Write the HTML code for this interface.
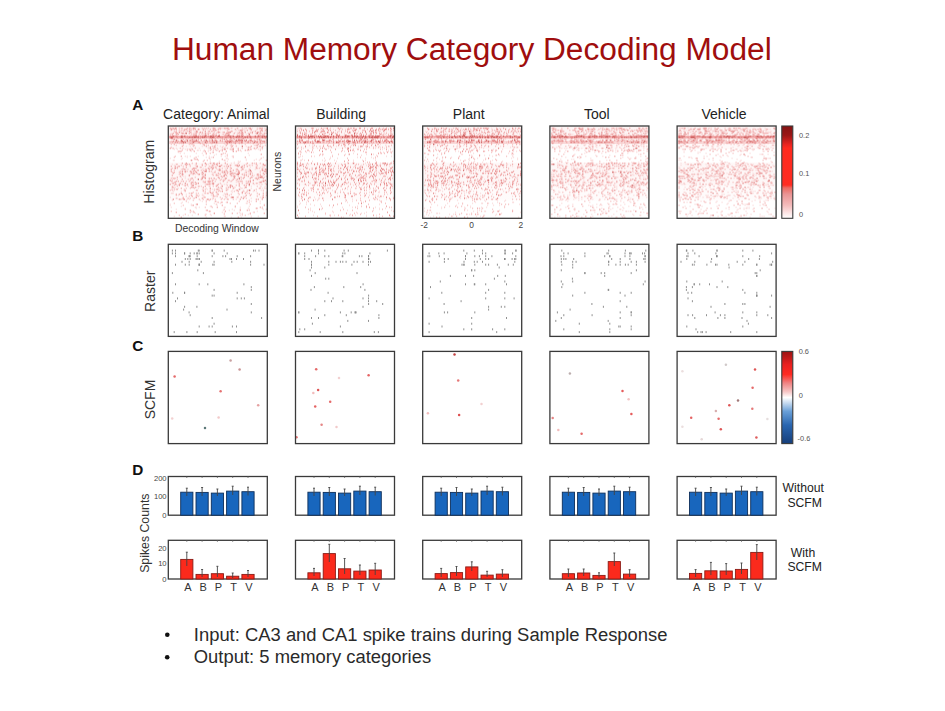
<!DOCTYPE html><html><head><meta charset="utf-8"><style>
html,body{margin:0;padding:0;background:#fff;}
body{width:945px;height:711px;overflow:hidden;position:relative;font-family:"Liberation Sans",sans-serif;}
svg{position:absolute;left:0;top:0;}
svg text{font-family:"Liberation Sans",sans-serif;}
</style></head><body>
<svg width="945" height="711" viewBox="0 0 945 711">
<defs>
<filter id="bl" x="-5%" y="-5%" width="110%" height="110%"><feGaussianBlur stdDeviation="0.8"/></filter>
<filter id="bl2" x="-50%" y="-50%" width="200%" height="200%"><feGaussianBlur stdDeviation="0.8"/></filter>
<linearGradient id="cbA" x1="0" y1="1" x2="0" y2="0">
<stop offset="0" stop-color="#ffffff"/>
<stop offset="0.06" stop-color="#fce4e4"/>
<stop offset="0.14" stop-color="#f4bcbc"/>
<stop offset="0.26" stop-color="#ea9494"/>
<stop offset="0.33" stop-color="#ec6a62"/>
<stop offset="0.36" stop-color="#ff2c22"/>
<stop offset="0.76" stop-color="#ff2a1f"/>
<stop offset="0.80" stop-color="#e82420"/>
<stop offset="0.90" stop-color="#9a1616"/>
<stop offset="1" stop-color="#841212"/>
</linearGradient>
<linearGradient id="cbC" x1="0" y1="1" x2="0" y2="0">
<stop offset="0" stop-color="#163e7a"/>
<stop offset="0.2" stop-color="#2a66b0"/>
<stop offset="0.35" stop-color="#6aa0d8"/>
<stop offset="0.45" stop-color="#cfe0f2"/>
<stop offset="0.5" stop-color="#ffffff"/>
<stop offset="0.56" stop-color="#f6c8c8"/>
<stop offset="0.66" stop-color="#f08080"/>
<stop offset="0.75" stop-color="#ff2a22"/>
<stop offset="0.86" stop-color="#e82020"/>
<stop offset="1" stop-color="#9a1414"/>
</linearGradient>
<linearGradient id="haze" x1="0" y1="0" x2="0" y2="1">
<stop offset="0.0000" stop-color="#e03030" stop-opacity="0.05"/>
<stop offset="0.0945" stop-color="#e03030" stop-opacity="0.05"/>
<stop offset="0.1011" stop-color="#e03030" stop-opacity="0.40"/>
<stop offset="0.1253" stop-color="#e03030" stop-opacity="0.40"/>
<stop offset="0.1319" stop-color="#e03030" stop-opacity="0.06"/>
<stop offset="0.1516" stop-color="#e03030" stop-opacity="0.06"/>
<stop offset="0.1582" stop-color="#e03030" stop-opacity="0.18"/>
<stop offset="0.1846" stop-color="#e03030" stop-opacity="0.18"/>
<stop offset="0.1912" stop-color="#e03030" stop-opacity="0.03"/>
<stop offset="0.2418" stop-color="#e03030" stop-opacity="0.03"/>
<stop offset="0.2527" stop-color="#e03030" stop-opacity="0.00"/>
<stop offset="0.3846" stop-color="#e03030" stop-opacity="0.00"/>
<stop offset="0.4066" stop-color="#e03030" stop-opacity="0.04"/>
<stop offset="0.6374" stop-color="#e03030" stop-opacity="0.04"/>
<stop offset="0.6593" stop-color="#e03030" stop-opacity="0.02"/>
<stop offset="0.7912" stop-color="#e03030" stop-opacity="0.02"/>
<stop offset="0.8242" stop-color="#e03030" stop-opacity="0.00"/>
<stop offset="1.0000" stop-color="#e03030" stop-opacity="0.00"/>
</linearGradient>
</defs>
<rect width="945" height="711" fill="#fff"/>

<text x="471.85" y="59.9" text-anchor="middle" font-size="31.65" fill="#a00e0e">Human Memory Category Decoding Model</text>
<text x="132.3" y="110" font-size="15.3" font-weight="bold" fill="#111">A</text>
<text x="132.3" y="241" font-size="15.3" font-weight="bold" fill="#111">B</text>
<text x="132.3" y="350.5" font-size="15.3" font-weight="bold" fill="#111">C</text>
<text x="132.3" y="475" font-size="15.3" font-weight="bold" fill="#111">D</text>
<text x="216.4" y="119" text-anchor="middle" font-size="14" fill="#222">Category: Animal</text>
<text x="341.1" y="119" text-anchor="middle" font-size="14" fill="#222">Building</text>
<text x="468.8" y="119" text-anchor="middle" font-size="14" fill="#222">Plant</text>
<text x="596.8" y="119" text-anchor="middle" font-size="14" fill="#222">Tool</text>
<text x="724.0" y="119" text-anchor="middle" font-size="14" fill="#222">Vehicle</text>
<text transform="translate(154.0,171.8) rotate(-90)" text-anchor="middle" font-size="14" fill="#333">Histogram</text>
<text transform="translate(155.0,291.3) rotate(-90)" text-anchor="middle" font-size="14" fill="#333">Raster</text>
<text transform="translate(155.0,399.5) rotate(-90)" text-anchor="middle" font-size="14" fill="#333">SCFM</text>
<text transform="translate(149.2,533.2) rotate(-90)" text-anchor="middle" font-size="12.3" fill="#333">Spikes Counts</text>
<text transform="translate(280.5,171.7) rotate(-90)" text-anchor="middle" font-size="10.5" fill="#333">Neurons</text>
<text x="216.8" y="232" text-anchor="middle" font-size="10.4" fill="#333">Decoding Window</text>
<text x="424.2" y="228.0" text-anchor="middle" font-size="8.4" fill="#444">-2</text>
<text x="471.6" y="228.0" text-anchor="middle" font-size="8.4" fill="#444">0</text>
<text x="520.8" y="228.0" text-anchor="middle" font-size="8.4" fill="#444">2</text>
<rect x="169.1" y="126.8" width="97.4" height="90.7" fill="url(#haze)"/>
<g>
<path fill="#fadcdc" d="M170.8 127.5h.9v1.8h-.9zM190.8 127.5h.9v1.8h-.9zM211.8 127.5h.9v1.8h-.9zM214.8 127.5h.9v1.8h-.9zM217.8 127.5h.9v1.8h-.9zM220.8 127.5h.9v1.8h-.9zM221.8 127.5h.9v1.8h-.9zM231.8 127.5h.9v1.8h-.9zM237.8 127.5h.9v1.8h-.9zM243.8 127.5h.9v1.8h-.9zM244.8 127.5h.9v1.8h-.9zM247.8 127.5h.9v1.8h-.9zM251.8 127.5h.9v1.8h-.9zM263.8 127.5h.9v1.8h-.9zM264.8 127.5h.9v1.8h-.9zM181.8 128.5h.9v1.8h-.9zM206.8 128.5h.9v1.8h-.9zM224.8 128.5h.9v1.8h-.9zM237.8 128.5h.9v1.8h-.9zM241.8 128.5h.9v1.8h-.9zM242.8 128.5h.9v1.8h-.9zM243.8 128.5h.9v1.8h-.9zM258.8 128.5h.9v1.8h-.9zM261.8 128.5h.9v1.8h-.9zM181.8 129.5h.9v1.8h-.9zM192.8 129.5h.9v1.8h-.9zM213.8 129.5h.9v1.8h-.9zM235.8 129.5h.9v1.8h-.9zM237.8 129.5h.9v1.8h-.9zM238.8 129.5h.9v1.8h-.9zM243.8 129.5h.9v1.8h-.9zM244.8 129.5h.9v1.8h-.9zM255.8 129.5h.9v1.8h-.9zM179.8 130.5h.9v1.8h-.9zM184.8 130.5h.9v1.8h-.9zM185.8 130.5h.9v1.8h-.9zM193.8 130.5h.9v1.8h-.9zM243.8 130.5h.9v1.8h-.9zM244.8 130.5h.9v1.8h-.9zM252.8 130.5h.9v1.8h-.9zM263.8 130.5h.9v1.8h-.9zM193.8 131.5h.9v1.8h-.9zM216.8 131.5h.9v1.8h-.9zM219.8 131.5h.9v1.8h-.9zM221.8 131.5h.9v1.8h-.9zM226.8 131.5h.9v1.8h-.9zM234.8 131.5h.9v1.8h-.9zM236.8 131.5h.9v1.8h-.9zM240.8 131.5h.9v1.8h-.9zM170.8 132.5h.9v1.8h-.9zM192.8 132.5h.9v1.8h-.9zM202.8 132.5h.9v1.8h-.9zM205.8 132.5h.9v1.8h-.9zM206.8 132.5h.9v1.8h-.9zM208.8 132.5h.9v1.8h-.9zM217.8 132.5h.9v1.8h-.9zM238.8 132.5h.9v1.8h-.9zM239.8 132.5h.9v1.8h-.9zM249.8 132.5h.9v1.8h-.9zM254.8 132.5h.9v1.8h-.9zM258.8 132.5h.9v1.8h-.9zM264.8 132.5h.9v1.8h-.9zM181.8 133.5h.9v1.8h-.9zM183.8 133.5h.9v1.8h-.9zM200.8 133.5h.9v1.8h-.9zM201.8 133.5h.9v1.8h-.9zM204.8 133.5h.9v1.8h-.9zM211.8 133.5h.9v1.8h-.9zM214.8 133.5h.9v1.8h-.9zM221.8 133.5h.9v1.8h-.9zM227.8 133.5h.9v1.8h-.9zM232.8 133.5h.9v1.8h-.9zM240.8 133.5h.9v1.8h-.9zM245.8 133.5h.9v1.8h-.9zM255.8 133.5h.9v1.8h-.9zM188.8 134.5h.9v1.8h-.9zM198.8 134.5h.9v1.8h-.9zM214.8 136.5h.9v1.8h-.9zM175.8 137.5h.9v1.8h-.9zM203.8 137.5h.9v1.8h-.9zM229.8 137.5h.9v1.8h-.9zM243.8 137.5h.9v1.8h-.9zM175.8 138.5h.9v1.8h-.9zM235.8 138.5h.9v1.8h-.9zM245.8 138.5h.9v1.8h-.9zM259.8 138.5h.9v1.8h-.9zM193.8 139.5h.9v1.8h-.9zM194.8 139.5h.9v1.8h-.9zM209.8 140.5h.9v1.8h-.9zM252.8 140.5h.9v1.8h-.9zM255.8 140.5h.9v1.8h-.9zM258.8 140.5h.9v1.8h-.9zM227.8 142.5h.9v1.8h-.9zM228.8 142.5h.9v1.8h-.9zM249.8 142.5h.9v1.8h-.9zM255.8 142.5h.9v1.8h-.9zM190.8 143.5h.9v1.8h-.9zM191.8 143.5h.9v1.8h-.9zM192.8 143.5h.9v1.8h-.9zM224.8 143.5h.9v1.8h-.9zM205.8 144.5h.9v1.8h-.9zM216.8 144.5h.9v1.8h-.9zM229.8 144.5h.9v1.8h-.9zM230.8 144.5h.9v1.8h-.9zM231.8 144.5h.9v1.8h-.9zM232.8 144.5h.9v1.8h-.9zM235.8 144.5h.9v1.8h-.9zM253.8 144.5h.9v1.8h-.9zM254.8 144.5h.9v1.8h-.9zM185.8 145.5h.9v1.8h-.9zM189.8 145.5h.9v1.8h-.9zM201.8 145.5h.9v1.8h-.9zM214.8 145.5h.9v1.8h-.9zM219.8 145.5h.9v1.8h-.9zM222.8 145.5h.9v1.8h-.9zM245.8 145.5h.9v1.8h-.9zM261.8 145.5h.9v1.8h-.9zM262.8 145.5h.9v1.8h-.9zM194.8 146.5h.9v1.8h-.9zM207.8 146.5h.9v1.8h-.9zM224.8 146.5h.9v1.8h-.9zM248.8 146.5h.9v1.8h-.9zM171.8 147.5h.9v1.8h-.9zM175.8 147.5h.9v1.8h-.9zM182.8 147.5h.9v1.8h-.9zM190.8 147.5h.9v1.8h-.9zM198.8 147.5h.9v1.8h-.9zM207.8 147.5h.9v1.8h-.9zM213.8 147.5h.9v1.8h-.9zM173.8 148.5h.9v1.8h-.9zM176.8 148.5h.9v1.8h-.9zM184.8 148.5h.9v1.8h-.9zM189.8 148.5h.9v1.8h-.9zM217.8 148.5h.9v1.8h-.9zM230.8 148.5h.9v1.8h-.9zM254.8 148.5h.9v1.8h-.9zM257.8 148.5h.9v1.8h-.9zM261.8 148.5h.9v1.8h-.9zM190.8 149.5h.9v1.8h-.9zM192.8 149.5h.9v1.8h-.9zM196.8 149.5h.9v1.8h-.9zM197.8 149.5h.9v1.8h-.9zM199.8 149.5h.9v1.8h-.9zM207.8 149.5h.9v1.8h-.9zM216.8 149.5h.9v1.8h-.9zM219.8 149.5h.9v1.8h-.9zM231.8 149.5h.9v1.8h-.9zM247.8 149.5h.9v1.8h-.9zM248.8 149.5h.9v1.8h-.9zM190.8 150.5h.9v1.8h-.9zM202.8 150.5h.9v1.8h-.9zM207.8 150.5h.9v1.8h-.9zM221.8 150.5h.9v1.8h-.9zM240.8 150.5h.9v1.8h-.9zM177.8 151.5h.9v1.8h-.9zM204.8 151.5h.9v1.8h-.9zM211.8 151.5h.9v1.8h-.9zM179.8 152.5h.9v1.8h-.9zM183.8 152.5h.9v1.8h-.9zM195.8 152.5h.9v1.8h-.9zM201.8 152.5h.9v1.8h-.9zM247.8 152.5h.9v1.8h-.9zM205.8 153.5h.9v1.8h-.9zM215.8 153.5h.9v1.8h-.9zM221.8 153.5h.9v1.8h-.9zM226.8 153.5h.9v1.8h-.9zM202.8 154.5h.9v1.8h-.9zM213.8 154.5h.9v1.8h-.9zM248.8 154.5h.9v1.8h-.9zM184.8 155.5h.9v1.8h-.9zM186.8 155.5h.9v1.8h-.9zM189.8 155.5h.9v1.8h-.9zM197.8 155.5h.9v1.8h-.9zM208.8 155.5h.9v1.8h-.9zM220.8 155.5h.9v1.8h-.9zM224.8 155.5h.9v1.8h-.9zM226.8 155.5h.9v1.8h-.9zM231.8 155.5h.9v1.8h-.9zM186.8 156.5h.9v1.8h-.9zM194.8 156.5h.9v1.8h-.9zM205.8 156.5h.9v1.8h-.9zM208.8 156.5h.9v1.8h-.9zM210.8 156.5h.9v1.8h-.9zM262.8 156.5h.9v1.8h-.9zM169.8 157.5h.9v1.8h-.9zM181.8 157.5h.9v1.8h-.9zM225.8 157.5h.9v1.8h-.9zM226.8 157.5h.9v1.8h-.9zM180.8 158.5h.9v1.8h-.9zM193.8 158.5h.9v1.8h-.9zM195.8 158.5h.9v1.8h-.9zM209.8 158.5h.9v1.8h-.9zM227.8 158.5h.9v1.8h-.9zM245.8 158.5h.9v1.8h-.9zM255.8 158.5h.9v1.8h-.9zM259.8 158.5h.9v1.8h-.9zM172.8 159.5h.9v1.8h-.9zM173.8 159.5h.9v1.8h-.9zM191.8 159.5h.9v1.8h-.9zM224.8 159.5h.9v1.8h-.9zM245.8 159.5h.9v1.8h-.9zM253.8 159.5h.9v1.8h-.9zM258.8 159.5h.9v1.8h-.9zM209.8 160.5h.9v1.8h-.9zM218.8 160.5h.9v1.8h-.9zM226.8 160.5h.9v1.8h-.9zM237.8 160.5h.9v1.8h-.9zM239.8 160.5h.9v1.8h-.9zM224.8 161.5h.9v1.8h-.9zM233.8 161.5h.9v1.8h-.9zM238.8 161.5h.9v1.8h-.9zM210.8 162.5h.9v1.8h-.9zM230.8 162.5h.9v1.8h-.9zM233.8 162.5h.9v1.8h-.9zM171.8 163.5h.9v1.8h-.9zM207.8 163.5h.9v1.8h-.9zM173.8 164.5h.9v1.8h-.9zM194.8 164.5h.9v1.8h-.9zM205.8 164.5h.9v1.8h-.9zM221.8 164.5h.9v1.8h-.9zM225.8 164.5h.9v1.8h-.9zM230.8 164.5h.9v1.8h-.9zM249.8 164.5h.9v1.8h-.9zM262.8 164.5h.9v1.8h-.9zM209.8 165.5h.9v1.8h-.9zM214.8 165.5h.9v1.8h-.9zM243.8 165.5h.9v1.8h-.9zM255.8 165.5h.9v1.8h-.9zM256.8 165.5h.9v1.8h-.9zM261.8 165.5h.9v1.8h-.9zM196.8 166.5h.9v1.8h-.9zM226.8 166.5h.9v1.8h-.9zM249.8 166.5h.9v1.8h-.9zM259.8 166.5h.9v1.8h-.9zM262.8 166.5h.9v1.8h-.9zM263.8 166.5h.9v1.8h-.9zM173.8 167.5h.9v1.8h-.9zM202.8 167.5h.9v1.8h-.9zM208.8 167.5h.9v1.8h-.9zM209.8 167.5h.9v1.8h-.9zM224.8 167.5h.9v1.8h-.9zM242.8 167.5h.9v1.8h-.9zM262.8 167.5h.9v1.8h-.9zM180.8 168.5h.9v1.8h-.9zM182.8 168.5h.9v1.8h-.9zM186.8 168.5h.9v1.8h-.9zM187.8 168.5h.9v1.8h-.9zM201.8 168.5h.9v1.8h-.9zM216.8 168.5h.9v1.8h-.9zM254.8 168.5h.9v1.8h-.9zM170.8 169.5h.9v1.8h-.9zM217.8 169.5h.9v1.8h-.9zM221.8 169.5h.9v1.8h-.9zM224.8 169.5h.9v1.8h-.9zM244.8 169.5h.9v1.8h-.9zM245.8 169.5h.9v1.8h-.9zM183.8 170.5h.9v1.8h-.9zM185.8 170.5h.9v1.8h-.9zM225.8 170.5h.9v1.8h-.9zM248.8 170.5h.9v1.8h-.9zM211.8 171.5h.9v1.8h-.9zM227.8 171.5h.9v1.8h-.9zM229.8 171.5h.9v1.8h-.9zM231.8 171.5h.9v1.8h-.9zM244.8 171.5h.9v1.8h-.9zM250.8 171.5h.9v1.8h-.9zM264.8 171.5h.9v1.8h-.9zM189.8 172.5h.9v1.8h-.9zM191.8 172.5h.9v1.8h-.9zM200.8 172.5h.9v1.8h-.9zM212.8 172.5h.9v1.8h-.9zM219.8 172.5h.9v1.8h-.9zM222.8 172.5h.9v1.8h-.9zM243.8 172.5h.9v1.8h-.9zM247.8 172.5h.9v1.8h-.9zM189.8 173.5h.9v1.8h-.9zM191.8 173.5h.9v1.8h-.9zM194.8 173.5h.9v1.8h-.9zM202.8 173.5h.9v1.8h-.9zM212.8 173.5h.9v1.8h-.9zM218.8 173.5h.9v1.8h-.9zM247.8 173.5h.9v1.8h-.9zM201.8 174.5h.9v1.8h-.9zM231.8 174.5h.9v1.8h-.9zM233.8 174.5h.9v1.8h-.9zM253.8 174.5h.9v1.8h-.9zM262.8 174.5h.9v1.8h-.9zM182.8 175.5h.9v1.8h-.9zM184.8 175.5h.9v1.8h-.9zM188.8 175.5h.9v1.8h-.9zM203.8 175.5h.9v1.8h-.9zM226.8 175.5h.9v1.8h-.9zM230.8 175.5h.9v1.8h-.9zM252.8 175.5h.9v1.8h-.9zM171.8 176.5h.9v1.8h-.9zM180.8 176.5h.9v1.8h-.9zM184.8 176.5h.9v1.8h-.9zM218.8 176.5h.9v1.8h-.9zM239.8 176.5h.9v1.8h-.9zM255.8 176.5h.9v1.8h-.9zM184.8 177.5h.9v1.8h-.9zM212.8 177.5h.9v1.8h-.9zM234.8 177.5h.9v1.8h-.9zM171.8 178.5h.9v1.8h-.9zM173.8 178.5h.9v1.8h-.9zM190.8 178.5h.9v1.8h-.9zM192.8 178.5h.9v1.8h-.9zM201.8 178.5h.9v1.8h-.9zM214.8 178.5h.9v1.8h-.9zM222.8 178.5h.9v1.8h-.9zM258.8 178.5h.9v1.8h-.9zM206.8 180.5h.9v1.8h-.9zM229.8 180.5h.9v1.8h-.9zM236.8 180.5h.9v1.8h-.9zM238.8 180.5h.9v1.8h-.9zM260.8 180.5h.9v1.8h-.9zM261.8 180.5h.9v1.8h-.9zM265.8 180.5h.9v1.8h-.9zM202.8 181.5h.9v1.8h-.9zM235.8 181.5h.9v1.8h-.9zM237.8 181.5h.9v1.8h-.9zM241.8 181.5h.9v1.8h-.9zM213.8 182.5h.9v1.8h-.9zM248.8 182.5h.9v1.8h-.9zM204.8 183.5h.9v1.8h-.9zM211.8 183.5h.9v1.8h-.9zM220.8 183.5h.9v1.8h-.9zM223.8 183.5h.9v1.8h-.9zM225.8 183.5h.9v1.8h-.9zM253.8 183.5h.9v1.8h-.9zM258.8 183.5h.9v1.8h-.9zM260.8 183.5h.9v1.8h-.9zM261.8 183.5h.9v1.8h-.9zM176.8 184.5h.9v1.8h-.9zM183.8 184.5h.9v1.8h-.9zM190.8 184.5h.9v1.8h-.9zM215.8 184.5h.9v1.8h-.9zM221.8 184.5h.9v1.8h-.9zM184.8 185.5h.9v1.8h-.9zM187.8 185.5h.9v1.8h-.9zM191.8 185.5h.9v1.8h-.9zM209.8 185.5h.9v1.8h-.9zM220.8 185.5h.9v1.8h-.9zM250.8 185.5h.9v1.8h-.9zM259.8 185.5h.9v1.8h-.9zM260.8 185.5h.9v1.8h-.9zM264.8 185.5h.9v1.8h-.9zM174.8 186.5h.9v1.8h-.9zM195.8 186.5h.9v1.8h-.9zM219.8 186.5h.9v1.8h-.9zM225.8 186.5h.9v1.8h-.9zM232.8 186.5h.9v1.8h-.9zM233.8 186.5h.9v1.8h-.9zM234.8 186.5h.9v1.8h-.9zM239.8 186.5h.9v1.8h-.9zM259.8 186.5h.9v1.8h-.9zM263.8 186.5h.9v1.8h-.9zM177.8 187.5h.9v1.8h-.9zM197.8 187.5h.9v1.8h-.9zM202.8 187.5h.9v1.8h-.9zM205.8 187.5h.9v1.8h-.9zM218.8 187.5h.9v1.8h-.9zM233.8 187.5h.9v1.8h-.9zM240.8 187.5h.9v1.8h-.9zM241.8 187.5h.9v1.8h-.9zM243.8 187.5h.9v1.8h-.9zM250.8 187.5h.9v1.8h-.9zM261.8 187.5h.9v1.8h-.9zM263.8 187.5h.9v1.8h-.9zM264.8 187.5h.9v1.8h-.9zM265.8 187.5h.9v1.8h-.9zM170.8 188.5h.9v1.8h-.9zM201.8 188.5h.9v1.8h-.9zM206.8 188.5h.9v1.8h-.9zM209.8 188.5h.9v1.8h-.9zM211.8 188.5h.9v1.8h-.9zM227.8 188.5h.9v1.8h-.9zM239.8 188.5h.9v1.8h-.9zM173.8 189.5h.9v1.8h-.9zM226.8 189.5h.9v1.8h-.9zM231.8 189.5h.9v1.8h-.9zM242.8 189.5h.9v1.8h-.9zM260.8 189.5h.9v1.8h-.9zM172.8 190.5h.9v1.8h-.9zM180.8 190.5h.9v1.8h-.9zM208.8 190.5h.9v1.8h-.9zM215.8 190.5h.9v1.8h-.9zM230.8 190.5h.9v1.8h-.9zM243.8 190.5h.9v1.8h-.9zM252.8 190.5h.9v1.8h-.9zM255.8 190.5h.9v1.8h-.9zM262.8 190.5h.9v1.8h-.9zM204.8 191.5h.9v1.8h-.9zM211.8 191.5h.9v1.8h-.9zM231.8 191.5h.9v1.8h-.9zM170.8 192.5h.9v1.8h-.9zM171.8 192.5h.9v1.8h-.9zM172.8 192.5h.9v1.8h-.9zM203.8 192.5h.9v1.8h-.9zM223.8 192.5h.9v1.8h-.9zM225.8 192.5h.9v1.8h-.9zM226.8 192.5h.9v1.8h-.9zM246.8 192.5h.9v1.8h-.9zM185.8 193.5h.9v1.8h-.9zM201.8 193.5h.9v1.8h-.9zM225.8 193.5h.9v1.8h-.9zM177.8 194.5h.9v1.8h-.9zM181.8 194.5h.9v1.8h-.9zM198.8 194.5h.9v1.8h-.9zM201.8 194.5h.9v1.8h-.9zM202.8 194.5h.9v1.8h-.9zM210.8 194.5h.9v1.8h-.9zM215.8 194.5h.9v1.8h-.9zM222.8 194.5h.9v1.8h-.9zM256.8 194.5h.9v1.8h-.9zM203.8 195.5h.9v1.8h-.9zM214.8 195.5h.9v1.8h-.9zM215.8 195.5h.9v1.8h-.9zM226.8 195.5h.9v1.8h-.9zM237.8 195.5h.9v1.8h-.9zM242.8 195.5h.9v1.8h-.9zM261.8 195.5h.9v1.8h-.9zM169.8 196.5h.9v1.8h-.9zM194.8 196.5h.9v1.8h-.9zM202.8 196.5h.9v1.8h-.9zM237.8 196.5h.9v1.8h-.9zM259.8 196.5h.9v1.8h-.9zM264.8 196.5h.9v1.8h-.9zM176.8 197.5h.9v1.8h-.9zM181.8 197.5h.9v1.8h-.9zM186.8 197.5h.9v1.8h-.9zM192.8 197.5h.9v1.8h-.9zM211.8 197.5h.9v1.8h-.9zM224.8 197.5h.9v1.8h-.9zM226.8 197.5h.9v1.8h-.9zM250.8 197.5h.9v1.8h-.9zM180.8 198.5h.9v1.8h-.9zM186.8 198.5h.9v1.8h-.9zM188.8 198.5h.9v1.8h-.9zM211.8 198.5h.9v1.8h-.9zM235.8 198.5h.9v1.8h-.9zM171.8 199.5h.9v1.8h-.9zM185.8 199.5h.9v1.8h-.9zM199.8 199.5h.9v1.8h-.9zM205.8 199.5h.9v1.8h-.9zM201.8 200.5h.9v1.8h-.9zM215.8 200.5h.9v1.8h-.9zM250.8 200.5h.9v1.8h-.9zM259.8 200.5h.9v1.8h-.9zM181.8 201.5h.9v1.8h-.9zM187.8 201.5h.9v1.8h-.9zM205.8 201.5h.9v1.8h-.9zM216.8 201.5h.9v1.8h-.9zM225.8 201.5h.9v1.8h-.9zM180.8 202.5h.9v1.8h-.9zM213.8 202.5h.9v1.8h-.9zM219.8 202.5h.9v1.8h-.9zM245.8 202.5h.9v1.8h-.9zM246.8 202.5h.9v1.8h-.9zM259.8 202.5h.9v1.8h-.9zM169.8 203.5h.9v1.8h-.9zM190.8 203.5h.9v1.8h-.9zM263.8 203.5h.9v1.8h-.9zM169.8 204.5h.9v1.8h-.9zM190.8 204.5h.9v1.8h-.9zM191.8 204.5h.9v1.8h-.9zM216.8 204.5h.9v1.8h-.9zM180.8 205.5h.9v1.8h-.9zM209.8 205.5h.9v1.8h-.9zM248.8 205.5h.9v1.8h-.9zM170.8 206.5h.9v1.8h-.9zM194.8 206.5h.9v1.8h-.9zM195.8 206.5h.9v1.8h-.9zM198.8 206.5h.9v1.8h-.9zM223.8 206.5h.9v1.8h-.9zM224.8 206.5h.9v1.8h-.9zM234.8 206.5h.9v1.8h-.9zM239.8 206.5h.9v1.8h-.9zM184.8 207.5h.9v1.8h-.9zM195.8 207.5h.9v1.8h-.9zM247.8 207.5h.9v1.8h-.9zM175.8 208.5h.9v1.8h-.9zM231.8 208.5h.9v1.8h-.9zM248.8 208.5h.9v1.8h-.9zM262.8 208.5h.9v1.8h-.9zM222.8 209.5h.9v1.8h-.9zM228.8 209.5h.9v1.8h-.9zM233.8 209.5h.9v1.8h-.9zM190.8 210.5h.9v1.8h-.9zM256.8 210.5h.9v1.8h-.9zM192.8 211.5h.9v1.8h-.9zM221.8 211.5h.9v1.8h-.9zM238.8 211.5h.9v1.8h-.9zM252.8 211.5h.9v1.8h-.9zM194.8 212.5h.9v1.8h-.9zM239.8 212.5h.9v1.8h-.9zM241.8 212.5h.9v1.8h-.9zM204.8 213.5h.9v1.8h-.9zM205.8 213.5h.9v1.8h-.9zM209.8 213.5h.9v1.8h-.9zM247.8 213.5h.9v1.8h-.9zM249.8 213.5h.9v1.8h-.9zM182.8 214.5h.9v1.8h-.9zM187.8 214.5h.9v1.8h-.9zM191.8 214.5h.9v1.8h-.9zM210.8 214.5h.9v1.8h-.9zM239.8 214.5h.9v1.8h-.9zM241.8 214.5h.9v1.8h-.9zM173.8 215.5h.9v1.8h-.9zM223.8 215.5h.9v1.8h-.9zM224.8 215.5h.9v1.8h-.9zM250.8 215.5h.9v1.8h-.9zM257.8 215.5h.9v1.8h-.9zM205.8 216.5h.9v1.8h-.9zM230.8 216.5h.9v1.8h-.9zM240.8 216.5h.9v1.8h-.9zM250.8 216.5h.9v1.8h-.9z"/>
<path fill="#f5c0c0" d="M171.8 127.5h.9v1.8h-.9zM178.8 127.5h.9v1.8h-.9zM180.8 127.5h.9v1.8h-.9zM181.8 127.5h.9v1.8h-.9zM189.8 127.5h.9v1.8h-.9zM194.8 127.5h.9v1.8h-.9zM201.8 127.5h.9v1.8h-.9zM203.8 127.5h.9v1.8h-.9zM205.8 127.5h.9v1.8h-.9zM207.8 127.5h.9v1.8h-.9zM218.8 127.5h.9v1.8h-.9zM224.8 127.5h.9v1.8h-.9zM225.8 127.5h.9v1.8h-.9zM230.8 127.5h.9v1.8h-.9zM241.8 127.5h.9v1.8h-.9zM245.8 127.5h.9v1.8h-.9zM248.8 127.5h.9v1.8h-.9zM256.8 127.5h.9v1.8h-.9zM258.8 127.5h.9v1.8h-.9zM260.8 127.5h.9v1.8h-.9zM171.8 128.5h.9v1.8h-.9zM178.8 128.5h.9v1.8h-.9zM183.8 128.5h.9v1.8h-.9zM184.8 128.5h.9v1.8h-.9zM190.8 128.5h.9v1.8h-.9zM192.8 128.5h.9v1.8h-.9zM198.8 128.5h.9v1.8h-.9zM204.8 128.5h.9v1.8h-.9zM212.8 128.5h.9v1.8h-.9zM213.8 128.5h.9v1.8h-.9zM219.8 128.5h.9v1.8h-.9zM228.8 128.5h.9v1.8h-.9zM249.8 128.5h.9v1.8h-.9zM256.8 128.5h.9v1.8h-.9zM170.8 129.5h.9v1.8h-.9zM175.8 129.5h.9v1.8h-.9zM178.8 129.5h.9v1.8h-.9zM180.8 129.5h.9v1.8h-.9zM186.8 129.5h.9v1.8h-.9zM189.8 129.5h.9v1.8h-.9zM190.8 129.5h.9v1.8h-.9zM202.8 129.5h.9v1.8h-.9zM215.8 129.5h.9v1.8h-.9zM226.8 129.5h.9v1.8h-.9zM250.8 129.5h.9v1.8h-.9zM264.8 129.5h.9v1.8h-.9zM265.8 129.5h.9v1.8h-.9zM173.8 130.5h.9v1.8h-.9zM175.8 130.5h.9v1.8h-.9zM182.8 130.5h.9v1.8h-.9zM186.8 130.5h.9v1.8h-.9zM207.8 130.5h.9v1.8h-.9zM210.8 130.5h.9v1.8h-.9zM211.8 130.5h.9v1.8h-.9zM213.8 130.5h.9v1.8h-.9zM217.8 130.5h.9v1.8h-.9zM226.8 130.5h.9v1.8h-.9zM231.8 130.5h.9v1.8h-.9zM261.8 130.5h.9v1.8h-.9zM265.8 130.5h.9v1.8h-.9zM174.8 131.5h.9v1.8h-.9zM180.8 131.5h.9v1.8h-.9zM190.8 131.5h.9v1.8h-.9zM195.8 131.5h.9v1.8h-.9zM196.8 131.5h.9v1.8h-.9zM207.8 131.5h.9v1.8h-.9zM213.8 131.5h.9v1.8h-.9zM222.8 131.5h.9v1.8h-.9zM249.8 131.5h.9v1.8h-.9zM259.8 131.5h.9v1.8h-.9zM175.8 132.5h.9v1.8h-.9zM180.8 132.5h.9v1.8h-.9zM190.8 132.5h.9v1.8h-.9zM194.8 132.5h.9v1.8h-.9zM198.8 132.5h.9v1.8h-.9zM201.8 132.5h.9v1.8h-.9zM207.8 132.5h.9v1.8h-.9zM209.8 132.5h.9v1.8h-.9zM212.8 132.5h.9v1.8h-.9zM215.8 132.5h.9v1.8h-.9zM237.8 132.5h.9v1.8h-.9zM241.8 132.5h.9v1.8h-.9zM242.8 132.5h.9v1.8h-.9zM247.8 132.5h.9v1.8h-.9zM251.8 132.5h.9v1.8h-.9zM255.8 132.5h.9v1.8h-.9zM260.8 132.5h.9v1.8h-.9zM169.8 133.5h.9v1.8h-.9zM190.8 133.5h.9v1.8h-.9zM192.8 133.5h.9v1.8h-.9zM193.8 133.5h.9v1.8h-.9zM198.8 133.5h.9v1.8h-.9zM213.8 133.5h.9v1.8h-.9zM222.8 133.5h.9v1.8h-.9zM224.8 133.5h.9v1.8h-.9zM236.8 133.5h.9v1.8h-.9zM238.8 133.5h.9v1.8h-.9zM258.8 133.5h.9v1.8h-.9zM261.8 133.5h.9v1.8h-.9zM263.8 133.5h.9v1.8h-.9zM171.8 134.5h.9v1.8h-.9zM176.8 134.5h.9v1.8h-.9zM190.8 134.5h.9v1.8h-.9zM192.8 134.5h.9v1.8h-.9zM202.8 134.5h.9v1.8h-.9zM213.8 134.5h.9v1.8h-.9zM226.8 134.5h.9v1.8h-.9zM236.8 134.5h.9v1.8h-.9zM238.8 134.5h.9v1.8h-.9zM248.8 134.5h.9v1.8h-.9zM202.8 135.5h.9v1.8h-.9zM198.8 136.5h.9v1.8h-.9zM177.8 137.5h.9v1.8h-.9zM192.8 137.5h.9v1.8h-.9zM197.8 137.5h.9v1.8h-.9zM208.8 137.5h.9v1.8h-.9zM217.8 137.5h.9v1.8h-.9zM259.8 137.5h.9v1.8h-.9zM172.8 138.5h.9v1.8h-.9zM185.8 138.5h.9v1.8h-.9zM193.8 138.5h.9v1.8h-.9zM195.8 138.5h.9v1.8h-.9zM240.8 138.5h.9v1.8h-.9zM176.8 139.5h.9v1.8h-.9zM181.8 139.5h.9v1.8h-.9zM184.8 139.5h.9v1.8h-.9zM188.8 139.5h.9v1.8h-.9zM190.8 139.5h.9v1.8h-.9zM204.8 139.5h.9v1.8h-.9zM209.8 139.5h.9v1.8h-.9zM213.8 139.5h.9v1.8h-.9zM225.8 139.5h.9v1.8h-.9zM248.8 139.5h.9v1.8h-.9zM258.8 139.5h.9v1.8h-.9zM259.8 139.5h.9v1.8h-.9zM170.8 140.5h.9v1.8h-.9zM189.8 140.5h.9v1.8h-.9zM190.8 140.5h.9v1.8h-.9zM202.8 140.5h.9v1.8h-.9zM204.8 140.5h.9v1.8h-.9zM219.8 140.5h.9v1.8h-.9zM225.8 140.5h.9v1.8h-.9zM249.8 140.5h.9v1.8h-.9zM169.8 141.5h.9v1.8h-.9zM178.8 141.5h.9v1.8h-.9zM179.8 141.5h.9v1.8h-.9zM183.8 141.5h.9v1.8h-.9zM188.8 141.5h.9v1.8h-.9zM190.8 141.5h.9v1.8h-.9zM193.8 141.5h.9v1.8h-.9zM201.8 141.5h.9v1.8h-.9zM233.8 141.5h.9v1.8h-.9zM234.8 141.5h.9v1.8h-.9zM235.8 141.5h.9v1.8h-.9zM237.8 141.5h.9v1.8h-.9zM265.8 141.5h.9v1.8h-.9zM178.8 142.5h.9v1.8h-.9zM180.8 142.5h.9v1.8h-.9zM190.8 142.5h.9v1.8h-.9zM201.8 142.5h.9v1.8h-.9zM210.8 142.5h.9v1.8h-.9zM211.8 142.5h.9v1.8h-.9zM215.8 142.5h.9v1.8h-.9zM223.8 142.5h.9v1.8h-.9zM240.8 142.5h.9v1.8h-.9zM241.8 142.5h.9v1.8h-.9zM259.8 142.5h.9v1.8h-.9zM260.8 142.5h.9v1.8h-.9zM261.8 142.5h.9v1.8h-.9zM170.8 143.5h.9v1.8h-.9zM188.8 143.5h.9v1.8h-.9zM202.8 143.5h.9v1.8h-.9zM203.8 143.5h.9v1.8h-.9zM226.8 143.5h.9v1.8h-.9zM230.8 143.5h.9v1.8h-.9zM244.8 143.5h.9v1.8h-.9zM259.8 143.5h.9v1.8h-.9zM175.8 144.5h.9v1.8h-.9zM182.8 144.5h.9v1.8h-.9zM192.8 144.5h.9v1.8h-.9zM193.8 144.5h.9v1.8h-.9zM207.8 144.5h.9v1.8h-.9zM214.8 144.5h.9v1.8h-.9zM255.8 144.5h.9v1.8h-.9zM264.8 144.5h.9v1.8h-.9zM192.8 145.5h.9v1.8h-.9zM211.8 145.5h.9v1.8h-.9zM230.8 145.5h.9v1.8h-.9zM235.8 145.5h.9v1.8h-.9zM258.8 145.5h.9v1.8h-.9zM170.8 146.5h.9v1.8h-.9zM213.8 146.5h.9v1.8h-.9zM214.8 146.5h.9v1.8h-.9zM221.8 146.5h.9v1.8h-.9zM230.8 146.5h.9v1.8h-.9zM249.8 146.5h.9v1.8h-.9zM172.8 147.5h.9v1.8h-.9zM179.8 147.5h.9v1.8h-.9zM194.8 147.5h.9v1.8h-.9zM212.8 147.5h.9v1.8h-.9zM216.8 147.5h.9v1.8h-.9zM223.8 147.5h.9v1.8h-.9zM226.8 147.5h.9v1.8h-.9zM232.8 147.5h.9v1.8h-.9zM237.8 147.5h.9v1.8h-.9zM241.8 147.5h.9v1.8h-.9zM255.8 147.5h.9v1.8h-.9zM261.8 147.5h.9v1.8h-.9zM181.8 148.5h.9v1.8h-.9zM186.8 148.5h.9v1.8h-.9zM188.8 148.5h.9v1.8h-.9zM210.8 148.5h.9v1.8h-.9zM214.8 148.5h.9v1.8h-.9zM221.8 148.5h.9v1.8h-.9zM229.8 148.5h.9v1.8h-.9zM231.8 148.5h.9v1.8h-.9zM249.8 148.5h.9v1.8h-.9zM250.8 148.5h.9v1.8h-.9zM259.8 148.5h.9v1.8h-.9zM181.8 149.5h.9v1.8h-.9zM186.8 149.5h.9v1.8h-.9zM203.8 149.5h.9v1.8h-.9zM209.8 149.5h.9v1.8h-.9zM212.8 149.5h.9v1.8h-.9zM215.8 149.5h.9v1.8h-.9zM239.8 149.5h.9v1.8h-.9zM246.8 149.5h.9v1.8h-.9zM259.8 149.5h.9v1.8h-.9zM177.8 150.5h.9v1.8h-.9zM178.8 150.5h.9v1.8h-.9zM179.8 150.5h.9v1.8h-.9zM180.8 150.5h.9v1.8h-.9zM209.8 152.5h.9v1.8h-.9zM222.8 152.5h.9v1.8h-.9zM224.8 152.5h.9v1.8h-.9zM226.8 154.5h.9v1.8h-.9zM174.8 155.5h.9v1.8h-.9zM232.8 155.5h.9v1.8h-.9zM173.8 156.5h.9v1.8h-.9zM195.8 156.5h.9v1.8h-.9zM232.8 156.5h.9v1.8h-.9zM193.8 157.5h.9v1.8h-.9zM208.8 157.5h.9v1.8h-.9zM260.8 157.5h.9v1.8h-.9zM194.8 158.5h.9v1.8h-.9zM197.8 159.5h.9v1.8h-.9zM203.8 159.5h.9v1.8h-.9zM206.8 159.5h.9v1.8h-.9zM223.8 159.5h.9v1.8h-.9zM202.8 160.5h.9v1.8h-.9zM191.8 162.5h.9v1.8h-.9zM216.8 162.5h.9v1.8h-.9zM237.8 162.5h.9v1.8h-.9zM253.8 162.5h.9v1.8h-.9zM259.8 162.5h.9v1.8h-.9zM175.8 163.5h.9v1.8h-.9zM176.8 163.5h.9v1.8h-.9zM195.8 163.5h.9v1.8h-.9zM201.8 163.5h.9v1.8h-.9zM245.8 163.5h.9v1.8h-.9zM180.8 164.5h.9v1.8h-.9zM189.8 164.5h.9v1.8h-.9zM212.8 164.5h.9v1.8h-.9zM234.8 164.5h.9v1.8h-.9zM235.8 164.5h.9v1.8h-.9zM248.8 164.5h.9v1.8h-.9zM251.8 164.5h.9v1.8h-.9zM256.8 164.5h.9v1.8h-.9zM177.8 165.5h.9v1.8h-.9zM182.8 165.5h.9v1.8h-.9zM189.8 165.5h.9v1.8h-.9zM195.8 165.5h.9v1.8h-.9zM204.8 165.5h.9v1.8h-.9zM208.8 165.5h.9v1.8h-.9zM211.8 165.5h.9v1.8h-.9zM223.8 165.5h.9v1.8h-.9zM225.8 165.5h.9v1.8h-.9zM236.8 165.5h.9v1.8h-.9zM174.8 166.5h.9v1.8h-.9zM199.8 166.5h.9v1.8h-.9zM200.8 166.5h.9v1.8h-.9zM214.8 166.5h.9v1.8h-.9zM215.8 166.5h.9v1.8h-.9zM229.8 166.5h.9v1.8h-.9zM241.8 166.5h.9v1.8h-.9zM243.8 166.5h.9v1.8h-.9zM171.8 167.5h.9v1.8h-.9zM176.8 167.5h.9v1.8h-.9zM182.8 167.5h.9v1.8h-.9zM194.8 167.5h.9v1.8h-.9zM195.8 167.5h.9v1.8h-.9zM215.8 167.5h.9v1.8h-.9zM221.8 167.5h.9v1.8h-.9zM241.8 167.5h.9v1.8h-.9zM255.8 167.5h.9v1.8h-.9zM256.8 167.5h.9v1.8h-.9zM258.8 167.5h.9v1.8h-.9zM261.8 167.5h.9v1.8h-.9zM181.8 168.5h.9v1.8h-.9zM184.8 168.5h.9v1.8h-.9zM193.8 168.5h.9v1.8h-.9zM204.8 168.5h.9v1.8h-.9zM205.8 168.5h.9v1.8h-.9zM219.8 168.5h.9v1.8h-.9zM229.8 168.5h.9v1.8h-.9zM235.8 168.5h.9v1.8h-.9zM242.8 168.5h.9v1.8h-.9zM248.8 168.5h.9v1.8h-.9zM265.8 168.5h.9v1.8h-.9zM173.8 169.5h.9v1.8h-.9zM196.8 169.5h.9v1.8h-.9zM200.8 169.5h.9v1.8h-.9zM202.8 169.5h.9v1.8h-.9zM237.8 169.5h.9v1.8h-.9zM240.8 169.5h.9v1.8h-.9zM262.8 169.5h.9v1.8h-.9zM179.8 170.5h.9v1.8h-.9zM186.8 170.5h.9v1.8h-.9zM190.8 170.5h.9v1.8h-.9zM203.8 170.5h.9v1.8h-.9zM210.8 170.5h.9v1.8h-.9zM214.8 170.5h.9v1.8h-.9zM221.8 170.5h.9v1.8h-.9zM226.8 170.5h.9v1.8h-.9zM230.8 170.5h.9v1.8h-.9zM235.8 170.5h.9v1.8h-.9zM238.8 170.5h.9v1.8h-.9zM247.8 170.5h.9v1.8h-.9zM249.8 170.5h.9v1.8h-.9zM259.8 170.5h.9v1.8h-.9zM171.8 171.5h.9v1.8h-.9zM178.8 171.5h.9v1.8h-.9zM184.8 171.5h.9v1.8h-.9zM213.8 171.5h.9v1.8h-.9zM214.8 171.5h.9v1.8h-.9zM224.8 171.5h.9v1.8h-.9zM259.8 171.5h.9v1.8h-.9zM190.8 172.5h.9v1.8h-.9zM196.8 172.5h.9v1.8h-.9zM224.8 172.5h.9v1.8h-.9zM229.8 172.5h.9v1.8h-.9zM232.8 172.5h.9v1.8h-.9zM233.8 172.5h.9v1.8h-.9zM234.8 172.5h.9v1.8h-.9zM237.8 172.5h.9v1.8h-.9zM251.8 172.5h.9v1.8h-.9zM178.8 173.5h.9v1.8h-.9zM182.8 173.5h.9v1.8h-.9zM192.8 173.5h.9v1.8h-.9zM197.8 173.5h.9v1.8h-.9zM211.8 173.5h.9v1.8h-.9zM215.8 173.5h.9v1.8h-.9zM219.8 173.5h.9v1.8h-.9zM232.8 173.5h.9v1.8h-.9zM235.8 173.5h.9v1.8h-.9zM243.8 173.5h.9v1.8h-.9zM245.8 173.5h.9v1.8h-.9zM259.8 173.5h.9v1.8h-.9zM181.8 174.5h.9v1.8h-.9zM212.8 174.5h.9v1.8h-.9zM216.8 174.5h.9v1.8h-.9zM217.8 174.5h.9v1.8h-.9zM256.8 174.5h.9v1.8h-.9zM222.8 175.5h.9v1.8h-.9zM232.8 175.5h.9v1.8h-.9zM234.8 175.5h.9v1.8h-.9zM237.8 175.5h.9v1.8h-.9zM261.8 175.5h.9v1.8h-.9zM265.8 175.5h.9v1.8h-.9zM194.8 176.5h.9v1.8h-.9zM202.8 176.5h.9v1.8h-.9zM203.8 176.5h.9v1.8h-.9zM204.8 176.5h.9v1.8h-.9zM221.8 176.5h.9v1.8h-.9zM240.8 176.5h.9v1.8h-.9zM251.8 176.5h.9v1.8h-.9zM258.8 176.5h.9v1.8h-.9zM263.8 176.5h.9v1.8h-.9zM170.8 177.5h.9v1.8h-.9zM172.8 177.5h.9v1.8h-.9zM173.8 177.5h.9v1.8h-.9zM174.8 177.5h.9v1.8h-.9zM190.8 177.5h.9v1.8h-.9zM233.8 177.5h.9v1.8h-.9zM254.8 177.5h.9v1.8h-.9zM176.8 178.5h.9v1.8h-.9zM187.8 178.5h.9v1.8h-.9zM189.8 178.5h.9v1.8h-.9zM208.8 178.5h.9v1.8h-.9zM215.8 178.5h.9v1.8h-.9zM220.8 178.5h.9v1.8h-.9zM224.8 178.5h.9v1.8h-.9zM238.8 178.5h.9v1.8h-.9zM240.8 178.5h.9v1.8h-.9zM171.8 179.5h.9v1.8h-.9zM189.8 179.5h.9v1.8h-.9zM192.8 179.5h.9v1.8h-.9zM212.8 179.5h.9v1.8h-.9zM219.8 179.5h.9v1.8h-.9zM222.8 179.5h.9v1.8h-.9zM223.8 179.5h.9v1.8h-.9zM227.8 179.5h.9v1.8h-.9zM228.8 179.5h.9v1.8h-.9zM231.8 179.5h.9v1.8h-.9zM235.8 179.5h.9v1.8h-.9zM249.8 179.5h.9v1.8h-.9zM262.8 179.5h.9v1.8h-.9zM170.8 180.5h.9v1.8h-.9zM171.8 180.5h.9v1.8h-.9zM180.8 180.5h.9v1.8h-.9zM185.8 180.5h.9v1.8h-.9zM188.8 180.5h.9v1.8h-.9zM202.8 180.5h.9v1.8h-.9zM204.8 180.5h.9v1.8h-.9zM214.8 180.5h.9v1.8h-.9zM230.8 180.5h.9v1.8h-.9zM237.8 180.5h.9v1.8h-.9zM239.8 180.5h.9v1.8h-.9zM240.8 180.5h.9v1.8h-.9zM241.8 180.5h.9v1.8h-.9zM245.8 180.5h.9v1.8h-.9zM263.8 180.5h.9v1.8h-.9zM173.8 181.5h.9v1.8h-.9zM190.8 181.5h.9v1.8h-.9zM192.8 181.5h.9v1.8h-.9zM203.8 181.5h.9v1.8h-.9zM207.8 181.5h.9v1.8h-.9zM226.8 181.5h.9v1.8h-.9zM247.8 181.5h.9v1.8h-.9zM249.8 181.5h.9v1.8h-.9zM258.8 181.5h.9v1.8h-.9zM171.8 182.5h.9v1.8h-.9zM192.8 182.5h.9v1.8h-.9zM209.8 182.5h.9v1.8h-.9zM219.8 182.5h.9v1.8h-.9zM238.8 182.5h.9v1.8h-.9zM241.8 182.5h.9v1.8h-.9zM245.8 182.5h.9v1.8h-.9zM246.8 182.5h.9v1.8h-.9zM255.8 182.5h.9v1.8h-.9zM256.8 182.5h.9v1.8h-.9zM264.8 182.5h.9v1.8h-.9zM175.8 183.5h.9v1.8h-.9zM181.8 183.5h.9v1.8h-.9zM190.8 183.5h.9v1.8h-.9zM194.8 183.5h.9v1.8h-.9zM195.8 183.5h.9v1.8h-.9zM205.8 183.5h.9v1.8h-.9zM207.8 183.5h.9v1.8h-.9zM209.8 183.5h.9v1.8h-.9zM173.8 184.5h.9v1.8h-.9zM186.8 184.5h.9v1.8h-.9zM226.8 184.5h.9v1.8h-.9zM230.8 184.5h.9v1.8h-.9zM235.8 184.5h.9v1.8h-.9zM171.8 185.5h.9v1.8h-.9zM176.8 185.5h.9v1.8h-.9zM197.8 185.5h.9v1.8h-.9zM198.8 185.5h.9v1.8h-.9zM200.8 185.5h.9v1.8h-.9zM208.8 185.5h.9v1.8h-.9zM212.8 185.5h.9v1.8h-.9zM238.8 185.5h.9v1.8h-.9zM256.8 185.5h.9v1.8h-.9zM172.8 186.5h.9v1.8h-.9zM191.8 186.5h.9v1.8h-.9zM173.8 187.5h.9v1.8h-.9zM185.8 187.5h.9v1.8h-.9zM189.8 187.5h.9v1.8h-.9zM193.8 187.5h.9v1.8h-.9zM225.8 187.5h.9v1.8h-.9zM258.8 187.5h.9v1.8h-.9zM259.8 187.5h.9v1.8h-.9zM171.8 188.5h.9v1.8h-.9zM173.8 188.5h.9v1.8h-.9zM175.8 188.5h.9v1.8h-.9zM183.8 188.5h.9v1.8h-.9zM204.8 188.5h.9v1.8h-.9zM213.8 188.5h.9v1.8h-.9zM215.8 188.5h.9v1.8h-.9zM217.8 188.5h.9v1.8h-.9zM221.8 188.5h.9v1.8h-.9zM226.8 188.5h.9v1.8h-.9zM255.8 188.5h.9v1.8h-.9zM169.8 189.5h.9v1.8h-.9zM171.8 189.5h.9v1.8h-.9zM183.8 189.5h.9v1.8h-.9zM195.8 189.5h.9v1.8h-.9zM196.8 189.5h.9v1.8h-.9zM209.8 189.5h.9v1.8h-.9zM213.8 189.5h.9v1.8h-.9zM218.8 189.5h.9v1.8h-.9zM235.8 189.5h.9v1.8h-.9zM246.8 189.5h.9v1.8h-.9zM249.8 189.5h.9v1.8h-.9zM262.8 189.5h.9v1.8h-.9zM184.8 190.5h.9v1.8h-.9zM202.8 190.5h.9v1.8h-.9zM204.8 190.5h.9v1.8h-.9zM217.8 190.5h.9v1.8h-.9zM219.8 190.5h.9v1.8h-.9zM233.8 190.5h.9v1.8h-.9zM242.8 190.5h.9v1.8h-.9zM246.8 190.5h.9v1.8h-.9zM192.8 191.5h.9v1.8h-.9zM212.8 191.5h.9v1.8h-.9zM245.8 191.5h.9v1.8h-.9zM265.8 191.5h.9v1.8h-.9zM188.8 192.5h.9v1.8h-.9zM191.8 192.5h.9v1.8h-.9zM195.8 192.5h.9v1.8h-.9zM197.8 192.5h.9v1.8h-.9zM204.8 192.5h.9v1.8h-.9zM206.8 192.5h.9v1.8h-.9zM207.8 192.5h.9v1.8h-.9zM210.8 192.5h.9v1.8h-.9zM216.8 192.5h.9v1.8h-.9zM237.8 192.5h.9v1.8h-.9zM241.8 192.5h.9v1.8h-.9zM256.8 192.5h.9v1.8h-.9zM265.8 192.5h.9v1.8h-.9zM195.8 193.5h.9v1.8h-.9zM212.8 193.5h.9v1.8h-.9zM216.8 193.5h.9v1.8h-.9zM224.8 193.5h.9v1.8h-.9zM230.8 193.5h.9v1.8h-.9zM238.8 193.5h.9v1.8h-.9zM250.8 193.5h.9v1.8h-.9zM175.8 194.5h.9v1.8h-.9zM195.8 194.5h.9v1.8h-.9zM196.8 194.5h.9v1.8h-.9zM228.8 194.5h.9v1.8h-.9zM185.8 195.5h.9v1.8h-.9zM188.8 195.5h.9v1.8h-.9zM197.8 195.5h.9v1.8h-.9zM212.8 195.5h.9v1.8h-.9zM213.8 195.5h.9v1.8h-.9zM216.8 195.5h.9v1.8h-.9zM224.8 195.5h.9v1.8h-.9zM244.8 195.5h.9v1.8h-.9zM256.8 195.5h.9v1.8h-.9zM182.8 196.5h.9v1.8h-.9zM203.8 196.5h.9v1.8h-.9zM204.8 196.5h.9v1.8h-.9zM219.8 196.5h.9v1.8h-.9zM225.8 196.5h.9v1.8h-.9zM236.8 196.5h.9v1.8h-.9zM243.8 196.5h.9v1.8h-.9zM175.8 197.5h.9v1.8h-.9zM187.8 197.5h.9v1.8h-.9zM189.8 197.5h.9v1.8h-.9zM193.8 197.5h.9v1.8h-.9zM212.8 197.5h.9v1.8h-.9zM221.8 197.5h.9v1.8h-.9zM245.8 197.5h.9v1.8h-.9zM179.8 198.5h.9v1.8h-.9zM182.8 198.5h.9v1.8h-.9zM198.8 198.5h.9v1.8h-.9zM202.8 198.5h.9v1.8h-.9zM214.8 198.5h.9v1.8h-.9zM220.8 198.5h.9v1.8h-.9zM223.8 198.5h.9v1.8h-.9zM226.8 198.5h.9v1.8h-.9zM227.8 198.5h.9v1.8h-.9zM232.8 198.5h.9v1.8h-.9zM192.8 199.5h.9v1.8h-.9zM208.8 199.5h.9v1.8h-.9zM248.8 199.5h.9v1.8h-.9zM185.8 200.5h.9v1.8h-.9zM205.8 200.5h.9v1.8h-.9zM238.8 200.5h.9v1.8h-.9zM246.8 200.5h.9v1.8h-.9zM217.8 201.5h.9v1.8h-.9zM220.8 201.5h.9v1.8h-.9zM221.8 201.5h.9v1.8h-.9zM248.8 201.5h.9v1.8h-.9zM173.8 202.5h.9v1.8h-.9zM229.8 202.5h.9v1.8h-.9zM236.8 202.5h.9v1.8h-.9zM195.8 203.5h.9v1.8h-.9zM205.8 203.5h.9v1.8h-.9zM215.8 203.5h.9v1.8h-.9zM249.8 203.5h.9v1.8h-.9zM182.8 204.5h.9v1.8h-.9zM210.8 205.5h.9v1.8h-.9zM204.8 206.5h.9v1.8h-.9zM211.8 206.5h.9v1.8h-.9zM261.8 206.5h.9v1.8h-.9zM256.8 207.5h.9v1.8h-.9zM261.8 207.5h.9v1.8h-.9zM184.8 208.5h.9v1.8h-.9zM223.8 208.5h.9v1.8h-.9zM239.8 208.5h.9v1.8h-.9zM265.8 208.5h.9v1.8h-.9zM205.8 209.5h.9v1.8h-.9zM248.8 209.5h.9v1.8h-.9zM170.8 210.5h.9v1.8h-.9zM192.8 210.5h.9v1.8h-.9zM209.8 210.5h.9v1.8h-.9zM189.8 211.5h.9v1.8h-.9zM193.8 211.5h.9v1.8h-.9zM253.8 211.5h.9v1.8h-.9zM223.8 212.5h.9v1.8h-.9zM236.8 212.5h.9v1.8h-.9zM184.8 213.5h.9v1.8h-.9zM223.8 213.5h.9v1.8h-.9zM241.8 213.5h.9v1.8h-.9zM178.8 214.5h.9v1.8h-.9zM204.8 214.5h.9v1.8h-.9zM244.8 214.5h.9v1.8h-.9z"/>
<path fill="#eea4a4" d="M169.8 127.5h.9v1.8h-.9zM172.8 127.5h.9v1.8h-.9zM175.8 127.5h.9v1.8h-.9zM186.8 127.5h.9v1.8h-.9zM188.8 127.5h.9v1.8h-.9zM193.8 127.5h.9v1.8h-.9zM212.8 127.5h.9v1.8h-.9zM213.8 127.5h.9v1.8h-.9zM219.8 127.5h.9v1.8h-.9zM223.8 127.5h.9v1.8h-.9zM226.8 127.5h.9v1.8h-.9zM227.8 127.5h.9v1.8h-.9zM236.8 127.5h.9v1.8h-.9zM259.8 127.5h.9v1.8h-.9zM261.8 127.5h.9v1.8h-.9zM173.8 128.5h.9v1.8h-.9zM175.8 128.5h.9v1.8h-.9zM185.8 128.5h.9v1.8h-.9zM188.8 128.5h.9v1.8h-.9zM194.8 128.5h.9v1.8h-.9zM202.8 128.5h.9v1.8h-.9zM209.8 128.5h.9v1.8h-.9zM214.8 128.5h.9v1.8h-.9zM217.8 128.5h.9v1.8h-.9zM227.8 128.5h.9v1.8h-.9zM234.8 128.5h.9v1.8h-.9zM250.8 128.5h.9v1.8h-.9zM260.8 128.5h.9v1.8h-.9zM265.8 128.5h.9v1.8h-.9zM183.8 129.5h.9v1.8h-.9zM212.8 129.5h.9v1.8h-.9zM214.8 129.5h.9v1.8h-.9zM239.8 129.5h.9v1.8h-.9zM240.8 129.5h.9v1.8h-.9zM241.8 129.5h.9v1.8h-.9zM246.8 129.5h.9v1.8h-.9zM260.8 129.5h.9v1.8h-.9zM261.8 129.5h.9v1.8h-.9zM196.8 130.5h.9v1.8h-.9zM208.8 130.5h.9v1.8h-.9zM230.8 130.5h.9v1.8h-.9zM240.8 130.5h.9v1.8h-.9zM254.8 130.5h.9v1.8h-.9zM259.8 130.5h.9v1.8h-.9zM175.8 131.5h.9v1.8h-.9zM189.8 131.5h.9v1.8h-.9zM201.8 131.5h.9v1.8h-.9zM217.8 131.5h.9v1.8h-.9zM218.8 131.5h.9v1.8h-.9zM223.8 131.5h.9v1.8h-.9zM227.8 131.5h.9v1.8h-.9zM228.8 131.5h.9v1.8h-.9zM238.8 131.5h.9v1.8h-.9zM244.8 131.5h.9v1.8h-.9zM256.8 131.5h.9v1.8h-.9zM257.8 131.5h.9v1.8h-.9zM172.8 132.5h.9v1.8h-.9zM176.8 132.5h.9v1.8h-.9zM181.8 132.5h.9v1.8h-.9zM182.8 132.5h.9v1.8h-.9zM184.8 132.5h.9v1.8h-.9zM188.8 132.5h.9v1.8h-.9zM195.8 132.5h.9v1.8h-.9zM225.8 132.5h.9v1.8h-.9zM226.8 132.5h.9v1.8h-.9zM227.8 132.5h.9v1.8h-.9zM233.8 132.5h.9v1.8h-.9zM240.8 132.5h.9v1.8h-.9zM259.8 132.5h.9v1.8h-.9zM263.8 132.5h.9v1.8h-.9zM265.8 132.5h.9v1.8h-.9zM171.8 133.5h.9v1.8h-.9zM175.8 133.5h.9v1.8h-.9zM177.8 133.5h.9v1.8h-.9zM195.8 133.5h.9v1.8h-.9zM207.8 133.5h.9v1.8h-.9zM212.8 133.5h.9v1.8h-.9zM228.8 133.5h.9v1.8h-.9zM195.8 134.5h.9v1.8h-.9zM205.8 134.5h.9v1.8h-.9zM211.8 134.5h.9v1.8h-.9zM212.8 134.5h.9v1.8h-.9zM224.8 134.5h.9v1.8h-.9zM225.8 134.5h.9v1.8h-.9zM228.8 134.5h.9v1.8h-.9zM240.8 134.5h.9v1.8h-.9zM242.8 134.5h.9v1.8h-.9zM257.8 134.5h.9v1.8h-.9zM259.8 134.5h.9v1.8h-.9zM262.8 134.5h.9v1.8h-.9zM171.8 135.5h.9v1.8h-.9zM173.8 135.5h.9v1.8h-.9zM174.8 135.5h.9v1.8h-.9zM186.8 135.5h.9v1.8h-.9zM189.8 135.5h.9v1.8h-.9zM211.8 135.5h.9v1.8h-.9zM223.8 135.5h.9v1.8h-.9zM230.8 135.5h.9v1.8h-.9zM231.8 135.5h.9v1.8h-.9zM242.8 135.5h.9v1.8h-.9zM247.8 135.5h.9v1.8h-.9zM260.8 135.5h.9v1.8h-.9zM262.8 135.5h.9v1.8h-.9zM175.8 136.5h.9v1.8h-.9zM179.8 136.5h.9v1.8h-.9zM185.8 136.5h.9v1.8h-.9zM187.8 136.5h.9v1.8h-.9zM192.8 136.5h.9v1.8h-.9zM204.8 136.5h.9v1.8h-.9zM208.8 136.5h.9v1.8h-.9zM220.8 136.5h.9v1.8h-.9zM226.8 136.5h.9v1.8h-.9zM227.8 136.5h.9v1.8h-.9zM232.8 136.5h.9v1.8h-.9zM233.8 136.5h.9v1.8h-.9zM236.8 136.5h.9v1.8h-.9zM239.8 136.5h.9v1.8h-.9zM241.8 136.5h.9v1.8h-.9zM247.8 136.5h.9v1.8h-.9zM259.8 136.5h.9v1.8h-.9zM262.8 136.5h.9v1.8h-.9zM263.8 136.5h.9v1.8h-.9zM187.8 137.5h.9v1.8h-.9zM199.8 137.5h.9v1.8h-.9zM210.8 137.5h.9v1.8h-.9zM214.8 137.5h.9v1.8h-.9zM221.8 137.5h.9v1.8h-.9zM230.8 137.5h.9v1.8h-.9zM232.8 137.5h.9v1.8h-.9zM241.8 137.5h.9v1.8h-.9zM250.8 137.5h.9v1.8h-.9zM264.8 137.5h.9v1.8h-.9zM182.8 138.5h.9v1.8h-.9zM197.8 138.5h.9v1.8h-.9zM211.8 138.5h.9v1.8h-.9zM221.8 138.5h.9v1.8h-.9zM225.8 138.5h.9v1.8h-.9zM229.8 138.5h.9v1.8h-.9zM233.8 138.5h.9v1.8h-.9zM237.8 138.5h.9v1.8h-.9zM238.8 138.5h.9v1.8h-.9zM256.8 138.5h.9v1.8h-.9zM191.8 139.5h.9v1.8h-.9zM192.8 139.5h.9v1.8h-.9zM197.8 139.5h.9v1.8h-.9zM203.8 139.5h.9v1.8h-.9zM208.8 139.5h.9v1.8h-.9zM215.8 139.5h.9v1.8h-.9zM221.8 139.5h.9v1.8h-.9zM226.8 139.5h.9v1.8h-.9zM228.8 139.5h.9v1.8h-.9zM230.8 139.5h.9v1.8h-.9zM231.8 139.5h.9v1.8h-.9zM253.8 139.5h.9v1.8h-.9zM260.8 139.5h.9v1.8h-.9zM265.8 139.5h.9v1.8h-.9zM175.8 140.5h.9v1.8h-.9zM177.8 140.5h.9v1.8h-.9zM183.8 140.5h.9v1.8h-.9zM191.8 140.5h.9v1.8h-.9zM192.8 140.5h.9v1.8h-.9zM195.8 140.5h.9v1.8h-.9zM196.8 140.5h.9v1.8h-.9zM197.8 140.5h.9v1.8h-.9zM205.8 140.5h.9v1.8h-.9zM208.8 140.5h.9v1.8h-.9zM212.8 140.5h.9v1.8h-.9zM216.8 140.5h.9v1.8h-.9zM221.8 140.5h.9v1.8h-.9zM228.8 140.5h.9v1.8h-.9zM231.8 140.5h.9v1.8h-.9zM232.8 140.5h.9v1.8h-.9zM235.8 140.5h.9v1.8h-.9zM238.8 140.5h.9v1.8h-.9zM240.8 140.5h.9v1.8h-.9zM256.8 140.5h.9v1.8h-.9zM261.8 140.5h.9v1.8h-.9zM262.8 140.5h.9v1.8h-.9zM171.8 141.5h.9v1.8h-.9zM180.8 141.5h.9v1.8h-.9zM197.8 141.5h.9v1.8h-.9zM206.8 141.5h.9v1.8h-.9zM209.8 141.5h.9v1.8h-.9zM212.8 141.5h.9v1.8h-.9zM216.8 141.5h.9v1.8h-.9zM226.8 141.5h.9v1.8h-.9zM229.8 141.5h.9v1.8h-.9zM232.8 141.5h.9v1.8h-.9zM238.8 141.5h.9v1.8h-.9zM246.8 141.5h.9v1.8h-.9zM249.8 141.5h.9v1.8h-.9zM255.8 141.5h.9v1.8h-.9zM263.8 141.5h.9v1.8h-.9zM182.8 142.5h.9v1.8h-.9zM189.8 142.5h.9v1.8h-.9zM191.8 142.5h.9v1.8h-.9zM199.8 142.5h.9v1.8h-.9zM205.8 142.5h.9v1.8h-.9zM238.8 142.5h.9v1.8h-.9zM252.8 142.5h.9v1.8h-.9zM173.8 143.5h.9v1.8h-.9zM257.8 143.5h.9v1.8h-.9zM203.8 144.5h.9v1.8h-.9zM225.8 144.5h.9v1.8h-.9zM256.8 144.5h.9v1.8h-.9zM181.8 145.5h.9v1.8h-.9zM205.8 145.5h.9v1.8h-.9zM213.8 145.5h.9v1.8h-.9zM231.8 145.5h.9v1.8h-.9zM250.8 145.5h.9v1.8h-.9zM259.8 145.5h.9v1.8h-.9zM247.8 146.5h.9v1.8h-.9zM256.8 146.5h.9v1.8h-.9zM261.8 146.5h.9v1.8h-.9zM169.8 147.5h.9v1.8h-.9zM253.8 147.5h.9v1.8h-.9zM191.8 148.5h.9v1.8h-.9zM223.8 148.5h.9v1.8h-.9zM224.8 148.5h.9v1.8h-.9zM237.8 148.5h.9v1.8h-.9zM189.8 149.5h.9v1.8h-.9zM221.8 149.5h.9v1.8h-.9zM237.8 149.5h.9v1.8h-.9zM244.8 149.5h.9v1.8h-.9zM193.8 150.5h.9v1.8h-.9zM204.8 150.5h.9v1.8h-.9zM218.8 150.5h.9v1.8h-.9zM225.8 150.5h.9v1.8h-.9zM235.8 150.5h.9v1.8h-.9zM212.8 151.5h.9v1.8h-.9zM205.8 152.5h.9v1.8h-.9zM220.8 153.5h.9v1.8h-.9zM260.8 153.5h.9v1.8h-.9zM180.8 155.5h.9v1.8h-.9zM212.8 156.5h.9v1.8h-.9zM244.8 156.5h.9v1.8h-.9zM196.8 158.5h.9v1.8h-.9zM221.8 158.5h.9v1.8h-.9zM265.8 159.5h.9v1.8h-.9zM181.8 162.5h.9v1.8h-.9zM195.8 162.5h.9v1.8h-.9zM209.8 162.5h.9v1.8h-.9zM212.8 162.5h.9v1.8h-.9zM213.8 162.5h.9v1.8h-.9zM224.8 162.5h.9v1.8h-.9zM246.8 162.5h.9v1.8h-.9zM251.8 162.5h.9v1.8h-.9zM255.8 162.5h.9v1.8h-.9zM184.8 163.5h.9v1.8h-.9zM186.8 163.5h.9v1.8h-.9zM188.8 163.5h.9v1.8h-.9zM205.8 163.5h.9v1.8h-.9zM213.8 163.5h.9v1.8h-.9zM215.8 163.5h.9v1.8h-.9zM216.8 163.5h.9v1.8h-.9zM226.8 163.5h.9v1.8h-.9zM255.8 163.5h.9v1.8h-.9zM185.8 164.5h.9v1.8h-.9zM201.8 164.5h.9v1.8h-.9zM211.8 164.5h.9v1.8h-.9zM216.8 164.5h.9v1.8h-.9zM220.8 164.5h.9v1.8h-.9zM229.8 164.5h.9v1.8h-.9zM243.8 164.5h.9v1.8h-.9zM263.8 164.5h.9v1.8h-.9zM264.8 164.5h.9v1.8h-.9zM170.8 165.5h.9v1.8h-.9zM174.8 165.5h.9v1.8h-.9zM178.8 165.5h.9v1.8h-.9zM237.8 165.5h.9v1.8h-.9zM241.8 165.5h.9v1.8h-.9zM246.8 165.5h.9v1.8h-.9zM176.8 166.5h.9v1.8h-.9zM185.8 166.5h.9v1.8h-.9zM210.8 166.5h.9v1.8h-.9zM212.8 166.5h.9v1.8h-.9zM255.8 166.5h.9v1.8h-.9zM192.8 167.5h.9v1.8h-.9zM193.8 167.5h.9v1.8h-.9zM207.8 167.5h.9v1.8h-.9zM211.8 167.5h.9v1.8h-.9zM212.8 167.5h.9v1.8h-.9zM226.8 167.5h.9v1.8h-.9zM230.8 167.5h.9v1.8h-.9zM170.8 168.5h.9v1.8h-.9zM183.8 168.5h.9v1.8h-.9zM191.8 168.5h.9v1.8h-.9zM208.8 168.5h.9v1.8h-.9zM211.8 168.5h.9v1.8h-.9zM236.8 168.5h.9v1.8h-.9zM241.8 168.5h.9v1.8h-.9zM261.8 168.5h.9v1.8h-.9zM193.8 169.5h.9v1.8h-.9zM197.8 169.5h.9v1.8h-.9zM205.8 169.5h.9v1.8h-.9zM219.8 169.5h.9v1.8h-.9zM225.8 169.5h.9v1.8h-.9zM232.8 169.5h.9v1.8h-.9zM265.8 169.5h.9v1.8h-.9zM170.8 170.5h.9v1.8h-.9zM189.8 170.5h.9v1.8h-.9zM192.8 170.5h.9v1.8h-.9zM194.8 170.5h.9v1.8h-.9zM208.8 170.5h.9v1.8h-.9zM223.8 170.5h.9v1.8h-.9zM237.8 170.5h.9v1.8h-.9zM250.8 170.5h.9v1.8h-.9zM263.8 170.5h.9v1.8h-.9zM264.8 170.5h.9v1.8h-.9zM265.8 170.5h.9v1.8h-.9zM173.8 171.5h.9v1.8h-.9zM190.8 171.5h.9v1.8h-.9zM221.8 171.5h.9v1.8h-.9zM226.8 171.5h.9v1.8h-.9zM237.8 171.5h.9v1.8h-.9zM238.8 171.5h.9v1.8h-.9zM245.8 171.5h.9v1.8h-.9zM172.8 172.5h.9v1.8h-.9zM179.8 172.5h.9v1.8h-.9zM192.8 172.5h.9v1.8h-.9zM193.8 172.5h.9v1.8h-.9zM202.8 172.5h.9v1.8h-.9zM217.8 172.5h.9v1.8h-.9zM226.8 172.5h.9v1.8h-.9zM230.8 172.5h.9v1.8h-.9zM231.8 172.5h.9v1.8h-.9zM262.8 172.5h.9v1.8h-.9zM265.8 172.5h.9v1.8h-.9zM201.8 173.5h.9v1.8h-.9zM204.8 173.5h.9v1.8h-.9zM224.8 173.5h.9v1.8h-.9zM229.8 173.5h.9v1.8h-.9zM241.8 173.5h.9v1.8h-.9zM256.8 173.5h.9v1.8h-.9zM257.8 173.5h.9v1.8h-.9zM263.8 173.5h.9v1.8h-.9zM171.8 174.5h.9v1.8h-.9zM215.8 174.5h.9v1.8h-.9zM225.8 174.5h.9v1.8h-.9zM230.8 174.5h.9v1.8h-.9zM243.8 174.5h.9v1.8h-.9zM245.8 174.5h.9v1.8h-.9zM251.8 174.5h.9v1.8h-.9zM257.8 174.5h.9v1.8h-.9zM259.8 174.5h.9v1.8h-.9zM179.8 175.5h.9v1.8h-.9zM202.8 175.5h.9v1.8h-.9zM220.8 175.5h.9v1.8h-.9zM223.8 175.5h.9v1.8h-.9zM247.8 175.5h.9v1.8h-.9zM260.8 175.5h.9v1.8h-.9zM176.8 176.5h.9v1.8h-.9zM201.8 176.5h.9v1.8h-.9zM217.8 176.5h.9v1.8h-.9zM243.8 176.5h.9v1.8h-.9zM250.8 176.5h.9v1.8h-.9zM257.8 176.5h.9v1.8h-.9zM261.8 176.5h.9v1.8h-.9zM191.8 177.5h.9v1.8h-.9zM208.8 177.5h.9v1.8h-.9zM210.8 177.5h.9v1.8h-.9zM213.8 177.5h.9v1.8h-.9zM218.8 177.5h.9v1.8h-.9zM224.8 177.5h.9v1.8h-.9zM225.8 177.5h.9v1.8h-.9zM242.8 177.5h.9v1.8h-.9zM249.8 177.5h.9v1.8h-.9zM255.8 177.5h.9v1.8h-.9zM257.8 177.5h.9v1.8h-.9zM262.8 177.5h.9v1.8h-.9zM181.8 178.5h.9v1.8h-.9zM200.8 178.5h.9v1.8h-.9zM232.8 178.5h.9v1.8h-.9zM236.8 178.5h.9v1.8h-.9zM256.8 178.5h.9v1.8h-.9zM169.8 179.5h.9v1.8h-.9zM211.8 179.5h.9v1.8h-.9zM175.8 180.5h.9v1.8h-.9zM177.8 180.5h.9v1.8h-.9zM182.8 180.5h.9v1.8h-.9zM207.8 180.5h.9v1.8h-.9zM208.8 180.5h.9v1.8h-.9zM209.8 180.5h.9v1.8h-.9zM211.8 180.5h.9v1.8h-.9zM222.8 180.5h.9v1.8h-.9zM247.8 180.5h.9v1.8h-.9zM174.8 181.5h.9v1.8h-.9zM191.8 181.5h.9v1.8h-.9zM194.8 181.5h.9v1.8h-.9zM204.8 181.5h.9v1.8h-.9zM208.8 181.5h.9v1.8h-.9zM259.8 181.5h.9v1.8h-.9zM260.8 181.5h.9v1.8h-.9zM172.8 182.5h.9v1.8h-.9zM174.8 182.5h.9v1.8h-.9zM179.8 182.5h.9v1.8h-.9zM190.8 182.5h.9v1.8h-.9zM195.8 182.5h.9v1.8h-.9zM208.8 182.5h.9v1.8h-.9zM211.8 182.5h.9v1.8h-.9zM252.8 182.5h.9v1.8h-.9zM169.8 183.5h.9v1.8h-.9zM174.8 183.5h.9v1.8h-.9zM178.8 183.5h.9v1.8h-.9zM186.8 183.5h.9v1.8h-.9zM206.8 183.5h.9v1.8h-.9zM208.8 183.5h.9v1.8h-.9zM212.8 183.5h.9v1.8h-.9zM217.8 183.5h.9v1.8h-.9zM238.8 183.5h.9v1.8h-.9zM265.8 183.5h.9v1.8h-.9zM184.8 184.5h.9v1.8h-.9zM191.8 184.5h.9v1.8h-.9zM216.8 184.5h.9v1.8h-.9zM238.8 184.5h.9v1.8h-.9zM243.8 184.5h.9v1.8h-.9zM245.8 184.5h.9v1.8h-.9zM248.8 184.5h.9v1.8h-.9zM204.8 185.5h.9v1.8h-.9zM215.8 185.5h.9v1.8h-.9zM229.8 185.5h.9v1.8h-.9zM171.8 186.5h.9v1.8h-.9zM190.8 186.5h.9v1.8h-.9zM192.8 186.5h.9v1.8h-.9zM194.8 186.5h.9v1.8h-.9zM202.8 186.5h.9v1.8h-.9zM217.8 186.5h.9v1.8h-.9zM227.8 186.5h.9v1.8h-.9zM244.8 186.5h.9v1.8h-.9zM245.8 186.5h.9v1.8h-.9zM180.8 187.5h.9v1.8h-.9zM220.8 187.5h.9v1.8h-.9zM232.8 187.5h.9v1.8h-.9zM176.8 188.5h.9v1.8h-.9zM216.8 188.5h.9v1.8h-.9zM184.8 189.5h.9v1.8h-.9zM202.8 189.5h.9v1.8h-.9zM225.8 189.5h.9v1.8h-.9zM236.8 189.5h.9v1.8h-.9zM253.8 189.5h.9v1.8h-.9zM237.8 190.5h.9v1.8h-.9zM215.8 191.5h.9v1.8h-.9zM190.8 192.5h.9v1.8h-.9zM211.8 192.5h.9v1.8h-.9zM244.8 192.5h.9v1.8h-.9zM248.8 192.5h.9v1.8h-.9zM262.8 192.5h.9v1.8h-.9zM175.8 193.5h.9v1.8h-.9zM178.8 193.5h.9v1.8h-.9zM181.8 193.5h.9v1.8h-.9zM217.8 193.5h.9v1.8h-.9zM226.8 193.5h.9v1.8h-.9zM258.8 193.5h.9v1.8h-.9zM190.8 194.5h.9v1.8h-.9zM212.8 194.5h.9v1.8h-.9zM245.8 194.5h.9v1.8h-.9zM249.8 194.5h.9v1.8h-.9zM262.8 194.5h.9v1.8h-.9zM265.8 194.5h.9v1.8h-.9zM191.8 195.5h.9v1.8h-.9zM230.8 196.5h.9v1.8h-.9zM240.8 196.5h.9v1.8h-.9zM182.8 197.5h.9v1.8h-.9zM201.8 197.5h.9v1.8h-.9zM261.8 197.5h.9v1.8h-.9zM178.8 198.5h.9v1.8h-.9zM206.8 198.5h.9v1.8h-.9zM207.8 198.5h.9v1.8h-.9zM209.8 198.5h.9v1.8h-.9zM239.8 198.5h.9v1.8h-.9zM255.8 198.5h.9v1.8h-.9zM257.8 198.5h.9v1.8h-.9zM261.8 198.5h.9v1.8h-.9zM214.8 200.5h.9v1.8h-.9zM255.8 200.5h.9v1.8h-.9zM226.8 201.5h.9v1.8h-.9zM192.8 204.5h.9v1.8h-.9zM221.8 204.5h.9v1.8h-.9zM263.8 204.5h.9v1.8h-.9zM234.8 205.5h.9v1.8h-.9zM216.8 206.5h.9v1.8h-.9zM259.8 206.5h.9v1.8h-.9zM255.8 207.5h.9v1.8h-.9zM189.8 209.5h.9v1.8h-.9zM206.8 209.5h.9v1.8h-.9zM239.8 209.5h.9v1.8h-.9zM246.8 209.5h.9v1.8h-.9zM208.8 210.5h.9v1.8h-.9zM224.8 210.5h.9v1.8h-.9zM175.8 211.5h.9v1.8h-.9zM231.8 212.5h.9v1.8h-.9zM249.8 212.5h.9v1.8h-.9zM263.8 212.5h.9v1.8h-.9zM197.8 213.5h.9v1.8h-.9zM180.8 216.5h.9v1.8h-.9zM237.8 216.5h.9v1.8h-.9z"/>
<path fill="#e48686" d="M174.8 127.5h.9v1.8h-.9zM192.8 127.5h.9v1.8h-.9zM249.8 127.5h.9v1.8h-.9zM170.8 128.5h.9v1.8h-.9zM197.8 128.5h.9v1.8h-.9zM188.8 130.5h.9v1.8h-.9zM195.8 130.5h.9v1.8h-.9zM204.8 130.5h.9v1.8h-.9zM178.8 131.5h.9v1.8h-.9zM199.8 131.5h.9v1.8h-.9zM229.8 131.5h.9v1.8h-.9zM241.8 131.5h.9v1.8h-.9zM251.8 131.5h.9v1.8h-.9zM204.8 132.5h.9v1.8h-.9zM241.8 133.5h.9v1.8h-.9zM194.8 134.5h.9v1.8h-.9zM215.8 134.5h.9v1.8h-.9zM218.8 134.5h.9v1.8h-.9zM169.8 135.5h.9v1.8h-.9zM175.8 135.5h.9v1.8h-.9zM184.8 135.5h.9v1.8h-.9zM192.8 135.5h.9v1.8h-.9zM193.8 135.5h.9v1.8h-.9zM194.8 135.5h.9v1.8h-.9zM197.8 135.5h.9v1.8h-.9zM199.8 135.5h.9v1.8h-.9zM201.8 135.5h.9v1.8h-.9zM203.8 135.5h.9v1.8h-.9zM205.8 135.5h.9v1.8h-.9zM207.8 135.5h.9v1.8h-.9zM214.8 135.5h.9v1.8h-.9zM226.8 135.5h.9v1.8h-.9zM228.8 135.5h.9v1.8h-.9zM237.8 135.5h.9v1.8h-.9zM240.8 135.5h.9v1.8h-.9zM246.8 135.5h.9v1.8h-.9zM248.8 135.5h.9v1.8h-.9zM249.8 135.5h.9v1.8h-.9zM258.8 135.5h.9v1.8h-.9zM169.8 136.5h.9v1.8h-.9zM176.8 136.5h.9v1.8h-.9zM184.8 136.5h.9v1.8h-.9zM186.8 136.5h.9v1.8h-.9zM189.8 136.5h.9v1.8h-.9zM190.8 136.5h.9v1.8h-.9zM195.8 136.5h.9v1.8h-.9zM196.8 136.5h.9v1.8h-.9zM199.8 136.5h.9v1.8h-.9zM202.8 136.5h.9v1.8h-.9zM205.8 136.5h.9v1.8h-.9zM210.8 136.5h.9v1.8h-.9zM213.8 136.5h.9v1.8h-.9zM216.8 136.5h.9v1.8h-.9zM219.8 136.5h.9v1.8h-.9zM221.8 136.5h.9v1.8h-.9zM224.8 136.5h.9v1.8h-.9zM225.8 136.5h.9v1.8h-.9zM230.8 136.5h.9v1.8h-.9zM237.8 136.5h.9v1.8h-.9zM238.8 136.5h.9v1.8h-.9zM240.8 136.5h.9v1.8h-.9zM243.8 136.5h.9v1.8h-.9zM250.8 136.5h.9v1.8h-.9zM254.8 136.5h.9v1.8h-.9zM256.8 136.5h.9v1.8h-.9zM264.8 136.5h.9v1.8h-.9zM265.8 136.5h.9v1.8h-.9zM170.8 137.5h.9v1.8h-.9zM171.8 137.5h.9v1.8h-.9zM242.8 137.5h.9v1.8h-.9zM173.8 138.5h.9v1.8h-.9zM191.8 138.5h.9v1.8h-.9zM223.8 138.5h.9v1.8h-.9zM258.8 138.5h.9v1.8h-.9zM189.8 139.5h.9v1.8h-.9zM200.8 139.5h.9v1.8h-.9zM214.8 139.5h.9v1.8h-.9zM219.8 139.5h.9v1.8h-.9zM237.8 139.5h.9v1.8h-.9zM238.8 139.5h.9v1.8h-.9zM239.8 139.5h.9v1.8h-.9zM240.8 139.5h.9v1.8h-.9zM243.8 139.5h.9v1.8h-.9zM249.8 139.5h.9v1.8h-.9zM250.8 139.5h.9v1.8h-.9zM172.8 140.5h.9v1.8h-.9zM180.8 140.5h.9v1.8h-.9zM186.8 140.5h.9v1.8h-.9zM193.8 140.5h.9v1.8h-.9zM194.8 140.5h.9v1.8h-.9zM206.8 140.5h.9v1.8h-.9zM211.8 140.5h.9v1.8h-.9zM215.8 140.5h.9v1.8h-.9zM224.8 140.5h.9v1.8h-.9zM226.8 140.5h.9v1.8h-.9zM227.8 140.5h.9v1.8h-.9zM230.8 140.5h.9v1.8h-.9zM234.8 140.5h.9v1.8h-.9zM236.8 140.5h.9v1.8h-.9zM241.8 140.5h.9v1.8h-.9zM244.8 140.5h.9v1.8h-.9zM247.8 140.5h.9v1.8h-.9zM251.8 140.5h.9v1.8h-.9zM254.8 140.5h.9v1.8h-.9zM259.8 140.5h.9v1.8h-.9zM263.8 140.5h.9v1.8h-.9zM174.8 141.5h.9v1.8h-.9zM176.8 141.5h.9v1.8h-.9zM198.8 141.5h.9v1.8h-.9zM211.8 141.5h.9v1.8h-.9zM225.8 141.5h.9v1.8h-.9zM230.8 141.5h.9v1.8h-.9zM240.8 141.5h.9v1.8h-.9zM241.8 141.5h.9v1.8h-.9zM247.8 141.5h.9v1.8h-.9zM256.8 141.5h.9v1.8h-.9zM259.8 141.5h.9v1.8h-.9zM226.8 142.5h.9v1.8h-.9zM234.8 142.5h.9v1.8h-.9zM209.8 146.5h.9v1.8h-.9zM209.8 147.5h.9v1.8h-.9zM232.8 148.5h.9v1.8h-.9zM247.8 148.5h.9v1.8h-.9zM232.8 150.5h.9v1.8h-.9zM190.8 159.5h.9v1.8h-.9zM185.8 162.5h.9v1.8h-.9zM204.8 162.5h.9v1.8h-.9zM218.8 162.5h.9v1.8h-.9zM262.8 163.5h.9v1.8h-.9zM236.8 164.5h.9v1.8h-.9zM238.8 164.5h.9v1.8h-.9zM196.8 165.5h.9v1.8h-.9zM218.8 165.5h.9v1.8h-.9zM219.8 165.5h.9v1.8h-.9zM227.8 165.5h.9v1.8h-.9zM240.8 166.5h.9v1.8h-.9zM174.8 167.5h.9v1.8h-.9zM218.8 168.5h.9v1.8h-.9zM264.8 168.5h.9v1.8h-.9zM218.8 169.5h.9v1.8h-.9zM261.8 169.5h.9v1.8h-.9zM181.8 170.5h.9v1.8h-.9zM184.8 170.5h.9v1.8h-.9zM204.8 170.5h.9v1.8h-.9zM205.8 170.5h.9v1.8h-.9zM229.8 170.5h.9v1.8h-.9zM195.8 171.5h.9v1.8h-.9zM201.8 171.5h.9v1.8h-.9zM223.8 171.5h.9v1.8h-.9zM181.8 172.5h.9v1.8h-.9zM238.8 172.5h.9v1.8h-.9zM249.8 172.5h.9v1.8h-.9zM181.8 173.5h.9v1.8h-.9zM198.8 173.5h.9v1.8h-.9zM236.8 173.5h.9v1.8h-.9zM249.8 173.5h.9v1.8h-.9zM188.8 174.5h.9v1.8h-.9zM204.8 174.5h.9v1.8h-.9zM223.8 174.5h.9v1.8h-.9zM233.8 175.5h.9v1.8h-.9zM233.8 176.5h.9v1.8h-.9zM259.8 176.5h.9v1.8h-.9zM260.8 176.5h.9v1.8h-.9zM201.8 177.5h.9v1.8h-.9zM204.8 177.5h.9v1.8h-.9zM252.8 179.5h.9v1.8h-.9zM264.8 179.5h.9v1.8h-.9zM249.8 180.5h.9v1.8h-.9zM262.8 180.5h.9v1.8h-.9zM184.8 182.5h.9v1.8h-.9zM197.8 182.5h.9v1.8h-.9zM212.8 182.5h.9v1.8h-.9zM178.8 184.5h.9v1.8h-.9zM192.8 184.5h.9v1.8h-.9zM229.8 184.5h.9v1.8h-.9zM221.8 185.5h.9v1.8h-.9zM231.8 185.5h.9v1.8h-.9zM229.8 186.5h.9v1.8h-.9zM209.8 187.5h.9v1.8h-.9zM238.8 188.5h.9v1.8h-.9zM221.8 190.5h.9v1.8h-.9zM209.8 191.5h.9v1.8h-.9zM241.8 191.5h.9v1.8h-.9zM180.8 192.5h.9v1.8h-.9zM195.8 196.5h.9v1.8h-.9zM231.8 196.5h.9v1.8h-.9zM232.8 196.5h.9v1.8h-.9zM262.8 196.5h.9v1.8h-.9zM242.8 197.5h.9v1.8h-.9zM172.8 198.5h.9v1.8h-.9zM183.8 198.5h.9v1.8h-.9zM196.8 203.5h.9v1.8h-.9zM213.8 212.5h.9v1.8h-.9z"/>
<path fill="#cc5c5c" d="M185.8 132.5h.9v1.8h-.9zM256.8 132.5h.9v1.8h-.9zM248.8 133.5h.9v1.8h-.9zM204.8 134.5h.9v1.8h-.9zM227.8 134.5h.9v1.8h-.9zM172.8 135.5h.9v1.8h-.9zM180.8 135.5h.9v1.8h-.9zM181.8 135.5h.9v1.8h-.9zM183.8 135.5h.9v1.8h-.9zM195.8 135.5h.9v1.8h-.9zM204.8 135.5h.9v1.8h-.9zM209.8 135.5h.9v1.8h-.9zM210.8 135.5h.9v1.8h-.9zM212.8 135.5h.9v1.8h-.9zM217.8 135.5h.9v1.8h-.9zM218.8 135.5h.9v1.8h-.9zM229.8 135.5h.9v1.8h-.9zM232.8 135.5h.9v1.8h-.9zM236.8 135.5h.9v1.8h-.9zM238.8 135.5h.9v1.8h-.9zM241.8 135.5h.9v1.8h-.9zM254.8 135.5h.9v1.8h-.9zM257.8 135.5h.9v1.8h-.9zM261.8 135.5h.9v1.8h-.9zM263.8 135.5h.9v1.8h-.9zM265.8 135.5h.9v1.8h-.9zM170.8 136.5h.9v1.8h-.9zM171.8 136.5h.9v1.8h-.9zM180.8 136.5h.9v1.8h-.9zM181.8 136.5h.9v1.8h-.9zM188.8 136.5h.9v1.8h-.9zM191.8 136.5h.9v1.8h-.9zM193.8 136.5h.9v1.8h-.9zM194.8 136.5h.9v1.8h-.9zM197.8 136.5h.9v1.8h-.9zM201.8 136.5h.9v1.8h-.9zM203.8 136.5h.9v1.8h-.9zM209.8 136.5h.9v1.8h-.9zM211.8 136.5h.9v1.8h-.9zM212.8 136.5h.9v1.8h-.9zM229.8 136.5h.9v1.8h-.9zM235.8 136.5h.9v1.8h-.9zM244.8 136.5h.9v1.8h-.9zM246.8 136.5h.9v1.8h-.9zM249.8 136.5h.9v1.8h-.9zM261.8 136.5h.9v1.8h-.9zM175.8 139.5h.9v1.8h-.9zM180.8 139.5h.9v1.8h-.9zM186.8 139.5h.9v1.8h-.9zM195.8 139.5h.9v1.8h-.9zM205.8 139.5h.9v1.8h-.9zM211.8 139.5h.9v1.8h-.9zM235.8 139.5h.9v1.8h-.9zM241.8 139.5h.9v1.8h-.9zM245.8 139.5h.9v1.8h-.9zM181.8 140.5h.9v1.8h-.9zM229.8 140.5h.9v1.8h-.9zM182.8 141.5h.9v1.8h-.9zM184.8 141.5h.9v1.8h-.9zM192.8 141.5h.9v1.8h-.9zM204.8 141.5h.9v1.8h-.9zM213.8 141.5h.9v1.8h-.9zM215.8 141.5h.9v1.8h-.9zM228.8 141.5h.9v1.8h-.9zM253.8 141.5h.9v1.8h-.9zM241.8 145.5h.9v1.8h-.9zM249.8 169.5h.9v1.8h-.9zM237.8 173.5h.9v1.8h-.9zM238.8 177.5h.9v1.8h-.9zM197.8 178.5h.9v1.8h-.9zM248.8 183.5h.9v1.8h-.9zM248.8 189.5h.9v1.8h-.9z"/>
</g>
<rect x="296.3" y="126.8" width="97.4" height="90.7" fill="url(#haze)"/>
<g>
<path fill="#fadcdc" d="M298.0 127.5h.9v1.8h-.9zM299.0 127.5h.9v1.8h-.9zM301.0 127.5h.9v1.8h-.9zM323.0 127.5h.9v1.8h-.9zM324.0 127.5h.9v1.8h-.9zM325.0 127.5h.9v1.8h-.9zM337.0 127.5h.9v1.8h-.9zM341.0 127.5h.9v1.8h-.9zM391.0 127.5h.9v1.8h-.9zM297.0 128.5h.9v1.8h-.9zM320.0 128.5h.9v1.8h-.9zM329.0 128.5h.9v1.8h-.9zM333.0 128.5h.9v1.8h-.9zM345.0 128.5h.9v1.8h-.9zM364.0 128.5h.9v1.8h-.9zM379.0 128.5h.9v1.8h-.9zM381.0 128.5h.9v1.8h-.9zM313.0 129.5h.9v1.8h-.9zM353.0 129.5h.9v1.8h-.9zM372.0 129.5h.9v1.8h-.9zM299.0 130.5h.9v1.8h-.9zM312.0 130.5h.9v1.8h-.9zM338.0 130.5h.9v1.8h-.9zM339.0 130.5h.9v1.8h-.9zM358.0 130.5h.9v1.8h-.9zM375.0 130.5h.9v1.8h-.9zM380.0 130.5h.9v1.8h-.9zM299.0 131.5h.9v1.8h-.9zM384.0 131.5h.9v1.8h-.9zM386.0 131.5h.9v1.8h-.9zM314.0 132.5h.9v1.8h-.9zM323.0 132.5h.9v1.8h-.9zM344.0 132.5h.9v1.8h-.9zM349.0 132.5h.9v1.8h-.9zM350.0 132.5h.9v1.8h-.9zM355.0 132.5h.9v1.8h-.9zM356.0 132.5h.9v1.8h-.9zM384.0 132.5h.9v1.8h-.9zM339.0 133.5h.9v1.8h-.9zM363.0 133.5h.9v1.8h-.9zM369.0 133.5h.9v1.8h-.9zM371.0 133.5h.9v1.8h-.9zM375.0 133.5h.9v1.8h-.9zM385.0 133.5h.9v1.8h-.9zM316.0 134.5h.9v1.8h-.9zM332.0 134.5h.9v1.8h-.9zM365.0 134.5h.9v1.8h-.9zM368.0 134.5h.9v1.8h-.9zM384.0 134.5h.9v1.8h-.9zM342.0 137.5h.9v1.8h-.9zM350.0 137.5h.9v1.8h-.9zM363.0 137.5h.9v1.8h-.9zM369.0 137.5h.9v1.8h-.9zM302.0 138.5h.9v1.8h-.9zM324.0 138.5h.9v1.8h-.9zM366.0 138.5h.9v1.8h-.9zM374.0 138.5h.9v1.8h-.9zM375.0 138.5h.9v1.8h-.9zM325.0 139.5h.9v1.8h-.9zM328.0 139.5h.9v1.8h-.9zM391.0 139.5h.9v1.8h-.9zM335.0 140.5h.9v1.8h-.9zM346.0 141.5h.9v1.8h-.9zM384.0 141.5h.9v1.8h-.9zM300.0 142.5h.9v1.8h-.9zM306.0 142.5h.9v1.8h-.9zM324.0 142.5h.9v1.8h-.9zM334.0 142.5h.9v1.8h-.9zM345.0 142.5h.9v1.8h-.9zM378.0 142.5h.9v1.8h-.9zM386.0 142.5h.9v1.8h-.9zM393.0 142.5h.9v1.8h-.9zM352.0 143.5h.9v1.8h-.9zM372.0 143.5h.9v1.8h-.9zM380.0 143.5h.9v1.8h-.9zM309.0 144.5h.9v1.8h-.9zM312.0 144.5h.9v1.8h-.9zM351.0 144.5h.9v1.8h-.9zM363.0 144.5h.9v1.8h-.9zM385.0 144.5h.9v1.8h-.9zM312.0 145.5h.9v1.8h-.9zM313.0 145.5h.9v1.8h-.9zM319.0 145.5h.9v1.8h-.9zM320.0 145.5h.9v1.8h-.9zM329.0 145.5h.9v1.8h-.9zM336.0 145.5h.9v1.8h-.9zM350.0 145.5h.9v1.8h-.9zM358.0 145.5h.9v1.8h-.9zM365.0 145.5h.9v1.8h-.9zM376.0 145.5h.9v1.8h-.9zM379.0 145.5h.9v1.8h-.9zM386.0 145.5h.9v1.8h-.9zM389.0 145.5h.9v1.8h-.9zM298.0 146.5h.9v1.8h-.9zM305.0 146.5h.9v1.8h-.9zM322.0 146.5h.9v1.8h-.9zM345.0 146.5h.9v1.8h-.9zM358.0 146.5h.9v1.8h-.9zM360.0 146.5h.9v1.8h-.9zM375.0 146.5h.9v1.8h-.9zM380.0 146.5h.9v1.8h-.9zM303.0 147.5h.9v1.8h-.9zM313.0 147.5h.9v1.8h-.9zM317.0 147.5h.9v1.8h-.9zM328.0 147.5h.9v1.8h-.9zM375.0 147.5h.9v1.8h-.9zM384.0 147.5h.9v1.8h-.9zM348.0 148.5h.9v1.8h-.9zM382.0 148.5h.9v1.8h-.9zM388.0 149.5h.9v1.8h-.9zM299.0 150.5h.9v1.8h-.9zM309.0 150.5h.9v1.8h-.9zM344.0 150.5h.9v1.8h-.9zM354.0 150.5h.9v1.8h-.9zM386.0 150.5h.9v1.8h-.9zM388.0 150.5h.9v1.8h-.9zM390.0 150.5h.9v1.8h-.9zM392.0 150.5h.9v1.8h-.9zM300.0 151.5h.9v1.8h-.9zM301.0 151.5h.9v1.8h-.9zM306.0 151.5h.9v1.8h-.9zM313.0 151.5h.9v1.8h-.9zM383.0 151.5h.9v1.8h-.9zM390.0 151.5h.9v1.8h-.9zM353.0 152.5h.9v1.8h-.9zM380.0 152.5h.9v1.8h-.9zM391.0 152.5h.9v1.8h-.9zM298.0 153.5h.9v1.8h-.9zM323.0 153.5h.9v1.8h-.9zM345.0 153.5h.9v1.8h-.9zM348.0 153.5h.9v1.8h-.9zM366.0 153.5h.9v1.8h-.9zM373.0 153.5h.9v1.8h-.9zM322.0 154.5h.9v1.8h-.9zM332.0 154.5h.9v1.8h-.9zM361.0 154.5h.9v1.8h-.9zM376.0 154.5h.9v1.8h-.9zM300.0 155.5h.9v1.8h-.9zM302.0 155.5h.9v1.8h-.9zM314.0 155.5h.9v1.8h-.9zM386.0 155.5h.9v1.8h-.9zM391.0 155.5h.9v1.8h-.9zM298.0 156.5h.9v1.8h-.9zM299.0 156.5h.9v1.8h-.9zM330.0 156.5h.9v1.8h-.9zM357.0 156.5h.9v1.8h-.9zM371.0 156.5h.9v1.8h-.9zM324.0 157.5h.9v1.8h-.9zM330.0 157.5h.9v1.8h-.9zM337.0 157.5h.9v1.8h-.9zM365.0 157.5h.9v1.8h-.9zM373.0 157.5h.9v1.8h-.9zM375.0 157.5h.9v1.8h-.9zM302.0 158.5h.9v1.8h-.9zM329.0 158.5h.9v1.8h-.9zM300.0 159.5h.9v1.8h-.9zM301.0 159.5h.9v1.8h-.9zM304.0 159.5h.9v1.8h-.9zM322.0 159.5h.9v1.8h-.9zM325.0 159.5h.9v1.8h-.9zM334.0 159.5h.9v1.8h-.9zM353.0 159.5h.9v1.8h-.9zM362.0 159.5h.9v1.8h-.9zM365.0 159.5h.9v1.8h-.9zM375.0 159.5h.9v1.8h-.9zM312.0 160.5h.9v1.8h-.9zM324.0 160.5h.9v1.8h-.9zM336.0 160.5h.9v1.8h-.9zM353.0 160.5h.9v1.8h-.9zM300.0 161.5h.9v1.8h-.9zM347.0 161.5h.9v1.8h-.9zM391.0 161.5h.9v1.8h-.9zM347.0 162.5h.9v1.8h-.9zM352.0 162.5h.9v1.8h-.9zM354.0 162.5h.9v1.8h-.9zM365.0 162.5h.9v1.8h-.9zM369.0 162.5h.9v1.8h-.9zM380.0 162.5h.9v1.8h-.9zM387.0 162.5h.9v1.8h-.9zM306.0 163.5h.9v1.8h-.9zM308.0 163.5h.9v1.8h-.9zM369.0 163.5h.9v1.8h-.9zM390.0 163.5h.9v1.8h-.9zM338.0 164.5h.9v1.8h-.9zM361.0 164.5h.9v1.8h-.9zM366.0 164.5h.9v1.8h-.9zM374.0 164.5h.9v1.8h-.9zM379.0 164.5h.9v1.8h-.9zM384.0 164.5h.9v1.8h-.9zM323.0 165.5h.9v1.8h-.9zM348.0 165.5h.9v1.8h-.9zM350.0 165.5h.9v1.8h-.9zM354.0 165.5h.9v1.8h-.9zM361.0 165.5h.9v1.8h-.9zM362.0 165.5h.9v1.8h-.9zM372.0 165.5h.9v1.8h-.9zM378.0 165.5h.9v1.8h-.9zM389.0 165.5h.9v1.8h-.9zM307.0 166.5h.9v1.8h-.9zM353.0 166.5h.9v1.8h-.9zM361.0 166.5h.9v1.8h-.9zM391.0 166.5h.9v1.8h-.9zM297.0 167.5h.9v1.8h-.9zM311.0 167.5h.9v1.8h-.9zM322.0 167.5h.9v1.8h-.9zM329.0 167.5h.9v1.8h-.9zM341.0 167.5h.9v1.8h-.9zM373.0 167.5h.9v1.8h-.9zM386.0 167.5h.9v1.8h-.9zM300.0 168.5h.9v1.8h-.9zM311.0 168.5h.9v1.8h-.9zM322.0 168.5h.9v1.8h-.9zM328.0 168.5h.9v1.8h-.9zM352.0 168.5h.9v1.8h-.9zM375.0 168.5h.9v1.8h-.9zM339.0 169.5h.9v1.8h-.9zM353.0 169.5h.9v1.8h-.9zM333.0 170.5h.9v1.8h-.9zM334.0 170.5h.9v1.8h-.9zM375.0 170.5h.9v1.8h-.9zM376.0 170.5h.9v1.8h-.9zM380.0 170.5h.9v1.8h-.9zM301.0 171.5h.9v1.8h-.9zM306.0 171.5h.9v1.8h-.9zM310.0 171.5h.9v1.8h-.9zM324.0 171.5h.9v1.8h-.9zM369.0 171.5h.9v1.8h-.9zM378.0 171.5h.9v1.8h-.9zM384.0 171.5h.9v1.8h-.9zM308.0 172.5h.9v1.8h-.9zM324.0 172.5h.9v1.8h-.9zM331.0 172.5h.9v1.8h-.9zM332.0 172.5h.9v1.8h-.9zM306.0 173.5h.9v1.8h-.9zM335.0 173.5h.9v1.8h-.9zM359.0 173.5h.9v1.8h-.9zM365.0 173.5h.9v1.8h-.9zM313.0 174.5h.9v1.8h-.9zM318.0 174.5h.9v1.8h-.9zM325.0 174.5h.9v1.8h-.9zM346.0 174.5h.9v1.8h-.9zM365.0 174.5h.9v1.8h-.9zM384.0 174.5h.9v1.8h-.9zM392.0 174.5h.9v1.8h-.9zM350.0 175.5h.9v1.8h-.9zM357.0 175.5h.9v1.8h-.9zM300.0 176.5h.9v1.8h-.9zM303.0 176.5h.9v1.8h-.9zM318.0 176.5h.9v1.8h-.9zM325.0 176.5h.9v1.8h-.9zM356.0 176.5h.9v1.8h-.9zM365.0 176.5h.9v1.8h-.9zM387.0 176.5h.9v1.8h-.9zM304.0 177.5h.9v1.8h-.9zM350.0 177.5h.9v1.8h-.9zM362.0 177.5h.9v1.8h-.9zM316.0 178.5h.9v1.8h-.9zM365.0 178.5h.9v1.8h-.9zM297.0 179.5h.9v1.8h-.9zM330.0 179.5h.9v1.8h-.9zM366.0 179.5h.9v1.8h-.9zM384.0 179.5h.9v1.8h-.9zM308.0 180.5h.9v1.8h-.9zM366.0 180.5h.9v1.8h-.9zM371.0 180.5h.9v1.8h-.9zM374.0 180.5h.9v1.8h-.9zM376.0 180.5h.9v1.8h-.9zM380.0 180.5h.9v1.8h-.9zM317.0 181.5h.9v1.8h-.9zM335.0 181.5h.9v1.8h-.9zM358.0 181.5h.9v1.8h-.9zM375.0 181.5h.9v1.8h-.9zM376.0 181.5h.9v1.8h-.9zM309.0 182.5h.9v1.8h-.9zM310.0 182.5h.9v1.8h-.9zM321.0 182.5h.9v1.8h-.9zM343.0 182.5h.9v1.8h-.9zM347.0 182.5h.9v1.8h-.9zM350.0 182.5h.9v1.8h-.9zM356.0 182.5h.9v1.8h-.9zM304.0 183.5h.9v1.8h-.9zM359.0 183.5h.9v1.8h-.9zM386.0 183.5h.9v1.8h-.9zM392.0 183.5h.9v1.8h-.9zM306.0 184.5h.9v1.8h-.9zM330.0 184.5h.9v1.8h-.9zM353.0 184.5h.9v1.8h-.9zM358.0 184.5h.9v1.8h-.9zM362.0 184.5h.9v1.8h-.9zM384.0 184.5h.9v1.8h-.9zM319.0 185.5h.9v1.8h-.9zM321.0 185.5h.9v1.8h-.9zM324.0 185.5h.9v1.8h-.9zM325.0 185.5h.9v1.8h-.9zM338.0 185.5h.9v1.8h-.9zM340.0 185.5h.9v1.8h-.9zM367.0 185.5h.9v1.8h-.9zM386.0 185.5h.9v1.8h-.9zM391.0 185.5h.9v1.8h-.9zM304.0 186.5h.9v1.8h-.9zM323.0 186.5h.9v1.8h-.9zM330.0 186.5h.9v1.8h-.9zM347.0 186.5h.9v1.8h-.9zM361.0 186.5h.9v1.8h-.9zM377.0 186.5h.9v1.8h-.9zM310.0 187.5h.9v1.8h-.9zM325.0 187.5h.9v1.8h-.9zM327.0 187.5h.9v1.8h-.9zM329.0 187.5h.9v1.8h-.9zM337.0 187.5h.9v1.8h-.9zM356.0 187.5h.9v1.8h-.9zM363.0 187.5h.9v1.8h-.9zM364.0 187.5h.9v1.8h-.9zM366.0 187.5h.9v1.8h-.9zM370.0 187.5h.9v1.8h-.9zM375.0 187.5h.9v1.8h-.9zM389.0 187.5h.9v1.8h-.9zM392.0 187.5h.9v1.8h-.9zM323.0 188.5h.9v1.8h-.9zM325.0 188.5h.9v1.8h-.9zM326.0 188.5h.9v1.8h-.9zM344.0 188.5h.9v1.8h-.9zM347.0 188.5h.9v1.8h-.9zM350.0 188.5h.9v1.8h-.9zM369.0 188.5h.9v1.8h-.9zM308.0 189.5h.9v1.8h-.9zM321.0 189.5h.9v1.8h-.9zM323.0 189.5h.9v1.8h-.9zM324.0 189.5h.9v1.8h-.9zM332.0 189.5h.9v1.8h-.9zM340.0 189.5h.9v1.8h-.9zM374.0 189.5h.9v1.8h-.9zM375.0 189.5h.9v1.8h-.9zM328.0 190.5h.9v1.8h-.9zM334.0 190.5h.9v1.8h-.9zM340.0 190.5h.9v1.8h-.9zM379.0 190.5h.9v1.8h-.9zM390.0 190.5h.9v1.8h-.9zM334.0 191.5h.9v1.8h-.9zM369.0 191.5h.9v1.8h-.9zM378.0 191.5h.9v1.8h-.9zM379.0 191.5h.9v1.8h-.9zM302.0 192.5h.9v1.8h-.9zM337.0 192.5h.9v1.8h-.9zM347.0 192.5h.9v1.8h-.9zM353.0 192.5h.9v1.8h-.9zM298.0 193.5h.9v1.8h-.9zM317.0 193.5h.9v1.8h-.9zM320.0 193.5h.9v1.8h-.9zM330.0 193.5h.9v1.8h-.9zM348.0 193.5h.9v1.8h-.9zM387.0 193.5h.9v1.8h-.9zM321.0 194.5h.9v1.8h-.9zM344.0 194.5h.9v1.8h-.9zM364.0 194.5h.9v1.8h-.9zM369.0 194.5h.9v1.8h-.9zM375.0 194.5h.9v1.8h-.9zM378.0 194.5h.9v1.8h-.9zM299.0 195.5h.9v1.8h-.9zM377.0 195.5h.9v1.8h-.9zM378.0 195.5h.9v1.8h-.9zM383.0 195.5h.9v1.8h-.9zM314.0 196.5h.9v1.8h-.9zM379.0 196.5h.9v1.8h-.9zM393.0 196.5h.9v1.8h-.9zM318.0 197.5h.9v1.8h-.9zM319.0 197.5h.9v1.8h-.9zM323.0 197.5h.9v1.8h-.9zM376.0 197.5h.9v1.8h-.9zM315.0 198.5h.9v1.8h-.9zM318.0 198.5h.9v1.8h-.9zM345.0 198.5h.9v1.8h-.9zM352.0 198.5h.9v1.8h-.9zM375.0 198.5h.9v1.8h-.9zM386.0 198.5h.9v1.8h-.9zM307.0 199.5h.9v1.8h-.9zM317.0 199.5h.9v1.8h-.9zM379.0 199.5h.9v1.8h-.9zM299.0 200.5h.9v1.8h-.9zM345.0 200.5h.9v1.8h-.9zM352.0 200.5h.9v1.8h-.9zM361.0 200.5h.9v1.8h-.9zM380.0 200.5h.9v1.8h-.9zM306.0 201.5h.9v1.8h-.9zM347.0 201.5h.9v1.8h-.9zM363.0 201.5h.9v1.8h-.9zM300.0 202.5h.9v1.8h-.9zM299.0 203.5h.9v1.8h-.9zM306.0 203.5h.9v1.8h-.9zM310.0 203.5h.9v1.8h-.9zM320.0 203.5h.9v1.8h-.9zM379.0 203.5h.9v1.8h-.9zM314.0 204.5h.9v1.8h-.9zM349.0 204.5h.9v1.8h-.9zM297.0 205.5h.9v1.8h-.9zM321.0 205.5h.9v1.8h-.9zM357.0 205.5h.9v1.8h-.9zM297.0 206.5h.9v1.8h-.9zM332.0 206.5h.9v1.8h-.9zM342.0 206.5h.9v1.8h-.9zM352.0 206.5h.9v1.8h-.9zM375.0 206.5h.9v1.8h-.9zM310.0 207.5h.9v1.8h-.9zM379.0 207.5h.9v1.8h-.9zM385.0 207.5h.9v1.8h-.9zM310.0 208.5h.9v1.8h-.9zM321.0 208.5h.9v1.8h-.9zM379.0 208.5h.9v1.8h-.9zM310.0 209.5h.9v1.8h-.9zM347.0 209.5h.9v1.8h-.9zM373.0 209.5h.9v1.8h-.9zM391.0 209.5h.9v1.8h-.9zM312.0 210.5h.9v1.8h-.9zM332.0 210.5h.9v1.8h-.9zM308.0 211.5h.9v1.8h-.9zM314.0 211.5h.9v1.8h-.9zM333.0 211.5h.9v1.8h-.9zM356.0 211.5h.9v1.8h-.9zM366.0 211.5h.9v1.8h-.9zM299.0 212.5h.9v1.8h-.9zM357.0 212.5h.9v1.8h-.9zM361.0 212.5h.9v1.8h-.9zM364.0 212.5h.9v1.8h-.9zM325.0 213.5h.9v1.8h-.9zM350.0 213.5h.9v1.8h-.9zM313.0 214.5h.9v1.8h-.9zM329.0 214.5h.9v1.8h-.9zM334.0 214.5h.9v1.8h-.9zM349.0 214.5h.9v1.8h-.9zM355.0 214.5h.9v1.8h-.9zM366.0 214.5h.9v1.8h-.9zM376.0 214.5h.9v1.8h-.9zM330.0 215.5h.9v1.8h-.9zM366.0 215.5h.9v1.8h-.9zM390.0 215.5h.9v1.8h-.9zM343.0 216.5h.9v1.8h-.9zM376.0 216.5h.9v1.8h-.9z"/>
<path fill="#f5c0c0" d="M300.0 127.5h.9v1.8h-.9zM311.0 127.5h.9v1.8h-.9zM313.0 127.5h.9v1.8h-.9zM326.0 127.5h.9v1.8h-.9zM330.0 127.5h.9v1.8h-.9zM340.0 127.5h.9v1.8h-.9zM348.0 127.5h.9v1.8h-.9zM350.0 127.5h.9v1.8h-.9zM351.0 127.5h.9v1.8h-.9zM354.0 127.5h.9v1.8h-.9zM383.0 127.5h.9v1.8h-.9zM316.0 128.5h.9v1.8h-.9zM318.0 128.5h.9v1.8h-.9zM322.0 128.5h.9v1.8h-.9zM323.0 128.5h.9v1.8h-.9zM327.0 128.5h.9v1.8h-.9zM342.0 128.5h.9v1.8h-.9zM349.0 128.5h.9v1.8h-.9zM355.0 128.5h.9v1.8h-.9zM367.0 128.5h.9v1.8h-.9zM380.0 128.5h.9v1.8h-.9zM384.0 128.5h.9v1.8h-.9zM299.0 129.5h.9v1.8h-.9zM301.0 129.5h.9v1.8h-.9zM335.0 129.5h.9v1.8h-.9zM345.0 129.5h.9v1.8h-.9zM352.0 129.5h.9v1.8h-.9zM362.0 129.5h.9v1.8h-.9zM363.0 129.5h.9v1.8h-.9zM364.0 129.5h.9v1.8h-.9zM376.0 129.5h.9v1.8h-.9zM383.0 129.5h.9v1.8h-.9zM393.0 129.5h.9v1.8h-.9zM297.0 130.5h.9v1.8h-.9zM306.0 130.5h.9v1.8h-.9zM309.0 130.5h.9v1.8h-.9zM316.0 130.5h.9v1.8h-.9zM345.0 130.5h.9v1.8h-.9zM379.0 130.5h.9v1.8h-.9zM390.0 130.5h.9v1.8h-.9zM391.0 130.5h.9v1.8h-.9zM304.0 131.5h.9v1.8h-.9zM320.0 131.5h.9v1.8h-.9zM321.0 131.5h.9v1.8h-.9zM328.0 131.5h.9v1.8h-.9zM337.0 131.5h.9v1.8h-.9zM347.0 131.5h.9v1.8h-.9zM350.0 131.5h.9v1.8h-.9zM355.0 131.5h.9v1.8h-.9zM376.0 131.5h.9v1.8h-.9zM390.0 131.5h.9v1.8h-.9zM305.0 132.5h.9v1.8h-.9zM306.0 132.5h.9v1.8h-.9zM312.0 132.5h.9v1.8h-.9zM324.0 132.5h.9v1.8h-.9zM325.0 132.5h.9v1.8h-.9zM335.0 132.5h.9v1.8h-.9zM348.0 132.5h.9v1.8h-.9zM357.0 132.5h.9v1.8h-.9zM366.0 132.5h.9v1.8h-.9zM381.0 132.5h.9v1.8h-.9zM386.0 132.5h.9v1.8h-.9zM390.0 132.5h.9v1.8h-.9zM391.0 132.5h.9v1.8h-.9zM297.0 133.5h.9v1.8h-.9zM302.0 133.5h.9v1.8h-.9zM310.0 133.5h.9v1.8h-.9zM311.0 133.5h.9v1.8h-.9zM315.0 133.5h.9v1.8h-.9zM319.0 133.5h.9v1.8h-.9zM329.0 133.5h.9v1.8h-.9zM337.0 133.5h.9v1.8h-.9zM356.0 133.5h.9v1.8h-.9zM359.0 133.5h.9v1.8h-.9zM381.0 133.5h.9v1.8h-.9zM383.0 133.5h.9v1.8h-.9zM388.0 133.5h.9v1.8h-.9zM392.0 133.5h.9v1.8h-.9zM315.0 134.5h.9v1.8h-.9zM344.0 134.5h.9v1.8h-.9zM360.0 134.5h.9v1.8h-.9zM369.0 134.5h.9v1.8h-.9zM373.0 134.5h.9v1.8h-.9zM375.0 134.5h.9v1.8h-.9zM382.0 134.5h.9v1.8h-.9zM350.0 135.5h.9v1.8h-.9zM386.0 135.5h.9v1.8h-.9zM315.0 136.5h.9v1.8h-.9zM337.0 136.5h.9v1.8h-.9zM311.0 137.5h.9v1.8h-.9zM319.0 137.5h.9v1.8h-.9zM341.0 137.5h.9v1.8h-.9zM366.0 137.5h.9v1.8h-.9zM375.0 137.5h.9v1.8h-.9zM385.0 137.5h.9v1.8h-.9zM390.0 137.5h.9v1.8h-.9zM299.0 138.5h.9v1.8h-.9zM315.0 138.5h.9v1.8h-.9zM319.0 138.5h.9v1.8h-.9zM332.0 138.5h.9v1.8h-.9zM341.0 138.5h.9v1.8h-.9zM372.0 138.5h.9v1.8h-.9zM393.0 138.5h.9v1.8h-.9zM300.0 139.5h.9v1.8h-.9zM308.0 139.5h.9v1.8h-.9zM340.0 139.5h.9v1.8h-.9zM346.0 139.5h.9v1.8h-.9zM361.0 139.5h.9v1.8h-.9zM373.0 139.5h.9v1.8h-.9zM375.0 139.5h.9v1.8h-.9zM302.0 140.5h.9v1.8h-.9zM322.0 140.5h.9v1.8h-.9zM336.0 140.5h.9v1.8h-.9zM344.0 140.5h.9v1.8h-.9zM347.0 140.5h.9v1.8h-.9zM358.0 140.5h.9v1.8h-.9zM363.0 140.5h.9v1.8h-.9zM368.0 140.5h.9v1.8h-.9zM369.0 140.5h.9v1.8h-.9zM382.0 140.5h.9v1.8h-.9zM386.0 140.5h.9v1.8h-.9zM306.0 141.5h.9v1.8h-.9zM322.0 141.5h.9v1.8h-.9zM324.0 141.5h.9v1.8h-.9zM326.0 141.5h.9v1.8h-.9zM339.0 141.5h.9v1.8h-.9zM359.0 141.5h.9v1.8h-.9zM362.0 141.5h.9v1.8h-.9zM369.0 141.5h.9v1.8h-.9zM377.0 141.5h.9v1.8h-.9zM391.0 141.5h.9v1.8h-.9zM328.0 142.5h.9v1.8h-.9zM333.0 142.5h.9v1.8h-.9zM338.0 142.5h.9v1.8h-.9zM353.0 142.5h.9v1.8h-.9zM369.0 142.5h.9v1.8h-.9zM372.0 142.5h.9v1.8h-.9zM333.0 143.5h.9v1.8h-.9zM339.0 143.5h.9v1.8h-.9zM354.0 143.5h.9v1.8h-.9zM367.0 143.5h.9v1.8h-.9zM377.0 143.5h.9v1.8h-.9zM378.0 143.5h.9v1.8h-.9zM314.0 144.5h.9v1.8h-.9zM323.0 144.5h.9v1.8h-.9zM341.0 144.5h.9v1.8h-.9zM344.0 144.5h.9v1.8h-.9zM345.0 144.5h.9v1.8h-.9zM391.0 144.5h.9v1.8h-.9zM316.0 145.5h.9v1.8h-.9zM328.0 145.5h.9v1.8h-.9zM330.0 145.5h.9v1.8h-.9zM344.0 145.5h.9v1.8h-.9zM362.0 145.5h.9v1.8h-.9zM366.0 145.5h.9v1.8h-.9zM388.0 145.5h.9v1.8h-.9zM301.0 146.5h.9v1.8h-.9zM312.0 146.5h.9v1.8h-.9zM331.0 146.5h.9v1.8h-.9zM350.0 146.5h.9v1.8h-.9zM366.0 146.5h.9v1.8h-.9zM369.0 146.5h.9v1.8h-.9zM373.0 146.5h.9v1.8h-.9zM378.0 146.5h.9v1.8h-.9zM382.0 146.5h.9v1.8h-.9zM386.0 146.5h.9v1.8h-.9zM297.0 147.5h.9v1.8h-.9zM320.0 147.5h.9v1.8h-.9zM324.0 147.5h.9v1.8h-.9zM373.0 147.5h.9v1.8h-.9zM301.0 148.5h.9v1.8h-.9zM312.0 148.5h.9v1.8h-.9zM325.0 148.5h.9v1.8h-.9zM326.0 148.5h.9v1.8h-.9zM353.0 148.5h.9v1.8h-.9zM357.0 148.5h.9v1.8h-.9zM358.0 148.5h.9v1.8h-.9zM364.0 148.5h.9v1.8h-.9zM366.0 148.5h.9v1.8h-.9zM380.0 148.5h.9v1.8h-.9zM390.0 148.5h.9v1.8h-.9zM307.0 149.5h.9v1.8h-.9zM308.0 149.5h.9v1.8h-.9zM312.0 149.5h.9v1.8h-.9zM330.0 149.5h.9v1.8h-.9zM342.0 149.5h.9v1.8h-.9zM348.0 149.5h.9v1.8h-.9zM352.0 149.5h.9v1.8h-.9zM353.0 149.5h.9v1.8h-.9zM300.0 150.5h.9v1.8h-.9zM305.0 150.5h.9v1.8h-.9zM341.0 150.5h.9v1.8h-.9zM363.0 150.5h.9v1.8h-.9zM331.0 151.5h.9v1.8h-.9zM365.0 151.5h.9v1.8h-.9zM366.0 151.5h.9v1.8h-.9zM380.0 151.5h.9v1.8h-.9zM391.0 151.5h.9v1.8h-.9zM381.0 152.5h.9v1.8h-.9zM384.0 152.5h.9v1.8h-.9zM300.0 153.5h.9v1.8h-.9zM320.0 153.5h.9v1.8h-.9zM322.0 153.5h.9v1.8h-.9zM338.0 153.5h.9v1.8h-.9zM357.0 153.5h.9v1.8h-.9zM319.0 154.5h.9v1.8h-.9zM344.0 154.5h.9v1.8h-.9zM311.0 155.5h.9v1.8h-.9zM332.0 155.5h.9v1.8h-.9zM377.0 155.5h.9v1.8h-.9zM360.0 156.5h.9v1.8h-.9zM375.0 156.5h.9v1.8h-.9zM347.0 157.5h.9v1.8h-.9zM297.0 161.5h.9v1.8h-.9zM367.0 161.5h.9v1.8h-.9zM369.0 161.5h.9v1.8h-.9zM307.0 162.5h.9v1.8h-.9zM330.0 162.5h.9v1.8h-.9zM382.0 162.5h.9v1.8h-.9zM390.0 162.5h.9v1.8h-.9zM391.0 162.5h.9v1.8h-.9zM393.0 162.5h.9v1.8h-.9zM303.0 163.5h.9v1.8h-.9zM322.0 163.5h.9v1.8h-.9zM341.0 163.5h.9v1.8h-.9zM344.0 163.5h.9v1.8h-.9zM345.0 163.5h.9v1.8h-.9zM356.0 163.5h.9v1.8h-.9zM358.0 163.5h.9v1.8h-.9zM363.0 163.5h.9v1.8h-.9zM368.0 163.5h.9v1.8h-.9zM370.0 163.5h.9v1.8h-.9zM376.0 163.5h.9v1.8h-.9zM386.0 163.5h.9v1.8h-.9zM389.0 163.5h.9v1.8h-.9zM297.0 164.5h.9v1.8h-.9zM299.0 164.5h.9v1.8h-.9zM301.0 164.5h.9v1.8h-.9zM306.0 164.5h.9v1.8h-.9zM325.0 164.5h.9v1.8h-.9zM331.0 164.5h.9v1.8h-.9zM355.0 164.5h.9v1.8h-.9zM369.0 164.5h.9v1.8h-.9zM299.0 165.5h.9v1.8h-.9zM325.0 165.5h.9v1.8h-.9zM329.0 165.5h.9v1.8h-.9zM330.0 165.5h.9v1.8h-.9zM334.0 165.5h.9v1.8h-.9zM338.0 165.5h.9v1.8h-.9zM360.0 165.5h.9v1.8h-.9zM376.0 165.5h.9v1.8h-.9zM316.0 166.5h.9v1.8h-.9zM347.0 166.5h.9v1.8h-.9zM359.0 166.5h.9v1.8h-.9zM360.0 166.5h.9v1.8h-.9zM376.0 166.5h.9v1.8h-.9zM307.0 167.5h.9v1.8h-.9zM312.0 167.5h.9v1.8h-.9zM321.0 167.5h.9v1.8h-.9zM333.0 167.5h.9v1.8h-.9zM338.0 167.5h.9v1.8h-.9zM355.0 167.5h.9v1.8h-.9zM358.0 167.5h.9v1.8h-.9zM360.0 167.5h.9v1.8h-.9zM298.0 168.5h.9v1.8h-.9zM303.0 168.5h.9v1.8h-.9zM309.0 168.5h.9v1.8h-.9zM312.0 168.5h.9v1.8h-.9zM315.0 168.5h.9v1.8h-.9zM319.0 168.5h.9v1.8h-.9zM320.0 168.5h.9v1.8h-.9zM323.0 168.5h.9v1.8h-.9zM325.0 168.5h.9v1.8h-.9zM330.0 168.5h.9v1.8h-.9zM359.0 168.5h.9v1.8h-.9zM362.0 168.5h.9v1.8h-.9zM364.0 168.5h.9v1.8h-.9zM370.0 168.5h.9v1.8h-.9zM373.0 168.5h.9v1.8h-.9zM390.0 168.5h.9v1.8h-.9zM299.0 169.5h.9v1.8h-.9zM323.0 169.5h.9v1.8h-.9zM324.0 169.5h.9v1.8h-.9zM333.0 169.5h.9v1.8h-.9zM349.0 169.5h.9v1.8h-.9zM351.0 169.5h.9v1.8h-.9zM361.0 169.5h.9v1.8h-.9zM370.0 169.5h.9v1.8h-.9zM376.0 169.5h.9v1.8h-.9zM388.0 169.5h.9v1.8h-.9zM389.0 169.5h.9v1.8h-.9zM390.0 169.5h.9v1.8h-.9zM304.0 170.5h.9v1.8h-.9zM316.0 170.5h.9v1.8h-.9zM321.0 170.5h.9v1.8h-.9zM328.0 170.5h.9v1.8h-.9zM338.0 170.5h.9v1.8h-.9zM340.0 170.5h.9v1.8h-.9zM354.0 170.5h.9v1.8h-.9zM358.0 170.5h.9v1.8h-.9zM361.0 170.5h.9v1.8h-.9zM369.0 170.5h.9v1.8h-.9zM386.0 170.5h.9v1.8h-.9zM297.0 171.5h.9v1.8h-.9zM320.0 171.5h.9v1.8h-.9zM322.0 171.5h.9v1.8h-.9zM338.0 171.5h.9v1.8h-.9zM340.0 171.5h.9v1.8h-.9zM347.0 171.5h.9v1.8h-.9zM348.0 171.5h.9v1.8h-.9zM359.0 171.5h.9v1.8h-.9zM371.0 171.5h.9v1.8h-.9zM374.0 171.5h.9v1.8h-.9zM297.0 172.5h.9v1.8h-.9zM306.0 172.5h.9v1.8h-.9zM311.0 172.5h.9v1.8h-.9zM314.0 172.5h.9v1.8h-.9zM326.0 172.5h.9v1.8h-.9zM366.0 172.5h.9v1.8h-.9zM368.0 172.5h.9v1.8h-.9zM369.0 172.5h.9v1.8h-.9zM376.0 172.5h.9v1.8h-.9zM379.0 172.5h.9v1.8h-.9zM383.0 172.5h.9v1.8h-.9zM385.0 172.5h.9v1.8h-.9zM391.0 172.5h.9v1.8h-.9zM300.0 173.5h.9v1.8h-.9zM313.0 173.5h.9v1.8h-.9zM314.0 173.5h.9v1.8h-.9zM318.0 173.5h.9v1.8h-.9zM349.0 173.5h.9v1.8h-.9zM350.0 173.5h.9v1.8h-.9zM360.0 173.5h.9v1.8h-.9zM374.0 173.5h.9v1.8h-.9zM376.0 173.5h.9v1.8h-.9zM380.0 173.5h.9v1.8h-.9zM386.0 173.5h.9v1.8h-.9zM391.0 173.5h.9v1.8h-.9zM312.0 174.5h.9v1.8h-.9zM343.0 174.5h.9v1.8h-.9zM358.0 174.5h.9v1.8h-.9zM359.0 174.5h.9v1.8h-.9zM361.0 174.5h.9v1.8h-.9zM364.0 174.5h.9v1.8h-.9zM371.0 174.5h.9v1.8h-.9zM376.0 174.5h.9v1.8h-.9zM297.0 175.5h.9v1.8h-.9zM305.0 175.5h.9v1.8h-.9zM308.0 175.5h.9v1.8h-.9zM328.0 175.5h.9v1.8h-.9zM335.0 175.5h.9v1.8h-.9zM345.0 175.5h.9v1.8h-.9zM351.0 175.5h.9v1.8h-.9zM366.0 175.5h.9v1.8h-.9zM383.0 175.5h.9v1.8h-.9zM384.0 175.5h.9v1.8h-.9zM385.0 175.5h.9v1.8h-.9zM306.0 176.5h.9v1.8h-.9zM345.0 176.5h.9v1.8h-.9zM351.0 176.5h.9v1.8h-.9zM360.0 176.5h.9v1.8h-.9zM314.0 177.5h.9v1.8h-.9zM316.0 177.5h.9v1.8h-.9zM323.0 177.5h.9v1.8h-.9zM325.0 177.5h.9v1.8h-.9zM341.0 177.5h.9v1.8h-.9zM344.0 177.5h.9v1.8h-.9zM353.0 177.5h.9v1.8h-.9zM359.0 177.5h.9v1.8h-.9zM361.0 177.5h.9v1.8h-.9zM364.0 177.5h.9v1.8h-.9zM365.0 177.5h.9v1.8h-.9zM382.0 177.5h.9v1.8h-.9zM390.0 177.5h.9v1.8h-.9zM392.0 177.5h.9v1.8h-.9zM313.0 178.5h.9v1.8h-.9zM315.0 178.5h.9v1.8h-.9zM322.0 178.5h.9v1.8h-.9zM336.0 178.5h.9v1.8h-.9zM337.0 178.5h.9v1.8h-.9zM351.0 178.5h.9v1.8h-.9zM375.0 178.5h.9v1.8h-.9zM379.0 178.5h.9v1.8h-.9zM385.0 178.5h.9v1.8h-.9zM299.0 179.5h.9v1.8h-.9zM328.0 179.5h.9v1.8h-.9zM333.0 179.5h.9v1.8h-.9zM345.0 179.5h.9v1.8h-.9zM373.0 179.5h.9v1.8h-.9zM374.0 179.5h.9v1.8h-.9zM390.0 179.5h.9v1.8h-.9zM301.0 180.5h.9v1.8h-.9zM302.0 180.5h.9v1.8h-.9zM304.0 180.5h.9v1.8h-.9zM314.0 180.5h.9v1.8h-.9zM316.0 180.5h.9v1.8h-.9zM335.0 180.5h.9v1.8h-.9zM360.0 180.5h.9v1.8h-.9zM372.0 180.5h.9v1.8h-.9zM375.0 180.5h.9v1.8h-.9zM384.0 180.5h.9v1.8h-.9zM314.0 181.5h.9v1.8h-.9zM316.0 181.5h.9v1.8h-.9zM320.0 181.5h.9v1.8h-.9zM323.0 181.5h.9v1.8h-.9zM325.0 181.5h.9v1.8h-.9zM328.0 181.5h.9v1.8h-.9zM348.0 181.5h.9v1.8h-.9zM381.0 181.5h.9v1.8h-.9zM383.0 181.5h.9v1.8h-.9zM388.0 181.5h.9v1.8h-.9zM297.0 182.5h.9v1.8h-.9zM322.0 182.5h.9v1.8h-.9zM329.0 182.5h.9v1.8h-.9zM346.0 182.5h.9v1.8h-.9zM367.0 182.5h.9v1.8h-.9zM370.0 182.5h.9v1.8h-.9zM374.0 182.5h.9v1.8h-.9zM389.0 182.5h.9v1.8h-.9zM390.0 182.5h.9v1.8h-.9zM299.0 183.5h.9v1.8h-.9zM314.0 183.5h.9v1.8h-.9zM329.0 183.5h.9v1.8h-.9zM344.0 183.5h.9v1.8h-.9zM350.0 183.5h.9v1.8h-.9zM363.0 183.5h.9v1.8h-.9zM371.0 183.5h.9v1.8h-.9zM374.0 183.5h.9v1.8h-.9zM391.0 183.5h.9v1.8h-.9zM299.0 184.5h.9v1.8h-.9zM308.0 184.5h.9v1.8h-.9zM312.0 184.5h.9v1.8h-.9zM313.0 184.5h.9v1.8h-.9zM314.0 184.5h.9v1.8h-.9zM317.0 184.5h.9v1.8h-.9zM327.0 184.5h.9v1.8h-.9zM329.0 184.5h.9v1.8h-.9zM336.0 184.5h.9v1.8h-.9zM341.0 184.5h.9v1.8h-.9zM369.0 184.5h.9v1.8h-.9zM380.0 184.5h.9v1.8h-.9zM332.0 185.5h.9v1.8h-.9zM341.0 185.5h.9v1.8h-.9zM348.0 185.5h.9v1.8h-.9zM356.0 185.5h.9v1.8h-.9zM392.0 185.5h.9v1.8h-.9zM351.0 186.5h.9v1.8h-.9zM359.0 186.5h.9v1.8h-.9zM364.0 186.5h.9v1.8h-.9zM366.0 186.5h.9v1.8h-.9zM378.0 186.5h.9v1.8h-.9zM384.0 186.5h.9v1.8h-.9zM311.0 187.5h.9v1.8h-.9zM312.0 187.5h.9v1.8h-.9zM322.0 187.5h.9v1.8h-.9zM328.0 187.5h.9v1.8h-.9zM330.0 187.5h.9v1.8h-.9zM355.0 187.5h.9v1.8h-.9zM373.0 187.5h.9v1.8h-.9zM386.0 187.5h.9v1.8h-.9zM317.0 188.5h.9v1.8h-.9zM318.0 188.5h.9v1.8h-.9zM336.0 188.5h.9v1.8h-.9zM342.0 188.5h.9v1.8h-.9zM311.0 189.5h.9v1.8h-.9zM326.0 189.5h.9v1.8h-.9zM366.0 189.5h.9v1.8h-.9zM373.0 189.5h.9v1.8h-.9zM376.0 189.5h.9v1.8h-.9zM385.0 189.5h.9v1.8h-.9zM313.0 190.5h.9v1.8h-.9zM350.0 190.5h.9v1.8h-.9zM373.0 190.5h.9v1.8h-.9zM304.0 191.5h.9v1.8h-.9zM306.0 191.5h.9v1.8h-.9zM316.0 191.5h.9v1.8h-.9zM323.0 191.5h.9v1.8h-.9zM327.0 191.5h.9v1.8h-.9zM340.0 191.5h.9v1.8h-.9zM343.0 191.5h.9v1.8h-.9zM360.0 191.5h.9v1.8h-.9zM373.0 191.5h.9v1.8h-.9zM384.0 191.5h.9v1.8h-.9zM386.0 191.5h.9v1.8h-.9zM391.0 191.5h.9v1.8h-.9zM308.0 192.5h.9v1.8h-.9zM324.0 192.5h.9v1.8h-.9zM344.0 192.5h.9v1.8h-.9zM348.0 192.5h.9v1.8h-.9zM354.0 192.5h.9v1.8h-.9zM359.0 192.5h.9v1.8h-.9zM364.0 192.5h.9v1.8h-.9zM366.0 192.5h.9v1.8h-.9zM301.0 193.5h.9v1.8h-.9zM304.0 193.5h.9v1.8h-.9zM306.0 193.5h.9v1.8h-.9zM344.0 193.5h.9v1.8h-.9zM355.0 193.5h.9v1.8h-.9zM356.0 193.5h.9v1.8h-.9zM372.0 193.5h.9v1.8h-.9zM373.0 193.5h.9v1.8h-.9zM384.0 193.5h.9v1.8h-.9zM298.0 194.5h.9v1.8h-.9zM331.0 194.5h.9v1.8h-.9zM354.0 194.5h.9v1.8h-.9zM360.0 194.5h.9v1.8h-.9zM330.0 195.5h.9v1.8h-.9zM337.0 195.5h.9v1.8h-.9zM345.0 195.5h.9v1.8h-.9zM364.0 195.5h.9v1.8h-.9zM381.0 195.5h.9v1.8h-.9zM302.0 196.5h.9v1.8h-.9zM309.0 196.5h.9v1.8h-.9zM310.0 196.5h.9v1.8h-.9zM335.0 196.5h.9v1.8h-.9zM344.0 196.5h.9v1.8h-.9zM368.0 196.5h.9v1.8h-.9zM301.0 197.5h.9v1.8h-.9zM360.0 197.5h.9v1.8h-.9zM373.0 197.5h.9v1.8h-.9zM374.0 198.5h.9v1.8h-.9zM377.0 198.5h.9v1.8h-.9zM323.0 199.5h.9v1.8h-.9zM346.0 199.5h.9v1.8h-.9zM356.0 199.5h.9v1.8h-.9zM360.0 199.5h.9v1.8h-.9zM369.0 199.5h.9v1.8h-.9zM390.0 199.5h.9v1.8h-.9zM308.0 200.5h.9v1.8h-.9zM381.0 200.5h.9v1.8h-.9zM381.0 201.5h.9v1.8h-.9zM358.0 202.5h.9v1.8h-.9zM385.0 202.5h.9v1.8h-.9zM337.0 203.5h.9v1.8h-.9zM368.0 203.5h.9v1.8h-.9zM329.0 204.5h.9v1.8h-.9zM361.0 205.5h.9v1.8h-.9zM305.0 206.5h.9v1.8h-.9zM355.0 206.5h.9v1.8h-.9zM366.0 206.5h.9v1.8h-.9zM389.0 206.5h.9v1.8h-.9zM391.0 206.5h.9v1.8h-.9zM322.0 207.5h.9v1.8h-.9zM357.0 207.5h.9v1.8h-.9zM373.0 207.5h.9v1.8h-.9zM308.0 208.5h.9v1.8h-.9zM343.0 208.5h.9v1.8h-.9zM382.0 208.5h.9v1.8h-.9zM340.0 209.5h.9v1.8h-.9zM352.0 209.5h.9v1.8h-.9zM372.0 210.5h.9v1.8h-.9zM393.0 210.5h.9v1.8h-.9zM325.0 212.5h.9v1.8h-.9zM354.0 212.5h.9v1.8h-.9zM360.0 213.5h.9v1.8h-.9zM379.0 213.5h.9v1.8h-.9zM330.0 214.5h.9v1.8h-.9zM338.0 214.5h.9v1.8h-.9zM305.0 215.5h.9v1.8h-.9zM317.0 215.5h.9v1.8h-.9zM382.0 215.5h.9v1.8h-.9zM298.0 216.5h.9v1.8h-.9zM341.0 216.5h.9v1.8h-.9zM379.0 216.5h.9v1.8h-.9z"/>
<path fill="#eea4a4" d="M312.0 127.5h.9v1.8h-.9zM321.0 127.5h.9v1.8h-.9zM338.0 127.5h.9v1.8h-.9zM353.0 127.5h.9v1.8h-.9zM359.0 127.5h.9v1.8h-.9zM360.0 127.5h.9v1.8h-.9zM364.0 127.5h.9v1.8h-.9zM371.0 127.5h.9v1.8h-.9zM372.0 127.5h.9v1.8h-.9zM379.0 127.5h.9v1.8h-.9zM386.0 127.5h.9v1.8h-.9zM301.0 128.5h.9v1.8h-.9zM305.0 128.5h.9v1.8h-.9zM339.0 128.5h.9v1.8h-.9zM347.0 128.5h.9v1.8h-.9zM348.0 128.5h.9v1.8h-.9zM356.0 128.5h.9v1.8h-.9zM376.0 128.5h.9v1.8h-.9zM378.0 128.5h.9v1.8h-.9zM382.0 128.5h.9v1.8h-.9zM386.0 128.5h.9v1.8h-.9zM388.0 128.5h.9v1.8h-.9zM391.0 128.5h.9v1.8h-.9zM306.0 129.5h.9v1.8h-.9zM312.0 129.5h.9v1.8h-.9zM316.0 129.5h.9v1.8h-.9zM317.0 129.5h.9v1.8h-.9zM323.0 129.5h.9v1.8h-.9zM328.0 129.5h.9v1.8h-.9zM330.0 129.5h.9v1.8h-.9zM354.0 129.5h.9v1.8h-.9zM370.0 129.5h.9v1.8h-.9zM373.0 129.5h.9v1.8h-.9zM378.0 129.5h.9v1.8h-.9zM390.0 129.5h.9v1.8h-.9zM317.0 130.5h.9v1.8h-.9zM321.0 130.5h.9v1.8h-.9zM322.0 130.5h.9v1.8h-.9zM323.0 130.5h.9v1.8h-.9zM324.0 130.5h.9v1.8h-.9zM341.0 130.5h.9v1.8h-.9zM347.0 130.5h.9v1.8h-.9zM353.0 130.5h.9v1.8h-.9zM369.0 130.5h.9v1.8h-.9zM372.0 130.5h.9v1.8h-.9zM383.0 130.5h.9v1.8h-.9zM300.0 131.5h.9v1.8h-.9zM312.0 131.5h.9v1.8h-.9zM331.0 131.5h.9v1.8h-.9zM333.0 131.5h.9v1.8h-.9zM341.0 131.5h.9v1.8h-.9zM362.0 131.5h.9v1.8h-.9zM365.0 131.5h.9v1.8h-.9zM375.0 131.5h.9v1.8h-.9zM300.0 132.5h.9v1.8h-.9zM302.0 132.5h.9v1.8h-.9zM332.0 132.5h.9v1.8h-.9zM360.0 132.5h.9v1.8h-.9zM370.0 132.5h.9v1.8h-.9zM371.0 132.5h.9v1.8h-.9zM373.0 132.5h.9v1.8h-.9zM376.0 132.5h.9v1.8h-.9zM379.0 132.5h.9v1.8h-.9zM336.0 133.5h.9v1.8h-.9zM354.0 133.5h.9v1.8h-.9zM361.0 133.5h.9v1.8h-.9zM366.0 133.5h.9v1.8h-.9zM370.0 133.5h.9v1.8h-.9zM380.0 133.5h.9v1.8h-.9zM302.0 134.5h.9v1.8h-.9zM305.0 134.5h.9v1.8h-.9zM306.0 134.5h.9v1.8h-.9zM314.0 134.5h.9v1.8h-.9zM323.0 134.5h.9v1.8h-.9zM324.0 134.5h.9v1.8h-.9zM346.0 134.5h.9v1.8h-.9zM352.0 134.5h.9v1.8h-.9zM363.0 134.5h.9v1.8h-.9zM370.0 134.5h.9v1.8h-.9zM371.0 134.5h.9v1.8h-.9zM379.0 134.5h.9v1.8h-.9zM388.0 134.5h.9v1.8h-.9zM302.0 135.5h.9v1.8h-.9zM306.0 135.5h.9v1.8h-.9zM321.0 135.5h.9v1.8h-.9zM359.0 135.5h.9v1.8h-.9zM392.0 135.5h.9v1.8h-.9zM310.0 136.5h.9v1.8h-.9zM340.0 136.5h.9v1.8h-.9zM349.0 136.5h.9v1.8h-.9zM354.0 136.5h.9v1.8h-.9zM364.0 136.5h.9v1.8h-.9zM386.0 136.5h.9v1.8h-.9zM389.0 136.5h.9v1.8h-.9zM391.0 136.5h.9v1.8h-.9zM333.0 137.5h.9v1.8h-.9zM352.0 137.5h.9v1.8h-.9zM358.0 137.5h.9v1.8h-.9zM362.0 137.5h.9v1.8h-.9zM365.0 137.5h.9v1.8h-.9zM372.0 137.5h.9v1.8h-.9zM377.0 137.5h.9v1.8h-.9zM380.0 137.5h.9v1.8h-.9zM391.0 137.5h.9v1.8h-.9zM322.0 138.5h.9v1.8h-.9zM360.0 138.5h.9v1.8h-.9zM367.0 138.5h.9v1.8h-.9zM373.0 138.5h.9v1.8h-.9zM391.0 138.5h.9v1.8h-.9zM301.0 139.5h.9v1.8h-.9zM314.0 139.5h.9v1.8h-.9zM330.0 139.5h.9v1.8h-.9zM333.0 139.5h.9v1.8h-.9zM338.0 139.5h.9v1.8h-.9zM344.0 139.5h.9v1.8h-.9zM348.0 139.5h.9v1.8h-.9zM352.0 139.5h.9v1.8h-.9zM359.0 139.5h.9v1.8h-.9zM360.0 139.5h.9v1.8h-.9zM363.0 139.5h.9v1.8h-.9zM364.0 139.5h.9v1.8h-.9zM365.0 139.5h.9v1.8h-.9zM372.0 139.5h.9v1.8h-.9zM380.0 139.5h.9v1.8h-.9zM382.0 139.5h.9v1.8h-.9zM384.0 139.5h.9v1.8h-.9zM386.0 139.5h.9v1.8h-.9zM387.0 139.5h.9v1.8h-.9zM297.0 140.5h.9v1.8h-.9zM306.0 140.5h.9v1.8h-.9zM307.0 140.5h.9v1.8h-.9zM308.0 140.5h.9v1.8h-.9zM312.0 140.5h.9v1.8h-.9zM326.0 140.5h.9v1.8h-.9zM327.0 140.5h.9v1.8h-.9zM328.0 140.5h.9v1.8h-.9zM329.0 140.5h.9v1.8h-.9zM331.0 140.5h.9v1.8h-.9zM333.0 140.5h.9v1.8h-.9zM340.0 140.5h.9v1.8h-.9zM343.0 140.5h.9v1.8h-.9zM352.0 140.5h.9v1.8h-.9zM354.0 140.5h.9v1.8h-.9zM357.0 140.5h.9v1.8h-.9zM362.0 140.5h.9v1.8h-.9zM364.0 140.5h.9v1.8h-.9zM366.0 140.5h.9v1.8h-.9zM367.0 140.5h.9v1.8h-.9zM375.0 140.5h.9v1.8h-.9zM379.0 140.5h.9v1.8h-.9zM380.0 140.5h.9v1.8h-.9zM385.0 140.5h.9v1.8h-.9zM387.0 140.5h.9v1.8h-.9zM390.0 140.5h.9v1.8h-.9zM392.0 140.5h.9v1.8h-.9zM307.0 141.5h.9v1.8h-.9zM308.0 141.5h.9v1.8h-.9zM312.0 141.5h.9v1.8h-.9zM316.0 141.5h.9v1.8h-.9zM318.0 141.5h.9v1.8h-.9zM319.0 141.5h.9v1.8h-.9zM323.0 141.5h.9v1.8h-.9zM329.0 141.5h.9v1.8h-.9zM344.0 141.5h.9v1.8h-.9zM348.0 141.5h.9v1.8h-.9zM352.0 141.5h.9v1.8h-.9zM355.0 141.5h.9v1.8h-.9zM366.0 141.5h.9v1.8h-.9zM371.0 141.5h.9v1.8h-.9zM373.0 141.5h.9v1.8h-.9zM376.0 141.5h.9v1.8h-.9zM380.0 141.5h.9v1.8h-.9zM383.0 141.5h.9v1.8h-.9zM304.0 142.5h.9v1.8h-.9zM312.0 142.5h.9v1.8h-.9zM313.0 142.5h.9v1.8h-.9zM349.0 142.5h.9v1.8h-.9zM355.0 142.5h.9v1.8h-.9zM297.0 143.5h.9v1.8h-.9zM343.0 143.5h.9v1.8h-.9zM344.0 143.5h.9v1.8h-.9zM348.0 143.5h.9v1.8h-.9zM363.0 143.5h.9v1.8h-.9zM327.0 144.5h.9v1.8h-.9zM333.0 144.5h.9v1.8h-.9zM338.0 144.5h.9v1.8h-.9zM353.0 144.5h.9v1.8h-.9zM371.0 144.5h.9v1.8h-.9zM323.0 145.5h.9v1.8h-.9zM360.0 145.5h.9v1.8h-.9zM361.0 145.5h.9v1.8h-.9zM367.0 145.5h.9v1.8h-.9zM322.0 147.5h.9v1.8h-.9zM342.0 147.5h.9v1.8h-.9zM347.0 147.5h.9v1.8h-.9zM335.0 148.5h.9v1.8h-.9zM347.0 148.5h.9v1.8h-.9zM386.0 148.5h.9v1.8h-.9zM319.0 149.5h.9v1.8h-.9zM360.0 149.5h.9v1.8h-.9zM311.0 151.5h.9v1.8h-.9zM387.0 151.5h.9v1.8h-.9zM298.0 152.5h.9v1.8h-.9zM378.0 152.5h.9v1.8h-.9zM349.0 153.5h.9v1.8h-.9zM308.0 159.5h.9v1.8h-.9zM348.0 159.5h.9v1.8h-.9zM344.0 160.5h.9v1.8h-.9zM363.0 160.5h.9v1.8h-.9zM393.0 160.5h.9v1.8h-.9zM376.0 161.5h.9v1.8h-.9zM300.0 162.5h.9v1.8h-.9zM311.0 162.5h.9v1.8h-.9zM317.0 162.5h.9v1.8h-.9zM335.0 162.5h.9v1.8h-.9zM348.0 162.5h.9v1.8h-.9zM375.0 162.5h.9v1.8h-.9zM376.0 162.5h.9v1.8h-.9zM383.0 162.5h.9v1.8h-.9zM384.0 162.5h.9v1.8h-.9zM297.0 163.5h.9v1.8h-.9zM302.0 163.5h.9v1.8h-.9zM317.0 163.5h.9v1.8h-.9zM320.0 163.5h.9v1.8h-.9zM327.0 163.5h.9v1.8h-.9zM329.0 163.5h.9v1.8h-.9zM384.0 163.5h.9v1.8h-.9zM387.0 163.5h.9v1.8h-.9zM323.0 164.5h.9v1.8h-.9zM342.0 164.5h.9v1.8h-.9zM345.0 164.5h.9v1.8h-.9zM376.0 164.5h.9v1.8h-.9zM377.0 164.5h.9v1.8h-.9zM380.0 164.5h.9v1.8h-.9zM386.0 164.5h.9v1.8h-.9zM303.0 165.5h.9v1.8h-.9zM319.0 165.5h.9v1.8h-.9zM368.0 165.5h.9v1.8h-.9zM370.0 165.5h.9v1.8h-.9zM373.0 165.5h.9v1.8h-.9zM380.0 165.5h.9v1.8h-.9zM297.0 166.5h.9v1.8h-.9zM305.0 166.5h.9v1.8h-.9zM350.0 166.5h.9v1.8h-.9zM355.0 166.5h.9v1.8h-.9zM371.0 166.5h.9v1.8h-.9zM372.0 166.5h.9v1.8h-.9zM392.0 166.5h.9v1.8h-.9zM306.0 167.5h.9v1.8h-.9zM316.0 167.5h.9v1.8h-.9zM328.0 167.5h.9v1.8h-.9zM340.0 167.5h.9v1.8h-.9zM346.0 167.5h.9v1.8h-.9zM357.0 167.5h.9v1.8h-.9zM369.0 167.5h.9v1.8h-.9zM376.0 167.5h.9v1.8h-.9zM390.0 167.5h.9v1.8h-.9zM391.0 167.5h.9v1.8h-.9zM331.0 168.5h.9v1.8h-.9zM343.0 168.5h.9v1.8h-.9zM360.0 168.5h.9v1.8h-.9zM383.0 168.5h.9v1.8h-.9zM386.0 168.5h.9v1.8h-.9zM319.0 169.5h.9v1.8h-.9zM322.0 169.5h.9v1.8h-.9zM328.0 169.5h.9v1.8h-.9zM347.0 169.5h.9v1.8h-.9zM359.0 169.5h.9v1.8h-.9zM384.0 169.5h.9v1.8h-.9zM392.0 169.5h.9v1.8h-.9zM299.0 170.5h.9v1.8h-.9zM323.0 170.5h.9v1.8h-.9zM331.0 170.5h.9v1.8h-.9zM356.0 170.5h.9v1.8h-.9zM370.0 170.5h.9v1.8h-.9zM390.0 170.5h.9v1.8h-.9zM300.0 171.5h.9v1.8h-.9zM307.0 171.5h.9v1.8h-.9zM315.0 171.5h.9v1.8h-.9zM323.0 171.5h.9v1.8h-.9zM341.0 171.5h.9v1.8h-.9zM345.0 171.5h.9v1.8h-.9zM363.0 171.5h.9v1.8h-.9zM385.0 171.5h.9v1.8h-.9zM386.0 171.5h.9v1.8h-.9zM391.0 171.5h.9v1.8h-.9zM393.0 171.5h.9v1.8h-.9zM304.0 172.5h.9v1.8h-.9zM305.0 172.5h.9v1.8h-.9zM325.0 172.5h.9v1.8h-.9zM343.0 172.5h.9v1.8h-.9zM344.0 172.5h.9v1.8h-.9zM352.0 172.5h.9v1.8h-.9zM365.0 172.5h.9v1.8h-.9zM381.0 172.5h.9v1.8h-.9zM382.0 172.5h.9v1.8h-.9zM386.0 172.5h.9v1.8h-.9zM305.0 173.5h.9v1.8h-.9zM316.0 173.5h.9v1.8h-.9zM319.0 173.5h.9v1.8h-.9zM320.0 173.5h.9v1.8h-.9zM324.0 173.5h.9v1.8h-.9zM326.0 173.5h.9v1.8h-.9zM331.0 173.5h.9v1.8h-.9zM336.0 173.5h.9v1.8h-.9zM337.0 173.5h.9v1.8h-.9zM366.0 173.5h.9v1.8h-.9zM316.0 174.5h.9v1.8h-.9zM349.0 174.5h.9v1.8h-.9zM355.0 174.5h.9v1.8h-.9zM374.0 174.5h.9v1.8h-.9zM303.0 175.5h.9v1.8h-.9zM318.0 175.5h.9v1.8h-.9zM363.0 175.5h.9v1.8h-.9zM370.0 175.5h.9v1.8h-.9zM375.0 175.5h.9v1.8h-.9zM331.0 176.5h.9v1.8h-.9zM361.0 176.5h.9v1.8h-.9zM362.0 176.5h.9v1.8h-.9zM369.0 176.5h.9v1.8h-.9zM373.0 176.5h.9v1.8h-.9zM390.0 176.5h.9v1.8h-.9zM300.0 177.5h.9v1.8h-.9zM315.0 177.5h.9v1.8h-.9zM338.0 177.5h.9v1.8h-.9zM351.0 177.5h.9v1.8h-.9zM352.0 177.5h.9v1.8h-.9zM363.0 177.5h.9v1.8h-.9zM373.0 177.5h.9v1.8h-.9zM298.0 178.5h.9v1.8h-.9zM299.0 178.5h.9v1.8h-.9zM318.0 178.5h.9v1.8h-.9zM354.0 178.5h.9v1.8h-.9zM358.0 178.5h.9v1.8h-.9zM360.0 178.5h.9v1.8h-.9zM388.0 178.5h.9v1.8h-.9zM304.0 179.5h.9v1.8h-.9zM336.0 179.5h.9v1.8h-.9zM353.0 179.5h.9v1.8h-.9zM360.0 179.5h.9v1.8h-.9zM365.0 179.5h.9v1.8h-.9zM381.0 179.5h.9v1.8h-.9zM330.0 180.5h.9v1.8h-.9zM308.0 181.5h.9v1.8h-.9zM331.0 181.5h.9v1.8h-.9zM334.0 181.5h.9v1.8h-.9zM344.0 181.5h.9v1.8h-.9zM345.0 181.5h.9v1.8h-.9zM354.0 181.5h.9v1.8h-.9zM315.0 182.5h.9v1.8h-.9zM319.0 182.5h.9v1.8h-.9zM359.0 182.5h.9v1.8h-.9zM363.0 182.5h.9v1.8h-.9zM364.0 182.5h.9v1.8h-.9zM305.0 183.5h.9v1.8h-.9zM338.0 183.5h.9v1.8h-.9zM355.0 183.5h.9v1.8h-.9zM366.0 183.5h.9v1.8h-.9zM384.0 183.5h.9v1.8h-.9zM390.0 183.5h.9v1.8h-.9zM319.0 184.5h.9v1.8h-.9zM323.0 184.5h.9v1.8h-.9zM325.0 184.5h.9v1.8h-.9zM331.0 184.5h.9v1.8h-.9zM338.0 184.5h.9v1.8h-.9zM386.0 184.5h.9v1.8h-.9zM387.0 184.5h.9v1.8h-.9zM391.0 184.5h.9v1.8h-.9zM376.0 185.5h.9v1.8h-.9zM313.0 186.5h.9v1.8h-.9zM322.0 186.5h.9v1.8h-.9zM337.0 186.5h.9v1.8h-.9zM369.0 186.5h.9v1.8h-.9zM297.0 187.5h.9v1.8h-.9zM303.0 187.5h.9v1.8h-.9zM323.0 187.5h.9v1.8h-.9zM345.0 187.5h.9v1.8h-.9zM360.0 187.5h.9v1.8h-.9zM378.0 187.5h.9v1.8h-.9zM383.0 187.5h.9v1.8h-.9zM390.0 187.5h.9v1.8h-.9zM299.0 188.5h.9v1.8h-.9zM313.0 188.5h.9v1.8h-.9zM360.0 188.5h.9v1.8h-.9zM361.0 188.5h.9v1.8h-.9zM364.0 189.5h.9v1.8h-.9zM384.0 189.5h.9v1.8h-.9zM390.0 189.5h.9v1.8h-.9zM335.0 190.5h.9v1.8h-.9zM375.0 190.5h.9v1.8h-.9zM299.0 191.5h.9v1.8h-.9zM319.0 191.5h.9v1.8h-.9zM335.0 191.5h.9v1.8h-.9zM322.0 192.5h.9v1.8h-.9zM330.0 192.5h.9v1.8h-.9zM350.0 192.5h.9v1.8h-.9zM390.0 192.5h.9v1.8h-.9zM303.0 193.5h.9v1.8h-.9zM306.0 194.5h.9v1.8h-.9zM319.0 194.5h.9v1.8h-.9zM365.0 194.5h.9v1.8h-.9zM301.0 195.5h.9v1.8h-.9zM339.0 195.5h.9v1.8h-.9zM351.0 195.5h.9v1.8h-.9zM352.0 195.5h.9v1.8h-.9zM380.0 195.5h.9v1.8h-.9zM334.0 196.5h.9v1.8h-.9zM345.0 196.5h.9v1.8h-.9zM375.0 196.5h.9v1.8h-.9zM308.0 197.5h.9v1.8h-.9zM322.0 197.5h.9v1.8h-.9zM389.0 197.5h.9v1.8h-.9zM393.0 197.5h.9v1.8h-.9zM390.0 198.5h.9v1.8h-.9zM302.0 199.5h.9v1.8h-.9zM313.0 199.5h.9v1.8h-.9zM365.0 200.5h.9v1.8h-.9zM341.0 202.5h.9v1.8h-.9zM333.0 204.5h.9v1.8h-.9zM366.0 205.5h.9v1.8h-.9zM386.0 205.5h.9v1.8h-.9zM369.0 206.5h.9v1.8h-.9zM387.0 211.5h.9v1.8h-.9zM346.0 212.5h.9v1.8h-.9zM297.0 214.5h.9v1.8h-.9zM352.0 214.5h.9v1.8h-.9zM373.0 214.5h.9v1.8h-.9zM393.0 215.5h.9v1.8h-.9z"/>
<path fill="#e48686" d="M327.0 127.5h.9v1.8h-.9zM390.0 127.5h.9v1.8h-.9zM393.0 127.5h.9v1.8h-.9zM370.0 128.5h.9v1.8h-.9zM385.0 128.5h.9v1.8h-.9zM303.0 129.5h.9v1.8h-.9zM355.0 129.5h.9v1.8h-.9zM375.0 129.5h.9v1.8h-.9zM384.0 129.5h.9v1.8h-.9zM315.0 130.5h.9v1.8h-.9zM365.0 130.5h.9v1.8h-.9zM371.0 130.5h.9v1.8h-.9zM314.0 131.5h.9v1.8h-.9zM327.0 131.5h.9v1.8h-.9zM349.0 131.5h.9v1.8h-.9zM373.0 131.5h.9v1.8h-.9zM304.0 133.5h.9v1.8h-.9zM322.0 133.5h.9v1.8h-.9zM308.0 134.5h.9v1.8h-.9zM336.0 134.5h.9v1.8h-.9zM337.0 134.5h.9v1.8h-.9zM339.0 134.5h.9v1.8h-.9zM345.0 134.5h.9v1.8h-.9zM351.0 134.5h.9v1.8h-.9zM354.0 134.5h.9v1.8h-.9zM361.0 134.5h.9v1.8h-.9zM390.0 134.5h.9v1.8h-.9zM391.0 134.5h.9v1.8h-.9zM297.0 135.5h.9v1.8h-.9zM300.0 135.5h.9v1.8h-.9zM313.0 135.5h.9v1.8h-.9zM316.0 135.5h.9v1.8h-.9zM324.0 135.5h.9v1.8h-.9zM326.0 135.5h.9v1.8h-.9zM328.0 135.5h.9v1.8h-.9zM331.0 135.5h.9v1.8h-.9zM346.0 135.5h.9v1.8h-.9zM349.0 135.5h.9v1.8h-.9zM355.0 135.5h.9v1.8h-.9zM356.0 135.5h.9v1.8h-.9zM360.0 135.5h.9v1.8h-.9zM361.0 135.5h.9v1.8h-.9zM368.0 135.5h.9v1.8h-.9zM373.0 135.5h.9v1.8h-.9zM376.0 135.5h.9v1.8h-.9zM379.0 135.5h.9v1.8h-.9zM383.0 135.5h.9v1.8h-.9zM389.0 135.5h.9v1.8h-.9zM297.0 136.5h.9v1.8h-.9zM299.0 136.5h.9v1.8h-.9zM300.0 136.5h.9v1.8h-.9zM304.0 136.5h.9v1.8h-.9zM305.0 136.5h.9v1.8h-.9zM308.0 136.5h.9v1.8h-.9zM311.0 136.5h.9v1.8h-.9zM312.0 136.5h.9v1.8h-.9zM322.0 136.5h.9v1.8h-.9zM325.0 136.5h.9v1.8h-.9zM326.0 136.5h.9v1.8h-.9zM333.0 136.5h.9v1.8h-.9zM338.0 136.5h.9v1.8h-.9zM344.0 136.5h.9v1.8h-.9zM345.0 136.5h.9v1.8h-.9zM346.0 136.5h.9v1.8h-.9zM347.0 136.5h.9v1.8h-.9zM352.0 136.5h.9v1.8h-.9zM353.0 136.5h.9v1.8h-.9zM358.0 136.5h.9v1.8h-.9zM359.0 136.5h.9v1.8h-.9zM360.0 136.5h.9v1.8h-.9zM361.0 136.5h.9v1.8h-.9zM366.0 136.5h.9v1.8h-.9zM370.0 136.5h.9v1.8h-.9zM373.0 136.5h.9v1.8h-.9zM378.0 136.5h.9v1.8h-.9zM381.0 136.5h.9v1.8h-.9zM383.0 136.5h.9v1.8h-.9zM384.0 136.5h.9v1.8h-.9zM387.0 136.5h.9v1.8h-.9zM388.0 136.5h.9v1.8h-.9zM390.0 136.5h.9v1.8h-.9zM393.0 136.5h.9v1.8h-.9zM301.0 137.5h.9v1.8h-.9zM308.0 137.5h.9v1.8h-.9zM360.0 137.5h.9v1.8h-.9zM364.0 137.5h.9v1.8h-.9zM361.0 138.5h.9v1.8h-.9zM386.0 138.5h.9v1.8h-.9zM299.0 139.5h.9v1.8h-.9zM302.0 139.5h.9v1.8h-.9zM315.0 139.5h.9v1.8h-.9zM322.0 139.5h.9v1.8h-.9zM324.0 139.5h.9v1.8h-.9zM329.0 139.5h.9v1.8h-.9zM347.0 139.5h.9v1.8h-.9zM356.0 139.5h.9v1.8h-.9zM385.0 139.5h.9v1.8h-.9zM299.0 140.5h.9v1.8h-.9zM315.0 140.5h.9v1.8h-.9zM319.0 140.5h.9v1.8h-.9zM339.0 140.5h.9v1.8h-.9zM342.0 140.5h.9v1.8h-.9zM346.0 140.5h.9v1.8h-.9zM350.0 140.5h.9v1.8h-.9zM359.0 140.5h.9v1.8h-.9zM370.0 140.5h.9v1.8h-.9zM371.0 140.5h.9v1.8h-.9zM376.0 140.5h.9v1.8h-.9zM384.0 140.5h.9v1.8h-.9zM388.0 140.5h.9v1.8h-.9zM300.0 141.5h.9v1.8h-.9zM303.0 141.5h.9v1.8h-.9zM304.0 141.5h.9v1.8h-.9zM310.0 141.5h.9v1.8h-.9zM317.0 141.5h.9v1.8h-.9zM320.0 141.5h.9v1.8h-.9zM333.0 141.5h.9v1.8h-.9zM337.0 141.5h.9v1.8h-.9zM338.0 141.5h.9v1.8h-.9zM347.0 141.5h.9v1.8h-.9zM353.0 141.5h.9v1.8h-.9zM354.0 141.5h.9v1.8h-.9zM357.0 141.5h.9v1.8h-.9zM361.0 141.5h.9v1.8h-.9zM365.0 141.5h.9v1.8h-.9zM367.0 141.5h.9v1.8h-.9zM386.0 141.5h.9v1.8h-.9zM392.0 141.5h.9v1.8h-.9zM355.0 144.5h.9v1.8h-.9zM375.0 144.5h.9v1.8h-.9zM305.0 145.5h.9v1.8h-.9zM348.0 147.5h.9v1.8h-.9zM350.0 149.5h.9v1.8h-.9zM322.0 150.5h.9v1.8h-.9zM348.0 150.5h.9v1.8h-.9zM371.0 153.5h.9v1.8h-.9zM297.0 162.5h.9v1.8h-.9zM328.0 162.5h.9v1.8h-.9zM353.0 162.5h.9v1.8h-.9zM385.0 162.5h.9v1.8h-.9zM314.0 163.5h.9v1.8h-.9zM324.0 163.5h.9v1.8h-.9zM372.0 163.5h.9v1.8h-.9zM300.0 164.5h.9v1.8h-.9zM328.0 165.5h.9v1.8h-.9zM345.0 165.5h.9v1.8h-.9zM319.0 166.5h.9v1.8h-.9zM344.0 166.5h.9v1.8h-.9zM362.0 166.5h.9v1.8h-.9zM370.0 166.5h.9v1.8h-.9zM375.0 166.5h.9v1.8h-.9zM315.0 167.5h.9v1.8h-.9zM325.0 167.5h.9v1.8h-.9zM370.0 167.5h.9v1.8h-.9zM381.0 167.5h.9v1.8h-.9zM297.0 168.5h.9v1.8h-.9zM347.0 168.5h.9v1.8h-.9zM382.0 168.5h.9v1.8h-.9zM330.0 169.5h.9v1.8h-.9zM372.0 169.5h.9v1.8h-.9zM380.0 169.5h.9v1.8h-.9zM353.0 170.5h.9v1.8h-.9zM381.0 170.5h.9v1.8h-.9zM392.0 170.5h.9v1.8h-.9zM308.0 171.5h.9v1.8h-.9zM319.0 171.5h.9v1.8h-.9zM388.0 171.5h.9v1.8h-.9zM301.0 172.5h.9v1.8h-.9zM316.0 172.5h.9v1.8h-.9zM328.0 172.5h.9v1.8h-.9zM333.0 173.5h.9v1.8h-.9zM373.0 173.5h.9v1.8h-.9zM330.0 174.5h.9v1.8h-.9zM391.0 174.5h.9v1.8h-.9zM327.0 175.5h.9v1.8h-.9zM332.0 175.5h.9v1.8h-.9zM339.0 175.5h.9v1.8h-.9zM372.0 175.5h.9v1.8h-.9zM302.0 176.5h.9v1.8h-.9zM312.0 176.5h.9v1.8h-.9zM389.0 177.5h.9v1.8h-.9zM341.0 178.5h.9v1.8h-.9zM347.0 178.5h.9v1.8h-.9zM390.0 178.5h.9v1.8h-.9zM363.0 179.5h.9v1.8h-.9zM376.0 179.5h.9v1.8h-.9zM320.0 180.5h.9v1.8h-.9zM328.0 180.5h.9v1.8h-.9zM361.0 180.5h.9v1.8h-.9zM315.0 181.5h.9v1.8h-.9zM333.0 181.5h.9v1.8h-.9zM334.0 182.5h.9v1.8h-.9zM384.0 182.5h.9v1.8h-.9zM386.0 182.5h.9v1.8h-.9zM332.0 183.5h.9v1.8h-.9zM342.0 183.5h.9v1.8h-.9zM380.0 183.5h.9v1.8h-.9zM333.0 184.5h.9v1.8h-.9zM369.0 185.5h.9v1.8h-.9zM390.0 186.5h.9v1.8h-.9zM302.0 189.5h.9v1.8h-.9zM304.0 189.5h.9v1.8h-.9zM371.0 191.5h.9v1.8h-.9zM345.0 194.5h.9v1.8h-.9zM386.0 196.5h.9v1.8h-.9zM304.0 198.5h.9v1.8h-.9zM332.0 198.5h.9v1.8h-.9zM361.0 202.5h.9v1.8h-.9zM319.0 208.5h.9v1.8h-.9zM298.0 209.5h.9v1.8h-.9zM389.0 214.5h.9v1.8h-.9z"/>
<path fill="#cc5c5c" d="M354.0 132.5h.9v1.8h-.9zM331.0 133.5h.9v1.8h-.9zM297.0 134.5h.9v1.8h-.9zM299.0 135.5h.9v1.8h-.9zM308.0 135.5h.9v1.8h-.9zM310.0 135.5h.9v1.8h-.9zM311.0 135.5h.9v1.8h-.9zM312.0 135.5h.9v1.8h-.9zM318.0 135.5h.9v1.8h-.9zM320.0 135.5h.9v1.8h-.9zM325.0 135.5h.9v1.8h-.9zM327.0 135.5h.9v1.8h-.9zM333.0 135.5h.9v1.8h-.9zM338.0 135.5h.9v1.8h-.9zM345.0 135.5h.9v1.8h-.9zM347.0 135.5h.9v1.8h-.9zM348.0 135.5h.9v1.8h-.9zM352.0 135.5h.9v1.8h-.9zM354.0 135.5h.9v1.8h-.9zM357.0 135.5h.9v1.8h-.9zM363.0 135.5h.9v1.8h-.9zM365.0 135.5h.9v1.8h-.9zM369.0 135.5h.9v1.8h-.9zM372.0 135.5h.9v1.8h-.9zM375.0 135.5h.9v1.8h-.9zM377.0 135.5h.9v1.8h-.9zM378.0 135.5h.9v1.8h-.9zM390.0 135.5h.9v1.8h-.9zM393.0 135.5h.9v1.8h-.9zM301.0 136.5h.9v1.8h-.9zM309.0 136.5h.9v1.8h-.9zM314.0 136.5h.9v1.8h-.9zM319.0 136.5h.9v1.8h-.9zM321.0 136.5h.9v1.8h-.9zM323.0 136.5h.9v1.8h-.9zM324.0 136.5h.9v1.8h-.9zM328.0 136.5h.9v1.8h-.9zM330.0 136.5h.9v1.8h-.9zM336.0 136.5h.9v1.8h-.9zM342.0 136.5h.9v1.8h-.9zM356.0 136.5h.9v1.8h-.9zM362.0 136.5h.9v1.8h-.9zM365.0 136.5h.9v1.8h-.9zM369.0 136.5h.9v1.8h-.9zM371.0 136.5h.9v1.8h-.9zM372.0 136.5h.9v1.8h-.9zM374.0 136.5h.9v1.8h-.9zM375.0 136.5h.9v1.8h-.9zM376.0 136.5h.9v1.8h-.9zM377.0 136.5h.9v1.8h-.9zM392.0 136.5h.9v1.8h-.9zM323.0 139.5h.9v1.8h-.9zM354.0 139.5h.9v1.8h-.9zM371.0 139.5h.9v1.8h-.9zM317.0 140.5h.9v1.8h-.9zM318.0 140.5h.9v1.8h-.9zM348.0 140.5h.9v1.8h-.9zM349.0 140.5h.9v1.8h-.9zM365.0 140.5h.9v1.8h-.9zM378.0 140.5h.9v1.8h-.9zM391.0 140.5h.9v1.8h-.9zM305.0 141.5h.9v1.8h-.9zM336.0 141.5h.9v1.8h-.9zM364.0 141.5h.9v1.8h-.9zM379.0 141.5h.9v1.8h-.9zM389.0 141.5h.9v1.8h-.9zM358.0 179.5h.9v1.8h-.9zM325.0 182.5h.9v1.8h-.9z"/>
</g>
<rect x="423.5" y="126.8" width="97.4" height="90.7" fill="url(#haze)"/>
<g>
<path fill="#fadcdc" d="M445.2 127.5h.9v1.8h-.9zM458.2 127.5h.9v1.8h-.9zM461.2 127.5h.9v1.8h-.9zM465.2 127.5h.9v1.8h-.9zM491.2 127.5h.9v1.8h-.9zM499.2 127.5h.9v1.8h-.9zM429.2 128.5h.9v1.8h-.9zM431.2 128.5h.9v1.8h-.9zM437.2 128.5h.9v1.8h-.9zM440.2 128.5h.9v1.8h-.9zM448.2 128.5h.9v1.8h-.9zM452.2 128.5h.9v1.8h-.9zM460.2 128.5h.9v1.8h-.9zM473.2 128.5h.9v1.8h-.9zM479.2 128.5h.9v1.8h-.9zM491.2 128.5h.9v1.8h-.9zM492.2 128.5h.9v1.8h-.9zM512.2 128.5h.9v1.8h-.9zM451.2 129.5h.9v1.8h-.9zM456.2 129.5h.9v1.8h-.9zM462.2 129.5h.9v1.8h-.9zM468.2 129.5h.9v1.8h-.9zM471.2 129.5h.9v1.8h-.9zM474.2 129.5h.9v1.8h-.9zM496.2 129.5h.9v1.8h-.9zM498.2 129.5h.9v1.8h-.9zM500.2 129.5h.9v1.8h-.9zM425.2 130.5h.9v1.8h-.9zM427.2 130.5h.9v1.8h-.9zM434.2 130.5h.9v1.8h-.9zM440.2 130.5h.9v1.8h-.9zM442.2 130.5h.9v1.8h-.9zM456.2 130.5h.9v1.8h-.9zM466.2 130.5h.9v1.8h-.9zM467.2 130.5h.9v1.8h-.9zM471.2 130.5h.9v1.8h-.9zM472.2 130.5h.9v1.8h-.9zM475.2 130.5h.9v1.8h-.9zM479.2 130.5h.9v1.8h-.9zM491.2 130.5h.9v1.8h-.9zM492.2 130.5h.9v1.8h-.9zM506.2 130.5h.9v1.8h-.9zM517.2 130.5h.9v1.8h-.9zM433.2 131.5h.9v1.8h-.9zM446.2 131.5h.9v1.8h-.9zM453.2 131.5h.9v1.8h-.9zM469.2 131.5h.9v1.8h-.9zM497.2 131.5h.9v1.8h-.9zM510.2 131.5h.9v1.8h-.9zM512.2 131.5h.9v1.8h-.9zM520.2 131.5h.9v1.8h-.9zM436.2 132.5h.9v1.8h-.9zM463.2 132.5h.9v1.8h-.9zM474.2 132.5h.9v1.8h-.9zM483.2 132.5h.9v1.8h-.9zM497.2 132.5h.9v1.8h-.9zM499.2 132.5h.9v1.8h-.9zM517.2 132.5h.9v1.8h-.9zM519.2 132.5h.9v1.8h-.9zM434.2 133.5h.9v1.8h-.9zM441.2 133.5h.9v1.8h-.9zM446.2 133.5h.9v1.8h-.9zM450.2 133.5h.9v1.8h-.9zM462.2 133.5h.9v1.8h-.9zM464.2 133.5h.9v1.8h-.9zM481.2 133.5h.9v1.8h-.9zM487.2 133.5h.9v1.8h-.9zM496.2 133.5h.9v1.8h-.9zM497.2 133.5h.9v1.8h-.9zM503.2 133.5h.9v1.8h-.9zM504.2 133.5h.9v1.8h-.9zM519.2 133.5h.9v1.8h-.9zM431.2 134.5h.9v1.8h-.9zM470.2 134.5h.9v1.8h-.9zM479.2 134.5h.9v1.8h-.9zM484.2 134.5h.9v1.8h-.9zM492.2 134.5h.9v1.8h-.9zM435.2 137.5h.9v1.8h-.9zM442.2 137.5h.9v1.8h-.9zM483.2 137.5h.9v1.8h-.9zM493.2 137.5h.9v1.8h-.9zM494.2 137.5h.9v1.8h-.9zM504.2 137.5h.9v1.8h-.9zM516.2 137.5h.9v1.8h-.9zM424.2 138.5h.9v1.8h-.9zM437.2 138.5h.9v1.8h-.9zM478.2 138.5h.9v1.8h-.9zM505.2 138.5h.9v1.8h-.9zM487.2 139.5h.9v1.8h-.9zM444.2 140.5h.9v1.8h-.9zM458.2 140.5h.9v1.8h-.9zM480.2 140.5h.9v1.8h-.9zM509.2 141.5h.9v1.8h-.9zM435.2 142.5h.9v1.8h-.9zM437.2 142.5h.9v1.8h-.9zM464.2 142.5h.9v1.8h-.9zM469.2 142.5h.9v1.8h-.9zM481.2 142.5h.9v1.8h-.9zM483.2 142.5h.9v1.8h-.9zM486.2 142.5h.9v1.8h-.9zM503.2 142.5h.9v1.8h-.9zM507.2 142.5h.9v1.8h-.9zM429.2 143.5h.9v1.8h-.9zM439.2 143.5h.9v1.8h-.9zM443.2 143.5h.9v1.8h-.9zM457.2 143.5h.9v1.8h-.9zM473.2 143.5h.9v1.8h-.9zM477.2 143.5h.9v1.8h-.9zM507.2 143.5h.9v1.8h-.9zM520.2 143.5h.9v1.8h-.9zM457.2 144.5h.9v1.8h-.9zM459.2 144.5h.9v1.8h-.9zM463.2 144.5h.9v1.8h-.9zM471.2 144.5h.9v1.8h-.9zM433.2 145.5h.9v1.8h-.9zM445.2 145.5h.9v1.8h-.9zM456.2 145.5h.9v1.8h-.9zM457.2 145.5h.9v1.8h-.9zM500.2 145.5h.9v1.8h-.9zM435.2 146.5h.9v1.8h-.9zM488.2 146.5h.9v1.8h-.9zM510.2 146.5h.9v1.8h-.9zM513.2 146.5h.9v1.8h-.9zM516.2 146.5h.9v1.8h-.9zM456.2 147.5h.9v1.8h-.9zM457.2 147.5h.9v1.8h-.9zM474.2 147.5h.9v1.8h-.9zM483.2 147.5h.9v1.8h-.9zM443.2 148.5h.9v1.8h-.9zM447.2 148.5h.9v1.8h-.9zM469.2 148.5h.9v1.8h-.9zM473.2 148.5h.9v1.8h-.9zM479.2 148.5h.9v1.8h-.9zM493.2 148.5h.9v1.8h-.9zM502.2 148.5h.9v1.8h-.9zM469.2 149.5h.9v1.8h-.9zM513.2 149.5h.9v1.8h-.9zM429.2 150.5h.9v1.8h-.9zM430.2 150.5h.9v1.8h-.9zM445.2 150.5h.9v1.8h-.9zM455.2 150.5h.9v1.8h-.9zM458.2 150.5h.9v1.8h-.9zM492.2 150.5h.9v1.8h-.9zM513.2 150.5h.9v1.8h-.9zM516.2 150.5h.9v1.8h-.9zM444.2 151.5h.9v1.8h-.9zM470.2 151.5h.9v1.8h-.9zM501.2 151.5h.9v1.8h-.9zM425.2 152.5h.9v1.8h-.9zM460.2 152.5h.9v1.8h-.9zM473.2 152.5h.9v1.8h-.9zM508.2 152.5h.9v1.8h-.9zM511.2 152.5h.9v1.8h-.9zM427.2 153.5h.9v1.8h-.9zM437.2 153.5h.9v1.8h-.9zM461.2 153.5h.9v1.8h-.9zM462.2 153.5h.9v1.8h-.9zM511.2 153.5h.9v1.8h-.9zM513.2 153.5h.9v1.8h-.9zM471.2 154.5h.9v1.8h-.9zM484.2 154.5h.9v1.8h-.9zM489.2 154.5h.9v1.8h-.9zM495.2 154.5h.9v1.8h-.9zM499.2 154.5h.9v1.8h-.9zM512.2 154.5h.9v1.8h-.9zM472.2 155.5h.9v1.8h-.9zM479.2 155.5h.9v1.8h-.9zM492.2 155.5h.9v1.8h-.9zM512.2 155.5h.9v1.8h-.9zM425.2 156.5h.9v1.8h-.9zM437.2 156.5h.9v1.8h-.9zM451.2 156.5h.9v1.8h-.9zM458.2 156.5h.9v1.8h-.9zM513.2 156.5h.9v1.8h-.9zM442.2 157.5h.9v1.8h-.9zM469.2 157.5h.9v1.8h-.9zM477.2 157.5h.9v1.8h-.9zM485.2 157.5h.9v1.8h-.9zM511.2 157.5h.9v1.8h-.9zM517.2 157.5h.9v1.8h-.9zM439.2 158.5h.9v1.8h-.9zM468.2 158.5h.9v1.8h-.9zM517.2 158.5h.9v1.8h-.9zM442.2 159.5h.9v1.8h-.9zM460.2 159.5h.9v1.8h-.9zM464.2 159.5h.9v1.8h-.9zM465.2 159.5h.9v1.8h-.9zM469.2 159.5h.9v1.8h-.9zM483.2 159.5h.9v1.8h-.9zM492.2 159.5h.9v1.8h-.9zM426.2 160.5h.9v1.8h-.9zM428.2 160.5h.9v1.8h-.9zM436.2 160.5h.9v1.8h-.9zM474.2 160.5h.9v1.8h-.9zM502.2 160.5h.9v1.8h-.9zM444.2 161.5h.9v1.8h-.9zM468.2 161.5h.9v1.8h-.9zM471.2 161.5h.9v1.8h-.9zM473.2 161.5h.9v1.8h-.9zM482.2 161.5h.9v1.8h-.9zM437.2 162.5h.9v1.8h-.9zM486.2 162.5h.9v1.8h-.9zM453.2 163.5h.9v1.8h-.9zM459.2 163.5h.9v1.8h-.9zM461.2 163.5h.9v1.8h-.9zM473.2 163.5h.9v1.8h-.9zM481.2 163.5h.9v1.8h-.9zM485.2 163.5h.9v1.8h-.9zM487.2 163.5h.9v1.8h-.9zM503.2 163.5h.9v1.8h-.9zM507.2 163.5h.9v1.8h-.9zM424.2 164.5h.9v1.8h-.9zM449.2 164.5h.9v1.8h-.9zM451.2 164.5h.9v1.8h-.9zM487.2 164.5h.9v1.8h-.9zM492.2 164.5h.9v1.8h-.9zM427.2 165.5h.9v1.8h-.9zM445.2 165.5h.9v1.8h-.9zM452.2 165.5h.9v1.8h-.9zM491.2 165.5h.9v1.8h-.9zM512.2 165.5h.9v1.8h-.9zM517.2 165.5h.9v1.8h-.9zM440.2 166.5h.9v1.8h-.9zM460.2 166.5h.9v1.8h-.9zM470.2 166.5h.9v1.8h-.9zM471.2 166.5h.9v1.8h-.9zM476.2 166.5h.9v1.8h-.9zM488.2 166.5h.9v1.8h-.9zM499.2 166.5h.9v1.8h-.9zM450.2 167.5h.9v1.8h-.9zM457.2 167.5h.9v1.8h-.9zM458.2 167.5h.9v1.8h-.9zM460.2 167.5h.9v1.8h-.9zM487.2 167.5h.9v1.8h-.9zM488.2 167.5h.9v1.8h-.9zM497.2 167.5h.9v1.8h-.9zM430.2 168.5h.9v1.8h-.9zM441.2 168.5h.9v1.8h-.9zM464.2 168.5h.9v1.8h-.9zM481.2 168.5h.9v1.8h-.9zM490.2 168.5h.9v1.8h-.9zM508.2 168.5h.9v1.8h-.9zM436.2 169.5h.9v1.8h-.9zM437.2 169.5h.9v1.8h-.9zM456.2 169.5h.9v1.8h-.9zM466.2 169.5h.9v1.8h-.9zM468.2 169.5h.9v1.8h-.9zM478.2 169.5h.9v1.8h-.9zM488.2 169.5h.9v1.8h-.9zM475.2 170.5h.9v1.8h-.9zM480.2 170.5h.9v1.8h-.9zM483.2 170.5h.9v1.8h-.9zM434.2 171.5h.9v1.8h-.9zM437.2 171.5h.9v1.8h-.9zM442.2 171.5h.9v1.8h-.9zM470.2 171.5h.9v1.8h-.9zM505.2 171.5h.9v1.8h-.9zM425.2 172.5h.9v1.8h-.9zM430.2 172.5h.9v1.8h-.9zM436.2 172.5h.9v1.8h-.9zM442.2 172.5h.9v1.8h-.9zM443.2 172.5h.9v1.8h-.9zM460.2 172.5h.9v1.8h-.9zM464.2 172.5h.9v1.8h-.9zM470.2 172.5h.9v1.8h-.9zM487.2 172.5h.9v1.8h-.9zM433.2 173.5h.9v1.8h-.9zM463.2 173.5h.9v1.8h-.9zM488.2 173.5h.9v1.8h-.9zM500.2 173.5h.9v1.8h-.9zM428.2 174.5h.9v1.8h-.9zM437.2 174.5h.9v1.8h-.9zM498.2 174.5h.9v1.8h-.9zM509.2 174.5h.9v1.8h-.9zM427.2 175.5h.9v1.8h-.9zM456.2 175.5h.9v1.8h-.9zM480.2 175.5h.9v1.8h-.9zM488.2 175.5h.9v1.8h-.9zM493.2 175.5h.9v1.8h-.9zM511.2 175.5h.9v1.8h-.9zM492.2 176.5h.9v1.8h-.9zM517.2 176.5h.9v1.8h-.9zM520.2 176.5h.9v1.8h-.9zM449.2 177.5h.9v1.8h-.9zM491.2 177.5h.9v1.8h-.9zM516.2 177.5h.9v1.8h-.9zM425.2 178.5h.9v1.8h-.9zM449.2 178.5h.9v1.8h-.9zM475.2 178.5h.9v1.8h-.9zM484.2 178.5h.9v1.8h-.9zM488.2 178.5h.9v1.8h-.9zM503.2 178.5h.9v1.8h-.9zM435.2 179.5h.9v1.8h-.9zM480.2 179.5h.9v1.8h-.9zM498.2 179.5h.9v1.8h-.9zM428.2 180.5h.9v1.8h-.9zM449.2 180.5h.9v1.8h-.9zM471.2 180.5h.9v1.8h-.9zM483.2 180.5h.9v1.8h-.9zM492.2 180.5h.9v1.8h-.9zM496.2 180.5h.9v1.8h-.9zM424.2 181.5h.9v1.8h-.9zM457.2 181.5h.9v1.8h-.9zM459.2 181.5h.9v1.8h-.9zM461.2 181.5h.9v1.8h-.9zM499.2 181.5h.9v1.8h-.9zM504.2 181.5h.9v1.8h-.9zM516.2 181.5h.9v1.8h-.9zM455.2 182.5h.9v1.8h-.9zM469.2 182.5h.9v1.8h-.9zM494.2 182.5h.9v1.8h-.9zM431.2 183.5h.9v1.8h-.9zM449.2 183.5h.9v1.8h-.9zM464.2 183.5h.9v1.8h-.9zM473.2 183.5h.9v1.8h-.9zM477.2 183.5h.9v1.8h-.9zM480.2 183.5h.9v1.8h-.9zM492.2 183.5h.9v1.8h-.9zM510.2 183.5h.9v1.8h-.9zM425.2 184.5h.9v1.8h-.9zM433.2 184.5h.9v1.8h-.9zM435.2 184.5h.9v1.8h-.9zM441.2 184.5h.9v1.8h-.9zM448.2 184.5h.9v1.8h-.9zM453.2 184.5h.9v1.8h-.9zM459.2 184.5h.9v1.8h-.9zM483.2 184.5h.9v1.8h-.9zM499.2 184.5h.9v1.8h-.9zM427.2 185.5h.9v1.8h-.9zM452.2 185.5h.9v1.8h-.9zM487.2 185.5h.9v1.8h-.9zM496.2 185.5h.9v1.8h-.9zM497.2 185.5h.9v1.8h-.9zM427.2 186.5h.9v1.8h-.9zM432.2 186.5h.9v1.8h-.9zM437.2 186.5h.9v1.8h-.9zM441.2 186.5h.9v1.8h-.9zM445.2 186.5h.9v1.8h-.9zM446.2 186.5h.9v1.8h-.9zM462.2 186.5h.9v1.8h-.9zM491.2 186.5h.9v1.8h-.9zM431.2 187.5h.9v1.8h-.9zM436.2 187.5h.9v1.8h-.9zM442.2 187.5h.9v1.8h-.9zM461.2 187.5h.9v1.8h-.9zM468.2 187.5h.9v1.8h-.9zM496.2 187.5h.9v1.8h-.9zM517.2 187.5h.9v1.8h-.9zM520.2 187.5h.9v1.8h-.9zM438.2 188.5h.9v1.8h-.9zM457.2 188.5h.9v1.8h-.9zM469.2 188.5h.9v1.8h-.9zM471.2 188.5h.9v1.8h-.9zM482.2 188.5h.9v1.8h-.9zM502.2 188.5h.9v1.8h-.9zM508.2 188.5h.9v1.8h-.9zM424.2 189.5h.9v1.8h-.9zM425.2 189.5h.9v1.8h-.9zM436.2 189.5h.9v1.8h-.9zM439.2 189.5h.9v1.8h-.9zM440.2 189.5h.9v1.8h-.9zM509.2 189.5h.9v1.8h-.9zM431.2 190.5h.9v1.8h-.9zM442.2 190.5h.9v1.8h-.9zM463.2 190.5h.9v1.8h-.9zM464.2 190.5h.9v1.8h-.9zM473.2 190.5h.9v1.8h-.9zM476.2 190.5h.9v1.8h-.9zM503.2 190.5h.9v1.8h-.9zM508.2 190.5h.9v1.8h-.9zM424.2 191.5h.9v1.8h-.9zM428.2 191.5h.9v1.8h-.9zM429.2 191.5h.9v1.8h-.9zM466.2 191.5h.9v1.8h-.9zM505.2 191.5h.9v1.8h-.9zM517.2 191.5h.9v1.8h-.9zM428.2 192.5h.9v1.8h-.9zM435.2 192.5h.9v1.8h-.9zM451.2 192.5h.9v1.8h-.9zM464.2 192.5h.9v1.8h-.9zM468.2 192.5h.9v1.8h-.9zM480.2 192.5h.9v1.8h-.9zM520.2 192.5h.9v1.8h-.9zM488.2 193.5h.9v1.8h-.9zM492.2 193.5h.9v1.8h-.9zM518.2 193.5h.9v1.8h-.9zM460.2 194.5h.9v1.8h-.9zM499.2 194.5h.9v1.8h-.9zM515.2 194.5h.9v1.8h-.9zM436.2 195.5h.9v1.8h-.9zM475.2 195.5h.9v1.8h-.9zM477.2 195.5h.9v1.8h-.9zM480.2 195.5h.9v1.8h-.9zM483.2 195.5h.9v1.8h-.9zM484.2 195.5h.9v1.8h-.9zM512.2 195.5h.9v1.8h-.9zM444.2 196.5h.9v1.8h-.9zM445.2 196.5h.9v1.8h-.9zM452.2 196.5h.9v1.8h-.9zM464.2 196.5h.9v1.8h-.9zM471.2 196.5h.9v1.8h-.9zM483.2 196.5h.9v1.8h-.9zM450.2 197.5h.9v1.8h-.9zM451.2 197.5h.9v1.8h-.9zM460.2 197.5h.9v1.8h-.9zM466.2 197.5h.9v1.8h-.9zM474.2 197.5h.9v1.8h-.9zM476.2 197.5h.9v1.8h-.9zM477.2 197.5h.9v1.8h-.9zM488.2 197.5h.9v1.8h-.9zM426.2 198.5h.9v1.8h-.9zM495.2 198.5h.9v1.8h-.9zM446.2 199.5h.9v1.8h-.9zM449.2 199.5h.9v1.8h-.9zM457.2 199.5h.9v1.8h-.9zM484.2 199.5h.9v1.8h-.9zM497.2 199.5h.9v1.8h-.9zM505.2 199.5h.9v1.8h-.9zM485.2 200.5h.9v1.8h-.9zM504.2 200.5h.9v1.8h-.9zM475.2 201.5h.9v1.8h-.9zM497.2 201.5h.9v1.8h-.9zM512.2 201.5h.9v1.8h-.9zM513.2 201.5h.9v1.8h-.9zM447.2 202.5h.9v1.8h-.9zM458.2 202.5h.9v1.8h-.9zM472.2 202.5h.9v1.8h-.9zM481.2 202.5h.9v1.8h-.9zM482.2 202.5h.9v1.8h-.9zM488.2 202.5h.9v1.8h-.9zM492.2 202.5h.9v1.8h-.9zM431.2 203.5h.9v1.8h-.9zM462.2 203.5h.9v1.8h-.9zM519.2 203.5h.9v1.8h-.9zM437.2 204.5h.9v1.8h-.9zM445.2 204.5h.9v1.8h-.9zM456.2 204.5h.9v1.8h-.9zM487.2 204.5h.9v1.8h-.9zM493.2 204.5h.9v1.8h-.9zM499.2 204.5h.9v1.8h-.9zM449.2 205.5h.9v1.8h-.9zM470.2 205.5h.9v1.8h-.9zM441.2 206.5h.9v1.8h-.9zM464.2 206.5h.9v1.8h-.9zM470.2 206.5h.9v1.8h-.9zM481.2 206.5h.9v1.8h-.9zM486.2 206.5h.9v1.8h-.9zM424.2 207.5h.9v1.8h-.9zM441.2 207.5h.9v1.8h-.9zM465.2 207.5h.9v1.8h-.9zM481.2 208.5h.9v1.8h-.9zM429.2 209.5h.9v1.8h-.9zM467.2 209.5h.9v1.8h-.9zM477.2 209.5h.9v1.8h-.9zM479.2 209.5h.9v1.8h-.9zM499.2 209.5h.9v1.8h-.9zM424.2 210.5h.9v1.8h-.9zM473.2 210.5h.9v1.8h-.9zM484.2 210.5h.9v1.8h-.9zM485.2 210.5h.9v1.8h-.9zM426.2 211.5h.9v1.8h-.9zM427.2 211.5h.9v1.8h-.9zM431.2 211.5h.9v1.8h-.9zM455.2 211.5h.9v1.8h-.9zM520.2 211.5h.9v1.8h-.9zM429.2 212.5h.9v1.8h-.9zM436.2 212.5h.9v1.8h-.9zM437.2 212.5h.9v1.8h-.9zM439.2 212.5h.9v1.8h-.9zM501.2 212.5h.9v1.8h-.9zM426.2 213.5h.9v1.8h-.9zM449.2 213.5h.9v1.8h-.9zM453.2 213.5h.9v1.8h-.9zM467.2 213.5h.9v1.8h-.9zM469.2 213.5h.9v1.8h-.9zM478.2 213.5h.9v1.8h-.9zM496.2 213.5h.9v1.8h-.9zM428.2 214.5h.9v1.8h-.9zM483.2 214.5h.9v1.8h-.9zM484.2 214.5h.9v1.8h-.9zM495.2 214.5h.9v1.8h-.9zM424.2 215.5h.9v1.8h-.9zM433.2 215.5h.9v1.8h-.9zM452.2 215.5h.9v1.8h-.9zM476.2 215.5h.9v1.8h-.9zM480.2 215.5h.9v1.8h-.9zM430.2 216.5h.9v1.8h-.9zM448.2 216.5h.9v1.8h-.9zM518.2 216.5h.9v1.8h-.9z"/>
<path fill="#f5c0c0" d="M435.2 127.5h.9v1.8h-.9zM443.2 127.5h.9v1.8h-.9zM453.2 127.5h.9v1.8h-.9zM455.2 127.5h.9v1.8h-.9zM468.2 127.5h.9v1.8h-.9zM477.2 127.5h.9v1.8h-.9zM478.2 127.5h.9v1.8h-.9zM481.2 127.5h.9v1.8h-.9zM484.2 127.5h.9v1.8h-.9zM487.2 127.5h.9v1.8h-.9zM488.2 127.5h.9v1.8h-.9zM519.2 127.5h.9v1.8h-.9zM434.2 128.5h.9v1.8h-.9zM444.2 128.5h.9v1.8h-.9zM451.2 128.5h.9v1.8h-.9zM455.2 128.5h.9v1.8h-.9zM463.2 128.5h.9v1.8h-.9zM470.2 128.5h.9v1.8h-.9zM475.2 128.5h.9v1.8h-.9zM486.2 128.5h.9v1.8h-.9zM509.2 128.5h.9v1.8h-.9zM513.2 128.5h.9v1.8h-.9zM517.2 128.5h.9v1.8h-.9zM520.2 128.5h.9v1.8h-.9zM452.2 129.5h.9v1.8h-.9zM464.2 129.5h.9v1.8h-.9zM484.2 129.5h.9v1.8h-.9zM492.2 129.5h.9v1.8h-.9zM494.2 129.5h.9v1.8h-.9zM512.2 129.5h.9v1.8h-.9zM514.2 129.5h.9v1.8h-.9zM515.2 129.5h.9v1.8h-.9zM441.2 130.5h.9v1.8h-.9zM443.2 130.5h.9v1.8h-.9zM445.2 130.5h.9v1.8h-.9zM448.2 130.5h.9v1.8h-.9zM459.2 130.5h.9v1.8h-.9zM470.2 130.5h.9v1.8h-.9zM473.2 130.5h.9v1.8h-.9zM481.2 130.5h.9v1.8h-.9zM495.2 130.5h.9v1.8h-.9zM496.2 130.5h.9v1.8h-.9zM499.2 130.5h.9v1.8h-.9zM514.2 130.5h.9v1.8h-.9zM515.2 130.5h.9v1.8h-.9zM426.2 131.5h.9v1.8h-.9zM440.2 131.5h.9v1.8h-.9zM452.2 131.5h.9v1.8h-.9zM456.2 131.5h.9v1.8h-.9zM457.2 131.5h.9v1.8h-.9zM464.2 131.5h.9v1.8h-.9zM481.2 131.5h.9v1.8h-.9zM482.2 131.5h.9v1.8h-.9zM488.2 131.5h.9v1.8h-.9zM489.2 131.5h.9v1.8h-.9zM495.2 131.5h.9v1.8h-.9zM516.2 131.5h.9v1.8h-.9zM428.2 132.5h.9v1.8h-.9zM434.2 132.5h.9v1.8h-.9zM439.2 132.5h.9v1.8h-.9zM454.2 132.5h.9v1.8h-.9zM455.2 132.5h.9v1.8h-.9zM465.2 132.5h.9v1.8h-.9zM471.2 132.5h.9v1.8h-.9zM473.2 132.5h.9v1.8h-.9zM476.2 132.5h.9v1.8h-.9zM479.2 132.5h.9v1.8h-.9zM493.2 132.5h.9v1.8h-.9zM503.2 132.5h.9v1.8h-.9zM427.2 133.5h.9v1.8h-.9zM430.2 133.5h.9v1.8h-.9zM435.2 133.5h.9v1.8h-.9zM444.2 133.5h.9v1.8h-.9zM447.2 133.5h.9v1.8h-.9zM456.2 133.5h.9v1.8h-.9zM470.2 133.5h.9v1.8h-.9zM471.2 133.5h.9v1.8h-.9zM474.2 133.5h.9v1.8h-.9zM478.2 133.5h.9v1.8h-.9zM480.2 133.5h.9v1.8h-.9zM491.2 133.5h.9v1.8h-.9zM492.2 133.5h.9v1.8h-.9zM500.2 133.5h.9v1.8h-.9zM507.2 133.5h.9v1.8h-.9zM512.2 133.5h.9v1.8h-.9zM513.2 133.5h.9v1.8h-.9zM425.2 134.5h.9v1.8h-.9zM432.2 134.5h.9v1.8h-.9zM436.2 134.5h.9v1.8h-.9zM444.2 134.5h.9v1.8h-.9zM451.2 134.5h.9v1.8h-.9zM461.2 134.5h.9v1.8h-.9zM469.2 134.5h.9v1.8h-.9zM477.2 134.5h.9v1.8h-.9zM493.2 134.5h.9v1.8h-.9zM506.2 134.5h.9v1.8h-.9zM513.2 134.5h.9v1.8h-.9zM425.2 135.5h.9v1.8h-.9zM433.2 136.5h.9v1.8h-.9zM450.2 136.5h.9v1.8h-.9zM427.2 137.5h.9v1.8h-.9zM428.2 137.5h.9v1.8h-.9zM453.2 137.5h.9v1.8h-.9zM463.2 137.5h.9v1.8h-.9zM464.2 137.5h.9v1.8h-.9zM470.2 137.5h.9v1.8h-.9zM488.2 137.5h.9v1.8h-.9zM491.2 137.5h.9v1.8h-.9zM503.2 137.5h.9v1.8h-.9zM441.2 138.5h.9v1.8h-.9zM446.2 138.5h.9v1.8h-.9zM468.2 138.5h.9v1.8h-.9zM481.2 138.5h.9v1.8h-.9zM485.2 138.5h.9v1.8h-.9zM501.2 138.5h.9v1.8h-.9zM503.2 138.5h.9v1.8h-.9zM516.2 138.5h.9v1.8h-.9zM431.2 139.5h.9v1.8h-.9zM434.2 139.5h.9v1.8h-.9zM436.2 139.5h.9v1.8h-.9zM441.2 139.5h.9v1.8h-.9zM445.2 139.5h.9v1.8h-.9zM453.2 139.5h.9v1.8h-.9zM465.2 139.5h.9v1.8h-.9zM468.2 139.5h.9v1.8h-.9zM491.2 139.5h.9v1.8h-.9zM515.2 139.5h.9v1.8h-.9zM427.2 140.5h.9v1.8h-.9zM428.2 140.5h.9v1.8h-.9zM431.2 140.5h.9v1.8h-.9zM454.2 140.5h.9v1.8h-.9zM461.2 140.5h.9v1.8h-.9zM467.2 140.5h.9v1.8h-.9zM476.2 140.5h.9v1.8h-.9zM477.2 140.5h.9v1.8h-.9zM484.2 140.5h.9v1.8h-.9zM489.2 140.5h.9v1.8h-.9zM490.2 140.5h.9v1.8h-.9zM491.2 140.5h.9v1.8h-.9zM496.2 140.5h.9v1.8h-.9zM503.2 140.5h.9v1.8h-.9zM449.2 141.5h.9v1.8h-.9zM456.2 141.5h.9v1.8h-.9zM483.2 141.5h.9v1.8h-.9zM487.2 141.5h.9v1.8h-.9zM494.2 141.5h.9v1.8h-.9zM506.2 141.5h.9v1.8h-.9zM510.2 141.5h.9v1.8h-.9zM517.2 141.5h.9v1.8h-.9zM471.2 142.5h.9v1.8h-.9zM430.2 143.5h.9v1.8h-.9zM434.2 143.5h.9v1.8h-.9zM464.2 143.5h.9v1.8h-.9zM496.2 143.5h.9v1.8h-.9zM498.2 143.5h.9v1.8h-.9zM512.2 143.5h.9v1.8h-.9zM519.2 143.5h.9v1.8h-.9zM427.2 144.5h.9v1.8h-.9zM441.2 144.5h.9v1.8h-.9zM447.2 144.5h.9v1.8h-.9zM470.2 144.5h.9v1.8h-.9zM485.2 144.5h.9v1.8h-.9zM429.2 145.5h.9v1.8h-.9zM446.2 145.5h.9v1.8h-.9zM453.2 145.5h.9v1.8h-.9zM459.2 145.5h.9v1.8h-.9zM484.2 145.5h.9v1.8h-.9zM495.2 145.5h.9v1.8h-.9zM512.2 145.5h.9v1.8h-.9zM459.2 146.5h.9v1.8h-.9zM470.2 146.5h.9v1.8h-.9zM475.2 146.5h.9v1.8h-.9zM479.2 146.5h.9v1.8h-.9zM481.2 146.5h.9v1.8h-.9zM514.2 146.5h.9v1.8h-.9zM517.2 146.5h.9v1.8h-.9zM444.2 147.5h.9v1.8h-.9zM469.2 147.5h.9v1.8h-.9zM476.2 147.5h.9v1.8h-.9zM435.2 148.5h.9v1.8h-.9zM449.2 148.5h.9v1.8h-.9zM454.2 148.5h.9v1.8h-.9zM467.2 148.5h.9v1.8h-.9zM513.2 148.5h.9v1.8h-.9zM433.2 149.5h.9v1.8h-.9zM436.2 149.5h.9v1.8h-.9zM438.2 149.5h.9v1.8h-.9zM440.2 149.5h.9v1.8h-.9zM446.2 149.5h.9v1.8h-.9zM471.2 149.5h.9v1.8h-.9zM472.2 149.5h.9v1.8h-.9zM488.2 149.5h.9v1.8h-.9zM492.2 149.5h.9v1.8h-.9zM495.2 149.5h.9v1.8h-.9zM496.2 149.5h.9v1.8h-.9zM519.2 149.5h.9v1.8h-.9zM433.2 150.5h.9v1.8h-.9zM468.2 150.5h.9v1.8h-.9zM470.2 150.5h.9v1.8h-.9zM484.2 150.5h.9v1.8h-.9zM495.2 150.5h.9v1.8h-.9zM501.2 150.5h.9v1.8h-.9zM509.2 150.5h.9v1.8h-.9zM520.2 150.5h.9v1.8h-.9zM491.2 151.5h.9v1.8h-.9zM424.2 152.5h.9v1.8h-.9zM441.2 152.5h.9v1.8h-.9zM428.2 153.5h.9v1.8h-.9zM441.2 153.5h.9v1.8h-.9zM469.2 154.5h.9v1.8h-.9zM496.2 154.5h.9v1.8h-.9zM459.2 155.5h.9v1.8h-.9zM506.2 155.5h.9v1.8h-.9zM442.2 156.5h.9v1.8h-.9zM436.2 157.5h.9v1.8h-.9zM450.2 157.5h.9v1.8h-.9zM473.2 157.5h.9v1.8h-.9zM427.2 158.5h.9v1.8h-.9zM474.2 158.5h.9v1.8h-.9zM485.2 158.5h.9v1.8h-.9zM495.2 158.5h.9v1.8h-.9zM424.2 159.5h.9v1.8h-.9zM433.2 159.5h.9v1.8h-.9zM496.2 159.5h.9v1.8h-.9zM441.2 160.5h.9v1.8h-.9zM442.2 160.5h.9v1.8h-.9zM490.2 160.5h.9v1.8h-.9zM512.2 160.5h.9v1.8h-.9zM501.2 161.5h.9v1.8h-.9zM473.2 162.5h.9v1.8h-.9zM477.2 162.5h.9v1.8h-.9zM506.2 162.5h.9v1.8h-.9zM431.2 163.5h.9v1.8h-.9zM442.2 163.5h.9v1.8h-.9zM455.2 163.5h.9v1.8h-.9zM463.2 163.5h.9v1.8h-.9zM477.2 163.5h.9v1.8h-.9zM483.2 163.5h.9v1.8h-.9zM491.2 163.5h.9v1.8h-.9zM492.2 163.5h.9v1.8h-.9zM434.2 164.5h.9v1.8h-.9zM454.2 164.5h.9v1.8h-.9zM484.2 164.5h.9v1.8h-.9zM495.2 164.5h.9v1.8h-.9zM500.2 164.5h.9v1.8h-.9zM506.2 164.5h.9v1.8h-.9zM510.2 164.5h.9v1.8h-.9zM518.2 164.5h.9v1.8h-.9zM435.2 165.5h.9v1.8h-.9zM456.2 165.5h.9v1.8h-.9zM465.2 165.5h.9v1.8h-.9zM467.2 165.5h.9v1.8h-.9zM469.2 165.5h.9v1.8h-.9zM471.2 165.5h.9v1.8h-.9zM473.2 165.5h.9v1.8h-.9zM475.2 165.5h.9v1.8h-.9zM482.2 165.5h.9v1.8h-.9zM496.2 165.5h.9v1.8h-.9zM518.2 165.5h.9v1.8h-.9zM520.2 165.5h.9v1.8h-.9zM425.2 166.5h.9v1.8h-.9zM434.2 166.5h.9v1.8h-.9zM437.2 166.5h.9v1.8h-.9zM480.2 166.5h.9v1.8h-.9zM503.2 166.5h.9v1.8h-.9zM518.2 166.5h.9v1.8h-.9zM519.2 166.5h.9v1.8h-.9zM424.2 167.5h.9v1.8h-.9zM427.2 167.5h.9v1.8h-.9zM430.2 167.5h.9v1.8h-.9zM463.2 167.5h.9v1.8h-.9zM468.2 167.5h.9v1.8h-.9zM469.2 167.5h.9v1.8h-.9zM471.2 167.5h.9v1.8h-.9zM473.2 167.5h.9v1.8h-.9zM474.2 167.5h.9v1.8h-.9zM475.2 167.5h.9v1.8h-.9zM476.2 167.5h.9v1.8h-.9zM480.2 167.5h.9v1.8h-.9zM482.2 167.5h.9v1.8h-.9zM508.2 167.5h.9v1.8h-.9zM517.2 167.5h.9v1.8h-.9zM434.2 168.5h.9v1.8h-.9zM446.2 168.5h.9v1.8h-.9zM453.2 168.5h.9v1.8h-.9zM457.2 168.5h.9v1.8h-.9zM466.2 168.5h.9v1.8h-.9zM468.2 168.5h.9v1.8h-.9zM476.2 168.5h.9v1.8h-.9zM485.2 168.5h.9v1.8h-.9zM497.2 168.5h.9v1.8h-.9zM425.2 169.5h.9v1.8h-.9zM431.2 169.5h.9v1.8h-.9zM442.2 169.5h.9v1.8h-.9zM444.2 169.5h.9v1.8h-.9zM451.2 169.5h.9v1.8h-.9zM460.2 169.5h.9v1.8h-.9zM469.2 169.5h.9v1.8h-.9zM489.2 169.5h.9v1.8h-.9zM495.2 169.5h.9v1.8h-.9zM499.2 169.5h.9v1.8h-.9zM427.2 170.5h.9v1.8h-.9zM434.2 170.5h.9v1.8h-.9zM438.2 170.5h.9v1.8h-.9zM454.2 170.5h.9v1.8h-.9zM470.2 170.5h.9v1.8h-.9zM486.2 170.5h.9v1.8h-.9zM488.2 170.5h.9v1.8h-.9zM489.2 170.5h.9v1.8h-.9zM496.2 170.5h.9v1.8h-.9zM497.2 170.5h.9v1.8h-.9zM507.2 170.5h.9v1.8h-.9zM430.2 171.5h.9v1.8h-.9zM443.2 171.5h.9v1.8h-.9zM446.2 171.5h.9v1.8h-.9zM457.2 171.5h.9v1.8h-.9zM469.2 171.5h.9v1.8h-.9zM503.2 171.5h.9v1.8h-.9zM440.2 172.5h.9v1.8h-.9zM444.2 172.5h.9v1.8h-.9zM458.2 172.5h.9v1.8h-.9zM471.2 172.5h.9v1.8h-.9zM475.2 172.5h.9v1.8h-.9zM485.2 172.5h.9v1.8h-.9zM490.2 172.5h.9v1.8h-.9zM501.2 172.5h.9v1.8h-.9zM476.2 173.5h.9v1.8h-.9zM427.2 174.5h.9v1.8h-.9zM430.2 174.5h.9v1.8h-.9zM505.2 174.5h.9v1.8h-.9zM517.2 174.5h.9v1.8h-.9zM430.2 175.5h.9v1.8h-.9zM431.2 175.5h.9v1.8h-.9zM434.2 175.5h.9v1.8h-.9zM438.2 175.5h.9v1.8h-.9zM444.2 175.5h.9v1.8h-.9zM450.2 175.5h.9v1.8h-.9zM459.2 175.5h.9v1.8h-.9zM467.2 175.5h.9v1.8h-.9zM469.2 175.5h.9v1.8h-.9zM481.2 175.5h.9v1.8h-.9zM487.2 175.5h.9v1.8h-.9zM496.2 175.5h.9v1.8h-.9zM513.2 175.5h.9v1.8h-.9zM514.2 175.5h.9v1.8h-.9zM427.2 176.5h.9v1.8h-.9zM441.2 176.5h.9v1.8h-.9zM443.2 176.5h.9v1.8h-.9zM450.2 176.5h.9v1.8h-.9zM452.2 176.5h.9v1.8h-.9zM469.2 176.5h.9v1.8h-.9zM471.2 176.5h.9v1.8h-.9zM472.2 176.5h.9v1.8h-.9zM482.2 176.5h.9v1.8h-.9zM487.2 176.5h.9v1.8h-.9zM497.2 176.5h.9v1.8h-.9zM512.2 176.5h.9v1.8h-.9zM515.2 176.5h.9v1.8h-.9zM439.2 177.5h.9v1.8h-.9zM453.2 177.5h.9v1.8h-.9zM467.2 177.5h.9v1.8h-.9zM490.2 177.5h.9v1.8h-.9zM495.2 177.5h.9v1.8h-.9zM509.2 177.5h.9v1.8h-.9zM428.2 178.5h.9v1.8h-.9zM456.2 178.5h.9v1.8h-.9zM457.2 178.5h.9v1.8h-.9zM458.2 178.5h.9v1.8h-.9zM477.2 178.5h.9v1.8h-.9zM480.2 178.5h.9v1.8h-.9zM517.2 178.5h.9v1.8h-.9zM444.2 179.5h.9v1.8h-.9zM445.2 179.5h.9v1.8h-.9zM475.2 179.5h.9v1.8h-.9zM500.2 179.5h.9v1.8h-.9zM503.2 179.5h.9v1.8h-.9zM514.2 179.5h.9v1.8h-.9zM430.2 180.5h.9v1.8h-.9zM435.2 180.5h.9v1.8h-.9zM469.2 180.5h.9v1.8h-.9zM477.2 180.5h.9v1.8h-.9zM491.2 180.5h.9v1.8h-.9zM504.2 180.5h.9v1.8h-.9zM512.2 180.5h.9v1.8h-.9zM434.2 181.5h.9v1.8h-.9zM438.2 181.5h.9v1.8h-.9zM447.2 181.5h.9v1.8h-.9zM452.2 181.5h.9v1.8h-.9zM470.2 181.5h.9v1.8h-.9zM471.2 181.5h.9v1.8h-.9zM474.2 181.5h.9v1.8h-.9zM479.2 181.5h.9v1.8h-.9zM484.2 181.5h.9v1.8h-.9zM503.2 181.5h.9v1.8h-.9zM509.2 181.5h.9v1.8h-.9zM428.2 182.5h.9v1.8h-.9zM430.2 182.5h.9v1.8h-.9zM433.2 182.5h.9v1.8h-.9zM436.2 182.5h.9v1.8h-.9zM441.2 182.5h.9v1.8h-.9zM444.2 182.5h.9v1.8h-.9zM451.2 182.5h.9v1.8h-.9zM474.2 182.5h.9v1.8h-.9zM493.2 182.5h.9v1.8h-.9zM500.2 182.5h.9v1.8h-.9zM501.2 182.5h.9v1.8h-.9zM512.2 182.5h.9v1.8h-.9zM513.2 182.5h.9v1.8h-.9zM516.2 182.5h.9v1.8h-.9zM458.2 183.5h.9v1.8h-.9zM459.2 183.5h.9v1.8h-.9zM463.2 183.5h.9v1.8h-.9zM488.2 183.5h.9v1.8h-.9zM499.2 183.5h.9v1.8h-.9zM506.2 183.5h.9v1.8h-.9zM508.2 183.5h.9v1.8h-.9zM518.2 183.5h.9v1.8h-.9zM520.2 183.5h.9v1.8h-.9zM424.2 184.5h.9v1.8h-.9zM428.2 184.5h.9v1.8h-.9zM445.2 184.5h.9v1.8h-.9zM455.2 184.5h.9v1.8h-.9zM477.2 184.5h.9v1.8h-.9zM512.2 184.5h.9v1.8h-.9zM516.2 184.5h.9v1.8h-.9zM520.2 184.5h.9v1.8h-.9zM428.2 185.5h.9v1.8h-.9zM432.2 185.5h.9v1.8h-.9zM472.2 185.5h.9v1.8h-.9zM499.2 185.5h.9v1.8h-.9zM430.2 186.5h.9v1.8h-.9zM435.2 186.5h.9v1.8h-.9zM436.2 186.5h.9v1.8h-.9zM451.2 186.5h.9v1.8h-.9zM458.2 186.5h.9v1.8h-.9zM468.2 186.5h.9v1.8h-.9zM478.2 186.5h.9v1.8h-.9zM496.2 186.5h.9v1.8h-.9zM511.2 186.5h.9v1.8h-.9zM512.2 186.5h.9v1.8h-.9zM446.2 187.5h.9v1.8h-.9zM449.2 187.5h.9v1.8h-.9zM457.2 187.5h.9v1.8h-.9zM485.2 187.5h.9v1.8h-.9zM495.2 187.5h.9v1.8h-.9zM505.2 187.5h.9v1.8h-.9zM444.2 188.5h.9v1.8h-.9zM448.2 188.5h.9v1.8h-.9zM449.2 188.5h.9v1.8h-.9zM454.2 188.5h.9v1.8h-.9zM486.2 188.5h.9v1.8h-.9zM487.2 188.5h.9v1.8h-.9zM498.2 188.5h.9v1.8h-.9zM518.2 188.5h.9v1.8h-.9zM427.2 189.5h.9v1.8h-.9zM428.2 189.5h.9v1.8h-.9zM435.2 189.5h.9v1.8h-.9zM462.2 189.5h.9v1.8h-.9zM484.2 189.5h.9v1.8h-.9zM492.2 189.5h.9v1.8h-.9zM438.2 190.5h.9v1.8h-.9zM469.2 190.5h.9v1.8h-.9zM470.2 190.5h.9v1.8h-.9zM497.2 190.5h.9v1.8h-.9zM517.2 190.5h.9v1.8h-.9zM468.2 191.5h.9v1.8h-.9zM490.2 191.5h.9v1.8h-.9zM496.2 191.5h.9v1.8h-.9zM497.2 191.5h.9v1.8h-.9zM514.2 191.5h.9v1.8h-.9zM425.2 192.5h.9v1.8h-.9zM449.2 192.5h.9v1.8h-.9zM452.2 192.5h.9v1.8h-.9zM455.2 192.5h.9v1.8h-.9zM457.2 192.5h.9v1.8h-.9zM461.2 192.5h.9v1.8h-.9zM469.2 192.5h.9v1.8h-.9zM476.2 192.5h.9v1.8h-.9zM485.2 192.5h.9v1.8h-.9zM519.2 192.5h.9v1.8h-.9zM441.2 193.5h.9v1.8h-.9zM444.2 193.5h.9v1.8h-.9zM450.2 193.5h.9v1.8h-.9zM454.2 193.5h.9v1.8h-.9zM457.2 193.5h.9v1.8h-.9zM473.2 193.5h.9v1.8h-.9zM475.2 193.5h.9v1.8h-.9zM476.2 193.5h.9v1.8h-.9zM514.2 193.5h.9v1.8h-.9zM426.2 194.5h.9v1.8h-.9zM464.2 194.5h.9v1.8h-.9zM482.2 194.5h.9v1.8h-.9zM484.2 194.5h.9v1.8h-.9zM500.2 194.5h.9v1.8h-.9zM427.2 195.5h.9v1.8h-.9zM437.2 195.5h.9v1.8h-.9zM446.2 195.5h.9v1.8h-.9zM460.2 195.5h.9v1.8h-.9zM470.2 195.5h.9v1.8h-.9zM491.2 195.5h.9v1.8h-.9zM519.2 195.5h.9v1.8h-.9zM441.2 196.5h.9v1.8h-.9zM448.2 196.5h.9v1.8h-.9zM459.2 196.5h.9v1.8h-.9zM482.2 196.5h.9v1.8h-.9zM493.2 196.5h.9v1.8h-.9zM472.2 197.5h.9v1.8h-.9zM479.2 197.5h.9v1.8h-.9zM431.2 198.5h.9v1.8h-.9zM432.2 198.5h.9v1.8h-.9zM449.2 198.5h.9v1.8h-.9zM450.2 198.5h.9v1.8h-.9zM477.2 198.5h.9v1.8h-.9zM480.2 198.5h.9v1.8h-.9zM491.2 198.5h.9v1.8h-.9zM492.2 198.5h.9v1.8h-.9zM512.2 198.5h.9v1.8h-.9zM516.2 198.5h.9v1.8h-.9zM519.2 198.5h.9v1.8h-.9zM472.2 199.5h.9v1.8h-.9zM449.2 200.5h.9v1.8h-.9zM474.2 200.5h.9v1.8h-.9zM430.2 201.5h.9v1.8h-.9zM434.2 201.5h.9v1.8h-.9zM462.2 202.5h.9v1.8h-.9zM487.2 202.5h.9v1.8h-.9zM499.2 202.5h.9v1.8h-.9zM501.2 203.5h.9v1.8h-.9zM505.2 203.5h.9v1.8h-.9zM508.2 203.5h.9v1.8h-.9zM467.2 204.5h.9v1.8h-.9zM455.2 205.5h.9v1.8h-.9zM461.2 205.5h.9v1.8h-.9zM504.2 205.5h.9v1.8h-.9zM430.2 206.5h.9v1.8h-.9zM444.2 206.5h.9v1.8h-.9zM457.2 206.5h.9v1.8h-.9zM504.2 206.5h.9v1.8h-.9zM472.2 207.5h.9v1.8h-.9zM479.2 207.5h.9v1.8h-.9zM482.2 207.5h.9v1.8h-.9zM464.2 208.5h.9v1.8h-.9zM492.2 208.5h.9v1.8h-.9zM427.2 209.5h.9v1.8h-.9zM430.2 209.5h.9v1.8h-.9zM464.2 209.5h.9v1.8h-.9zM512.2 209.5h.9v1.8h-.9zM481.2 210.5h.9v1.8h-.9zM493.2 210.5h.9v1.8h-.9zM497.2 210.5h.9v1.8h-.9zM477.2 211.5h.9v1.8h-.9zM492.2 211.5h.9v1.8h-.9zM461.2 212.5h.9v1.8h-.9zM471.2 212.5h.9v1.8h-.9zM455.2 213.5h.9v1.8h-.9zM459.2 213.5h.9v1.8h-.9zM466.2 213.5h.9v1.8h-.9zM471.2 213.5h.9v1.8h-.9zM477.2 213.5h.9v1.8h-.9zM500.2 213.5h.9v1.8h-.9zM451.2 215.5h.9v1.8h-.9zM456.2 215.5h.9v1.8h-.9zM483.2 215.5h.9v1.8h-.9zM439.2 216.5h.9v1.8h-.9zM445.2 216.5h.9v1.8h-.9zM467.2 216.5h.9v1.8h-.9zM482.2 216.5h.9v1.8h-.9z"/>
<path fill="#eea4a4" d="M427.2 127.5h.9v1.8h-.9zM434.2 127.5h.9v1.8h-.9zM446.2 127.5h.9v1.8h-.9zM456.2 127.5h.9v1.8h-.9zM473.2 127.5h.9v1.8h-.9zM474.2 127.5h.9v1.8h-.9zM480.2 127.5h.9v1.8h-.9zM483.2 127.5h.9v1.8h-.9zM485.2 127.5h.9v1.8h-.9zM486.2 127.5h.9v1.8h-.9zM496.2 127.5h.9v1.8h-.9zM503.2 127.5h.9v1.8h-.9zM515.2 127.5h.9v1.8h-.9zM518.2 127.5h.9v1.8h-.9zM432.2 128.5h.9v1.8h-.9zM436.2 128.5h.9v1.8h-.9zM438.2 128.5h.9v1.8h-.9zM445.2 128.5h.9v1.8h-.9zM449.2 128.5h.9v1.8h-.9zM466.2 128.5h.9v1.8h-.9zM468.2 128.5h.9v1.8h-.9zM474.2 128.5h.9v1.8h-.9zM476.2 128.5h.9v1.8h-.9zM496.2 128.5h.9v1.8h-.9zM500.2 128.5h.9v1.8h-.9zM443.2 129.5h.9v1.8h-.9zM458.2 129.5h.9v1.8h-.9zM460.2 129.5h.9v1.8h-.9zM473.2 129.5h.9v1.8h-.9zM477.2 129.5h.9v1.8h-.9zM508.2 129.5h.9v1.8h-.9zM436.2 130.5h.9v1.8h-.9zM437.2 130.5h.9v1.8h-.9zM449.2 130.5h.9v1.8h-.9zM451.2 130.5h.9v1.8h-.9zM454.2 130.5h.9v1.8h-.9zM458.2 130.5h.9v1.8h-.9zM488.2 130.5h.9v1.8h-.9zM497.2 130.5h.9v1.8h-.9zM501.2 130.5h.9v1.8h-.9zM508.2 130.5h.9v1.8h-.9zM511.2 130.5h.9v1.8h-.9zM518.2 130.5h.9v1.8h-.9zM520.2 130.5h.9v1.8h-.9zM441.2 131.5h.9v1.8h-.9zM443.2 131.5h.9v1.8h-.9zM460.2 131.5h.9v1.8h-.9zM463.2 131.5h.9v1.8h-.9zM465.2 131.5h.9v1.8h-.9zM484.2 131.5h.9v1.8h-.9zM487.2 131.5h.9v1.8h-.9zM498.2 131.5h.9v1.8h-.9zM499.2 131.5h.9v1.8h-.9zM504.2 131.5h.9v1.8h-.9zM508.2 131.5h.9v1.8h-.9zM513.2 131.5h.9v1.8h-.9zM460.2 132.5h.9v1.8h-.9zM469.2 132.5h.9v1.8h-.9zM485.2 132.5h.9v1.8h-.9zM492.2 132.5h.9v1.8h-.9zM498.2 132.5h.9v1.8h-.9zM506.2 132.5h.9v1.8h-.9zM513.2 132.5h.9v1.8h-.9zM424.2 133.5h.9v1.8h-.9zM431.2 133.5h.9v1.8h-.9zM443.2 133.5h.9v1.8h-.9zM445.2 133.5h.9v1.8h-.9zM460.2 133.5h.9v1.8h-.9zM465.2 133.5h.9v1.8h-.9zM494.2 133.5h.9v1.8h-.9zM429.2 134.5h.9v1.8h-.9zM441.2 134.5h.9v1.8h-.9zM472.2 134.5h.9v1.8h-.9zM474.2 134.5h.9v1.8h-.9zM480.2 134.5h.9v1.8h-.9zM489.2 134.5h.9v1.8h-.9zM501.2 134.5h.9v1.8h-.9zM520.2 134.5h.9v1.8h-.9zM427.2 135.5h.9v1.8h-.9zM431.2 135.5h.9v1.8h-.9zM435.2 135.5h.9v1.8h-.9zM449.2 135.5h.9v1.8h-.9zM458.2 135.5h.9v1.8h-.9zM481.2 135.5h.9v1.8h-.9zM484.2 135.5h.9v1.8h-.9zM495.2 135.5h.9v1.8h-.9zM508.2 135.5h.9v1.8h-.9zM439.2 136.5h.9v1.8h-.9zM445.2 136.5h.9v1.8h-.9zM461.2 136.5h.9v1.8h-.9zM463.2 136.5h.9v1.8h-.9zM468.2 136.5h.9v1.8h-.9zM470.2 136.5h.9v1.8h-.9zM492.2 136.5h.9v1.8h-.9zM498.2 136.5h.9v1.8h-.9zM504.2 136.5h.9v1.8h-.9zM509.2 136.5h.9v1.8h-.9zM511.2 136.5h.9v1.8h-.9zM447.2 137.5h.9v1.8h-.9zM462.2 137.5h.9v1.8h-.9zM469.2 137.5h.9v1.8h-.9zM498.2 137.5h.9v1.8h-.9zM500.2 137.5h.9v1.8h-.9zM438.2 138.5h.9v1.8h-.9zM471.2 138.5h.9v1.8h-.9zM450.2 139.5h.9v1.8h-.9zM451.2 139.5h.9v1.8h-.9zM458.2 139.5h.9v1.8h-.9zM459.2 139.5h.9v1.8h-.9zM464.2 139.5h.9v1.8h-.9zM474.2 139.5h.9v1.8h-.9zM479.2 139.5h.9v1.8h-.9zM497.2 139.5h.9v1.8h-.9zM503.2 139.5h.9v1.8h-.9zM430.2 140.5h.9v1.8h-.9zM433.2 140.5h.9v1.8h-.9zM436.2 140.5h.9v1.8h-.9zM438.2 140.5h.9v1.8h-.9zM441.2 140.5h.9v1.8h-.9zM443.2 140.5h.9v1.8h-.9zM446.2 140.5h.9v1.8h-.9zM449.2 140.5h.9v1.8h-.9zM451.2 140.5h.9v1.8h-.9zM452.2 140.5h.9v1.8h-.9zM462.2 140.5h.9v1.8h-.9zM469.2 140.5h.9v1.8h-.9zM471.2 140.5h.9v1.8h-.9zM481.2 140.5h.9v1.8h-.9zM486.2 140.5h.9v1.8h-.9zM487.2 140.5h.9v1.8h-.9zM492.2 140.5h.9v1.8h-.9zM494.2 140.5h.9v1.8h-.9zM499.2 140.5h.9v1.8h-.9zM508.2 140.5h.9v1.8h-.9zM510.2 140.5h.9v1.8h-.9zM519.2 140.5h.9v1.8h-.9zM428.2 141.5h.9v1.8h-.9zM434.2 141.5h.9v1.8h-.9zM437.2 141.5h.9v1.8h-.9zM438.2 141.5h.9v1.8h-.9zM439.2 141.5h.9v1.8h-.9zM441.2 141.5h.9v1.8h-.9zM442.2 141.5h.9v1.8h-.9zM443.2 141.5h.9v1.8h-.9zM445.2 141.5h.9v1.8h-.9zM447.2 141.5h.9v1.8h-.9zM457.2 141.5h.9v1.8h-.9zM460.2 141.5h.9v1.8h-.9zM464.2 141.5h.9v1.8h-.9zM465.2 141.5h.9v1.8h-.9zM467.2 141.5h.9v1.8h-.9zM469.2 141.5h.9v1.8h-.9zM471.2 141.5h.9v1.8h-.9zM472.2 141.5h.9v1.8h-.9zM477.2 141.5h.9v1.8h-.9zM484.2 141.5h.9v1.8h-.9zM488.2 141.5h.9v1.8h-.9zM491.2 141.5h.9v1.8h-.9zM495.2 141.5h.9v1.8h-.9zM499.2 141.5h.9v1.8h-.9zM508.2 141.5h.9v1.8h-.9zM511.2 141.5h.9v1.8h-.9zM466.2 142.5h.9v1.8h-.9zM491.2 142.5h.9v1.8h-.9zM444.2 143.5h.9v1.8h-.9zM459.2 143.5h.9v1.8h-.9zM466.2 143.5h.9v1.8h-.9zM491.2 143.5h.9v1.8h-.9zM503.2 143.5h.9v1.8h-.9zM516.2 143.5h.9v1.8h-.9zM424.2 144.5h.9v1.8h-.9zM437.2 144.5h.9v1.8h-.9zM442.2 144.5h.9v1.8h-.9zM474.2 144.5h.9v1.8h-.9zM481.2 144.5h.9v1.8h-.9zM424.2 145.5h.9v1.8h-.9zM440.2 145.5h.9v1.8h-.9zM460.2 145.5h.9v1.8h-.9zM466.2 145.5h.9v1.8h-.9zM471.2 145.5h.9v1.8h-.9zM475.2 145.5h.9v1.8h-.9zM488.2 145.5h.9v1.8h-.9zM503.2 145.5h.9v1.8h-.9zM429.2 146.5h.9v1.8h-.9zM427.2 147.5h.9v1.8h-.9zM463.2 148.5h.9v1.8h-.9zM466.2 148.5h.9v1.8h-.9zM428.2 149.5h.9v1.8h-.9zM429.2 149.5h.9v1.8h-.9zM476.2 149.5h.9v1.8h-.9zM477.2 149.5h.9v1.8h-.9zM491.2 149.5h.9v1.8h-.9zM512.2 149.5h.9v1.8h-.9zM439.2 150.5h.9v1.8h-.9zM448.2 150.5h.9v1.8h-.9zM465.2 150.5h.9v1.8h-.9zM477.2 150.5h.9v1.8h-.9zM483.2 150.5h.9v1.8h-.9zM460.2 151.5h.9v1.8h-.9zM468.2 151.5h.9v1.8h-.9zM444.2 152.5h.9v1.8h-.9zM512.2 152.5h.9v1.8h-.9zM498.2 153.5h.9v1.8h-.9zM433.2 154.5h.9v1.8h-.9zM445.2 156.5h.9v1.8h-.9zM458.2 157.5h.9v1.8h-.9zM463.2 160.5h.9v1.8h-.9zM453.2 161.5h.9v1.8h-.9zM432.2 162.5h.9v1.8h-.9zM461.2 162.5h.9v1.8h-.9zM471.2 162.5h.9v1.8h-.9zM490.2 162.5h.9v1.8h-.9zM520.2 162.5h.9v1.8h-.9zM433.2 163.5h.9v1.8h-.9zM436.2 163.5h.9v1.8h-.9zM450.2 163.5h.9v1.8h-.9zM464.2 163.5h.9v1.8h-.9zM468.2 163.5h.9v1.8h-.9zM470.2 163.5h.9v1.8h-.9zM475.2 163.5h.9v1.8h-.9zM480.2 163.5h.9v1.8h-.9zM484.2 163.5h.9v1.8h-.9zM500.2 163.5h.9v1.8h-.9zM501.2 163.5h.9v1.8h-.9zM512.2 163.5h.9v1.8h-.9zM430.2 164.5h.9v1.8h-.9zM431.2 164.5h.9v1.8h-.9zM443.2 164.5h.9v1.8h-.9zM463.2 164.5h.9v1.8h-.9zM476.2 164.5h.9v1.8h-.9zM503.2 164.5h.9v1.8h-.9zM424.2 165.5h.9v1.8h-.9zM453.2 165.5h.9v1.8h-.9zM463.2 165.5h.9v1.8h-.9zM481.2 165.5h.9v1.8h-.9zM487.2 165.5h.9v1.8h-.9zM498.2 165.5h.9v1.8h-.9zM499.2 165.5h.9v1.8h-.9zM442.2 166.5h.9v1.8h-.9zM447.2 166.5h.9v1.8h-.9zM449.2 166.5h.9v1.8h-.9zM458.2 166.5h.9v1.8h-.9zM473.2 166.5h.9v1.8h-.9zM479.2 166.5h.9v1.8h-.9zM481.2 166.5h.9v1.8h-.9zM482.2 166.5h.9v1.8h-.9zM486.2 166.5h.9v1.8h-.9zM491.2 166.5h.9v1.8h-.9zM506.2 166.5h.9v1.8h-.9zM517.2 166.5h.9v1.8h-.9zM520.2 166.5h.9v1.8h-.9zM433.2 167.5h.9v1.8h-.9zM441.2 167.5h.9v1.8h-.9zM442.2 167.5h.9v1.8h-.9zM445.2 167.5h.9v1.8h-.9zM447.2 167.5h.9v1.8h-.9zM467.2 167.5h.9v1.8h-.9zM479.2 167.5h.9v1.8h-.9zM481.2 167.5h.9v1.8h-.9zM431.2 168.5h.9v1.8h-.9zM436.2 168.5h.9v1.8h-.9zM439.2 168.5h.9v1.8h-.9zM455.2 168.5h.9v1.8h-.9zM459.2 168.5h.9v1.8h-.9zM493.2 168.5h.9v1.8h-.9zM496.2 168.5h.9v1.8h-.9zM450.2 169.5h.9v1.8h-.9zM454.2 169.5h.9v1.8h-.9zM458.2 169.5h.9v1.8h-.9zM473.2 169.5h.9v1.8h-.9zM492.2 169.5h.9v1.8h-.9zM506.2 169.5h.9v1.8h-.9zM444.2 170.5h.9v1.8h-.9zM456.2 170.5h.9v1.8h-.9zM471.2 170.5h.9v1.8h-.9zM485.2 170.5h.9v1.8h-.9zM487.2 170.5h.9v1.8h-.9zM492.2 170.5h.9v1.8h-.9zM513.2 170.5h.9v1.8h-.9zM520.2 170.5h.9v1.8h-.9zM496.2 171.5h.9v1.8h-.9zM504.2 171.5h.9v1.8h-.9zM511.2 171.5h.9v1.8h-.9zM512.2 171.5h.9v1.8h-.9zM431.2 172.5h.9v1.8h-.9zM441.2 172.5h.9v1.8h-.9zM459.2 172.5h.9v1.8h-.9zM473.2 172.5h.9v1.8h-.9zM476.2 172.5h.9v1.8h-.9zM482.2 172.5h.9v1.8h-.9zM483.2 172.5h.9v1.8h-.9zM496.2 172.5h.9v1.8h-.9zM509.2 172.5h.9v1.8h-.9zM431.2 173.5h.9v1.8h-.9zM464.2 173.5h.9v1.8h-.9zM477.2 173.5h.9v1.8h-.9zM501.2 173.5h.9v1.8h-.9zM514.2 173.5h.9v1.8h-.9zM520.2 173.5h.9v1.8h-.9zM434.2 174.5h.9v1.8h-.9zM438.2 174.5h.9v1.8h-.9zM445.2 174.5h.9v1.8h-.9zM455.2 174.5h.9v1.8h-.9zM456.2 174.5h.9v1.8h-.9zM457.2 174.5h.9v1.8h-.9zM462.2 174.5h.9v1.8h-.9zM500.2 174.5h.9v1.8h-.9zM503.2 174.5h.9v1.8h-.9zM510.2 174.5h.9v1.8h-.9zM518.2 174.5h.9v1.8h-.9zM436.2 175.5h.9v1.8h-.9zM440.2 175.5h.9v1.8h-.9zM441.2 175.5h.9v1.8h-.9zM452.2 175.5h.9v1.8h-.9zM474.2 175.5h.9v1.8h-.9zM430.2 176.5h.9v1.8h-.9zM449.2 176.5h.9v1.8h-.9zM451.2 176.5h.9v1.8h-.9zM466.2 176.5h.9v1.8h-.9zM467.2 176.5h.9v1.8h-.9zM481.2 176.5h.9v1.8h-.9zM491.2 176.5h.9v1.8h-.9zM496.2 176.5h.9v1.8h-.9zM433.2 177.5h.9v1.8h-.9zM443.2 177.5h.9v1.8h-.9zM448.2 177.5h.9v1.8h-.9zM470.2 177.5h.9v1.8h-.9zM480.2 177.5h.9v1.8h-.9zM481.2 177.5h.9v1.8h-.9zM492.2 177.5h.9v1.8h-.9zM481.2 178.5h.9v1.8h-.9zM491.2 178.5h.9v1.8h-.9zM506.2 178.5h.9v1.8h-.9zM514.2 178.5h.9v1.8h-.9zM425.2 179.5h.9v1.8h-.9zM429.2 179.5h.9v1.8h-.9zM430.2 179.5h.9v1.8h-.9zM433.2 179.5h.9v1.8h-.9zM442.2 179.5h.9v1.8h-.9zM447.2 179.5h.9v1.8h-.9zM470.2 179.5h.9v1.8h-.9zM474.2 179.5h.9v1.8h-.9zM479.2 179.5h.9v1.8h-.9zM437.2 180.5h.9v1.8h-.9zM444.2 180.5h.9v1.8h-.9zM445.2 180.5h.9v1.8h-.9zM467.2 180.5h.9v1.8h-.9zM478.2 180.5h.9v1.8h-.9zM485.2 180.5h.9v1.8h-.9zM505.2 180.5h.9v1.8h-.9zM513.2 180.5h.9v1.8h-.9zM517.2 180.5h.9v1.8h-.9zM430.2 181.5h.9v1.8h-.9zM437.2 181.5h.9v1.8h-.9zM443.2 181.5h.9v1.8h-.9zM451.2 181.5h.9v1.8h-.9zM454.2 181.5h.9v1.8h-.9zM463.2 181.5h.9v1.8h-.9zM480.2 181.5h.9v1.8h-.9zM496.2 181.5h.9v1.8h-.9zM512.2 181.5h.9v1.8h-.9zM435.2 182.5h.9v1.8h-.9zM442.2 182.5h.9v1.8h-.9zM443.2 182.5h.9v1.8h-.9zM456.2 182.5h.9v1.8h-.9zM458.2 182.5h.9v1.8h-.9zM460.2 182.5h.9v1.8h-.9zM476.2 182.5h.9v1.8h-.9zM478.2 182.5h.9v1.8h-.9zM496.2 182.5h.9v1.8h-.9zM430.2 183.5h.9v1.8h-.9zM433.2 183.5h.9v1.8h-.9zM446.2 183.5h.9v1.8h-.9zM472.2 183.5h.9v1.8h-.9zM479.2 183.5h.9v1.8h-.9zM481.2 183.5h.9v1.8h-.9zM483.2 183.5h.9v1.8h-.9zM429.2 184.5h.9v1.8h-.9zM443.2 184.5h.9v1.8h-.9zM452.2 184.5h.9v1.8h-.9zM468.2 184.5h.9v1.8h-.9zM473.2 184.5h.9v1.8h-.9zM480.2 184.5h.9v1.8h-.9zM496.2 184.5h.9v1.8h-.9zM501.2 184.5h.9v1.8h-.9zM431.2 185.5h.9v1.8h-.9zM433.2 185.5h.9v1.8h-.9zM457.2 185.5h.9v1.8h-.9zM468.2 185.5h.9v1.8h-.9zM475.2 185.5h.9v1.8h-.9zM508.2 185.5h.9v1.8h-.9zM510.2 185.5h.9v1.8h-.9zM433.2 186.5h.9v1.8h-.9zM469.2 186.5h.9v1.8h-.9zM488.2 186.5h.9v1.8h-.9zM494.2 186.5h.9v1.8h-.9zM474.2 187.5h.9v1.8h-.9zM476.2 187.5h.9v1.8h-.9zM481.2 187.5h.9v1.8h-.9zM509.2 187.5h.9v1.8h-.9zM427.2 188.5h.9v1.8h-.9zM436.2 188.5h.9v1.8h-.9zM485.2 188.5h.9v1.8h-.9zM500.2 188.5h.9v1.8h-.9zM517.2 188.5h.9v1.8h-.9zM430.2 189.5h.9v1.8h-.9zM456.2 189.5h.9v1.8h-.9zM461.2 189.5h.9v1.8h-.9zM466.2 189.5h.9v1.8h-.9zM489.2 189.5h.9v1.8h-.9zM452.2 190.5h.9v1.8h-.9zM457.2 190.5h.9v1.8h-.9zM520.2 190.5h.9v1.8h-.9zM449.2 191.5h.9v1.8h-.9zM458.2 191.5h.9v1.8h-.9zM476.2 191.5h.9v1.8h-.9zM487.2 191.5h.9v1.8h-.9zM506.2 191.5h.9v1.8h-.9zM487.2 192.5h.9v1.8h-.9zM488.2 192.5h.9v1.8h-.9zM511.2 192.5h.9v1.8h-.9zM513.2 192.5h.9v1.8h-.9zM501.2 193.5h.9v1.8h-.9zM442.2 194.5h.9v1.8h-.9zM449.2 194.5h.9v1.8h-.9zM457.2 194.5h.9v1.8h-.9zM477.2 194.5h.9v1.8h-.9zM429.2 195.5h.9v1.8h-.9zM454.2 195.5h.9v1.8h-.9zM455.2 195.5h.9v1.8h-.9zM467.2 195.5h.9v1.8h-.9zM472.2 195.5h.9v1.8h-.9zM515.2 195.5h.9v1.8h-.9zM468.2 196.5h.9v1.8h-.9zM488.2 196.5h.9v1.8h-.9zM432.2 197.5h.9v1.8h-.9zM436.2 198.5h.9v1.8h-.9zM474.2 198.5h.9v1.8h-.9zM476.2 198.5h.9v1.8h-.9zM486.2 198.5h.9v1.8h-.9zM496.2 198.5h.9v1.8h-.9zM425.2 199.5h.9v1.8h-.9zM432.2 199.5h.9v1.8h-.9zM429.2 200.5h.9v1.8h-.9zM477.2 207.5h.9v1.8h-.9zM498.2 210.5h.9v1.8h-.9zM512.2 210.5h.9v1.8h-.9zM475.2 213.5h.9v1.8h-.9zM436.2 216.5h.9v1.8h-.9zM464.2 216.5h.9v1.8h-.9z"/>
<path fill="#e48686" d="M441.2 127.5h.9v1.8h-.9zM512.2 127.5h.9v1.8h-.9zM428.2 128.5h.9v1.8h-.9zM457.2 128.5h.9v1.8h-.9zM465.2 128.5h.9v1.8h-.9zM487.2 128.5h.9v1.8h-.9zM497.2 128.5h.9v1.8h-.9zM505.2 128.5h.9v1.8h-.9zM436.2 129.5h.9v1.8h-.9zM476.2 129.5h.9v1.8h-.9zM479.2 129.5h.9v1.8h-.9zM431.2 130.5h.9v1.8h-.9zM451.2 132.5h.9v1.8h-.9zM464.2 132.5h.9v1.8h-.9zM470.2 132.5h.9v1.8h-.9zM463.2 133.5h.9v1.8h-.9zM498.2 133.5h.9v1.8h-.9zM440.2 134.5h.9v1.8h-.9zM449.2 134.5h.9v1.8h-.9zM454.2 134.5h.9v1.8h-.9zM471.2 134.5h.9v1.8h-.9zM482.2 134.5h.9v1.8h-.9zM487.2 134.5h.9v1.8h-.9zM429.2 135.5h.9v1.8h-.9zM432.2 135.5h.9v1.8h-.9zM436.2 135.5h.9v1.8h-.9zM437.2 135.5h.9v1.8h-.9zM438.2 135.5h.9v1.8h-.9zM439.2 135.5h.9v1.8h-.9zM442.2 135.5h.9v1.8h-.9zM443.2 135.5h.9v1.8h-.9zM444.2 135.5h.9v1.8h-.9zM447.2 135.5h.9v1.8h-.9zM457.2 135.5h.9v1.8h-.9zM460.2 135.5h.9v1.8h-.9zM463.2 135.5h.9v1.8h-.9zM473.2 135.5h.9v1.8h-.9zM476.2 135.5h.9v1.8h-.9zM482.2 135.5h.9v1.8h-.9zM487.2 135.5h.9v1.8h-.9zM488.2 135.5h.9v1.8h-.9zM490.2 135.5h.9v1.8h-.9zM500.2 135.5h.9v1.8h-.9zM506.2 135.5h.9v1.8h-.9zM507.2 135.5h.9v1.8h-.9zM509.2 135.5h.9v1.8h-.9zM515.2 135.5h.9v1.8h-.9zM516.2 135.5h.9v1.8h-.9zM424.2 136.5h.9v1.8h-.9zM426.2 136.5h.9v1.8h-.9zM428.2 136.5h.9v1.8h-.9zM431.2 136.5h.9v1.8h-.9zM437.2 136.5h.9v1.8h-.9zM438.2 136.5h.9v1.8h-.9zM440.2 136.5h.9v1.8h-.9zM441.2 136.5h.9v1.8h-.9zM444.2 136.5h.9v1.8h-.9zM446.2 136.5h.9v1.8h-.9zM456.2 136.5h.9v1.8h-.9zM457.2 136.5h.9v1.8h-.9zM462.2 136.5h.9v1.8h-.9zM467.2 136.5h.9v1.8h-.9zM472.2 136.5h.9v1.8h-.9zM473.2 136.5h.9v1.8h-.9zM475.2 136.5h.9v1.8h-.9zM476.2 136.5h.9v1.8h-.9zM479.2 136.5h.9v1.8h-.9zM484.2 136.5h.9v1.8h-.9zM495.2 136.5h.9v1.8h-.9zM497.2 136.5h.9v1.8h-.9zM505.2 136.5h.9v1.8h-.9zM516.2 136.5h.9v1.8h-.9zM517.2 136.5h.9v1.8h-.9zM441.2 137.5h.9v1.8h-.9zM501.2 137.5h.9v1.8h-.9zM517.2 137.5h.9v1.8h-.9zM425.2 138.5h.9v1.8h-.9zM497.2 138.5h.9v1.8h-.9zM514.2 138.5h.9v1.8h-.9zM435.2 139.5h.9v1.8h-.9zM449.2 139.5h.9v1.8h-.9zM457.2 139.5h.9v1.8h-.9zM469.2 139.5h.9v1.8h-.9zM472.2 139.5h.9v1.8h-.9zM473.2 139.5h.9v1.8h-.9zM481.2 139.5h.9v1.8h-.9zM492.2 139.5h.9v1.8h-.9zM493.2 139.5h.9v1.8h-.9zM494.2 139.5h.9v1.8h-.9zM499.2 139.5h.9v1.8h-.9zM512.2 139.5h.9v1.8h-.9zM517.2 139.5h.9v1.8h-.9zM429.2 140.5h.9v1.8h-.9zM434.2 140.5h.9v1.8h-.9zM437.2 140.5h.9v1.8h-.9zM442.2 140.5h.9v1.8h-.9zM450.2 140.5h.9v1.8h-.9zM453.2 140.5h.9v1.8h-.9zM485.2 140.5h.9v1.8h-.9zM493.2 140.5h.9v1.8h-.9zM495.2 140.5h.9v1.8h-.9zM497.2 140.5h.9v1.8h-.9zM502.2 140.5h.9v1.8h-.9zM511.2 140.5h.9v1.8h-.9zM515.2 140.5h.9v1.8h-.9zM517.2 140.5h.9v1.8h-.9zM518.2 140.5h.9v1.8h-.9zM430.2 141.5h.9v1.8h-.9zM435.2 141.5h.9v1.8h-.9zM436.2 141.5h.9v1.8h-.9zM450.2 141.5h.9v1.8h-.9zM466.2 141.5h.9v1.8h-.9zM470.2 141.5h.9v1.8h-.9zM476.2 141.5h.9v1.8h-.9zM496.2 141.5h.9v1.8h-.9zM497.2 141.5h.9v1.8h-.9zM501.2 141.5h.9v1.8h-.9zM515.2 141.5h.9v1.8h-.9zM516.2 141.5h.9v1.8h-.9zM519.2 141.5h.9v1.8h-.9zM446.2 147.5h.9v1.8h-.9zM498.2 147.5h.9v1.8h-.9zM455.2 148.5h.9v1.8h-.9zM462.2 150.5h.9v1.8h-.9zM479.2 154.5h.9v1.8h-.9zM471.2 156.5h.9v1.8h-.9zM488.2 157.5h.9v1.8h-.9zM443.2 162.5h.9v1.8h-.9zM465.2 164.5h.9v1.8h-.9zM502.2 164.5h.9v1.8h-.9zM479.2 165.5h.9v1.8h-.9zM480.2 165.5h.9v1.8h-.9zM430.2 166.5h.9v1.8h-.9zM465.2 166.5h.9v1.8h-.9zM440.2 167.5h.9v1.8h-.9zM470.2 169.5h.9v1.8h-.9zM480.2 169.5h.9v1.8h-.9zM447.2 170.5h.9v1.8h-.9zM495.2 170.5h.9v1.8h-.9zM499.2 170.5h.9v1.8h-.9zM448.2 171.5h.9v1.8h-.9zM488.2 172.5h.9v1.8h-.9zM491.2 172.5h.9v1.8h-.9zM494.2 172.5h.9v1.8h-.9zM520.2 172.5h.9v1.8h-.9zM447.2 173.5h.9v1.8h-.9zM495.2 173.5h.9v1.8h-.9zM507.2 173.5h.9v1.8h-.9zM520.2 174.5h.9v1.8h-.9zM435.2 175.5h.9v1.8h-.9zM442.2 175.5h.9v1.8h-.9zM462.2 175.5h.9v1.8h-.9zM476.2 175.5h.9v1.8h-.9zM459.2 176.5h.9v1.8h-.9zM473.2 176.5h.9v1.8h-.9zM445.2 177.5h.9v1.8h-.9zM505.2 177.5h.9v1.8h-.9zM427.2 179.5h.9v1.8h-.9zM487.2 179.5h.9v1.8h-.9zM491.2 179.5h.9v1.8h-.9zM501.2 179.5h.9v1.8h-.9zM436.2 180.5h.9v1.8h-.9zM441.2 180.5h.9v1.8h-.9zM451.2 180.5h.9v1.8h-.9zM458.2 180.5h.9v1.8h-.9zM488.2 181.5h.9v1.8h-.9zM495.2 181.5h.9v1.8h-.9zM501.2 181.5h.9v1.8h-.9zM437.2 182.5h.9v1.8h-.9zM502.2 182.5h.9v1.8h-.9zM428.2 183.5h.9v1.8h-.9zM457.2 183.5h.9v1.8h-.9zM512.2 183.5h.9v1.8h-.9zM431.2 184.5h.9v1.8h-.9zM437.2 184.5h.9v1.8h-.9zM466.2 184.5h.9v1.8h-.9zM495.2 184.5h.9v1.8h-.9zM460.2 185.5h.9v1.8h-.9zM516.2 188.5h.9v1.8h-.9zM459.2 190.5h.9v1.8h-.9zM433.2 192.5h.9v1.8h-.9zM496.2 193.5h.9v1.8h-.9zM498.2 194.5h.9v1.8h-.9zM434.2 195.5h.9v1.8h-.9zM464.2 197.5h.9v1.8h-.9zM497.2 197.5h.9v1.8h-.9zM444.2 198.5h.9v1.8h-.9zM499.2 213.5h.9v1.8h-.9z"/>
<path fill="#cc5c5c" d="M469.2 130.5h.9v1.8h-.9zM463.2 134.5h.9v1.8h-.9zM464.2 134.5h.9v1.8h-.9zM454.2 135.5h.9v1.8h-.9zM459.2 135.5h.9v1.8h-.9zM462.2 135.5h.9v1.8h-.9zM464.2 135.5h.9v1.8h-.9zM470.2 135.5h.9v1.8h-.9zM472.2 135.5h.9v1.8h-.9zM474.2 135.5h.9v1.8h-.9zM479.2 135.5h.9v1.8h-.9zM491.2 135.5h.9v1.8h-.9zM492.2 135.5h.9v1.8h-.9zM496.2 135.5h.9v1.8h-.9zM497.2 135.5h.9v1.8h-.9zM503.2 135.5h.9v1.8h-.9zM510.2 135.5h.9v1.8h-.9zM514.2 135.5h.9v1.8h-.9zM425.2 136.5h.9v1.8h-.9zM427.2 136.5h.9v1.8h-.9zM443.2 136.5h.9v1.8h-.9zM449.2 136.5h.9v1.8h-.9zM451.2 136.5h.9v1.8h-.9zM452.2 136.5h.9v1.8h-.9zM455.2 136.5h.9v1.8h-.9zM460.2 136.5h.9v1.8h-.9zM465.2 136.5h.9v1.8h-.9zM466.2 136.5h.9v1.8h-.9zM469.2 136.5h.9v1.8h-.9zM471.2 136.5h.9v1.8h-.9zM477.2 136.5h.9v1.8h-.9zM480.2 136.5h.9v1.8h-.9zM482.2 136.5h.9v1.8h-.9zM485.2 136.5h.9v1.8h-.9zM487.2 136.5h.9v1.8h-.9zM488.2 136.5h.9v1.8h-.9zM491.2 136.5h.9v1.8h-.9zM493.2 136.5h.9v1.8h-.9zM494.2 136.5h.9v1.8h-.9zM496.2 136.5h.9v1.8h-.9zM499.2 136.5h.9v1.8h-.9zM510.2 136.5h.9v1.8h-.9zM512.2 136.5h.9v1.8h-.9zM518.2 136.5h.9v1.8h-.9zM519.2 136.5h.9v1.8h-.9zM430.2 138.5h.9v1.8h-.9zM460.2 139.5h.9v1.8h-.9zM471.2 139.5h.9v1.8h-.9zM478.2 139.5h.9v1.8h-.9zM486.2 139.5h.9v1.8h-.9zM514.2 139.5h.9v1.8h-.9zM445.2 140.5h.9v1.8h-.9zM457.2 140.5h.9v1.8h-.9zM466.2 140.5h.9v1.8h-.9zM478.2 140.5h.9v1.8h-.9zM488.2 140.5h.9v1.8h-.9zM501.2 140.5h.9v1.8h-.9zM427.2 141.5h.9v1.8h-.9zM429.2 141.5h.9v1.8h-.9zM459.2 141.5h.9v1.8h-.9zM468.2 141.5h.9v1.8h-.9zM479.2 141.5h.9v1.8h-.9zM481.2 141.5h.9v1.8h-.9zM502.2 141.5h.9v1.8h-.9zM433.2 143.5h.9v1.8h-.9zM518.2 163.5h.9v1.8h-.9zM451.2 168.5h.9v1.8h-.9zM463.2 169.5h.9v1.8h-.9zM468.2 176.5h.9v1.8h-.9zM488.2 179.5h.9v1.8h-.9z"/>
</g>
<rect x="550.7" y="126.8" width="97.4" height="90.7" fill="url(#haze)"/>
<g>
<path fill="#fadcdc" d="M551.4 127.5h.9v1.8h-.9zM554.4 127.5h.9v1.8h-.9zM576.4 127.5h.9v1.8h-.9zM588.4 127.5h.9v1.8h-.9zM615.4 127.5h.9v1.8h-.9zM643.4 127.5h.9v1.8h-.9zM552.4 128.5h.9v1.8h-.9zM561.4 128.5h.9v1.8h-.9zM599.4 128.5h.9v1.8h-.9zM611.4 128.5h.9v1.8h-.9zM618.4 128.5h.9v1.8h-.9zM636.4 128.5h.9v1.8h-.9zM639.4 128.5h.9v1.8h-.9zM644.4 128.5h.9v1.8h-.9zM562.4 129.5h.9v1.8h-.9zM588.4 129.5h.9v1.8h-.9zM597.4 129.5h.9v1.8h-.9zM601.4 129.5h.9v1.8h-.9zM614.4 129.5h.9v1.8h-.9zM625.4 129.5h.9v1.8h-.9zM628.4 129.5h.9v1.8h-.9zM632.4 129.5h.9v1.8h-.9zM637.4 129.5h.9v1.8h-.9zM555.4 130.5h.9v1.8h-.9zM561.4 130.5h.9v1.8h-.9zM586.4 130.5h.9v1.8h-.9zM610.4 130.5h.9v1.8h-.9zM552.4 131.5h.9v1.8h-.9zM555.4 131.5h.9v1.8h-.9zM576.4 131.5h.9v1.8h-.9zM580.4 131.5h.9v1.8h-.9zM588.4 131.5h.9v1.8h-.9zM599.4 131.5h.9v1.8h-.9zM608.4 131.5h.9v1.8h-.9zM611.4 131.5h.9v1.8h-.9zM616.4 131.5h.9v1.8h-.9zM569.4 132.5h.9v1.8h-.9zM608.4 132.5h.9v1.8h-.9zM611.4 132.5h.9v1.8h-.9zM612.4 132.5h.9v1.8h-.9zM646.4 132.5h.9v1.8h-.9zM561.4 133.5h.9v1.8h-.9zM563.4 133.5h.9v1.8h-.9zM572.4 133.5h.9v1.8h-.9zM622.4 133.5h.9v1.8h-.9zM624.4 133.5h.9v1.8h-.9zM626.4 133.5h.9v1.8h-.9zM609.4 134.5h.9v1.8h-.9zM623.4 134.5h.9v1.8h-.9zM566.4 137.5h.9v1.8h-.9zM589.4 137.5h.9v1.8h-.9zM599.4 137.5h.9v1.8h-.9zM612.4 137.5h.9v1.8h-.9zM633.4 137.5h.9v1.8h-.9zM551.4 138.5h.9v1.8h-.9zM552.4 138.5h.9v1.8h-.9zM577.4 138.5h.9v1.8h-.9zM602.4 138.5h.9v1.8h-.9zM609.4 138.5h.9v1.8h-.9zM640.4 138.5h.9v1.8h-.9zM643.4 138.5h.9v1.8h-.9zM551.4 139.5h.9v1.8h-.9zM552.4 139.5h.9v1.8h-.9zM625.4 139.5h.9v1.8h-.9zM635.4 139.5h.9v1.8h-.9zM640.4 139.5h.9v1.8h-.9zM578.4 140.5h.9v1.8h-.9zM584.4 140.5h.9v1.8h-.9zM631.4 140.5h.9v1.8h-.9zM561.4 141.5h.9v1.8h-.9zM565.4 141.5h.9v1.8h-.9zM614.4 141.5h.9v1.8h-.9zM623.4 141.5h.9v1.8h-.9zM600.4 142.5h.9v1.8h-.9zM625.4 142.5h.9v1.8h-.9zM638.4 142.5h.9v1.8h-.9zM585.4 143.5h.9v1.8h-.9zM595.4 143.5h.9v1.8h-.9zM609.4 143.5h.9v1.8h-.9zM640.4 143.5h.9v1.8h-.9zM560.4 144.5h.9v1.8h-.9zM575.4 144.5h.9v1.8h-.9zM583.4 144.5h.9v1.8h-.9zM608.4 144.5h.9v1.8h-.9zM640.4 144.5h.9v1.8h-.9zM591.4 145.5h.9v1.8h-.9zM595.4 145.5h.9v1.8h-.9zM607.4 145.5h.9v1.8h-.9zM611.4 145.5h.9v1.8h-.9zM616.4 145.5h.9v1.8h-.9zM632.4 145.5h.9v1.8h-.9zM635.4 145.5h.9v1.8h-.9zM641.4 145.5h.9v1.8h-.9zM556.4 146.5h.9v1.8h-.9zM571.4 146.5h.9v1.8h-.9zM596.4 146.5h.9v1.8h-.9zM616.4 146.5h.9v1.8h-.9zM636.4 146.5h.9v1.8h-.9zM643.4 146.5h.9v1.8h-.9zM559.4 147.5h.9v1.8h-.9zM561.4 147.5h.9v1.8h-.9zM564.4 147.5h.9v1.8h-.9zM566.4 147.5h.9v1.8h-.9zM581.4 147.5h.9v1.8h-.9zM588.4 147.5h.9v1.8h-.9zM590.4 147.5h.9v1.8h-.9zM592.4 147.5h.9v1.8h-.9zM607.4 147.5h.9v1.8h-.9zM611.4 147.5h.9v1.8h-.9zM615.4 147.5h.9v1.8h-.9zM620.4 147.5h.9v1.8h-.9zM643.4 147.5h.9v1.8h-.9zM647.4 147.5h.9v1.8h-.9zM572.4 148.5h.9v1.8h-.9zM577.4 148.5h.9v1.8h-.9zM605.4 148.5h.9v1.8h-.9zM615.4 148.5h.9v1.8h-.9zM646.4 148.5h.9v1.8h-.9zM559.4 149.5h.9v1.8h-.9zM565.4 149.5h.9v1.8h-.9zM573.4 149.5h.9v1.8h-.9zM576.4 149.5h.9v1.8h-.9zM584.4 149.5h.9v1.8h-.9zM592.4 149.5h.9v1.8h-.9zM615.4 149.5h.9v1.8h-.9zM617.4 149.5h.9v1.8h-.9zM643.4 149.5h.9v1.8h-.9zM585.4 150.5h.9v1.8h-.9zM599.4 150.5h.9v1.8h-.9zM607.4 150.5h.9v1.8h-.9zM630.4 150.5h.9v1.8h-.9zM633.4 150.5h.9v1.8h-.9zM636.4 150.5h.9v1.8h-.9zM638.4 150.5h.9v1.8h-.9zM646.4 150.5h.9v1.8h-.9zM647.4 150.5h.9v1.8h-.9zM564.4 151.5h.9v1.8h-.9zM594.4 151.5h.9v1.8h-.9zM598.4 151.5h.9v1.8h-.9zM615.4 151.5h.9v1.8h-.9zM636.4 151.5h.9v1.8h-.9zM584.4 152.5h.9v1.8h-.9zM601.4 152.5h.9v1.8h-.9zM627.4 152.5h.9v1.8h-.9zM574.4 153.5h.9v1.8h-.9zM638.4 153.5h.9v1.8h-.9zM595.4 154.5h.9v1.8h-.9zM609.4 154.5h.9v1.8h-.9zM579.4 155.5h.9v1.8h-.9zM585.4 155.5h.9v1.8h-.9zM602.4 155.5h.9v1.8h-.9zM640.4 155.5h.9v1.8h-.9zM565.4 156.5h.9v1.8h-.9zM622.4 156.5h.9v1.8h-.9zM627.4 156.5h.9v1.8h-.9zM579.4 157.5h.9v1.8h-.9zM590.4 157.5h.9v1.8h-.9zM628.4 157.5h.9v1.8h-.9zM630.4 157.5h.9v1.8h-.9zM646.4 157.5h.9v1.8h-.9zM560.4 158.5h.9v1.8h-.9zM571.4 158.5h.9v1.8h-.9zM573.4 158.5h.9v1.8h-.9zM645.4 158.5h.9v1.8h-.9zM590.4 159.5h.9v1.8h-.9zM591.4 159.5h.9v1.8h-.9zM592.4 159.5h.9v1.8h-.9zM606.4 159.5h.9v1.8h-.9zM551.4 160.5h.9v1.8h-.9zM557.4 161.5h.9v1.8h-.9zM565.4 161.5h.9v1.8h-.9zM567.4 161.5h.9v1.8h-.9zM591.4 161.5h.9v1.8h-.9zM592.4 161.5h.9v1.8h-.9zM610.4 161.5h.9v1.8h-.9zM616.4 161.5h.9v1.8h-.9zM631.4 161.5h.9v1.8h-.9zM633.4 161.5h.9v1.8h-.9zM638.4 161.5h.9v1.8h-.9zM557.4 162.5h.9v1.8h-.9zM584.4 162.5h.9v1.8h-.9zM589.4 162.5h.9v1.8h-.9zM603.4 162.5h.9v1.8h-.9zM606.4 162.5h.9v1.8h-.9zM638.4 162.5h.9v1.8h-.9zM558.4 163.5h.9v1.8h-.9zM559.4 163.5h.9v1.8h-.9zM605.4 163.5h.9v1.8h-.9zM609.4 163.5h.9v1.8h-.9zM614.4 163.5h.9v1.8h-.9zM616.4 163.5h.9v1.8h-.9zM634.4 163.5h.9v1.8h-.9zM581.4 164.5h.9v1.8h-.9zM586.4 164.5h.9v1.8h-.9zM587.4 164.5h.9v1.8h-.9zM595.4 164.5h.9v1.8h-.9zM606.4 164.5h.9v1.8h-.9zM616.4 164.5h.9v1.8h-.9zM631.4 164.5h.9v1.8h-.9zM643.4 164.5h.9v1.8h-.9zM582.4 165.5h.9v1.8h-.9zM587.4 165.5h.9v1.8h-.9zM591.4 165.5h.9v1.8h-.9zM605.4 165.5h.9v1.8h-.9zM639.4 165.5h.9v1.8h-.9zM571.4 166.5h.9v1.8h-.9zM601.4 166.5h.9v1.8h-.9zM620.4 166.5h.9v1.8h-.9zM621.4 166.5h.9v1.8h-.9zM559.4 167.5h.9v1.8h-.9zM576.4 167.5h.9v1.8h-.9zM577.4 167.5h.9v1.8h-.9zM596.4 167.5h.9v1.8h-.9zM599.4 167.5h.9v1.8h-.9zM630.4 167.5h.9v1.8h-.9zM647.4 167.5h.9v1.8h-.9zM596.4 168.5h.9v1.8h-.9zM586.4 169.5h.9v1.8h-.9zM596.4 169.5h.9v1.8h-.9zM599.4 169.5h.9v1.8h-.9zM602.4 169.5h.9v1.8h-.9zM643.4 169.5h.9v1.8h-.9zM646.4 169.5h.9v1.8h-.9zM554.4 170.5h.9v1.8h-.9zM563.4 170.5h.9v1.8h-.9zM565.4 170.5h.9v1.8h-.9zM567.4 170.5h.9v1.8h-.9zM592.4 170.5h.9v1.8h-.9zM621.4 170.5h.9v1.8h-.9zM629.4 170.5h.9v1.8h-.9zM646.4 170.5h.9v1.8h-.9zM551.4 171.5h.9v1.8h-.9zM560.4 171.5h.9v1.8h-.9zM582.4 171.5h.9v1.8h-.9zM633.4 171.5h.9v1.8h-.9zM555.4 172.5h.9v1.8h-.9zM568.4 172.5h.9v1.8h-.9zM602.4 172.5h.9v1.8h-.9zM608.4 172.5h.9v1.8h-.9zM619.4 172.5h.9v1.8h-.9zM638.4 172.5h.9v1.8h-.9zM632.4 173.5h.9v1.8h-.9zM636.4 173.5h.9v1.8h-.9zM599.4 174.5h.9v1.8h-.9zM601.4 174.5h.9v1.8h-.9zM605.4 174.5h.9v1.8h-.9zM631.4 174.5h.9v1.8h-.9zM633.4 174.5h.9v1.8h-.9zM556.4 175.5h.9v1.8h-.9zM575.4 175.5h.9v1.8h-.9zM603.4 175.5h.9v1.8h-.9zM604.4 175.5h.9v1.8h-.9zM609.4 175.5h.9v1.8h-.9zM612.4 175.5h.9v1.8h-.9zM552.4 176.5h.9v1.8h-.9zM554.4 176.5h.9v1.8h-.9zM580.4 176.5h.9v1.8h-.9zM584.4 176.5h.9v1.8h-.9zM598.4 176.5h.9v1.8h-.9zM614.4 176.5h.9v1.8h-.9zM616.4 176.5h.9v1.8h-.9zM617.4 176.5h.9v1.8h-.9zM626.4 176.5h.9v1.8h-.9zM639.4 176.5h.9v1.8h-.9zM643.4 176.5h.9v1.8h-.9zM560.4 177.5h.9v1.8h-.9zM583.4 177.5h.9v1.8h-.9zM605.4 177.5h.9v1.8h-.9zM645.4 177.5h.9v1.8h-.9zM588.4 178.5h.9v1.8h-.9zM594.4 178.5h.9v1.8h-.9zM640.4 178.5h.9v1.8h-.9zM562.4 179.5h.9v1.8h-.9zM576.4 179.5h.9v1.8h-.9zM583.4 179.5h.9v1.8h-.9zM608.4 179.5h.9v1.8h-.9zM621.4 179.5h.9v1.8h-.9zM559.4 180.5h.9v1.8h-.9zM607.4 180.5h.9v1.8h-.9zM612.4 180.5h.9v1.8h-.9zM620.4 180.5h.9v1.8h-.9zM636.4 180.5h.9v1.8h-.9zM560.4 181.5h.9v1.8h-.9zM561.4 181.5h.9v1.8h-.9zM582.4 181.5h.9v1.8h-.9zM588.4 181.5h.9v1.8h-.9zM602.4 181.5h.9v1.8h-.9zM643.4 181.5h.9v1.8h-.9zM646.4 181.5h.9v1.8h-.9zM578.4 182.5h.9v1.8h-.9zM585.4 182.5h.9v1.8h-.9zM608.4 182.5h.9v1.8h-.9zM625.4 182.5h.9v1.8h-.9zM627.4 182.5h.9v1.8h-.9zM553.4 183.5h.9v1.8h-.9zM568.4 183.5h.9v1.8h-.9zM606.4 183.5h.9v1.8h-.9zM619.4 183.5h.9v1.8h-.9zM635.4 183.5h.9v1.8h-.9zM644.4 183.5h.9v1.8h-.9zM563.4 184.5h.9v1.8h-.9zM576.4 184.5h.9v1.8h-.9zM601.4 184.5h.9v1.8h-.9zM603.4 184.5h.9v1.8h-.9zM614.4 184.5h.9v1.8h-.9zM636.4 184.5h.9v1.8h-.9zM645.4 184.5h.9v1.8h-.9zM556.4 185.5h.9v1.8h-.9zM571.4 185.5h.9v1.8h-.9zM587.4 185.5h.9v1.8h-.9zM594.4 185.5h.9v1.8h-.9zM597.4 185.5h.9v1.8h-.9zM604.4 185.5h.9v1.8h-.9zM614.4 185.5h.9v1.8h-.9zM616.4 185.5h.9v1.8h-.9zM621.4 185.5h.9v1.8h-.9zM623.4 185.5h.9v1.8h-.9zM628.4 185.5h.9v1.8h-.9zM631.4 185.5h.9v1.8h-.9zM636.4 185.5h.9v1.8h-.9zM558.4 186.5h.9v1.8h-.9zM574.4 186.5h.9v1.8h-.9zM577.4 186.5h.9v1.8h-.9zM589.4 186.5h.9v1.8h-.9zM592.4 186.5h.9v1.8h-.9zM606.4 186.5h.9v1.8h-.9zM616.4 186.5h.9v1.8h-.9zM629.4 186.5h.9v1.8h-.9zM646.4 186.5h.9v1.8h-.9zM586.4 187.5h.9v1.8h-.9zM588.4 187.5h.9v1.8h-.9zM591.4 187.5h.9v1.8h-.9zM601.4 187.5h.9v1.8h-.9zM606.4 187.5h.9v1.8h-.9zM616.4 187.5h.9v1.8h-.9zM623.4 187.5h.9v1.8h-.9zM633.4 187.5h.9v1.8h-.9zM635.4 187.5h.9v1.8h-.9zM567.4 188.5h.9v1.8h-.9zM601.4 188.5h.9v1.8h-.9zM607.4 188.5h.9v1.8h-.9zM608.4 188.5h.9v1.8h-.9zM616.4 188.5h.9v1.8h-.9zM622.4 188.5h.9v1.8h-.9zM640.4 188.5h.9v1.8h-.9zM628.4 189.5h.9v1.8h-.9zM636.4 189.5h.9v1.8h-.9zM646.4 189.5h.9v1.8h-.9zM554.4 190.5h.9v1.8h-.9zM558.4 190.5h.9v1.8h-.9zM584.4 190.5h.9v1.8h-.9zM590.4 190.5h.9v1.8h-.9zM593.4 190.5h.9v1.8h-.9zM622.4 190.5h.9v1.8h-.9zM627.4 190.5h.9v1.8h-.9zM630.4 190.5h.9v1.8h-.9zM553.4 191.5h.9v1.8h-.9zM558.4 191.5h.9v1.8h-.9zM559.4 191.5h.9v1.8h-.9zM590.4 191.5h.9v1.8h-.9zM598.4 191.5h.9v1.8h-.9zM620.4 191.5h.9v1.8h-.9zM624.4 191.5h.9v1.8h-.9zM629.4 191.5h.9v1.8h-.9zM642.4 191.5h.9v1.8h-.9zM610.4 192.5h.9v1.8h-.9zM625.4 192.5h.9v1.8h-.9zM629.4 192.5h.9v1.8h-.9zM569.4 193.5h.9v1.8h-.9zM588.4 193.5h.9v1.8h-.9zM607.4 193.5h.9v1.8h-.9zM608.4 193.5h.9v1.8h-.9zM620.4 193.5h.9v1.8h-.9zM621.4 193.5h.9v1.8h-.9zM567.4 194.5h.9v1.8h-.9zM569.4 194.5h.9v1.8h-.9zM574.4 194.5h.9v1.8h-.9zM587.4 194.5h.9v1.8h-.9zM589.4 194.5h.9v1.8h-.9zM609.4 194.5h.9v1.8h-.9zM610.4 194.5h.9v1.8h-.9zM633.4 194.5h.9v1.8h-.9zM642.4 194.5h.9v1.8h-.9zM567.4 195.5h.9v1.8h-.9zM578.4 195.5h.9v1.8h-.9zM585.4 195.5h.9v1.8h-.9zM553.4 196.5h.9v1.8h-.9zM576.4 196.5h.9v1.8h-.9zM606.4 196.5h.9v1.8h-.9zM609.4 196.5h.9v1.8h-.9zM628.4 196.5h.9v1.8h-.9zM646.4 196.5h.9v1.8h-.9zM575.4 197.5h.9v1.8h-.9zM578.4 197.5h.9v1.8h-.9zM630.4 197.5h.9v1.8h-.9zM568.4 198.5h.9v1.8h-.9zM573.4 198.5h.9v1.8h-.9zM581.4 198.5h.9v1.8h-.9zM590.4 198.5h.9v1.8h-.9zM592.4 198.5h.9v1.8h-.9zM604.4 198.5h.9v1.8h-.9zM616.4 198.5h.9v1.8h-.9zM630.4 198.5h.9v1.8h-.9zM559.4 199.5h.9v1.8h-.9zM561.4 199.5h.9v1.8h-.9zM565.4 199.5h.9v1.8h-.9zM578.4 199.5h.9v1.8h-.9zM598.4 199.5h.9v1.8h-.9zM599.4 199.5h.9v1.8h-.9zM615.4 199.5h.9v1.8h-.9zM620.4 199.5h.9v1.8h-.9zM637.4 199.5h.9v1.8h-.9zM567.4 200.5h.9v1.8h-.9zM613.4 200.5h.9v1.8h-.9zM620.4 200.5h.9v1.8h-.9zM629.4 200.5h.9v1.8h-.9zM589.4 201.5h.9v1.8h-.9zM623.4 201.5h.9v1.8h-.9zM630.4 201.5h.9v1.8h-.9zM561.4 202.5h.9v1.8h-.9zM607.4 202.5h.9v1.8h-.9zM643.4 202.5h.9v1.8h-.9zM572.4 203.5h.9v1.8h-.9zM596.4 203.5h.9v1.8h-.9zM612.4 203.5h.9v1.8h-.9zM615.4 203.5h.9v1.8h-.9zM624.4 203.5h.9v1.8h-.9zM559.4 204.5h.9v1.8h-.9zM568.4 204.5h.9v1.8h-.9zM588.4 204.5h.9v1.8h-.9zM592.4 204.5h.9v1.8h-.9zM599.4 204.5h.9v1.8h-.9zM601.4 204.5h.9v1.8h-.9zM620.4 204.5h.9v1.8h-.9zM609.4 205.5h.9v1.8h-.9zM628.4 205.5h.9v1.8h-.9zM635.4 205.5h.9v1.8h-.9zM565.4 206.5h.9v1.8h-.9zM596.4 206.5h.9v1.8h-.9zM608.4 206.5h.9v1.8h-.9zM617.4 206.5h.9v1.8h-.9zM622.4 206.5h.9v1.8h-.9zM641.4 206.5h.9v1.8h-.9zM645.4 206.5h.9v1.8h-.9zM574.4 207.5h.9v1.8h-.9zM593.4 207.5h.9v1.8h-.9zM601.4 207.5h.9v1.8h-.9zM612.4 207.5h.9v1.8h-.9zM623.4 207.5h.9v1.8h-.9zM573.4 208.5h.9v1.8h-.9zM610.4 208.5h.9v1.8h-.9zM619.4 208.5h.9v1.8h-.9zM620.4 208.5h.9v1.8h-.9zM642.4 208.5h.9v1.8h-.9zM554.4 209.5h.9v1.8h-.9zM559.4 209.5h.9v1.8h-.9zM574.4 209.5h.9v1.8h-.9zM592.4 209.5h.9v1.8h-.9zM593.4 209.5h.9v1.8h-.9zM599.4 209.5h.9v1.8h-.9zM608.4 209.5h.9v1.8h-.9zM622.4 209.5h.9v1.8h-.9zM633.4 209.5h.9v1.8h-.9zM605.4 210.5h.9v1.8h-.9zM616.4 210.5h.9v1.8h-.9zM625.4 210.5h.9v1.8h-.9zM626.4 210.5h.9v1.8h-.9zM628.4 210.5h.9v1.8h-.9zM594.4 211.5h.9v1.8h-.9zM603.4 211.5h.9v1.8h-.9zM643.4 211.5h.9v1.8h-.9zM575.4 213.5h.9v1.8h-.9zM583.4 213.5h.9v1.8h-.9zM591.4 213.5h.9v1.8h-.9zM613.4 213.5h.9v1.8h-.9zM632.4 213.5h.9v1.8h-.9zM633.4 214.5h.9v1.8h-.9zM639.4 214.5h.9v1.8h-.9zM640.4 214.5h.9v1.8h-.9zM647.4 214.5h.9v1.8h-.9zM557.4 215.5h.9v1.8h-.9zM559.4 215.5h.9v1.8h-.9zM578.4 215.5h.9v1.8h-.9zM592.4 215.5h.9v1.8h-.9zM608.4 215.5h.9v1.8h-.9zM611.4 215.5h.9v1.8h-.9zM621.4 215.5h.9v1.8h-.9zM551.4 216.5h.9v1.8h-.9zM554.4 216.5h.9v1.8h-.9zM570.4 216.5h.9v1.8h-.9zM615.4 216.5h.9v1.8h-.9z"/>
<path fill="#f5c0c0" d="M561.4 127.5h.9v1.8h-.9zM574.4 127.5h.9v1.8h-.9zM575.4 127.5h.9v1.8h-.9zM581.4 127.5h.9v1.8h-.9zM587.4 127.5h.9v1.8h-.9zM600.4 127.5h.9v1.8h-.9zM606.4 127.5h.9v1.8h-.9zM611.4 127.5h.9v1.8h-.9zM612.4 127.5h.9v1.8h-.9zM618.4 127.5h.9v1.8h-.9zM645.4 127.5h.9v1.8h-.9zM554.4 128.5h.9v1.8h-.9zM582.4 128.5h.9v1.8h-.9zM590.4 128.5h.9v1.8h-.9zM598.4 128.5h.9v1.8h-.9zM608.4 128.5h.9v1.8h-.9zM614.4 128.5h.9v1.8h-.9zM622.4 128.5h.9v1.8h-.9zM624.4 128.5h.9v1.8h-.9zM626.4 128.5h.9v1.8h-.9zM641.4 128.5h.9v1.8h-.9zM643.4 128.5h.9v1.8h-.9zM557.4 129.5h.9v1.8h-.9zM558.4 129.5h.9v1.8h-.9zM561.4 129.5h.9v1.8h-.9zM569.4 129.5h.9v1.8h-.9zM572.4 129.5h.9v1.8h-.9zM573.4 129.5h.9v1.8h-.9zM593.4 129.5h.9v1.8h-.9zM602.4 129.5h.9v1.8h-.9zM605.4 129.5h.9v1.8h-.9zM608.4 129.5h.9v1.8h-.9zM609.4 129.5h.9v1.8h-.9zM611.4 129.5h.9v1.8h-.9zM616.4 129.5h.9v1.8h-.9zM619.4 129.5h.9v1.8h-.9zM621.4 129.5h.9v1.8h-.9zM631.4 129.5h.9v1.8h-.9zM634.4 129.5h.9v1.8h-.9zM638.4 129.5h.9v1.8h-.9zM640.4 129.5h.9v1.8h-.9zM644.4 129.5h.9v1.8h-.9zM646.4 129.5h.9v1.8h-.9zM553.4 130.5h.9v1.8h-.9zM562.4 130.5h.9v1.8h-.9zM563.4 130.5h.9v1.8h-.9zM588.4 130.5h.9v1.8h-.9zM590.4 130.5h.9v1.8h-.9zM605.4 130.5h.9v1.8h-.9zM606.4 130.5h.9v1.8h-.9zM609.4 130.5h.9v1.8h-.9zM622.4 130.5h.9v1.8h-.9zM638.4 130.5h.9v1.8h-.9zM642.4 130.5h.9v1.8h-.9zM644.4 130.5h.9v1.8h-.9zM646.4 130.5h.9v1.8h-.9zM647.4 130.5h.9v1.8h-.9zM561.4 131.5h.9v1.8h-.9zM575.4 131.5h.9v1.8h-.9zM583.4 131.5h.9v1.8h-.9zM586.4 131.5h.9v1.8h-.9zM604.4 131.5h.9v1.8h-.9zM623.4 131.5h.9v1.8h-.9zM637.4 131.5h.9v1.8h-.9zM640.4 131.5h.9v1.8h-.9zM647.4 131.5h.9v1.8h-.9zM563.4 132.5h.9v1.8h-.9zM586.4 132.5h.9v1.8h-.9zM601.4 132.5h.9v1.8h-.9zM613.4 132.5h.9v1.8h-.9zM635.4 132.5h.9v1.8h-.9zM570.4 133.5h.9v1.8h-.9zM584.4 133.5h.9v1.8h-.9zM592.4 133.5h.9v1.8h-.9zM594.4 133.5h.9v1.8h-.9zM606.4 133.5h.9v1.8h-.9zM610.4 133.5h.9v1.8h-.9zM636.4 133.5h.9v1.8h-.9zM641.4 133.5h.9v1.8h-.9zM644.4 133.5h.9v1.8h-.9zM557.4 134.5h.9v1.8h-.9zM560.4 134.5h.9v1.8h-.9zM561.4 134.5h.9v1.8h-.9zM565.4 134.5h.9v1.8h-.9zM569.4 134.5h.9v1.8h-.9zM584.4 134.5h.9v1.8h-.9zM590.4 134.5h.9v1.8h-.9zM604.4 134.5h.9v1.8h-.9zM614.4 134.5h.9v1.8h-.9zM616.4 134.5h.9v1.8h-.9zM622.4 134.5h.9v1.8h-.9zM629.4 134.5h.9v1.8h-.9zM645.4 134.5h.9v1.8h-.9zM626.4 135.5h.9v1.8h-.9zM558.4 136.5h.9v1.8h-.9zM608.4 136.5h.9v1.8h-.9zM555.4 137.5h.9v1.8h-.9zM581.4 137.5h.9v1.8h-.9zM595.4 137.5h.9v1.8h-.9zM607.4 137.5h.9v1.8h-.9zM610.4 137.5h.9v1.8h-.9zM640.4 137.5h.9v1.8h-.9zM647.4 137.5h.9v1.8h-.9zM558.4 138.5h.9v1.8h-.9zM564.4 138.5h.9v1.8h-.9zM575.4 138.5h.9v1.8h-.9zM576.4 138.5h.9v1.8h-.9zM578.4 138.5h.9v1.8h-.9zM580.4 138.5h.9v1.8h-.9zM581.4 138.5h.9v1.8h-.9zM593.4 138.5h.9v1.8h-.9zM607.4 138.5h.9v1.8h-.9zM621.4 138.5h.9v1.8h-.9zM622.4 138.5h.9v1.8h-.9zM628.4 138.5h.9v1.8h-.9zM631.4 138.5h.9v1.8h-.9zM645.4 138.5h.9v1.8h-.9zM647.4 138.5h.9v1.8h-.9zM578.4 139.5h.9v1.8h-.9zM582.4 139.5h.9v1.8h-.9zM583.4 139.5h.9v1.8h-.9zM591.4 139.5h.9v1.8h-.9zM600.4 139.5h.9v1.8h-.9zM609.4 139.5h.9v1.8h-.9zM620.4 139.5h.9v1.8h-.9zM623.4 139.5h.9v1.8h-.9zM626.4 139.5h.9v1.8h-.9zM630.4 139.5h.9v1.8h-.9zM632.4 139.5h.9v1.8h-.9zM643.4 139.5h.9v1.8h-.9zM647.4 139.5h.9v1.8h-.9zM557.4 140.5h.9v1.8h-.9zM569.4 140.5h.9v1.8h-.9zM570.4 140.5h.9v1.8h-.9zM571.4 140.5h.9v1.8h-.9zM580.4 140.5h.9v1.8h-.9zM591.4 140.5h.9v1.8h-.9zM610.4 140.5h.9v1.8h-.9zM612.4 140.5h.9v1.8h-.9zM616.4 140.5h.9v1.8h-.9zM629.4 140.5h.9v1.8h-.9zM630.4 140.5h.9v1.8h-.9zM635.4 140.5h.9v1.8h-.9zM636.4 140.5h.9v1.8h-.9zM645.4 140.5h.9v1.8h-.9zM553.4 141.5h.9v1.8h-.9zM575.4 141.5h.9v1.8h-.9zM576.4 141.5h.9v1.8h-.9zM580.4 141.5h.9v1.8h-.9zM588.4 141.5h.9v1.8h-.9zM595.4 141.5h.9v1.8h-.9zM630.4 141.5h.9v1.8h-.9zM645.4 141.5h.9v1.8h-.9zM561.4 142.5h.9v1.8h-.9zM583.4 142.5h.9v1.8h-.9zM588.4 142.5h.9v1.8h-.9zM590.4 142.5h.9v1.8h-.9zM594.4 142.5h.9v1.8h-.9zM595.4 142.5h.9v1.8h-.9zM605.4 142.5h.9v1.8h-.9zM613.4 142.5h.9v1.8h-.9zM617.4 142.5h.9v1.8h-.9zM641.4 142.5h.9v1.8h-.9zM643.4 142.5h.9v1.8h-.9zM560.4 143.5h.9v1.8h-.9zM589.4 143.5h.9v1.8h-.9zM590.4 143.5h.9v1.8h-.9zM592.4 143.5h.9v1.8h-.9zM605.4 143.5h.9v1.8h-.9zM618.4 143.5h.9v1.8h-.9zM621.4 143.5h.9v1.8h-.9zM625.4 143.5h.9v1.8h-.9zM627.4 143.5h.9v1.8h-.9zM641.4 143.5h.9v1.8h-.9zM643.4 143.5h.9v1.8h-.9zM568.4 144.5h.9v1.8h-.9zM584.4 144.5h.9v1.8h-.9zM596.4 144.5h.9v1.8h-.9zM599.4 144.5h.9v1.8h-.9zM611.4 144.5h.9v1.8h-.9zM616.4 144.5h.9v1.8h-.9zM621.4 144.5h.9v1.8h-.9zM624.4 144.5h.9v1.8h-.9zM558.4 145.5h.9v1.8h-.9zM565.4 145.5h.9v1.8h-.9zM570.4 145.5h.9v1.8h-.9zM588.4 145.5h.9v1.8h-.9zM643.4 145.5h.9v1.8h-.9zM646.4 145.5h.9v1.8h-.9zM559.4 146.5h.9v1.8h-.9zM576.4 146.5h.9v1.8h-.9zM592.4 146.5h.9v1.8h-.9zM611.4 146.5h.9v1.8h-.9zM619.4 146.5h.9v1.8h-.9zM624.4 146.5h.9v1.8h-.9zM554.4 147.5h.9v1.8h-.9zM578.4 147.5h.9v1.8h-.9zM601.4 147.5h.9v1.8h-.9zM623.4 147.5h.9v1.8h-.9zM592.4 148.5h.9v1.8h-.9zM621.4 148.5h.9v1.8h-.9zM578.4 149.5h.9v1.8h-.9zM588.4 149.5h.9v1.8h-.9zM597.4 149.5h.9v1.8h-.9zM607.4 149.5h.9v1.8h-.9zM612.4 149.5h.9v1.8h-.9zM621.4 149.5h.9v1.8h-.9zM626.4 149.5h.9v1.8h-.9zM639.4 149.5h.9v1.8h-.9zM640.4 149.5h.9v1.8h-.9zM554.4 150.5h.9v1.8h-.9zM559.4 150.5h.9v1.8h-.9zM588.4 150.5h.9v1.8h-.9zM589.4 150.5h.9v1.8h-.9zM602.4 150.5h.9v1.8h-.9zM608.4 150.5h.9v1.8h-.9zM612.4 150.5h.9v1.8h-.9zM617.4 150.5h.9v1.8h-.9zM623.4 150.5h.9v1.8h-.9zM628.4 150.5h.9v1.8h-.9zM632.4 150.5h.9v1.8h-.9zM586.4 151.5h.9v1.8h-.9zM605.4 151.5h.9v1.8h-.9zM621.4 152.5h.9v1.8h-.9zM622.4 152.5h.9v1.8h-.9zM643.4 152.5h.9v1.8h-.9zM558.4 153.5h.9v1.8h-.9zM563.4 153.5h.9v1.8h-.9zM581.4 153.5h.9v1.8h-.9zM640.4 153.5h.9v1.8h-.9zM573.4 154.5h.9v1.8h-.9zM622.4 154.5h.9v1.8h-.9zM561.4 155.5h.9v1.8h-.9zM596.4 155.5h.9v1.8h-.9zM645.4 155.5h.9v1.8h-.9zM608.4 156.5h.9v1.8h-.9zM635.4 156.5h.9v1.8h-.9zM553.4 157.5h.9v1.8h-.9zM620.4 157.5h.9v1.8h-.9zM634.4 157.5h.9v1.8h-.9zM635.4 157.5h.9v1.8h-.9zM556.4 158.5h.9v1.8h-.9zM629.4 158.5h.9v1.8h-.9zM567.4 159.5h.9v1.8h-.9zM609.4 159.5h.9v1.8h-.9zM616.4 159.5h.9v1.8h-.9zM640.4 159.5h.9v1.8h-.9zM561.4 160.5h.9v1.8h-.9zM599.4 160.5h.9v1.8h-.9zM645.4 160.5h.9v1.8h-.9zM647.4 160.5h.9v1.8h-.9zM561.4 161.5h.9v1.8h-.9zM611.4 161.5h.9v1.8h-.9zM646.4 161.5h.9v1.8h-.9zM577.4 162.5h.9v1.8h-.9zM578.4 162.5h.9v1.8h-.9zM587.4 162.5h.9v1.8h-.9zM591.4 162.5h.9v1.8h-.9zM592.4 162.5h.9v1.8h-.9zM599.4 162.5h.9v1.8h-.9zM612.4 162.5h.9v1.8h-.9zM619.4 162.5h.9v1.8h-.9zM628.4 162.5h.9v1.8h-.9zM632.4 162.5h.9v1.8h-.9zM641.4 162.5h.9v1.8h-.9zM575.4 163.5h.9v1.8h-.9zM578.4 163.5h.9v1.8h-.9zM586.4 163.5h.9v1.8h-.9zM589.4 163.5h.9v1.8h-.9zM590.4 163.5h.9v1.8h-.9zM596.4 163.5h.9v1.8h-.9zM608.4 163.5h.9v1.8h-.9zM612.4 163.5h.9v1.8h-.9zM645.4 163.5h.9v1.8h-.9zM646.4 163.5h.9v1.8h-.9zM647.4 163.5h.9v1.8h-.9zM557.4 164.5h.9v1.8h-.9zM561.4 164.5h.9v1.8h-.9zM571.4 164.5h.9v1.8h-.9zM573.4 164.5h.9v1.8h-.9zM588.4 164.5h.9v1.8h-.9zM594.4 164.5h.9v1.8h-.9zM638.4 164.5h.9v1.8h-.9zM640.4 164.5h.9v1.8h-.9zM565.4 165.5h.9v1.8h-.9zM566.4 165.5h.9v1.8h-.9zM586.4 165.5h.9v1.8h-.9zM590.4 165.5h.9v1.8h-.9zM597.4 165.5h.9v1.8h-.9zM614.4 165.5h.9v1.8h-.9zM616.4 165.5h.9v1.8h-.9zM618.4 165.5h.9v1.8h-.9zM638.4 165.5h.9v1.8h-.9zM557.4 166.5h.9v1.8h-.9zM573.4 166.5h.9v1.8h-.9zM580.4 166.5h.9v1.8h-.9zM581.4 166.5h.9v1.8h-.9zM640.4 166.5h.9v1.8h-.9zM647.4 166.5h.9v1.8h-.9zM560.4 167.5h.9v1.8h-.9zM563.4 167.5h.9v1.8h-.9zM573.4 167.5h.9v1.8h-.9zM582.4 167.5h.9v1.8h-.9zM606.4 167.5h.9v1.8h-.9zM610.4 167.5h.9v1.8h-.9zM612.4 167.5h.9v1.8h-.9zM613.4 167.5h.9v1.8h-.9zM624.4 167.5h.9v1.8h-.9zM562.4 168.5h.9v1.8h-.9zM571.4 168.5h.9v1.8h-.9zM582.4 168.5h.9v1.8h-.9zM632.4 168.5h.9v1.8h-.9zM552.4 169.5h.9v1.8h-.9zM553.4 169.5h.9v1.8h-.9zM577.4 169.5h.9v1.8h-.9zM582.4 169.5h.9v1.8h-.9zM591.4 169.5h.9v1.8h-.9zM632.4 169.5h.9v1.8h-.9zM640.4 169.5h.9v1.8h-.9zM647.4 169.5h.9v1.8h-.9zM560.4 170.5h.9v1.8h-.9zM571.4 170.5h.9v1.8h-.9zM575.4 170.5h.9v1.8h-.9zM576.4 170.5h.9v1.8h-.9zM577.4 170.5h.9v1.8h-.9zM584.4 170.5h.9v1.8h-.9zM589.4 170.5h.9v1.8h-.9zM591.4 170.5h.9v1.8h-.9zM599.4 170.5h.9v1.8h-.9zM606.4 170.5h.9v1.8h-.9zM612.4 170.5h.9v1.8h-.9zM626.4 170.5h.9v1.8h-.9zM632.4 170.5h.9v1.8h-.9zM645.4 170.5h.9v1.8h-.9zM566.4 171.5h.9v1.8h-.9zM587.4 171.5h.9v1.8h-.9zM602.4 171.5h.9v1.8h-.9zM605.4 171.5h.9v1.8h-.9zM615.4 171.5h.9v1.8h-.9zM644.4 171.5h.9v1.8h-.9zM645.4 171.5h.9v1.8h-.9zM561.4 172.5h.9v1.8h-.9zM570.4 172.5h.9v1.8h-.9zM582.4 172.5h.9v1.8h-.9zM595.4 172.5h.9v1.8h-.9zM603.4 172.5h.9v1.8h-.9zM620.4 172.5h.9v1.8h-.9zM646.4 172.5h.9v1.8h-.9zM551.4 173.5h.9v1.8h-.9zM553.4 173.5h.9v1.8h-.9zM558.4 173.5h.9v1.8h-.9zM560.4 173.5h.9v1.8h-.9zM613.4 173.5h.9v1.8h-.9zM556.4 174.5h.9v1.8h-.9zM569.4 174.5h.9v1.8h-.9zM577.4 174.5h.9v1.8h-.9zM581.4 174.5h.9v1.8h-.9zM592.4 174.5h.9v1.8h-.9zM593.4 174.5h.9v1.8h-.9zM622.4 174.5h.9v1.8h-.9zM640.4 174.5h.9v1.8h-.9zM642.4 174.5h.9v1.8h-.9zM646.4 174.5h.9v1.8h-.9zM551.4 175.5h.9v1.8h-.9zM558.4 175.5h.9v1.8h-.9zM564.4 175.5h.9v1.8h-.9zM565.4 175.5h.9v1.8h-.9zM570.4 175.5h.9v1.8h-.9zM576.4 175.5h.9v1.8h-.9zM590.4 175.5h.9v1.8h-.9zM592.4 175.5h.9v1.8h-.9zM595.4 175.5h.9v1.8h-.9zM607.4 175.5h.9v1.8h-.9zM639.4 175.5h.9v1.8h-.9zM561.4 176.5h.9v1.8h-.9zM573.4 176.5h.9v1.8h-.9zM576.4 176.5h.9v1.8h-.9zM583.4 176.5h.9v1.8h-.9zM590.4 176.5h.9v1.8h-.9zM592.4 176.5h.9v1.8h-.9zM595.4 176.5h.9v1.8h-.9zM608.4 176.5h.9v1.8h-.9zM615.4 176.5h.9v1.8h-.9zM623.4 176.5h.9v1.8h-.9zM624.4 176.5h.9v1.8h-.9zM627.4 176.5h.9v1.8h-.9zM647.4 176.5h.9v1.8h-.9zM551.4 177.5h.9v1.8h-.9zM561.4 177.5h.9v1.8h-.9zM582.4 177.5h.9v1.8h-.9zM589.4 177.5h.9v1.8h-.9zM615.4 177.5h.9v1.8h-.9zM622.4 177.5h.9v1.8h-.9zM639.4 177.5h.9v1.8h-.9zM552.4 178.5h.9v1.8h-.9zM556.4 178.5h.9v1.8h-.9zM559.4 178.5h.9v1.8h-.9zM568.4 178.5h.9v1.8h-.9zM625.4 178.5h.9v1.8h-.9zM630.4 178.5h.9v1.8h-.9zM555.4 179.5h.9v1.8h-.9zM567.4 179.5h.9v1.8h-.9zM568.4 179.5h.9v1.8h-.9zM574.4 179.5h.9v1.8h-.9zM579.4 179.5h.9v1.8h-.9zM619.4 179.5h.9v1.8h-.9zM623.4 179.5h.9v1.8h-.9zM635.4 179.5h.9v1.8h-.9zM556.4 180.5h.9v1.8h-.9zM570.4 180.5h.9v1.8h-.9zM576.4 180.5h.9v1.8h-.9zM606.4 180.5h.9v1.8h-.9zM552.4 181.5h.9v1.8h-.9zM576.4 181.5h.9v1.8h-.9zM577.4 181.5h.9v1.8h-.9zM583.4 181.5h.9v1.8h-.9zM584.4 181.5h.9v1.8h-.9zM601.4 181.5h.9v1.8h-.9zM606.4 181.5h.9v1.8h-.9zM608.4 181.5h.9v1.8h-.9zM609.4 181.5h.9v1.8h-.9zM616.4 181.5h.9v1.8h-.9zM624.4 181.5h.9v1.8h-.9zM640.4 181.5h.9v1.8h-.9zM647.4 181.5h.9v1.8h-.9zM557.4 182.5h.9v1.8h-.9zM561.4 182.5h.9v1.8h-.9zM574.4 182.5h.9v1.8h-.9zM599.4 182.5h.9v1.8h-.9zM610.4 182.5h.9v1.8h-.9zM614.4 182.5h.9v1.8h-.9zM623.4 182.5h.9v1.8h-.9zM628.4 182.5h.9v1.8h-.9zM633.4 182.5h.9v1.8h-.9zM636.4 182.5h.9v1.8h-.9zM640.4 182.5h.9v1.8h-.9zM570.4 183.5h.9v1.8h-.9zM582.4 183.5h.9v1.8h-.9zM595.4 183.5h.9v1.8h-.9zM601.4 183.5h.9v1.8h-.9zM602.4 183.5h.9v1.8h-.9zM620.4 183.5h.9v1.8h-.9zM638.4 183.5h.9v1.8h-.9zM551.4 184.5h.9v1.8h-.9zM555.4 184.5h.9v1.8h-.9zM582.4 184.5h.9v1.8h-.9zM589.4 184.5h.9v1.8h-.9zM592.4 184.5h.9v1.8h-.9zM599.4 184.5h.9v1.8h-.9zM600.4 184.5h.9v1.8h-.9zM605.4 184.5h.9v1.8h-.9zM608.4 184.5h.9v1.8h-.9zM610.4 184.5h.9v1.8h-.9zM613.4 184.5h.9v1.8h-.9zM634.4 184.5h.9v1.8h-.9zM638.4 184.5h.9v1.8h-.9zM639.4 184.5h.9v1.8h-.9zM643.4 184.5h.9v1.8h-.9zM581.4 185.5h.9v1.8h-.9zM599.4 185.5h.9v1.8h-.9zM605.4 185.5h.9v1.8h-.9zM632.4 185.5h.9v1.8h-.9zM634.4 185.5h.9v1.8h-.9zM551.4 186.5h.9v1.8h-.9zM566.4 186.5h.9v1.8h-.9zM571.4 186.5h.9v1.8h-.9zM573.4 186.5h.9v1.8h-.9zM605.4 186.5h.9v1.8h-.9zM614.4 186.5h.9v1.8h-.9zM639.4 186.5h.9v1.8h-.9zM573.4 187.5h.9v1.8h-.9zM576.4 187.5h.9v1.8h-.9zM581.4 187.5h.9v1.8h-.9zM592.4 187.5h.9v1.8h-.9zM612.4 187.5h.9v1.8h-.9zM638.4 187.5h.9v1.8h-.9zM647.4 187.5h.9v1.8h-.9zM551.4 188.5h.9v1.8h-.9zM573.4 188.5h.9v1.8h-.9zM584.4 188.5h.9v1.8h-.9zM604.4 188.5h.9v1.8h-.9zM612.4 188.5h.9v1.8h-.9zM637.4 188.5h.9v1.8h-.9zM565.4 189.5h.9v1.8h-.9zM580.4 189.5h.9v1.8h-.9zM584.4 189.5h.9v1.8h-.9zM590.4 189.5h.9v1.8h-.9zM595.4 189.5h.9v1.8h-.9zM603.4 189.5h.9v1.8h-.9zM611.4 189.5h.9v1.8h-.9zM612.4 189.5h.9v1.8h-.9zM622.4 189.5h.9v1.8h-.9zM635.4 189.5h.9v1.8h-.9zM642.4 189.5h.9v1.8h-.9zM643.4 189.5h.9v1.8h-.9zM576.4 190.5h.9v1.8h-.9zM581.4 190.5h.9v1.8h-.9zM602.4 190.5h.9v1.8h-.9zM618.4 190.5h.9v1.8h-.9zM628.4 190.5h.9v1.8h-.9zM638.4 190.5h.9v1.8h-.9zM562.4 191.5h.9v1.8h-.9zM569.4 191.5h.9v1.8h-.9zM574.4 191.5h.9v1.8h-.9zM592.4 191.5h.9v1.8h-.9zM621.4 191.5h.9v1.8h-.9zM631.4 191.5h.9v1.8h-.9zM636.4 191.5h.9v1.8h-.9zM593.4 192.5h.9v1.8h-.9zM614.4 192.5h.9v1.8h-.9zM637.4 192.5h.9v1.8h-.9zM638.4 192.5h.9v1.8h-.9zM644.4 192.5h.9v1.8h-.9zM557.4 193.5h.9v1.8h-.9zM573.4 193.5h.9v1.8h-.9zM578.4 193.5h.9v1.8h-.9zM590.4 193.5h.9v1.8h-.9zM602.4 193.5h.9v1.8h-.9zM637.4 193.5h.9v1.8h-.9zM642.4 193.5h.9v1.8h-.9zM563.4 194.5h.9v1.8h-.9zM596.4 194.5h.9v1.8h-.9zM604.4 194.5h.9v1.8h-.9zM616.4 194.5h.9v1.8h-.9zM621.4 194.5h.9v1.8h-.9zM636.4 194.5h.9v1.8h-.9zM637.4 194.5h.9v1.8h-.9zM645.4 194.5h.9v1.8h-.9zM551.4 195.5h.9v1.8h-.9zM560.4 195.5h.9v1.8h-.9zM563.4 195.5h.9v1.8h-.9zM573.4 195.5h.9v1.8h-.9zM584.4 195.5h.9v1.8h-.9zM588.4 195.5h.9v1.8h-.9zM589.4 195.5h.9v1.8h-.9zM590.4 195.5h.9v1.8h-.9zM602.4 195.5h.9v1.8h-.9zM620.4 195.5h.9v1.8h-.9zM557.4 196.5h.9v1.8h-.9zM559.4 196.5h.9v1.8h-.9zM564.4 196.5h.9v1.8h-.9zM567.4 196.5h.9v1.8h-.9zM574.4 196.5h.9v1.8h-.9zM581.4 196.5h.9v1.8h-.9zM591.4 196.5h.9v1.8h-.9zM605.4 196.5h.9v1.8h-.9zM612.4 196.5h.9v1.8h-.9zM624.4 196.5h.9v1.8h-.9zM553.4 197.5h.9v1.8h-.9zM560.4 197.5h.9v1.8h-.9zM587.4 197.5h.9v1.8h-.9zM611.4 197.5h.9v1.8h-.9zM612.4 197.5h.9v1.8h-.9zM613.4 197.5h.9v1.8h-.9zM621.4 197.5h.9v1.8h-.9zM551.4 198.5h.9v1.8h-.9zM560.4 198.5h.9v1.8h-.9zM562.4 198.5h.9v1.8h-.9zM566.4 198.5h.9v1.8h-.9zM599.4 198.5h.9v1.8h-.9zM628.4 198.5h.9v1.8h-.9zM588.4 199.5h.9v1.8h-.9zM627.4 199.5h.9v1.8h-.9zM584.4 200.5h.9v1.8h-.9zM610.4 200.5h.9v1.8h-.9zM616.4 200.5h.9v1.8h-.9zM633.4 200.5h.9v1.8h-.9zM615.4 202.5h.9v1.8h-.9zM633.4 202.5h.9v1.8h-.9zM600.4 203.5h.9v1.8h-.9zM608.4 203.5h.9v1.8h-.9zM613.4 203.5h.9v1.8h-.9zM616.4 203.5h.9v1.8h-.9zM640.4 203.5h.9v1.8h-.9zM643.4 203.5h.9v1.8h-.9zM551.4 204.5h.9v1.8h-.9zM552.4 204.5h.9v1.8h-.9zM644.4 204.5h.9v1.8h-.9zM567.4 205.5h.9v1.8h-.9zM572.4 205.5h.9v1.8h-.9zM582.4 205.5h.9v1.8h-.9zM590.4 205.5h.9v1.8h-.9zM639.4 206.5h.9v1.8h-.9zM608.4 207.5h.9v1.8h-.9zM639.4 207.5h.9v1.8h-.9zM554.4 208.5h.9v1.8h-.9zM560.4 208.5h.9v1.8h-.9zM574.4 208.5h.9v1.8h-.9zM585.4 209.5h.9v1.8h-.9zM594.4 209.5h.9v1.8h-.9zM569.4 210.5h.9v1.8h-.9zM578.4 210.5h.9v1.8h-.9zM601.4 210.5h.9v1.8h-.9zM608.4 210.5h.9v1.8h-.9zM630.4 210.5h.9v1.8h-.9zM554.4 211.5h.9v1.8h-.9zM640.4 211.5h.9v1.8h-.9zM576.4 212.5h.9v1.8h-.9zM602.4 212.5h.9v1.8h-.9zM605.4 212.5h.9v1.8h-.9zM606.4 212.5h.9v1.8h-.9zM646.4 212.5h.9v1.8h-.9zM647.4 212.5h.9v1.8h-.9zM551.4 213.5h.9v1.8h-.9zM620.4 213.5h.9v1.8h-.9zM565.4 214.5h.9v1.8h-.9zM572.4 214.5h.9v1.8h-.9zM623.4 214.5h.9v1.8h-.9zM570.4 215.5h.9v1.8h-.9zM565.4 216.5h.9v1.8h-.9zM574.4 216.5h.9v1.8h-.9zM581.4 216.5h.9v1.8h-.9zM616.4 216.5h.9v1.8h-.9zM622.4 216.5h.9v1.8h-.9zM624.4 216.5h.9v1.8h-.9z"/>
<path fill="#eea4a4" d="M552.4 127.5h.9v1.8h-.9zM553.4 127.5h.9v1.8h-.9zM567.4 127.5h.9v1.8h-.9zM578.4 127.5h.9v1.8h-.9zM582.4 127.5h.9v1.8h-.9zM593.4 127.5h.9v1.8h-.9zM602.4 127.5h.9v1.8h-.9zM613.4 127.5h.9v1.8h-.9zM616.4 127.5h.9v1.8h-.9zM619.4 127.5h.9v1.8h-.9zM620.4 127.5h.9v1.8h-.9zM621.4 127.5h.9v1.8h-.9zM629.4 127.5h.9v1.8h-.9zM638.4 127.5h.9v1.8h-.9zM639.4 127.5h.9v1.8h-.9zM642.4 127.5h.9v1.8h-.9zM646.4 127.5h.9v1.8h-.9zM553.4 128.5h.9v1.8h-.9zM555.4 128.5h.9v1.8h-.9zM574.4 128.5h.9v1.8h-.9zM579.4 128.5h.9v1.8h-.9zM580.4 128.5h.9v1.8h-.9zM581.4 128.5h.9v1.8h-.9zM587.4 128.5h.9v1.8h-.9zM591.4 128.5h.9v1.8h-.9zM592.4 128.5h.9v1.8h-.9zM594.4 128.5h.9v1.8h-.9zM602.4 128.5h.9v1.8h-.9zM604.4 128.5h.9v1.8h-.9zM607.4 128.5h.9v1.8h-.9zM616.4 128.5h.9v1.8h-.9zM621.4 128.5h.9v1.8h-.9zM552.4 129.5h.9v1.8h-.9zM555.4 129.5h.9v1.8h-.9zM560.4 129.5h.9v1.8h-.9zM574.4 129.5h.9v1.8h-.9zM582.4 129.5h.9v1.8h-.9zM585.4 129.5h.9v1.8h-.9zM624.4 129.5h.9v1.8h-.9zM636.4 129.5h.9v1.8h-.9zM639.4 129.5h.9v1.8h-.9zM641.4 129.5h.9v1.8h-.9zM575.4 130.5h.9v1.8h-.9zM577.4 130.5h.9v1.8h-.9zM578.4 130.5h.9v1.8h-.9zM591.4 130.5h.9v1.8h-.9zM592.4 130.5h.9v1.8h-.9zM613.4 130.5h.9v1.8h-.9zM630.4 130.5h.9v1.8h-.9zM637.4 130.5h.9v1.8h-.9zM640.4 130.5h.9v1.8h-.9zM645.4 130.5h.9v1.8h-.9zM553.4 131.5h.9v1.8h-.9zM554.4 131.5h.9v1.8h-.9zM560.4 131.5h.9v1.8h-.9zM594.4 131.5h.9v1.8h-.9zM606.4 131.5h.9v1.8h-.9zM614.4 131.5h.9v1.8h-.9zM622.4 131.5h.9v1.8h-.9zM551.4 132.5h.9v1.8h-.9zM558.4 132.5h.9v1.8h-.9zM565.4 132.5h.9v1.8h-.9zM576.4 132.5h.9v1.8h-.9zM591.4 132.5h.9v1.8h-.9zM598.4 132.5h.9v1.8h-.9zM606.4 132.5h.9v1.8h-.9zM615.4 132.5h.9v1.8h-.9zM634.4 132.5h.9v1.8h-.9zM643.4 132.5h.9v1.8h-.9zM645.4 132.5h.9v1.8h-.9zM551.4 133.5h.9v1.8h-.9zM555.4 133.5h.9v1.8h-.9zM556.4 133.5h.9v1.8h-.9zM560.4 133.5h.9v1.8h-.9zM564.4 133.5h.9v1.8h-.9zM568.4 133.5h.9v1.8h-.9zM576.4 133.5h.9v1.8h-.9zM583.4 133.5h.9v1.8h-.9zM585.4 133.5h.9v1.8h-.9zM589.4 133.5h.9v1.8h-.9zM591.4 133.5h.9v1.8h-.9zM599.4 133.5h.9v1.8h-.9zM605.4 133.5h.9v1.8h-.9zM607.4 133.5h.9v1.8h-.9zM611.4 133.5h.9v1.8h-.9zM612.4 133.5h.9v1.8h-.9zM632.4 133.5h.9v1.8h-.9zM552.4 134.5h.9v1.8h-.9zM558.4 134.5h.9v1.8h-.9zM559.4 134.5h.9v1.8h-.9zM576.4 134.5h.9v1.8h-.9zM579.4 134.5h.9v1.8h-.9zM601.4 134.5h.9v1.8h-.9zM618.4 134.5h.9v1.8h-.9zM637.4 134.5h.9v1.8h-.9zM640.4 134.5h.9v1.8h-.9zM551.4 135.5h.9v1.8h-.9zM574.4 135.5h.9v1.8h-.9zM577.4 135.5h.9v1.8h-.9zM582.4 135.5h.9v1.8h-.9zM591.4 135.5h.9v1.8h-.9zM603.4 135.5h.9v1.8h-.9zM623.4 135.5h.9v1.8h-.9zM628.4 135.5h.9v1.8h-.9zM632.4 135.5h.9v1.8h-.9zM637.4 135.5h.9v1.8h-.9zM578.4 136.5h.9v1.8h-.9zM618.4 136.5h.9v1.8h-.9zM644.4 136.5h.9v1.8h-.9zM645.4 136.5h.9v1.8h-.9zM560.4 137.5h.9v1.8h-.9zM562.4 137.5h.9v1.8h-.9zM584.4 137.5h.9v1.8h-.9zM614.4 137.5h.9v1.8h-.9zM641.4 137.5h.9v1.8h-.9zM560.4 138.5h.9v1.8h-.9zM565.4 138.5h.9v1.8h-.9zM574.4 138.5h.9v1.8h-.9zM587.4 138.5h.9v1.8h-.9zM616.4 138.5h.9v1.8h-.9zM638.4 138.5h.9v1.8h-.9zM553.4 139.5h.9v1.8h-.9zM556.4 139.5h.9v1.8h-.9zM557.4 139.5h.9v1.8h-.9zM560.4 139.5h.9v1.8h-.9zM561.4 139.5h.9v1.8h-.9zM562.4 139.5h.9v1.8h-.9zM565.4 139.5h.9v1.8h-.9zM570.4 139.5h.9v1.8h-.9zM571.4 139.5h.9v1.8h-.9zM574.4 139.5h.9v1.8h-.9zM576.4 139.5h.9v1.8h-.9zM588.4 139.5h.9v1.8h-.9zM589.4 139.5h.9v1.8h-.9zM592.4 139.5h.9v1.8h-.9zM605.4 139.5h.9v1.8h-.9zM617.4 139.5h.9v1.8h-.9zM624.4 139.5h.9v1.8h-.9zM633.4 139.5h.9v1.8h-.9zM641.4 139.5h.9v1.8h-.9zM644.4 139.5h.9v1.8h-.9zM551.4 140.5h.9v1.8h-.9zM552.4 140.5h.9v1.8h-.9zM554.4 140.5h.9v1.8h-.9zM556.4 140.5h.9v1.8h-.9zM558.4 140.5h.9v1.8h-.9zM559.4 140.5h.9v1.8h-.9zM560.4 140.5h.9v1.8h-.9zM561.4 140.5h.9v1.8h-.9zM565.4 140.5h.9v1.8h-.9zM572.4 140.5h.9v1.8h-.9zM577.4 140.5h.9v1.8h-.9zM582.4 140.5h.9v1.8h-.9zM590.4 140.5h.9v1.8h-.9zM592.4 140.5h.9v1.8h-.9zM596.4 140.5h.9v1.8h-.9zM598.4 140.5h.9v1.8h-.9zM599.4 140.5h.9v1.8h-.9zM602.4 140.5h.9v1.8h-.9zM605.4 140.5h.9v1.8h-.9zM606.4 140.5h.9v1.8h-.9zM617.4 140.5h.9v1.8h-.9zM626.4 140.5h.9v1.8h-.9zM646.4 140.5h.9v1.8h-.9zM551.4 141.5h.9v1.8h-.9zM558.4 141.5h.9v1.8h-.9zM566.4 141.5h.9v1.8h-.9zM577.4 141.5h.9v1.8h-.9zM581.4 141.5h.9v1.8h-.9zM582.4 141.5h.9v1.8h-.9zM584.4 141.5h.9v1.8h-.9zM591.4 141.5h.9v1.8h-.9zM599.4 141.5h.9v1.8h-.9zM602.4 141.5h.9v1.8h-.9zM605.4 141.5h.9v1.8h-.9zM606.4 141.5h.9v1.8h-.9zM607.4 141.5h.9v1.8h-.9zM608.4 141.5h.9v1.8h-.9zM612.4 141.5h.9v1.8h-.9zM624.4 141.5h.9v1.8h-.9zM629.4 141.5h.9v1.8h-.9zM632.4 141.5h.9v1.8h-.9zM633.4 141.5h.9v1.8h-.9zM636.4 141.5h.9v1.8h-.9zM646.4 141.5h.9v1.8h-.9zM581.4 142.5h.9v1.8h-.9zM634.4 143.5h.9v1.8h-.9zM577.4 144.5h.9v1.8h-.9zM606.4 144.5h.9v1.8h-.9zM610.4 144.5h.9v1.8h-.9zM632.4 144.5h.9v1.8h-.9zM636.4 144.5h.9v1.8h-.9zM592.4 145.5h.9v1.8h-.9zM626.4 145.5h.9v1.8h-.9zM633.4 145.5h.9v1.8h-.9zM552.4 146.5h.9v1.8h-.9zM569.4 146.5h.9v1.8h-.9zM574.4 146.5h.9v1.8h-.9zM589.4 146.5h.9v1.8h-.9zM573.4 147.5h.9v1.8h-.9zM585.4 147.5h.9v1.8h-.9zM586.4 147.5h.9v1.8h-.9zM602.4 147.5h.9v1.8h-.9zM609.4 147.5h.9v1.8h-.9zM554.4 148.5h.9v1.8h-.9zM590.4 148.5h.9v1.8h-.9zM628.4 148.5h.9v1.8h-.9zM647.4 148.5h.9v1.8h-.9zM594.4 149.5h.9v1.8h-.9zM595.4 149.5h.9v1.8h-.9zM610.4 149.5h.9v1.8h-.9zM624.4 149.5h.9v1.8h-.9zM627.4 149.5h.9v1.8h-.9zM631.4 149.5h.9v1.8h-.9zM638.4 149.5h.9v1.8h-.9zM567.4 150.5h.9v1.8h-.9zM598.4 150.5h.9v1.8h-.9zM627.4 150.5h.9v1.8h-.9zM620.4 154.5h.9v1.8h-.9zM572.4 155.5h.9v1.8h-.9zM614.4 155.5h.9v1.8h-.9zM577.4 156.5h.9v1.8h-.9zM580.4 156.5h.9v1.8h-.9zM605.4 156.5h.9v1.8h-.9zM647.4 157.5h.9v1.8h-.9zM559.4 160.5h.9v1.8h-.9zM574.4 160.5h.9v1.8h-.9zM566.4 162.5h.9v1.8h-.9zM572.4 162.5h.9v1.8h-.9zM588.4 162.5h.9v1.8h-.9zM590.4 162.5h.9v1.8h-.9zM611.4 162.5h.9v1.8h-.9zM616.4 162.5h.9v1.8h-.9zM622.4 162.5h.9v1.8h-.9zM624.4 162.5h.9v1.8h-.9zM633.4 162.5h.9v1.8h-.9zM634.4 162.5h.9v1.8h-.9zM635.4 162.5h.9v1.8h-.9zM643.4 162.5h.9v1.8h-.9zM551.4 163.5h.9v1.8h-.9zM552.4 163.5h.9v1.8h-.9zM570.4 163.5h.9v1.8h-.9zM577.4 163.5h.9v1.8h-.9zM592.4 163.5h.9v1.8h-.9zM601.4 163.5h.9v1.8h-.9zM618.4 163.5h.9v1.8h-.9zM628.4 163.5h.9v1.8h-.9zM638.4 163.5h.9v1.8h-.9zM643.4 163.5h.9v1.8h-.9zM559.4 164.5h.9v1.8h-.9zM575.4 164.5h.9v1.8h-.9zM578.4 164.5h.9v1.8h-.9zM612.4 164.5h.9v1.8h-.9zM624.4 164.5h.9v1.8h-.9zM632.4 164.5h.9v1.8h-.9zM637.4 164.5h.9v1.8h-.9zM646.4 164.5h.9v1.8h-.9zM562.4 165.5h.9v1.8h-.9zM585.4 165.5h.9v1.8h-.9zM599.4 165.5h.9v1.8h-.9zM601.4 165.5h.9v1.8h-.9zM604.4 165.5h.9v1.8h-.9zM609.4 165.5h.9v1.8h-.9zM622.4 165.5h.9v1.8h-.9zM623.4 165.5h.9v1.8h-.9zM627.4 165.5h.9v1.8h-.9zM643.4 165.5h.9v1.8h-.9zM644.4 165.5h.9v1.8h-.9zM565.4 166.5h.9v1.8h-.9zM603.4 166.5h.9v1.8h-.9zM606.4 166.5h.9v1.8h-.9zM635.4 166.5h.9v1.8h-.9zM581.4 167.5h.9v1.8h-.9zM609.4 167.5h.9v1.8h-.9zM618.4 167.5h.9v1.8h-.9zM621.4 167.5h.9v1.8h-.9zM638.4 167.5h.9v1.8h-.9zM564.4 168.5h.9v1.8h-.9zM574.4 168.5h.9v1.8h-.9zM579.4 168.5h.9v1.8h-.9zM583.4 168.5h.9v1.8h-.9zM590.4 168.5h.9v1.8h-.9zM606.4 168.5h.9v1.8h-.9zM608.4 168.5h.9v1.8h-.9zM643.4 168.5h.9v1.8h-.9zM646.4 168.5h.9v1.8h-.9zM647.4 168.5h.9v1.8h-.9zM562.4 169.5h.9v1.8h-.9zM563.4 169.5h.9v1.8h-.9zM564.4 169.5h.9v1.8h-.9zM573.4 169.5h.9v1.8h-.9zM594.4 169.5h.9v1.8h-.9zM604.4 169.5h.9v1.8h-.9zM635.4 169.5h.9v1.8h-.9zM644.4 169.5h.9v1.8h-.9zM553.4 170.5h.9v1.8h-.9zM556.4 170.5h.9v1.8h-.9zM585.4 170.5h.9v1.8h-.9zM590.4 170.5h.9v1.8h-.9zM618.4 170.5h.9v1.8h-.9zM620.4 170.5h.9v1.8h-.9zM640.4 170.5h.9v1.8h-.9zM564.4 171.5h.9v1.8h-.9zM568.4 171.5h.9v1.8h-.9zM585.4 171.5h.9v1.8h-.9zM598.4 171.5h.9v1.8h-.9zM613.4 171.5h.9v1.8h-.9zM623.4 171.5h.9v1.8h-.9zM624.4 171.5h.9v1.8h-.9zM628.4 171.5h.9v1.8h-.9zM642.4 171.5h.9v1.8h-.9zM575.4 172.5h.9v1.8h-.9zM577.4 172.5h.9v1.8h-.9zM579.4 172.5h.9v1.8h-.9zM596.4 172.5h.9v1.8h-.9zM600.4 172.5h.9v1.8h-.9zM606.4 172.5h.9v1.8h-.9zM635.4 172.5h.9v1.8h-.9zM637.4 172.5h.9v1.8h-.9zM641.4 172.5h.9v1.8h-.9zM643.4 172.5h.9v1.8h-.9zM645.4 172.5h.9v1.8h-.9zM561.4 173.5h.9v1.8h-.9zM565.4 173.5h.9v1.8h-.9zM579.4 173.5h.9v1.8h-.9zM592.4 173.5h.9v1.8h-.9zM602.4 173.5h.9v1.8h-.9zM604.4 174.5h.9v1.8h-.9zM625.4 174.5h.9v1.8h-.9zM630.4 174.5h.9v1.8h-.9zM638.4 174.5h.9v1.8h-.9zM553.4 175.5h.9v1.8h-.9zM557.4 175.5h.9v1.8h-.9zM560.4 175.5h.9v1.8h-.9zM569.4 175.5h.9v1.8h-.9zM577.4 175.5h.9v1.8h-.9zM582.4 175.5h.9v1.8h-.9zM594.4 175.5h.9v1.8h-.9zM601.4 175.5h.9v1.8h-.9zM602.4 175.5h.9v1.8h-.9zM608.4 175.5h.9v1.8h-.9zM613.4 175.5h.9v1.8h-.9zM620.4 175.5h.9v1.8h-.9zM626.4 175.5h.9v1.8h-.9zM647.4 175.5h.9v1.8h-.9zM591.4 176.5h.9v1.8h-.9zM596.4 176.5h.9v1.8h-.9zM571.4 177.5h.9v1.8h-.9zM590.4 177.5h.9v1.8h-.9zM596.4 177.5h.9v1.8h-.9zM606.4 177.5h.9v1.8h-.9zM614.4 177.5h.9v1.8h-.9zM635.4 177.5h.9v1.8h-.9zM647.4 177.5h.9v1.8h-.9zM561.4 178.5h.9v1.8h-.9zM565.4 178.5h.9v1.8h-.9zM580.4 178.5h.9v1.8h-.9zM606.4 178.5h.9v1.8h-.9zM632.4 178.5h.9v1.8h-.9zM643.4 178.5h.9v1.8h-.9zM645.4 178.5h.9v1.8h-.9zM551.4 179.5h.9v1.8h-.9zM553.4 179.5h.9v1.8h-.9zM556.4 179.5h.9v1.8h-.9zM587.4 179.5h.9v1.8h-.9zM599.4 179.5h.9v1.8h-.9zM630.4 179.5h.9v1.8h-.9zM560.4 180.5h.9v1.8h-.9zM567.4 180.5h.9v1.8h-.9zM571.4 180.5h.9v1.8h-.9zM573.4 180.5h.9v1.8h-.9zM592.4 180.5h.9v1.8h-.9zM594.4 180.5h.9v1.8h-.9zM602.4 180.5h.9v1.8h-.9zM616.4 180.5h.9v1.8h-.9zM623.4 180.5h.9v1.8h-.9zM628.4 180.5h.9v1.8h-.9zM638.4 180.5h.9v1.8h-.9zM559.4 181.5h.9v1.8h-.9zM562.4 181.5h.9v1.8h-.9zM565.4 181.5h.9v1.8h-.9zM590.4 181.5h.9v1.8h-.9zM611.4 181.5h.9v1.8h-.9zM622.4 181.5h.9v1.8h-.9zM560.4 182.5h.9v1.8h-.9zM562.4 182.5h.9v1.8h-.9zM576.4 182.5h.9v1.8h-.9zM620.4 182.5h.9v1.8h-.9zM641.4 182.5h.9v1.8h-.9zM643.4 182.5h.9v1.8h-.9zM646.4 182.5h.9v1.8h-.9zM583.4 183.5h.9v1.8h-.9zM599.4 183.5h.9v1.8h-.9zM623.4 183.5h.9v1.8h-.9zM641.4 183.5h.9v1.8h-.9zM645.4 183.5h.9v1.8h-.9zM553.4 184.5h.9v1.8h-.9zM557.4 184.5h.9v1.8h-.9zM562.4 184.5h.9v1.8h-.9zM570.4 184.5h.9v1.8h-.9zM579.4 184.5h.9v1.8h-.9zM583.4 184.5h.9v1.8h-.9zM588.4 184.5h.9v1.8h-.9zM590.4 184.5h.9v1.8h-.9zM596.4 184.5h.9v1.8h-.9zM597.4 184.5h.9v1.8h-.9zM619.4 184.5h.9v1.8h-.9zM631.4 184.5h.9v1.8h-.9zM551.4 185.5h.9v1.8h-.9zM578.4 185.5h.9v1.8h-.9zM586.4 185.5h.9v1.8h-.9zM620.4 185.5h.9v1.8h-.9zM627.4 185.5h.9v1.8h-.9zM630.4 185.5h.9v1.8h-.9zM560.4 186.5h.9v1.8h-.9zM582.4 186.5h.9v1.8h-.9zM632.4 186.5h.9v1.8h-.9zM634.4 186.5h.9v1.8h-.9zM564.4 187.5h.9v1.8h-.9zM582.4 187.5h.9v1.8h-.9zM605.4 187.5h.9v1.8h-.9zM565.4 188.5h.9v1.8h-.9zM586.4 188.5h.9v1.8h-.9zM553.4 189.5h.9v1.8h-.9zM572.4 189.5h.9v1.8h-.9zM586.4 189.5h.9v1.8h-.9zM624.4 189.5h.9v1.8h-.9zM631.4 189.5h.9v1.8h-.9zM574.4 190.5h.9v1.8h-.9zM578.4 190.5h.9v1.8h-.9zM594.4 190.5h.9v1.8h-.9zM612.4 190.5h.9v1.8h-.9zM631.4 190.5h.9v1.8h-.9zM572.4 191.5h.9v1.8h-.9zM601.4 191.5h.9v1.8h-.9zM607.4 191.5h.9v1.8h-.9zM626.4 191.5h.9v1.8h-.9zM640.4 191.5h.9v1.8h-.9zM601.4 192.5h.9v1.8h-.9zM609.4 192.5h.9v1.8h-.9zM555.4 193.5h.9v1.8h-.9zM619.4 193.5h.9v1.8h-.9zM573.4 194.5h.9v1.8h-.9zM638.4 196.5h.9v1.8h-.9zM567.4 197.5h.9v1.8h-.9zM590.4 197.5h.9v1.8h-.9zM609.4 197.5h.9v1.8h-.9zM638.4 197.5h.9v1.8h-.9zM607.4 198.5h.9v1.8h-.9zM614.4 198.5h.9v1.8h-.9zM632.4 198.5h.9v1.8h-.9zM634.4 202.5h.9v1.8h-.9zM581.4 203.5h.9v1.8h-.9zM633.4 204.5h.9v1.8h-.9zM556.4 206.5h.9v1.8h-.9zM592.4 206.5h.9v1.8h-.9zM568.4 207.5h.9v1.8h-.9zM599.4 208.5h.9v1.8h-.9zM603.4 208.5h.9v1.8h-.9zM590.4 209.5h.9v1.8h-.9zM586.4 211.5h.9v1.8h-.9zM557.4 213.5h.9v1.8h-.9zM597.4 213.5h.9v1.8h-.9zM600.4 213.5h.9v1.8h-.9zM576.4 215.5h.9v1.8h-.9zM585.4 215.5h.9v1.8h-.9zM590.4 216.5h.9v1.8h-.9z"/>
<path fill="#e48686" d="M579.4 127.5h.9v1.8h-.9zM588.4 128.5h.9v1.8h-.9zM606.4 128.5h.9v1.8h-.9zM623.4 128.5h.9v1.8h-.9zM627.4 129.5h.9v1.8h-.9zM560.4 130.5h.9v1.8h-.9zM581.4 130.5h.9v1.8h-.9zM632.4 130.5h.9v1.8h-.9zM601.4 131.5h.9v1.8h-.9zM619.4 131.5h.9v1.8h-.9zM578.4 132.5h.9v1.8h-.9zM590.4 132.5h.9v1.8h-.9zM620.4 132.5h.9v1.8h-.9zM628.4 132.5h.9v1.8h-.9zM601.4 133.5h.9v1.8h-.9zM577.4 134.5h.9v1.8h-.9zM581.4 134.5h.9v1.8h-.9zM594.4 134.5h.9v1.8h-.9zM603.4 134.5h.9v1.8h-.9zM615.4 134.5h.9v1.8h-.9zM621.4 134.5h.9v1.8h-.9zM633.4 134.5h.9v1.8h-.9zM638.4 134.5h.9v1.8h-.9zM552.4 135.5h.9v1.8h-.9zM554.4 135.5h.9v1.8h-.9zM560.4 135.5h.9v1.8h-.9zM575.4 135.5h.9v1.8h-.9zM579.4 135.5h.9v1.8h-.9zM588.4 135.5h.9v1.8h-.9zM590.4 135.5h.9v1.8h-.9zM593.4 135.5h.9v1.8h-.9zM595.4 135.5h.9v1.8h-.9zM600.4 135.5h.9v1.8h-.9zM602.4 135.5h.9v1.8h-.9zM604.4 135.5h.9v1.8h-.9zM608.4 135.5h.9v1.8h-.9zM612.4 135.5h.9v1.8h-.9zM614.4 135.5h.9v1.8h-.9zM615.4 135.5h.9v1.8h-.9zM620.4 135.5h.9v1.8h-.9zM635.4 135.5h.9v1.8h-.9zM638.4 135.5h.9v1.8h-.9zM639.4 135.5h.9v1.8h-.9zM640.4 135.5h.9v1.8h-.9zM642.4 135.5h.9v1.8h-.9zM645.4 135.5h.9v1.8h-.9zM551.4 136.5h.9v1.8h-.9zM555.4 136.5h.9v1.8h-.9zM560.4 136.5h.9v1.8h-.9zM567.4 136.5h.9v1.8h-.9zM570.4 136.5h.9v1.8h-.9zM571.4 136.5h.9v1.8h-.9zM572.4 136.5h.9v1.8h-.9zM590.4 136.5h.9v1.8h-.9zM596.4 136.5h.9v1.8h-.9zM599.4 136.5h.9v1.8h-.9zM603.4 136.5h.9v1.8h-.9zM606.4 136.5h.9v1.8h-.9zM616.4 136.5h.9v1.8h-.9zM622.4 136.5h.9v1.8h-.9zM628.4 136.5h.9v1.8h-.9zM633.4 136.5h.9v1.8h-.9zM635.4 136.5h.9v1.8h-.9zM638.4 136.5h.9v1.8h-.9zM640.4 136.5h.9v1.8h-.9zM571.4 137.5h.9v1.8h-.9zM618.4 137.5h.9v1.8h-.9zM554.4 139.5h.9v1.8h-.9zM558.4 139.5h.9v1.8h-.9zM580.4 139.5h.9v1.8h-.9zM590.4 139.5h.9v1.8h-.9zM602.4 139.5h.9v1.8h-.9zM614.4 139.5h.9v1.8h-.9zM618.4 139.5h.9v1.8h-.9zM622.4 139.5h.9v1.8h-.9zM636.4 139.5h.9v1.8h-.9zM642.4 139.5h.9v1.8h-.9zM562.4 140.5h.9v1.8h-.9zM573.4 140.5h.9v1.8h-.9zM576.4 140.5h.9v1.8h-.9zM581.4 140.5h.9v1.8h-.9zM583.4 140.5h.9v1.8h-.9zM585.4 140.5h.9v1.8h-.9zM589.4 140.5h.9v1.8h-.9zM621.4 140.5h.9v1.8h-.9zM633.4 140.5h.9v1.8h-.9zM638.4 140.5h.9v1.8h-.9zM570.4 141.5h.9v1.8h-.9zM571.4 141.5h.9v1.8h-.9zM573.4 141.5h.9v1.8h-.9zM574.4 141.5h.9v1.8h-.9zM578.4 141.5h.9v1.8h-.9zM590.4 141.5h.9v1.8h-.9zM597.4 141.5h.9v1.8h-.9zM600.4 141.5h.9v1.8h-.9zM601.4 141.5h.9v1.8h-.9zM609.4 141.5h.9v1.8h-.9zM611.4 141.5h.9v1.8h-.9zM635.4 141.5h.9v1.8h-.9zM638.4 141.5h.9v1.8h-.9zM641.4 141.5h.9v1.8h-.9zM552.4 142.5h.9v1.8h-.9zM607.4 144.5h.9v1.8h-.9zM628.4 145.5h.9v1.8h-.9zM638.4 145.5h.9v1.8h-.9zM574.4 147.5h.9v1.8h-.9zM608.4 147.5h.9v1.8h-.9zM635.4 147.5h.9v1.8h-.9zM636.4 147.5h.9v1.8h-.9zM633.4 148.5h.9v1.8h-.9zM629.4 149.5h.9v1.8h-.9zM574.4 161.5h.9v1.8h-.9zM580.4 162.5h.9v1.8h-.9zM608.4 162.5h.9v1.8h-.9zM614.4 162.5h.9v1.8h-.9zM647.4 162.5h.9v1.8h-.9zM606.4 163.5h.9v1.8h-.9zM592.4 164.5h.9v1.8h-.9zM620.4 164.5h.9v1.8h-.9zM608.4 165.5h.9v1.8h-.9zM565.4 167.5h.9v1.8h-.9zM632.4 167.5h.9v1.8h-.9zM636.4 167.5h.9v1.8h-.9zM580.4 168.5h.9v1.8h-.9zM588.4 168.5h.9v1.8h-.9zM554.4 169.5h.9v1.8h-.9zM575.4 169.5h.9v1.8h-.9zM568.4 170.5h.9v1.8h-.9zM582.4 170.5h.9v1.8h-.9zM636.4 170.5h.9v1.8h-.9zM574.4 171.5h.9v1.8h-.9zM630.4 171.5h.9v1.8h-.9zM578.4 172.5h.9v1.8h-.9zM592.4 172.5h.9v1.8h-.9zM597.4 172.5h.9v1.8h-.9zM627.4 172.5h.9v1.8h-.9zM582.4 173.5h.9v1.8h-.9zM605.4 173.5h.9v1.8h-.9zM621.4 173.5h.9v1.8h-.9zM591.4 174.5h.9v1.8h-.9zM621.4 175.5h.9v1.8h-.9zM599.4 176.5h.9v1.8h-.9zM611.4 177.5h.9v1.8h-.9zM625.4 177.5h.9v1.8h-.9zM623.4 178.5h.9v1.8h-.9zM552.4 179.5h.9v1.8h-.9zM602.4 179.5h.9v1.8h-.9zM634.4 179.5h.9v1.8h-.9zM575.4 180.5h.9v1.8h-.9zM578.4 180.5h.9v1.8h-.9zM597.4 181.5h.9v1.8h-.9zM607.4 181.5h.9v1.8h-.9zM626.4 181.5h.9v1.8h-.9zM637.4 181.5h.9v1.8h-.9zM642.4 181.5h.9v1.8h-.9zM590.4 182.5h.9v1.8h-.9zM598.4 183.5h.9v1.8h-.9zM575.4 184.5h.9v1.8h-.9zM622.4 184.5h.9v1.8h-.9zM562.4 186.5h.9v1.8h-.9zM631.4 186.5h.9v1.8h-.9zM589.4 187.5h.9v1.8h-.9zM639.4 188.5h.9v1.8h-.9zM614.4 189.5h.9v1.8h-.9zM573.4 190.5h.9v1.8h-.9zM578.4 191.5h.9v1.8h-.9zM627.4 193.5h.9v1.8h-.9zM638.4 193.5h.9v1.8h-.9zM638.4 195.5h.9v1.8h-.9zM635.4 210.5h.9v1.8h-.9z"/>
<path fill="#cc5c5c" d="M557.4 135.5h.9v1.8h-.9zM559.4 135.5h.9v1.8h-.9zM561.4 135.5h.9v1.8h-.9zM562.4 135.5h.9v1.8h-.9zM565.4 135.5h.9v1.8h-.9zM576.4 135.5h.9v1.8h-.9zM578.4 135.5h.9v1.8h-.9zM580.4 135.5h.9v1.8h-.9zM581.4 135.5h.9v1.8h-.9zM583.4 135.5h.9v1.8h-.9zM589.4 135.5h.9v1.8h-.9zM592.4 135.5h.9v1.8h-.9zM594.4 135.5h.9v1.8h-.9zM596.4 135.5h.9v1.8h-.9zM599.4 135.5h.9v1.8h-.9zM601.4 135.5h.9v1.8h-.9zM605.4 135.5h.9v1.8h-.9zM606.4 135.5h.9v1.8h-.9zM607.4 135.5h.9v1.8h-.9zM609.4 135.5h.9v1.8h-.9zM613.4 135.5h.9v1.8h-.9zM630.4 135.5h.9v1.8h-.9zM636.4 135.5h.9v1.8h-.9zM641.4 135.5h.9v1.8h-.9zM643.4 135.5h.9v1.8h-.9zM644.4 135.5h.9v1.8h-.9zM646.4 135.5h.9v1.8h-.9zM647.4 135.5h.9v1.8h-.9zM553.4 136.5h.9v1.8h-.9zM554.4 136.5h.9v1.8h-.9zM559.4 136.5h.9v1.8h-.9zM564.4 136.5h.9v1.8h-.9zM566.4 136.5h.9v1.8h-.9zM574.4 136.5h.9v1.8h-.9zM576.4 136.5h.9v1.8h-.9zM583.4 136.5h.9v1.8h-.9zM588.4 136.5h.9v1.8h-.9zM589.4 136.5h.9v1.8h-.9zM594.4 136.5h.9v1.8h-.9zM601.4 136.5h.9v1.8h-.9zM605.4 136.5h.9v1.8h-.9zM607.4 136.5h.9v1.8h-.9zM612.4 136.5h.9v1.8h-.9zM614.4 136.5h.9v1.8h-.9zM621.4 136.5h.9v1.8h-.9zM624.4 136.5h.9v1.8h-.9zM626.4 136.5h.9v1.8h-.9zM630.4 136.5h.9v1.8h-.9zM631.4 136.5h.9v1.8h-.9zM634.4 136.5h.9v1.8h-.9zM636.4 136.5h.9v1.8h-.9zM643.4 136.5h.9v1.8h-.9zM647.4 136.5h.9v1.8h-.9zM606.4 139.5h.9v1.8h-.9zM610.4 139.5h.9v1.8h-.9zM586.4 140.5h.9v1.8h-.9zM627.4 140.5h.9v1.8h-.9zM644.4 140.5h.9v1.8h-.9zM598.4 141.5h.9v1.8h-.9zM604.4 141.5h.9v1.8h-.9zM631.4 141.5h.9v1.8h-.9zM637.4 141.5h.9v1.8h-.9zM643.4 141.5h.9v1.8h-.9zM606.4 146.5h.9v1.8h-.9zM553.4 163.5h.9v1.8h-.9zM612.4 171.5h.9v1.8h-.9zM620.4 171.5h.9v1.8h-.9zM632.4 184.5h.9v1.8h-.9zM576.4 189.5h.9v1.8h-.9z"/>
</g>
<rect x="677.9" y="126.8" width="97.4" height="90.7" fill="url(#haze)"/>
<g>
<path fill="#fadcdc" d="M687.6 127.5h.9v1.8h-.9zM690.6 127.5h.9v1.8h-.9zM702.6 127.5h.9v1.8h-.9zM742.6 127.5h.9v1.8h-.9zM744.6 127.5h.9v1.8h-.9zM753.6 127.5h.9v1.8h-.9zM764.6 127.5h.9v1.8h-.9zM696.6 128.5h.9v1.8h-.9zM705.6 128.5h.9v1.8h-.9zM719.6 128.5h.9v1.8h-.9zM730.6 128.5h.9v1.8h-.9zM735.6 128.5h.9v1.8h-.9zM747.6 128.5h.9v1.8h-.9zM749.6 128.5h.9v1.8h-.9zM755.6 128.5h.9v1.8h-.9zM767.6 128.5h.9v1.8h-.9zM769.6 128.5h.9v1.8h-.9zM685.6 129.5h.9v1.8h-.9zM687.6 129.5h.9v1.8h-.9zM698.6 129.5h.9v1.8h-.9zM709.6 129.5h.9v1.8h-.9zM710.6 129.5h.9v1.8h-.9zM712.6 129.5h.9v1.8h-.9zM731.6 129.5h.9v1.8h-.9zM732.6 129.5h.9v1.8h-.9zM740.6 129.5h.9v1.8h-.9zM752.6 129.5h.9v1.8h-.9zM763.6 129.5h.9v1.8h-.9zM690.6 130.5h.9v1.8h-.9zM697.6 130.5h.9v1.8h-.9zM698.6 130.5h.9v1.8h-.9zM699.6 130.5h.9v1.8h-.9zM720.6 130.5h.9v1.8h-.9zM721.6 130.5h.9v1.8h-.9zM725.6 130.5h.9v1.8h-.9zM738.6 130.5h.9v1.8h-.9zM747.6 130.5h.9v1.8h-.9zM770.6 130.5h.9v1.8h-.9zM689.6 131.5h.9v1.8h-.9zM690.6 131.5h.9v1.8h-.9zM697.6 131.5h.9v1.8h-.9zM709.6 131.5h.9v1.8h-.9zM720.6 131.5h.9v1.8h-.9zM724.6 131.5h.9v1.8h-.9zM738.6 131.5h.9v1.8h-.9zM756.6 131.5h.9v1.8h-.9zM678.6 132.5h.9v1.8h-.9zM718.6 132.5h.9v1.8h-.9zM738.6 132.5h.9v1.8h-.9zM739.6 132.5h.9v1.8h-.9zM742.6 132.5h.9v1.8h-.9zM752.6 132.5h.9v1.8h-.9zM770.6 132.5h.9v1.8h-.9zM680.6 133.5h.9v1.8h-.9zM693.6 133.5h.9v1.8h-.9zM695.6 133.5h.9v1.8h-.9zM722.6 133.5h.9v1.8h-.9zM729.6 133.5h.9v1.8h-.9zM738.6 133.5h.9v1.8h-.9zM755.6 133.5h.9v1.8h-.9zM756.6 133.5h.9v1.8h-.9zM770.6 133.5h.9v1.8h-.9zM771.6 133.5h.9v1.8h-.9zM710.6 134.5h.9v1.8h-.9zM714.6 134.5h.9v1.8h-.9zM702.6 137.5h.9v1.8h-.9zM710.6 137.5h.9v1.8h-.9zM712.6 137.5h.9v1.8h-.9zM764.6 137.5h.9v1.8h-.9zM684.6 138.5h.9v1.8h-.9zM711.6 138.5h.9v1.8h-.9zM744.6 138.5h.9v1.8h-.9zM745.6 138.5h.9v1.8h-.9zM768.6 138.5h.9v1.8h-.9zM774.6 138.5h.9v1.8h-.9zM742.6 139.5h.9v1.8h-.9zM752.6 139.5h.9v1.8h-.9zM767.6 139.5h.9v1.8h-.9zM774.6 139.5h.9v1.8h-.9zM740.6 140.5h.9v1.8h-.9zM744.6 141.5h.9v1.8h-.9zM756.6 141.5h.9v1.8h-.9zM679.6 142.5h.9v1.8h-.9zM684.6 142.5h.9v1.8h-.9zM688.6 142.5h.9v1.8h-.9zM692.6 142.5h.9v1.8h-.9zM696.6 142.5h.9v1.8h-.9zM712.6 142.5h.9v1.8h-.9zM740.6 142.5h.9v1.8h-.9zM773.6 142.5h.9v1.8h-.9zM704.6 143.5h.9v1.8h-.9zM713.6 143.5h.9v1.8h-.9zM723.6 143.5h.9v1.8h-.9zM736.6 143.5h.9v1.8h-.9zM747.6 143.5h.9v1.8h-.9zM750.6 143.5h.9v1.8h-.9zM752.6 143.5h.9v1.8h-.9zM760.6 143.5h.9v1.8h-.9zM680.6 144.5h.9v1.8h-.9zM712.6 144.5h.9v1.8h-.9zM717.6 144.5h.9v1.8h-.9zM719.6 144.5h.9v1.8h-.9zM742.6 144.5h.9v1.8h-.9zM749.6 144.5h.9v1.8h-.9zM771.6 144.5h.9v1.8h-.9zM774.6 144.5h.9v1.8h-.9zM694.6 145.5h.9v1.8h-.9zM707.6 145.5h.9v1.8h-.9zM712.6 145.5h.9v1.8h-.9zM716.6 145.5h.9v1.8h-.9zM717.6 145.5h.9v1.8h-.9zM737.6 145.5h.9v1.8h-.9zM765.6 145.5h.9v1.8h-.9zM732.6 146.5h.9v1.8h-.9zM770.6 146.5h.9v1.8h-.9zM705.6 147.5h.9v1.8h-.9zM711.6 147.5h.9v1.8h-.9zM718.6 147.5h.9v1.8h-.9zM741.6 147.5h.9v1.8h-.9zM745.6 147.5h.9v1.8h-.9zM765.6 147.5h.9v1.8h-.9zM702.6 148.5h.9v1.8h-.9zM710.6 148.5h.9v1.8h-.9zM717.6 148.5h.9v1.8h-.9zM736.6 148.5h.9v1.8h-.9zM746.6 148.5h.9v1.8h-.9zM751.6 148.5h.9v1.8h-.9zM752.6 148.5h.9v1.8h-.9zM694.6 149.5h.9v1.8h-.9zM740.6 149.5h.9v1.8h-.9zM742.6 149.5h.9v1.8h-.9zM752.6 149.5h.9v1.8h-.9zM683.6 150.5h.9v1.8h-.9zM742.6 150.5h.9v1.8h-.9zM746.6 150.5h.9v1.8h-.9zM762.6 150.5h.9v1.8h-.9zM763.6 150.5h.9v1.8h-.9zM683.6 151.5h.9v1.8h-.9zM697.6 151.5h.9v1.8h-.9zM699.6 151.5h.9v1.8h-.9zM720.6 151.5h.9v1.8h-.9zM773.6 151.5h.9v1.8h-.9zM697.6 152.5h.9v1.8h-.9zM705.6 152.5h.9v1.8h-.9zM749.6 152.5h.9v1.8h-.9zM717.6 153.5h.9v1.8h-.9zM740.6 153.5h.9v1.8h-.9zM759.6 153.5h.9v1.8h-.9zM762.6 153.5h.9v1.8h-.9zM767.6 153.5h.9v1.8h-.9zM726.6 154.5h.9v1.8h-.9zM739.6 154.5h.9v1.8h-.9zM683.6 155.5h.9v1.8h-.9zM703.6 155.5h.9v1.8h-.9zM706.6 155.5h.9v1.8h-.9zM719.6 155.5h.9v1.8h-.9zM727.6 155.5h.9v1.8h-.9zM763.6 155.5h.9v1.8h-.9zM690.6 156.5h.9v1.8h-.9zM720.6 156.5h.9v1.8h-.9zM750.6 156.5h.9v1.8h-.9zM678.6 157.5h.9v1.8h-.9zM691.6 157.5h.9v1.8h-.9zM731.6 157.5h.9v1.8h-.9zM764.6 157.5h.9v1.8h-.9zM767.6 157.5h.9v1.8h-.9zM708.6 158.5h.9v1.8h-.9zM736.6 158.5h.9v1.8h-.9zM678.6 159.5h.9v1.8h-.9zM680.6 159.5h.9v1.8h-.9zM712.6 159.5h.9v1.8h-.9zM719.6 159.5h.9v1.8h-.9zM740.6 159.5h.9v1.8h-.9zM702.6 160.5h.9v1.8h-.9zM739.6 160.5h.9v1.8h-.9zM770.6 160.5h.9v1.8h-.9zM720.6 161.5h.9v1.8h-.9zM721.6 161.5h.9v1.8h-.9zM726.6 161.5h.9v1.8h-.9zM680.6 162.5h.9v1.8h-.9zM696.6 162.5h.9v1.8h-.9zM720.6 162.5h.9v1.8h-.9zM721.6 162.5h.9v1.8h-.9zM744.6 162.5h.9v1.8h-.9zM746.6 162.5h.9v1.8h-.9zM685.6 163.5h.9v1.8h-.9zM700.6 163.5h.9v1.8h-.9zM705.6 163.5h.9v1.8h-.9zM708.6 163.5h.9v1.8h-.9zM710.6 163.5h.9v1.8h-.9zM713.6 163.5h.9v1.8h-.9zM729.6 163.5h.9v1.8h-.9zM752.6 163.5h.9v1.8h-.9zM680.6 164.5h.9v1.8h-.9zM700.6 164.5h.9v1.8h-.9zM721.6 164.5h.9v1.8h-.9zM726.6 164.5h.9v1.8h-.9zM764.6 164.5h.9v1.8h-.9zM772.6 164.5h.9v1.8h-.9zM706.6 165.5h.9v1.8h-.9zM716.6 165.5h.9v1.8h-.9zM727.6 165.5h.9v1.8h-.9zM737.6 165.5h.9v1.8h-.9zM739.6 165.5h.9v1.8h-.9zM748.6 165.5h.9v1.8h-.9zM757.6 165.5h.9v1.8h-.9zM763.6 165.5h.9v1.8h-.9zM678.6 166.5h.9v1.8h-.9zM692.6 166.5h.9v1.8h-.9zM718.6 166.5h.9v1.8h-.9zM721.6 166.5h.9v1.8h-.9zM722.6 166.5h.9v1.8h-.9zM762.6 166.5h.9v1.8h-.9zM766.6 166.5h.9v1.8h-.9zM767.6 166.5h.9v1.8h-.9zM678.6 167.5h.9v1.8h-.9zM679.6 167.5h.9v1.8h-.9zM689.6 167.5h.9v1.8h-.9zM706.6 167.5h.9v1.8h-.9zM715.6 167.5h.9v1.8h-.9zM755.6 167.5h.9v1.8h-.9zM763.6 167.5h.9v1.8h-.9zM679.6 168.5h.9v1.8h-.9zM683.6 168.5h.9v1.8h-.9zM717.6 168.5h.9v1.8h-.9zM740.6 168.5h.9v1.8h-.9zM748.6 168.5h.9v1.8h-.9zM749.6 168.5h.9v1.8h-.9zM752.6 168.5h.9v1.8h-.9zM761.6 168.5h.9v1.8h-.9zM763.6 168.5h.9v1.8h-.9zM697.6 169.5h.9v1.8h-.9zM705.6 169.5h.9v1.8h-.9zM745.6 169.5h.9v1.8h-.9zM752.6 169.5h.9v1.8h-.9zM755.6 169.5h.9v1.8h-.9zM762.6 169.5h.9v1.8h-.9zM686.6 170.5h.9v1.8h-.9zM692.6 170.5h.9v1.8h-.9zM710.6 170.5h.9v1.8h-.9zM713.6 170.5h.9v1.8h-.9zM722.6 170.5h.9v1.8h-.9zM736.6 170.5h.9v1.8h-.9zM748.6 170.5h.9v1.8h-.9zM762.6 170.5h.9v1.8h-.9zM767.6 170.5h.9v1.8h-.9zM771.6 170.5h.9v1.8h-.9zM681.6 171.5h.9v1.8h-.9zM703.6 171.5h.9v1.8h-.9zM706.6 171.5h.9v1.8h-.9zM736.6 171.5h.9v1.8h-.9zM760.6 171.5h.9v1.8h-.9zM765.6 171.5h.9v1.8h-.9zM697.6 172.5h.9v1.8h-.9zM700.6 172.5h.9v1.8h-.9zM703.6 172.5h.9v1.8h-.9zM718.6 172.5h.9v1.8h-.9zM720.6 172.5h.9v1.8h-.9zM726.6 172.5h.9v1.8h-.9zM738.6 172.5h.9v1.8h-.9zM739.6 172.5h.9v1.8h-.9zM752.6 172.5h.9v1.8h-.9zM755.6 172.5h.9v1.8h-.9zM694.6 173.5h.9v1.8h-.9zM696.6 173.5h.9v1.8h-.9zM699.6 173.5h.9v1.8h-.9zM701.6 173.5h.9v1.8h-.9zM708.6 173.5h.9v1.8h-.9zM717.6 173.5h.9v1.8h-.9zM719.6 173.5h.9v1.8h-.9zM732.6 173.5h.9v1.8h-.9zM735.6 173.5h.9v1.8h-.9zM744.6 173.5h.9v1.8h-.9zM749.6 173.5h.9v1.8h-.9zM753.6 173.5h.9v1.8h-.9zM759.6 173.5h.9v1.8h-.9zM769.6 173.5h.9v1.8h-.9zM697.6 174.5h.9v1.8h-.9zM705.6 174.5h.9v1.8h-.9zM712.6 174.5h.9v1.8h-.9zM747.6 174.5h.9v1.8h-.9zM755.6 174.5h.9v1.8h-.9zM707.6 175.5h.9v1.8h-.9zM714.6 175.5h.9v1.8h-.9zM739.6 175.5h.9v1.8h-.9zM752.6 175.5h.9v1.8h-.9zM753.6 175.5h.9v1.8h-.9zM713.6 176.5h.9v1.8h-.9zM721.6 176.5h.9v1.8h-.9zM736.6 176.5h.9v1.8h-.9zM744.6 176.5h.9v1.8h-.9zM745.6 176.5h.9v1.8h-.9zM709.6 177.5h.9v1.8h-.9zM724.6 177.5h.9v1.8h-.9zM733.6 177.5h.9v1.8h-.9zM738.6 177.5h.9v1.8h-.9zM694.6 178.5h.9v1.8h-.9zM742.6 178.5h.9v1.8h-.9zM699.6 179.5h.9v1.8h-.9zM712.6 179.5h.9v1.8h-.9zM725.6 179.5h.9v1.8h-.9zM738.6 179.5h.9v1.8h-.9zM751.6 179.5h.9v1.8h-.9zM689.6 180.5h.9v1.8h-.9zM696.6 180.5h.9v1.8h-.9zM737.6 180.5h.9v1.8h-.9zM728.6 181.5h.9v1.8h-.9zM742.6 181.5h.9v1.8h-.9zM750.6 181.5h.9v1.8h-.9zM771.6 181.5h.9v1.8h-.9zM679.6 182.5h.9v1.8h-.9zM695.6 182.5h.9v1.8h-.9zM710.6 182.5h.9v1.8h-.9zM721.6 182.5h.9v1.8h-.9zM737.6 182.5h.9v1.8h-.9zM750.6 182.5h.9v1.8h-.9zM681.6 183.5h.9v1.8h-.9zM683.6 183.5h.9v1.8h-.9zM684.6 183.5h.9v1.8h-.9zM720.6 183.5h.9v1.8h-.9zM748.6 183.5h.9v1.8h-.9zM765.6 183.5h.9v1.8h-.9zM690.6 184.5h.9v1.8h-.9zM708.6 184.5h.9v1.8h-.9zM718.6 184.5h.9v1.8h-.9zM724.6 184.5h.9v1.8h-.9zM753.6 184.5h.9v1.8h-.9zM765.6 184.5h.9v1.8h-.9zM770.6 184.5h.9v1.8h-.9zM678.6 185.5h.9v1.8h-.9zM700.6 185.5h.9v1.8h-.9zM701.6 185.5h.9v1.8h-.9zM704.6 185.5h.9v1.8h-.9zM739.6 185.5h.9v1.8h-.9zM758.6 185.5h.9v1.8h-.9zM763.6 185.5h.9v1.8h-.9zM767.6 185.5h.9v1.8h-.9zM684.6 186.5h.9v1.8h-.9zM691.6 186.5h.9v1.8h-.9zM698.6 186.5h.9v1.8h-.9zM702.6 186.5h.9v1.8h-.9zM709.6 186.5h.9v1.8h-.9zM719.6 186.5h.9v1.8h-.9zM730.6 186.5h.9v1.8h-.9zM749.6 186.5h.9v1.8h-.9zM752.6 186.5h.9v1.8h-.9zM694.6 187.5h.9v1.8h-.9zM719.6 187.5h.9v1.8h-.9zM734.6 187.5h.9v1.8h-.9zM742.6 187.5h.9v1.8h-.9zM745.6 187.5h.9v1.8h-.9zM768.6 187.5h.9v1.8h-.9zM683.6 188.5h.9v1.8h-.9zM731.6 188.5h.9v1.8h-.9zM751.6 188.5h.9v1.8h-.9zM697.6 189.5h.9v1.8h-.9zM714.6 189.5h.9v1.8h-.9zM721.6 189.5h.9v1.8h-.9zM735.6 189.5h.9v1.8h-.9zM771.6 189.5h.9v1.8h-.9zM752.6 190.5h.9v1.8h-.9zM754.6 190.5h.9v1.8h-.9zM767.6 190.5h.9v1.8h-.9zM683.6 191.5h.9v1.8h-.9zM684.6 191.5h.9v1.8h-.9zM707.6 191.5h.9v1.8h-.9zM711.6 191.5h.9v1.8h-.9zM721.6 191.5h.9v1.8h-.9zM727.6 191.5h.9v1.8h-.9zM746.6 191.5h.9v1.8h-.9zM762.6 191.5h.9v1.8h-.9zM740.6 192.5h.9v1.8h-.9zM751.6 192.5h.9v1.8h-.9zM752.6 192.5h.9v1.8h-.9zM757.6 192.5h.9v1.8h-.9zM763.6 192.5h.9v1.8h-.9zM717.6 193.5h.9v1.8h-.9zM721.6 193.5h.9v1.8h-.9zM723.6 193.5h.9v1.8h-.9zM740.6 193.5h.9v1.8h-.9zM685.6 194.5h.9v1.8h-.9zM699.6 194.5h.9v1.8h-.9zM705.6 194.5h.9v1.8h-.9zM707.6 194.5h.9v1.8h-.9zM715.6 194.5h.9v1.8h-.9zM717.6 194.5h.9v1.8h-.9zM727.6 194.5h.9v1.8h-.9zM728.6 194.5h.9v1.8h-.9zM729.6 194.5h.9v1.8h-.9zM733.6 194.5h.9v1.8h-.9zM746.6 194.5h.9v1.8h-.9zM772.6 194.5h.9v1.8h-.9zM697.6 195.5h.9v1.8h-.9zM699.6 195.5h.9v1.8h-.9zM706.6 195.5h.9v1.8h-.9zM712.6 195.5h.9v1.8h-.9zM713.6 195.5h.9v1.8h-.9zM716.6 195.5h.9v1.8h-.9zM734.6 195.5h.9v1.8h-.9zM763.6 195.5h.9v1.8h-.9zM702.6 196.5h.9v1.8h-.9zM755.6 196.5h.9v1.8h-.9zM760.6 196.5h.9v1.8h-.9zM774.6 196.5h.9v1.8h-.9zM689.6 197.5h.9v1.8h-.9zM713.6 197.5h.9v1.8h-.9zM723.6 197.5h.9v1.8h-.9zM732.6 197.5h.9v1.8h-.9zM760.6 197.5h.9v1.8h-.9zM770.6 197.5h.9v1.8h-.9zM774.6 197.5h.9v1.8h-.9zM685.6 198.5h.9v1.8h-.9zM710.6 198.5h.9v1.8h-.9zM738.6 198.5h.9v1.8h-.9zM709.6 199.5h.9v1.8h-.9zM729.6 199.5h.9v1.8h-.9zM754.6 199.5h.9v1.8h-.9zM759.6 199.5h.9v1.8h-.9zM765.6 199.5h.9v1.8h-.9zM679.6 200.5h.9v1.8h-.9zM700.6 200.5h.9v1.8h-.9zM716.6 200.5h.9v1.8h-.9zM728.6 200.5h.9v1.8h-.9zM751.6 200.5h.9v1.8h-.9zM759.6 200.5h.9v1.8h-.9zM763.6 200.5h.9v1.8h-.9zM686.6 201.5h.9v1.8h-.9zM705.6 201.5h.9v1.8h-.9zM709.6 201.5h.9v1.8h-.9zM715.6 201.5h.9v1.8h-.9zM721.6 201.5h.9v1.8h-.9zM764.6 201.5h.9v1.8h-.9zM727.6 202.5h.9v1.8h-.9zM694.6 203.5h.9v1.8h-.9zM726.6 203.5h.9v1.8h-.9zM742.6 203.5h.9v1.8h-.9zM744.6 203.5h.9v1.8h-.9zM747.6 203.5h.9v1.8h-.9zM744.6 204.5h.9v1.8h-.9zM752.6 204.5h.9v1.8h-.9zM759.6 204.5h.9v1.8h-.9zM763.6 204.5h.9v1.8h-.9zM684.6 205.5h.9v1.8h-.9zM689.6 205.5h.9v1.8h-.9zM701.6 205.5h.9v1.8h-.9zM716.6 205.5h.9v1.8h-.9zM697.6 206.5h.9v1.8h-.9zM735.6 206.5h.9v1.8h-.9zM746.6 206.5h.9v1.8h-.9zM748.6 206.5h.9v1.8h-.9zM766.6 206.5h.9v1.8h-.9zM725.6 207.5h.9v1.8h-.9zM743.6 207.5h.9v1.8h-.9zM745.6 207.5h.9v1.8h-.9zM746.6 207.5h.9v1.8h-.9zM748.6 207.5h.9v1.8h-.9zM774.6 207.5h.9v1.8h-.9zM700.6 208.5h.9v1.8h-.9zM728.6 208.5h.9v1.8h-.9zM737.6 208.5h.9v1.8h-.9zM743.6 208.5h.9v1.8h-.9zM752.6 208.5h.9v1.8h-.9zM736.6 209.5h.9v1.8h-.9zM679.6 210.5h.9v1.8h-.9zM680.6 210.5h.9v1.8h-.9zM689.6 210.5h.9v1.8h-.9zM690.6 210.5h.9v1.8h-.9zM695.6 210.5h.9v1.8h-.9zM699.6 210.5h.9v1.8h-.9zM745.6 210.5h.9v1.8h-.9zM766.6 210.5h.9v1.8h-.9zM690.6 211.5h.9v1.8h-.9zM716.6 211.5h.9v1.8h-.9zM720.6 211.5h.9v1.8h-.9zM737.6 211.5h.9v1.8h-.9zM767.6 211.5h.9v1.8h-.9zM746.6 212.5h.9v1.8h-.9zM687.6 213.5h.9v1.8h-.9zM720.6 213.5h.9v1.8h-.9zM727.6 213.5h.9v1.8h-.9zM729.6 213.5h.9v1.8h-.9zM750.6 213.5h.9v1.8h-.9zM759.6 213.5h.9v1.8h-.9zM768.6 213.5h.9v1.8h-.9zM691.6 214.5h.9v1.8h-.9zM728.6 214.5h.9v1.8h-.9zM740.6 214.5h.9v1.8h-.9zM745.6 214.5h.9v1.8h-.9zM686.6 215.5h.9v1.8h-.9zM717.6 215.5h.9v1.8h-.9zM725.6 215.5h.9v1.8h-.9zM731.6 215.5h.9v1.8h-.9zM734.6 215.5h.9v1.8h-.9zM759.6 215.5h.9v1.8h-.9zM761.6 215.5h.9v1.8h-.9zM763.6 215.5h.9v1.8h-.9zM698.6 216.5h.9v1.8h-.9zM709.6 216.5h.9v1.8h-.9zM723.6 216.5h.9v1.8h-.9zM738.6 216.5h.9v1.8h-.9zM749.6 216.5h.9v1.8h-.9z"/>
<path fill="#f5c0c0" d="M679.6 127.5h.9v1.8h-.9zM699.6 127.5h.9v1.8h-.9zM708.6 127.5h.9v1.8h-.9zM710.6 127.5h.9v1.8h-.9zM724.6 127.5h.9v1.8h-.9zM728.6 127.5h.9v1.8h-.9zM729.6 127.5h.9v1.8h-.9zM737.6 127.5h.9v1.8h-.9zM738.6 127.5h.9v1.8h-.9zM739.6 127.5h.9v1.8h-.9zM745.6 127.5h.9v1.8h-.9zM746.6 127.5h.9v1.8h-.9zM759.6 127.5h.9v1.8h-.9zM683.6 128.5h.9v1.8h-.9zM689.6 128.5h.9v1.8h-.9zM692.6 128.5h.9v1.8h-.9zM703.6 128.5h.9v1.8h-.9zM704.6 128.5h.9v1.8h-.9zM707.6 128.5h.9v1.8h-.9zM710.6 128.5h.9v1.8h-.9zM715.6 128.5h.9v1.8h-.9zM724.6 128.5h.9v1.8h-.9zM727.6 128.5h.9v1.8h-.9zM740.6 128.5h.9v1.8h-.9zM743.6 128.5h.9v1.8h-.9zM765.6 128.5h.9v1.8h-.9zM719.6 129.5h.9v1.8h-.9zM721.6 129.5h.9v1.8h-.9zM742.6 129.5h.9v1.8h-.9zM746.6 129.5h.9v1.8h-.9zM755.6 129.5h.9v1.8h-.9zM765.6 129.5h.9v1.8h-.9zM678.6 130.5h.9v1.8h-.9zM680.6 130.5h.9v1.8h-.9zM683.6 130.5h.9v1.8h-.9zM706.6 130.5h.9v1.8h-.9zM707.6 130.5h.9v1.8h-.9zM712.6 130.5h.9v1.8h-.9zM723.6 130.5h.9v1.8h-.9zM744.6 130.5h.9v1.8h-.9zM749.6 130.5h.9v1.8h-.9zM750.6 130.5h.9v1.8h-.9zM759.6 130.5h.9v1.8h-.9zM760.6 130.5h.9v1.8h-.9zM687.6 131.5h.9v1.8h-.9zM694.6 131.5h.9v1.8h-.9zM705.6 131.5h.9v1.8h-.9zM717.6 131.5h.9v1.8h-.9zM740.6 131.5h.9v1.8h-.9zM746.6 131.5h.9v1.8h-.9zM750.6 131.5h.9v1.8h-.9zM752.6 131.5h.9v1.8h-.9zM753.6 131.5h.9v1.8h-.9zM765.6 131.5h.9v1.8h-.9zM767.6 131.5h.9v1.8h-.9zM769.6 131.5h.9v1.8h-.9zM679.6 132.5h.9v1.8h-.9zM692.6 132.5h.9v1.8h-.9zM693.6 132.5h.9v1.8h-.9zM694.6 132.5h.9v1.8h-.9zM699.6 132.5h.9v1.8h-.9zM701.6 132.5h.9v1.8h-.9zM705.6 132.5h.9v1.8h-.9zM711.6 132.5h.9v1.8h-.9zM715.6 132.5h.9v1.8h-.9zM724.6 132.5h.9v1.8h-.9zM736.6 132.5h.9v1.8h-.9zM741.6 132.5h.9v1.8h-.9zM745.6 132.5h.9v1.8h-.9zM746.6 132.5h.9v1.8h-.9zM749.6 132.5h.9v1.8h-.9zM762.6 132.5h.9v1.8h-.9zM763.6 132.5h.9v1.8h-.9zM764.6 132.5h.9v1.8h-.9zM765.6 132.5h.9v1.8h-.9zM766.6 132.5h.9v1.8h-.9zM767.6 132.5h.9v1.8h-.9zM774.6 132.5h.9v1.8h-.9zM684.6 133.5h.9v1.8h-.9zM687.6 133.5h.9v1.8h-.9zM691.6 133.5h.9v1.8h-.9zM701.6 133.5h.9v1.8h-.9zM708.6 133.5h.9v1.8h-.9zM720.6 133.5h.9v1.8h-.9zM734.6 133.5h.9v1.8h-.9zM745.6 133.5h.9v1.8h-.9zM748.6 133.5h.9v1.8h-.9zM753.6 133.5h.9v1.8h-.9zM763.6 133.5h.9v1.8h-.9zM684.6 134.5h.9v1.8h-.9zM687.6 134.5h.9v1.8h-.9zM690.6 134.5h.9v1.8h-.9zM691.6 134.5h.9v1.8h-.9zM717.6 134.5h.9v1.8h-.9zM732.6 134.5h.9v1.8h-.9zM752.6 134.5h.9v1.8h-.9zM763.6 134.5h.9v1.8h-.9zM743.6 135.5h.9v1.8h-.9zM688.6 136.5h.9v1.8h-.9zM746.6 136.5h.9v1.8h-.9zM752.6 136.5h.9v1.8h-.9zM681.6 137.5h.9v1.8h-.9zM682.6 137.5h.9v1.8h-.9zM684.6 137.5h.9v1.8h-.9zM696.6 137.5h.9v1.8h-.9zM697.6 137.5h.9v1.8h-.9zM717.6 137.5h.9v1.8h-.9zM718.6 137.5h.9v1.8h-.9zM720.6 137.5h.9v1.8h-.9zM741.6 137.5h.9v1.8h-.9zM752.6 137.5h.9v1.8h-.9zM761.6 137.5h.9v1.8h-.9zM679.6 138.5h.9v1.8h-.9zM680.6 138.5h.9v1.8h-.9zM689.6 138.5h.9v1.8h-.9zM692.6 138.5h.9v1.8h-.9zM701.6 138.5h.9v1.8h-.9zM707.6 138.5h.9v1.8h-.9zM694.6 139.5h.9v1.8h-.9zM695.6 139.5h.9v1.8h-.9zM705.6 139.5h.9v1.8h-.9zM712.6 139.5h.9v1.8h-.9zM722.6 139.5h.9v1.8h-.9zM746.6 139.5h.9v1.8h-.9zM770.6 139.5h.9v1.8h-.9zM683.6 140.5h.9v1.8h-.9zM687.6 140.5h.9v1.8h-.9zM699.6 140.5h.9v1.8h-.9zM705.6 140.5h.9v1.8h-.9zM715.6 140.5h.9v1.8h-.9zM735.6 140.5h.9v1.8h-.9zM758.6 140.5h.9v1.8h-.9zM761.6 140.5h.9v1.8h-.9zM763.6 140.5h.9v1.8h-.9zM764.6 140.5h.9v1.8h-.9zM687.6 141.5h.9v1.8h-.9zM690.6 141.5h.9v1.8h-.9zM712.6 141.5h.9v1.8h-.9zM716.6 141.5h.9v1.8h-.9zM725.6 141.5h.9v1.8h-.9zM730.6 141.5h.9v1.8h-.9zM742.6 141.5h.9v1.8h-.9zM745.6 141.5h.9v1.8h-.9zM748.6 141.5h.9v1.8h-.9zM750.6 141.5h.9v1.8h-.9zM707.6 142.5h.9v1.8h-.9zM728.6 142.5h.9v1.8h-.9zM747.6 142.5h.9v1.8h-.9zM748.6 142.5h.9v1.8h-.9zM764.6 142.5h.9v1.8h-.9zM767.6 142.5h.9v1.8h-.9zM706.6 143.5h.9v1.8h-.9zM730.6 143.5h.9v1.8h-.9zM733.6 143.5h.9v1.8h-.9zM743.6 143.5h.9v1.8h-.9zM682.6 144.5h.9v1.8h-.9zM705.6 144.5h.9v1.8h-.9zM738.6 144.5h.9v1.8h-.9zM758.6 144.5h.9v1.8h-.9zM761.6 144.5h.9v1.8h-.9zM685.6 145.5h.9v1.8h-.9zM687.6 145.5h.9v1.8h-.9zM695.6 145.5h.9v1.8h-.9zM696.6 145.5h.9v1.8h-.9zM698.6 145.5h.9v1.8h-.9zM711.6 145.5h.9v1.8h-.9zM759.6 145.5h.9v1.8h-.9zM691.6 146.5h.9v1.8h-.9zM693.6 146.5h.9v1.8h-.9zM694.6 146.5h.9v1.8h-.9zM697.6 146.5h.9v1.8h-.9zM721.6 146.5h.9v1.8h-.9zM744.6 146.5h.9v1.8h-.9zM757.6 146.5h.9v1.8h-.9zM678.6 147.5h.9v1.8h-.9zM692.6 147.5h.9v1.8h-.9zM693.6 147.5h.9v1.8h-.9zM712.6 147.5h.9v1.8h-.9zM730.6 147.5h.9v1.8h-.9zM749.6 147.5h.9v1.8h-.9zM758.6 147.5h.9v1.8h-.9zM759.6 147.5h.9v1.8h-.9zM767.6 147.5h.9v1.8h-.9zM772.6 147.5h.9v1.8h-.9zM682.6 148.5h.9v1.8h-.9zM689.6 148.5h.9v1.8h-.9zM700.6 148.5h.9v1.8h-.9zM703.6 148.5h.9v1.8h-.9zM712.6 148.5h.9v1.8h-.9zM720.6 148.5h.9v1.8h-.9zM725.6 148.5h.9v1.8h-.9zM735.6 148.5h.9v1.8h-.9zM747.6 148.5h.9v1.8h-.9zM753.6 148.5h.9v1.8h-.9zM765.6 148.5h.9v1.8h-.9zM768.6 148.5h.9v1.8h-.9zM691.6 149.5h.9v1.8h-.9zM716.6 149.5h.9v1.8h-.9zM730.6 149.5h.9v1.8h-.9zM733.6 149.5h.9v1.8h-.9zM739.6 149.5h.9v1.8h-.9zM771.6 149.5h.9v1.8h-.9zM690.6 150.5h.9v1.8h-.9zM730.6 150.5h.9v1.8h-.9zM737.6 150.5h.9v1.8h-.9zM740.6 150.5h.9v1.8h-.9zM728.6 151.5h.9v1.8h-.9zM725.6 152.5h.9v1.8h-.9zM732.6 152.5h.9v1.8h-.9zM709.6 153.5h.9v1.8h-.9zM761.6 153.5h.9v1.8h-.9zM715.6 154.5h.9v1.8h-.9zM722.6 154.5h.9v1.8h-.9zM744.6 154.5h.9v1.8h-.9zM773.6 154.5h.9v1.8h-.9zM747.6 155.5h.9v1.8h-.9zM688.6 156.5h.9v1.8h-.9zM751.6 156.5h.9v1.8h-.9zM679.6 157.5h.9v1.8h-.9zM695.6 157.5h.9v1.8h-.9zM703.6 157.5h.9v1.8h-.9zM712.6 157.5h.9v1.8h-.9zM769.6 157.5h.9v1.8h-.9zM765.6 158.5h.9v1.8h-.9zM762.6 159.5h.9v1.8h-.9zM697.6 160.5h.9v1.8h-.9zM721.6 160.5h.9v1.8h-.9zM684.6 161.5h.9v1.8h-.9zM701.6 161.5h.9v1.8h-.9zM724.6 161.5h.9v1.8h-.9zM735.6 161.5h.9v1.8h-.9zM743.6 161.5h.9v1.8h-.9zM771.6 161.5h.9v1.8h-.9zM698.6 162.5h.9v1.8h-.9zM713.6 162.5h.9v1.8h-.9zM728.6 162.5h.9v1.8h-.9zM741.6 162.5h.9v1.8h-.9zM758.6 162.5h.9v1.8h-.9zM690.6 163.5h.9v1.8h-.9zM720.6 163.5h.9v1.8h-.9zM721.6 163.5h.9v1.8h-.9zM735.6 163.5h.9v1.8h-.9zM747.6 163.5h.9v1.8h-.9zM750.6 163.5h.9v1.8h-.9zM763.6 163.5h.9v1.8h-.9zM766.6 163.5h.9v1.8h-.9zM697.6 164.5h.9v1.8h-.9zM708.6 164.5h.9v1.8h-.9zM714.6 164.5h.9v1.8h-.9zM717.6 164.5h.9v1.8h-.9zM727.6 164.5h.9v1.8h-.9zM737.6 164.5h.9v1.8h-.9zM742.6 164.5h.9v1.8h-.9zM757.6 164.5h.9v1.8h-.9zM723.6 165.5h.9v1.8h-.9zM726.6 165.5h.9v1.8h-.9zM731.6 165.5h.9v1.8h-.9zM735.6 165.5h.9v1.8h-.9zM741.6 165.5h.9v1.8h-.9zM745.6 165.5h.9v1.8h-.9zM753.6 165.5h.9v1.8h-.9zM754.6 165.5h.9v1.8h-.9zM762.6 165.5h.9v1.8h-.9zM765.6 165.5h.9v1.8h-.9zM773.6 165.5h.9v1.8h-.9zM689.6 166.5h.9v1.8h-.9zM693.6 166.5h.9v1.8h-.9zM708.6 166.5h.9v1.8h-.9zM720.6 166.5h.9v1.8h-.9zM732.6 166.5h.9v1.8h-.9zM733.6 166.5h.9v1.8h-.9zM683.6 167.5h.9v1.8h-.9zM690.6 167.5h.9v1.8h-.9zM704.6 167.5h.9v1.8h-.9zM711.6 167.5h.9v1.8h-.9zM722.6 167.5h.9v1.8h-.9zM750.6 167.5h.9v1.8h-.9zM756.6 167.5h.9v1.8h-.9zM757.6 167.5h.9v1.8h-.9zM758.6 167.5h.9v1.8h-.9zM689.6 168.5h.9v1.8h-.9zM703.6 168.5h.9v1.8h-.9zM719.6 168.5h.9v1.8h-.9zM720.6 168.5h.9v1.8h-.9zM724.6 168.5h.9v1.8h-.9zM729.6 168.5h.9v1.8h-.9zM732.6 168.5h.9v1.8h-.9zM737.6 168.5h.9v1.8h-.9zM742.6 168.5h.9v1.8h-.9zM744.6 168.5h.9v1.8h-.9zM746.6 168.5h.9v1.8h-.9zM760.6 168.5h.9v1.8h-.9zM762.6 168.5h.9v1.8h-.9zM683.6 169.5h.9v1.8h-.9zM713.6 169.5h.9v1.8h-.9zM736.6 169.5h.9v1.8h-.9zM751.6 169.5h.9v1.8h-.9zM765.6 169.5h.9v1.8h-.9zM718.6 170.5h.9v1.8h-.9zM720.6 170.5h.9v1.8h-.9zM738.6 170.5h.9v1.8h-.9zM680.6 171.5h.9v1.8h-.9zM683.6 171.5h.9v1.8h-.9zM684.6 171.5h.9v1.8h-.9zM687.6 171.5h.9v1.8h-.9zM705.6 171.5h.9v1.8h-.9zM716.6 171.5h.9v1.8h-.9zM735.6 171.5h.9v1.8h-.9zM747.6 171.5h.9v1.8h-.9zM748.6 171.5h.9v1.8h-.9zM749.6 171.5h.9v1.8h-.9zM759.6 171.5h.9v1.8h-.9zM766.6 171.5h.9v1.8h-.9zM684.6 172.5h.9v1.8h-.9zM715.6 172.5h.9v1.8h-.9zM740.6 172.5h.9v1.8h-.9zM744.6 172.5h.9v1.8h-.9zM685.6 173.5h.9v1.8h-.9zM718.6 173.5h.9v1.8h-.9zM738.6 173.5h.9v1.8h-.9zM745.6 173.5h.9v1.8h-.9zM773.6 173.5h.9v1.8h-.9zM688.6 174.5h.9v1.8h-.9zM733.6 174.5h.9v1.8h-.9zM743.6 174.5h.9v1.8h-.9zM746.6 174.5h.9v1.8h-.9zM762.6 174.5h.9v1.8h-.9zM768.6 174.5h.9v1.8h-.9zM679.6 175.5h.9v1.8h-.9zM680.6 175.5h.9v1.8h-.9zM681.6 175.5h.9v1.8h-.9zM682.6 175.5h.9v1.8h-.9zM683.6 175.5h.9v1.8h-.9zM689.6 175.5h.9v1.8h-.9zM692.6 175.5h.9v1.8h-.9zM708.6 175.5h.9v1.8h-.9zM709.6 175.5h.9v1.8h-.9zM711.6 175.5h.9v1.8h-.9zM713.6 175.5h.9v1.8h-.9zM715.6 175.5h.9v1.8h-.9zM717.6 175.5h.9v1.8h-.9zM719.6 175.5h.9v1.8h-.9zM736.6 175.5h.9v1.8h-.9zM742.6 175.5h.9v1.8h-.9zM771.6 175.5h.9v1.8h-.9zM773.6 175.5h.9v1.8h-.9zM678.6 176.5h.9v1.8h-.9zM688.6 176.5h.9v1.8h-.9zM697.6 176.5h.9v1.8h-.9zM727.6 176.5h.9v1.8h-.9zM741.6 176.5h.9v1.8h-.9zM749.6 176.5h.9v1.8h-.9zM751.6 176.5h.9v1.8h-.9zM774.6 176.5h.9v1.8h-.9zM683.6 177.5h.9v1.8h-.9zM684.6 177.5h.9v1.8h-.9zM690.6 177.5h.9v1.8h-.9zM706.6 177.5h.9v1.8h-.9zM719.6 177.5h.9v1.8h-.9zM721.6 177.5h.9v1.8h-.9zM736.6 177.5h.9v1.8h-.9zM765.6 177.5h.9v1.8h-.9zM692.6 178.5h.9v1.8h-.9zM702.6 178.5h.9v1.8h-.9zM714.6 178.5h.9v1.8h-.9zM717.6 178.5h.9v1.8h-.9zM725.6 178.5h.9v1.8h-.9zM743.6 178.5h.9v1.8h-.9zM746.6 178.5h.9v1.8h-.9zM754.6 178.5h.9v1.8h-.9zM679.6 179.5h.9v1.8h-.9zM693.6 179.5h.9v1.8h-.9zM705.6 179.5h.9v1.8h-.9zM710.6 179.5h.9v1.8h-.9zM753.6 179.5h.9v1.8h-.9zM757.6 179.5h.9v1.8h-.9zM715.6 180.5h.9v1.8h-.9zM720.6 180.5h.9v1.8h-.9zM723.6 180.5h.9v1.8h-.9zM728.6 180.5h.9v1.8h-.9zM738.6 180.5h.9v1.8h-.9zM741.6 180.5h.9v1.8h-.9zM746.6 180.5h.9v1.8h-.9zM692.6 181.5h.9v1.8h-.9zM693.6 181.5h.9v1.8h-.9zM720.6 181.5h.9v1.8h-.9zM732.6 181.5h.9v1.8h-.9zM762.6 181.5h.9v1.8h-.9zM683.6 182.5h.9v1.8h-.9zM691.6 182.5h.9v1.8h-.9zM699.6 182.5h.9v1.8h-.9zM709.6 182.5h.9v1.8h-.9zM716.6 182.5h.9v1.8h-.9zM718.6 182.5h.9v1.8h-.9zM727.6 182.5h.9v1.8h-.9zM735.6 182.5h.9v1.8h-.9zM770.6 182.5h.9v1.8h-.9zM771.6 182.5h.9v1.8h-.9zM695.6 183.5h.9v1.8h-.9zM699.6 183.5h.9v1.8h-.9zM705.6 183.5h.9v1.8h-.9zM708.6 183.5h.9v1.8h-.9zM711.6 183.5h.9v1.8h-.9zM717.6 183.5h.9v1.8h-.9zM727.6 183.5h.9v1.8h-.9zM739.6 183.5h.9v1.8h-.9zM752.6 183.5h.9v1.8h-.9zM754.6 183.5h.9v1.8h-.9zM767.6 183.5h.9v1.8h-.9zM695.6 184.5h.9v1.8h-.9zM739.6 184.5h.9v1.8h-.9zM740.6 184.5h.9v1.8h-.9zM759.6 184.5h.9v1.8h-.9zM762.6 184.5h.9v1.8h-.9zM763.6 184.5h.9v1.8h-.9zM772.6 184.5h.9v1.8h-.9zM713.6 185.5h.9v1.8h-.9zM726.6 185.5h.9v1.8h-.9zM735.6 185.5h.9v1.8h-.9zM738.6 185.5h.9v1.8h-.9zM678.6 186.5h.9v1.8h-.9zM690.6 186.5h.9v1.8h-.9zM731.6 186.5h.9v1.8h-.9zM732.6 186.5h.9v1.8h-.9zM735.6 186.5h.9v1.8h-.9zM747.6 186.5h.9v1.8h-.9zM678.6 187.5h.9v1.8h-.9zM688.6 187.5h.9v1.8h-.9zM716.6 187.5h.9v1.8h-.9zM736.6 187.5h.9v1.8h-.9zM769.6 187.5h.9v1.8h-.9zM691.6 188.5h.9v1.8h-.9zM697.6 188.5h.9v1.8h-.9zM701.6 188.5h.9v1.8h-.9zM705.6 188.5h.9v1.8h-.9zM710.6 188.5h.9v1.8h-.9zM712.6 188.5h.9v1.8h-.9zM713.6 188.5h.9v1.8h-.9zM719.6 188.5h.9v1.8h-.9zM732.6 188.5h.9v1.8h-.9zM693.6 189.5h.9v1.8h-.9zM694.6 189.5h.9v1.8h-.9zM758.6 189.5h.9v1.8h-.9zM759.6 189.5h.9v1.8h-.9zM763.6 189.5h.9v1.8h-.9zM701.6 190.5h.9v1.8h-.9zM702.6 190.5h.9v1.8h-.9zM707.6 190.5h.9v1.8h-.9zM715.6 190.5h.9v1.8h-.9zM721.6 190.5h.9v1.8h-.9zM733.6 190.5h.9v1.8h-.9zM737.6 190.5h.9v1.8h-.9zM741.6 190.5h.9v1.8h-.9zM750.6 190.5h.9v1.8h-.9zM764.6 190.5h.9v1.8h-.9zM678.6 191.5h.9v1.8h-.9zM696.6 191.5h.9v1.8h-.9zM697.6 191.5h.9v1.8h-.9zM731.6 191.5h.9v1.8h-.9zM735.6 191.5h.9v1.8h-.9zM737.6 191.5h.9v1.8h-.9zM749.6 191.5h.9v1.8h-.9zM757.6 191.5h.9v1.8h-.9zM767.6 191.5h.9v1.8h-.9zM770.6 191.5h.9v1.8h-.9zM685.6 192.5h.9v1.8h-.9zM689.6 192.5h.9v1.8h-.9zM695.6 192.5h.9v1.8h-.9zM700.6 192.5h.9v1.8h-.9zM756.6 192.5h.9v1.8h-.9zM762.6 192.5h.9v1.8h-.9zM765.6 192.5h.9v1.8h-.9zM693.6 193.5h.9v1.8h-.9zM694.6 193.5h.9v1.8h-.9zM697.6 193.5h.9v1.8h-.9zM700.6 193.5h.9v1.8h-.9zM746.6 193.5h.9v1.8h-.9zM770.6 193.5h.9v1.8h-.9zM684.6 194.5h.9v1.8h-.9zM710.6 194.5h.9v1.8h-.9zM765.6 194.5h.9v1.8h-.9zM678.6 195.5h.9v1.8h-.9zM686.6 195.5h.9v1.8h-.9zM691.6 195.5h.9v1.8h-.9zM719.6 195.5h.9v1.8h-.9zM720.6 195.5h.9v1.8h-.9zM726.6 195.5h.9v1.8h-.9zM739.6 195.5h.9v1.8h-.9zM740.6 195.5h.9v1.8h-.9zM754.6 195.5h.9v1.8h-.9zM758.6 195.5h.9v1.8h-.9zM770.6 195.5h.9v1.8h-.9zM678.6 196.5h.9v1.8h-.9zM680.6 196.5h.9v1.8h-.9zM695.6 196.5h.9v1.8h-.9zM697.6 196.5h.9v1.8h-.9zM706.6 196.5h.9v1.8h-.9zM708.6 196.5h.9v1.8h-.9zM723.6 196.5h.9v1.8h-.9zM758.6 196.5h.9v1.8h-.9zM759.6 196.5h.9v1.8h-.9zM766.6 196.5h.9v1.8h-.9zM685.6 197.5h.9v1.8h-.9zM710.6 197.5h.9v1.8h-.9zM726.6 197.5h.9v1.8h-.9zM745.6 197.5h.9v1.8h-.9zM758.6 197.5h.9v1.8h-.9zM773.6 197.5h.9v1.8h-.9zM679.6 198.5h.9v1.8h-.9zM697.6 198.5h.9v1.8h-.9zM709.6 198.5h.9v1.8h-.9zM748.6 198.5h.9v1.8h-.9zM774.6 198.5h.9v1.8h-.9zM679.6 199.5h.9v1.8h-.9zM694.6 199.5h.9v1.8h-.9zM730.6 199.5h.9v1.8h-.9zM767.6 199.5h.9v1.8h-.9zM703.6 200.5h.9v1.8h-.9zM736.6 200.5h.9v1.8h-.9zM683.6 201.5h.9v1.8h-.9zM689.6 201.5h.9v1.8h-.9zM690.6 201.5h.9v1.8h-.9zM704.6 201.5h.9v1.8h-.9zM759.6 201.5h.9v1.8h-.9zM709.6 202.5h.9v1.8h-.9zM737.6 202.5h.9v1.8h-.9zM741.6 202.5h.9v1.8h-.9zM764.6 202.5h.9v1.8h-.9zM696.6 203.5h.9v1.8h-.9zM697.6 203.5h.9v1.8h-.9zM746.6 203.5h.9v1.8h-.9zM762.6 203.5h.9v1.8h-.9zM678.6 204.5h.9v1.8h-.9zM718.6 204.5h.9v1.8h-.9zM733.6 204.5h.9v1.8h-.9zM739.6 204.5h.9v1.8h-.9zM682.6 206.5h.9v1.8h-.9zM728.6 206.5h.9v1.8h-.9zM685.6 207.5h.9v1.8h-.9zM706.6 207.5h.9v1.8h-.9zM710.6 207.5h.9v1.8h-.9zM739.6 207.5h.9v1.8h-.9zM753.6 207.5h.9v1.8h-.9zM692.6 208.5h.9v1.8h-.9zM768.6 208.5h.9v1.8h-.9zM705.6 209.5h.9v1.8h-.9zM678.6 210.5h.9v1.8h-.9zM703.6 210.5h.9v1.8h-.9zM721.6 210.5h.9v1.8h-.9zM735.6 211.5h.9v1.8h-.9zM679.6 212.5h.9v1.8h-.9zM689.6 212.5h.9v1.8h-.9zM698.6 212.5h.9v1.8h-.9zM700.6 212.5h.9v1.8h-.9zM706.6 212.5h.9v1.8h-.9zM730.6 212.5h.9v1.8h-.9zM697.6 213.5h.9v1.8h-.9zM770.6 213.5h.9v1.8h-.9zM710.6 214.5h.9v1.8h-.9zM740.6 215.5h.9v1.8h-.9zM772.6 215.5h.9v1.8h-.9zM774.6 216.5h.9v1.8h-.9z"/>
<path fill="#eea4a4" d="M681.6 127.5h.9v1.8h-.9zM683.6 127.5h.9v1.8h-.9zM684.6 127.5h.9v1.8h-.9zM694.6 127.5h.9v1.8h-.9zM704.6 127.5h.9v1.8h-.9zM714.6 127.5h.9v1.8h-.9zM717.6 127.5h.9v1.8h-.9zM735.6 127.5h.9v1.8h-.9zM774.6 127.5h.9v1.8h-.9zM690.6 128.5h.9v1.8h-.9zM698.6 128.5h.9v1.8h-.9zM699.6 128.5h.9v1.8h-.9zM714.6 128.5h.9v1.8h-.9zM729.6 128.5h.9v1.8h-.9zM742.6 128.5h.9v1.8h-.9zM744.6 128.5h.9v1.8h-.9zM752.6 128.5h.9v1.8h-.9zM754.6 128.5h.9v1.8h-.9zM757.6 128.5h.9v1.8h-.9zM759.6 128.5h.9v1.8h-.9zM760.6 128.5h.9v1.8h-.9zM766.6 128.5h.9v1.8h-.9zM774.6 128.5h.9v1.8h-.9zM688.6 129.5h.9v1.8h-.9zM704.6 129.5h.9v1.8h-.9zM705.6 129.5h.9v1.8h-.9zM714.6 129.5h.9v1.8h-.9zM720.6 129.5h.9v1.8h-.9zM728.6 129.5h.9v1.8h-.9zM729.6 129.5h.9v1.8h-.9zM734.6 129.5h.9v1.8h-.9zM736.6 129.5h.9v1.8h-.9zM749.6 129.5h.9v1.8h-.9zM760.6 129.5h.9v1.8h-.9zM692.6 130.5h.9v1.8h-.9zM695.6 130.5h.9v1.8h-.9zM704.6 130.5h.9v1.8h-.9zM708.6 130.5h.9v1.8h-.9zM714.6 130.5h.9v1.8h-.9zM717.6 130.5h.9v1.8h-.9zM730.6 130.5h.9v1.8h-.9zM731.6 130.5h.9v1.8h-.9zM732.6 130.5h.9v1.8h-.9zM743.6 130.5h.9v1.8h-.9zM746.6 130.5h.9v1.8h-.9zM752.6 130.5h.9v1.8h-.9zM758.6 130.5h.9v1.8h-.9zM762.6 130.5h.9v1.8h-.9zM699.6 131.5h.9v1.8h-.9zM700.6 131.5h.9v1.8h-.9zM721.6 131.5h.9v1.8h-.9zM722.6 131.5h.9v1.8h-.9zM737.6 131.5h.9v1.8h-.9zM748.6 131.5h.9v1.8h-.9zM749.6 131.5h.9v1.8h-.9zM759.6 131.5h.9v1.8h-.9zM760.6 131.5h.9v1.8h-.9zM762.6 131.5h.9v1.8h-.9zM774.6 131.5h.9v1.8h-.9zM680.6 132.5h.9v1.8h-.9zM684.6 132.5h.9v1.8h-.9zM687.6 132.5h.9v1.8h-.9zM698.6 132.5h.9v1.8h-.9zM706.6 132.5h.9v1.8h-.9zM709.6 132.5h.9v1.8h-.9zM721.6 132.5h.9v1.8h-.9zM722.6 132.5h.9v1.8h-.9zM723.6 132.5h.9v1.8h-.9zM726.6 132.5h.9v1.8h-.9zM731.6 132.5h.9v1.8h-.9zM754.6 132.5h.9v1.8h-.9zM678.6 133.5h.9v1.8h-.9zM704.6 133.5h.9v1.8h-.9zM709.6 133.5h.9v1.8h-.9zM717.6 133.5h.9v1.8h-.9zM725.6 133.5h.9v1.8h-.9zM736.6 133.5h.9v1.8h-.9zM739.6 133.5h.9v1.8h-.9zM742.6 133.5h.9v1.8h-.9zM747.6 133.5h.9v1.8h-.9zM752.6 133.5h.9v1.8h-.9zM758.6 133.5h.9v1.8h-.9zM678.6 134.5h.9v1.8h-.9zM680.6 134.5h.9v1.8h-.9zM693.6 134.5h.9v1.8h-.9zM703.6 134.5h.9v1.8h-.9zM712.6 134.5h.9v1.8h-.9zM716.6 134.5h.9v1.8h-.9zM720.6 134.5h.9v1.8h-.9zM722.6 134.5h.9v1.8h-.9zM735.6 134.5h.9v1.8h-.9zM745.6 134.5h.9v1.8h-.9zM753.6 134.5h.9v1.8h-.9zM774.6 134.5h.9v1.8h-.9zM679.6 135.5h.9v1.8h-.9zM684.6 135.5h.9v1.8h-.9zM707.6 135.5h.9v1.8h-.9zM712.6 135.5h.9v1.8h-.9zM721.6 135.5h.9v1.8h-.9zM728.6 135.5h.9v1.8h-.9zM732.6 135.5h.9v1.8h-.9zM734.6 135.5h.9v1.8h-.9zM739.6 135.5h.9v1.8h-.9zM740.6 135.5h.9v1.8h-.9zM742.6 135.5h.9v1.8h-.9zM744.6 135.5h.9v1.8h-.9zM754.6 135.5h.9v1.8h-.9zM768.6 135.5h.9v1.8h-.9zM680.6 136.5h.9v1.8h-.9zM684.6 136.5h.9v1.8h-.9zM696.6 136.5h.9v1.8h-.9zM711.6 136.5h.9v1.8h-.9zM712.6 136.5h.9v1.8h-.9zM721.6 136.5h.9v1.8h-.9zM739.6 136.5h.9v1.8h-.9zM763.6 136.5h.9v1.8h-.9zM768.6 136.5h.9v1.8h-.9zM688.6 137.5h.9v1.8h-.9zM715.6 137.5h.9v1.8h-.9zM739.6 137.5h.9v1.8h-.9zM744.6 137.5h.9v1.8h-.9zM759.6 137.5h.9v1.8h-.9zM765.6 137.5h.9v1.8h-.9zM772.6 137.5h.9v1.8h-.9zM683.6 138.5h.9v1.8h-.9zM690.6 138.5h.9v1.8h-.9zM694.6 138.5h.9v1.8h-.9zM696.6 138.5h.9v1.8h-.9zM705.6 138.5h.9v1.8h-.9zM715.6 138.5h.9v1.8h-.9zM718.6 138.5h.9v1.8h-.9zM720.6 138.5h.9v1.8h-.9zM721.6 138.5h.9v1.8h-.9zM736.6 138.5h.9v1.8h-.9zM740.6 138.5h.9v1.8h-.9zM741.6 138.5h.9v1.8h-.9zM746.6 138.5h.9v1.8h-.9zM748.6 138.5h.9v1.8h-.9zM752.6 138.5h.9v1.8h-.9zM764.6 138.5h.9v1.8h-.9zM773.6 138.5h.9v1.8h-.9zM678.6 139.5h.9v1.8h-.9zM683.6 139.5h.9v1.8h-.9zM684.6 139.5h.9v1.8h-.9zM687.6 139.5h.9v1.8h-.9zM688.6 139.5h.9v1.8h-.9zM696.6 139.5h.9v1.8h-.9zM708.6 139.5h.9v1.8h-.9zM709.6 139.5h.9v1.8h-.9zM710.6 139.5h.9v1.8h-.9zM716.6 139.5h.9v1.8h-.9zM720.6 139.5h.9v1.8h-.9zM721.6 139.5h.9v1.8h-.9zM725.6 139.5h.9v1.8h-.9zM728.6 139.5h.9v1.8h-.9zM732.6 139.5h.9v1.8h-.9zM741.6 139.5h.9v1.8h-.9zM743.6 139.5h.9v1.8h-.9zM759.6 139.5h.9v1.8h-.9zM762.6 139.5h.9v1.8h-.9zM772.6 139.5h.9v1.8h-.9zM773.6 139.5h.9v1.8h-.9zM682.6 140.5h.9v1.8h-.9zM690.6 140.5h.9v1.8h-.9zM691.6 140.5h.9v1.8h-.9zM693.6 140.5h.9v1.8h-.9zM700.6 140.5h.9v1.8h-.9zM706.6 140.5h.9v1.8h-.9zM710.6 140.5h.9v1.8h-.9zM713.6 140.5h.9v1.8h-.9zM717.6 140.5h.9v1.8h-.9zM720.6 140.5h.9v1.8h-.9zM722.6 140.5h.9v1.8h-.9zM731.6 140.5h.9v1.8h-.9zM741.6 140.5h.9v1.8h-.9zM743.6 140.5h.9v1.8h-.9zM752.6 140.5h.9v1.8h-.9zM678.6 141.5h.9v1.8h-.9zM679.6 141.5h.9v1.8h-.9zM680.6 141.5h.9v1.8h-.9zM681.6 141.5h.9v1.8h-.9zM682.6 141.5h.9v1.8h-.9zM684.6 141.5h.9v1.8h-.9zM692.6 141.5h.9v1.8h-.9zM695.6 141.5h.9v1.8h-.9zM703.6 141.5h.9v1.8h-.9zM704.6 141.5h.9v1.8h-.9zM710.6 141.5h.9v1.8h-.9zM714.6 141.5h.9v1.8h-.9zM717.6 141.5h.9v1.8h-.9zM720.6 141.5h.9v1.8h-.9zM726.6 141.5h.9v1.8h-.9zM741.6 141.5h.9v1.8h-.9zM753.6 141.5h.9v1.8h-.9zM754.6 141.5h.9v1.8h-.9zM755.6 141.5h.9v1.8h-.9zM758.6 141.5h.9v1.8h-.9zM762.6 141.5h.9v1.8h-.9zM763.6 141.5h.9v1.8h-.9zM766.6 141.5h.9v1.8h-.9zM683.6 142.5h.9v1.8h-.9zM726.6 142.5h.9v1.8h-.9zM737.6 142.5h.9v1.8h-.9zM763.6 142.5h.9v1.8h-.9zM684.6 143.5h.9v1.8h-.9zM694.6 143.5h.9v1.8h-.9zM712.6 143.5h.9v1.8h-.9zM717.6 143.5h.9v1.8h-.9zM720.6 143.5h.9v1.8h-.9zM759.6 143.5h.9v1.8h-.9zM692.6 144.5h.9v1.8h-.9zM702.6 144.5h.9v1.8h-.9zM707.6 144.5h.9v1.8h-.9zM772.6 144.5h.9v1.8h-.9zM680.6 145.5h.9v1.8h-.9zM746.6 145.5h.9v1.8h-.9zM747.6 145.5h.9v1.8h-.9zM751.6 145.5h.9v1.8h-.9zM763.6 145.5h.9v1.8h-.9zM678.6 146.5h.9v1.8h-.9zM689.6 146.5h.9v1.8h-.9zM746.6 147.5h.9v1.8h-.9zM684.6 148.5h.9v1.8h-.9zM701.6 148.5h.9v1.8h-.9zM714.6 148.5h.9v1.8h-.9zM762.6 148.5h.9v1.8h-.9zM766.6 148.5h.9v1.8h-.9zM700.6 149.5h.9v1.8h-.9zM709.6 149.5h.9v1.8h-.9zM720.6 149.5h.9v1.8h-.9zM732.6 149.5h.9v1.8h-.9zM744.6 149.5h.9v1.8h-.9zM746.6 149.5h.9v1.8h-.9zM712.6 150.5h.9v1.8h-.9zM720.6 150.5h.9v1.8h-.9zM767.6 150.5h.9v1.8h-.9zM696.6 157.5h.9v1.8h-.9zM763.6 157.5h.9v1.8h-.9zM765.6 157.5h.9v1.8h-.9zM696.6 159.5h.9v1.8h-.9zM737.6 162.5h.9v1.8h-.9zM762.6 162.5h.9v1.8h-.9zM687.6 163.5h.9v1.8h-.9zM699.6 163.5h.9v1.8h-.9zM716.6 163.5h.9v1.8h-.9zM723.6 163.5h.9v1.8h-.9zM740.6 163.5h.9v1.8h-.9zM759.6 163.5h.9v1.8h-.9zM690.6 164.5h.9v1.8h-.9zM692.6 164.5h.9v1.8h-.9zM744.6 164.5h.9v1.8h-.9zM751.6 164.5h.9v1.8h-.9zM763.6 164.5h.9v1.8h-.9zM768.6 164.5h.9v1.8h-.9zM709.6 165.5h.9v1.8h-.9zM714.6 165.5h.9v1.8h-.9zM755.6 165.5h.9v1.8h-.9zM756.6 165.5h.9v1.8h-.9zM759.6 165.5h.9v1.8h-.9zM761.6 165.5h.9v1.8h-.9zM697.6 166.5h.9v1.8h-.9zM715.6 166.5h.9v1.8h-.9zM727.6 166.5h.9v1.8h-.9zM738.6 166.5h.9v1.8h-.9zM745.6 166.5h.9v1.8h-.9zM754.6 166.5h.9v1.8h-.9zM764.6 166.5h.9v1.8h-.9zM687.6 167.5h.9v1.8h-.9zM702.6 167.5h.9v1.8h-.9zM705.6 167.5h.9v1.8h-.9zM719.6 167.5h.9v1.8h-.9zM721.6 167.5h.9v1.8h-.9zM759.6 167.5h.9v1.8h-.9zM695.6 168.5h.9v1.8h-.9zM700.6 168.5h.9v1.8h-.9zM712.6 168.5h.9v1.8h-.9zM733.6 168.5h.9v1.8h-.9zM743.6 168.5h.9v1.8h-.9zM745.6 168.5h.9v1.8h-.9zM757.6 168.5h.9v1.8h-.9zM681.6 169.5h.9v1.8h-.9zM685.6 169.5h.9v1.8h-.9zM686.6 169.5h.9v1.8h-.9zM689.6 169.5h.9v1.8h-.9zM698.6 169.5h.9v1.8h-.9zM702.6 169.5h.9v1.8h-.9zM711.6 169.5h.9v1.8h-.9zM717.6 169.5h.9v1.8h-.9zM731.6 169.5h.9v1.8h-.9zM749.6 169.5h.9v1.8h-.9zM757.6 169.5h.9v1.8h-.9zM763.6 169.5h.9v1.8h-.9zM766.6 169.5h.9v1.8h-.9zM678.6 170.5h.9v1.8h-.9zM682.6 170.5h.9v1.8h-.9zM698.6 170.5h.9v1.8h-.9zM716.6 170.5h.9v1.8h-.9zM758.6 170.5h.9v1.8h-.9zM764.6 170.5h.9v1.8h-.9zM769.6 170.5h.9v1.8h-.9zM707.6 171.5h.9v1.8h-.9zM722.6 171.5h.9v1.8h-.9zM729.6 171.5h.9v1.8h-.9zM732.6 171.5h.9v1.8h-.9zM740.6 171.5h.9v1.8h-.9zM758.6 171.5h.9v1.8h-.9zM683.6 172.5h.9v1.8h-.9zM711.6 172.5h.9v1.8h-.9zM716.6 172.5h.9v1.8h-.9zM719.6 172.5h.9v1.8h-.9zM723.6 172.5h.9v1.8h-.9zM734.6 172.5h.9v1.8h-.9zM747.6 172.5h.9v1.8h-.9zM760.6 172.5h.9v1.8h-.9zM761.6 172.5h.9v1.8h-.9zM765.6 172.5h.9v1.8h-.9zM691.6 173.5h.9v1.8h-.9zM693.6 173.5h.9v1.8h-.9zM697.6 173.5h.9v1.8h-.9zM714.6 173.5h.9v1.8h-.9zM722.6 173.5h.9v1.8h-.9zM728.6 173.5h.9v1.8h-.9zM730.6 173.5h.9v1.8h-.9zM758.6 173.5h.9v1.8h-.9zM706.6 174.5h.9v1.8h-.9zM710.6 174.5h.9v1.8h-.9zM719.6 174.5h.9v1.8h-.9zM752.6 174.5h.9v1.8h-.9zM769.6 174.5h.9v1.8h-.9zM687.6 175.5h.9v1.8h-.9zM721.6 175.5h.9v1.8h-.9zM734.6 175.5h.9v1.8h-.9zM745.6 175.5h.9v1.8h-.9zM759.6 175.5h.9v1.8h-.9zM762.6 175.5h.9v1.8h-.9zM763.6 175.5h.9v1.8h-.9zM770.6 175.5h.9v1.8h-.9zM686.6 176.5h.9v1.8h-.9zM705.6 176.5h.9v1.8h-.9zM719.6 176.5h.9v1.8h-.9zM738.6 176.5h.9v1.8h-.9zM742.6 176.5h.9v1.8h-.9zM750.6 176.5h.9v1.8h-.9zM679.6 177.5h.9v1.8h-.9zM681.6 177.5h.9v1.8h-.9zM691.6 177.5h.9v1.8h-.9zM699.6 177.5h.9v1.8h-.9zM707.6 177.5h.9v1.8h-.9zM723.6 177.5h.9v1.8h-.9zM730.6 177.5h.9v1.8h-.9zM737.6 177.5h.9v1.8h-.9zM739.6 177.5h.9v1.8h-.9zM742.6 177.5h.9v1.8h-.9zM745.6 177.5h.9v1.8h-.9zM749.6 177.5h.9v1.8h-.9zM752.6 177.5h.9v1.8h-.9zM763.6 177.5h.9v1.8h-.9zM773.6 177.5h.9v1.8h-.9zM687.6 178.5h.9v1.8h-.9zM716.6 178.5h.9v1.8h-.9zM738.6 178.5h.9v1.8h-.9zM678.6 179.5h.9v1.8h-.9zM694.6 179.5h.9v1.8h-.9zM697.6 179.5h.9v1.8h-.9zM698.6 179.5h.9v1.8h-.9zM702.6 179.5h.9v1.8h-.9zM703.6 179.5h.9v1.8h-.9zM715.6 179.5h.9v1.8h-.9zM755.6 179.5h.9v1.8h-.9zM687.6 180.5h.9v1.8h-.9zM690.6 180.5h.9v1.8h-.9zM703.6 180.5h.9v1.8h-.9zM718.6 180.5h.9v1.8h-.9zM755.6 180.5h.9v1.8h-.9zM756.6 180.5h.9v1.8h-.9zM767.6 180.5h.9v1.8h-.9zM768.6 180.5h.9v1.8h-.9zM680.6 181.5h.9v1.8h-.9zM689.6 181.5h.9v1.8h-.9zM718.6 181.5h.9v1.8h-.9zM722.6 181.5h.9v1.8h-.9zM738.6 181.5h.9v1.8h-.9zM744.6 181.5h.9v1.8h-.9zM745.6 181.5h.9v1.8h-.9zM747.6 181.5h.9v1.8h-.9zM770.6 181.5h.9v1.8h-.9zM678.6 182.5h.9v1.8h-.9zM715.6 182.5h.9v1.8h-.9zM753.6 182.5h.9v1.8h-.9zM763.6 182.5h.9v1.8h-.9zM721.6 183.5h.9v1.8h-.9zM750.6 183.5h.9v1.8h-.9zM693.6 184.5h.9v1.8h-.9zM735.6 184.5h.9v1.8h-.9zM736.6 184.5h.9v1.8h-.9zM750.6 184.5h.9v1.8h-.9zM757.6 184.5h.9v1.8h-.9zM689.6 185.5h.9v1.8h-.9zM692.6 185.5h.9v1.8h-.9zM740.6 185.5h.9v1.8h-.9zM768.6 185.5h.9v1.8h-.9zM717.6 186.5h.9v1.8h-.9zM740.6 186.5h.9v1.8h-.9zM759.6 186.5h.9v1.8h-.9zM763.6 186.5h.9v1.8h-.9zM723.6 187.5h.9v1.8h-.9zM686.6 188.5h.9v1.8h-.9zM692.6 188.5h.9v1.8h-.9zM723.6 188.5h.9v1.8h-.9zM742.6 188.5h.9v1.8h-.9zM749.6 188.5h.9v1.8h-.9zM689.6 189.5h.9v1.8h-.9zM698.6 189.5h.9v1.8h-.9zM744.6 189.5h.9v1.8h-.9zM692.6 191.5h.9v1.8h-.9zM699.6 191.5h.9v1.8h-.9zM710.6 191.5h.9v1.8h-.9zM744.6 191.5h.9v1.8h-.9zM771.6 191.5h.9v1.8h-.9zM774.6 191.5h.9v1.8h-.9zM716.6 192.5h.9v1.8h-.9zM769.6 192.5h.9v1.8h-.9zM771.6 192.5h.9v1.8h-.9zM678.6 193.5h.9v1.8h-.9zM682.6 193.5h.9v1.8h-.9zM736.6 193.5h.9v1.8h-.9zM678.6 194.5h.9v1.8h-.9zM683.6 194.5h.9v1.8h-.9zM686.6 194.5h.9v1.8h-.9zM737.6 194.5h.9v1.8h-.9zM747.6 194.5h.9v1.8h-.9zM692.6 195.5h.9v1.8h-.9zM714.6 195.5h.9v1.8h-.9zM721.6 195.5h.9v1.8h-.9zM742.6 195.5h.9v1.8h-.9zM769.6 195.5h.9v1.8h-.9zM689.6 196.5h.9v1.8h-.9zM724.6 196.5h.9v1.8h-.9zM737.6 196.5h.9v1.8h-.9zM767.6 196.5h.9v1.8h-.9zM684.6 197.5h.9v1.8h-.9zM744.6 197.5h.9v1.8h-.9zM767.6 197.5h.9v1.8h-.9zM682.6 198.5h.9v1.8h-.9zM687.6 198.5h.9v1.8h-.9zM690.6 198.5h.9v1.8h-.9zM741.6 200.5h.9v1.8h-.9zM748.6 202.5h.9v1.8h-.9zM737.6 203.5h.9v1.8h-.9zM748.6 203.5h.9v1.8h-.9zM697.6 204.5h.9v1.8h-.9zM699.6 204.5h.9v1.8h-.9zM765.6 204.5h.9v1.8h-.9zM698.6 206.5h.9v1.8h-.9zM717.6 207.5h.9v1.8h-.9zM761.6 207.5h.9v1.8h-.9zM753.6 210.5h.9v1.8h-.9zM702.6 212.5h.9v1.8h-.9zM731.6 212.5h.9v1.8h-.9zM685.6 213.5h.9v1.8h-.9zM721.6 214.5h.9v1.8h-.9zM743.6 214.5h.9v1.8h-.9z"/>
<path fill="#e48686" d="M703.6 127.5h.9v1.8h-.9zM705.6 127.5h.9v1.8h-.9zM733.6 127.5h.9v1.8h-.9zM773.6 127.5h.9v1.8h-.9zM693.6 128.5h.9v1.8h-.9zM697.6 128.5h.9v1.8h-.9zM716.6 128.5h.9v1.8h-.9zM679.6 129.5h.9v1.8h-.9zM725.6 129.5h.9v1.8h-.9zM743.6 129.5h.9v1.8h-.9zM705.6 130.5h.9v1.8h-.9zM715.6 130.5h.9v1.8h-.9zM733.6 130.5h.9v1.8h-.9zM684.6 131.5h.9v1.8h-.9zM732.6 131.5h.9v1.8h-.9zM704.6 132.5h.9v1.8h-.9zM773.6 132.5h.9v1.8h-.9zM683.6 133.5h.9v1.8h-.9zM685.6 133.5h.9v1.8h-.9zM710.6 133.5h.9v1.8h-.9zM757.6 133.5h.9v1.8h-.9zM694.6 134.5h.9v1.8h-.9zM734.6 134.5h.9v1.8h-.9zM680.6 135.5h.9v1.8h-.9zM682.6 135.5h.9v1.8h-.9zM690.6 135.5h.9v1.8h-.9zM691.6 135.5h.9v1.8h-.9zM692.6 135.5h.9v1.8h-.9zM693.6 135.5h.9v1.8h-.9zM694.6 135.5h.9v1.8h-.9zM696.6 135.5h.9v1.8h-.9zM697.6 135.5h.9v1.8h-.9zM698.6 135.5h.9v1.8h-.9zM699.6 135.5h.9v1.8h-.9zM703.6 135.5h.9v1.8h-.9zM716.6 135.5h.9v1.8h-.9zM719.6 135.5h.9v1.8h-.9zM720.6 135.5h.9v1.8h-.9zM724.6 135.5h.9v1.8h-.9zM731.6 135.5h.9v1.8h-.9zM745.6 135.5h.9v1.8h-.9zM747.6 135.5h.9v1.8h-.9zM748.6 135.5h.9v1.8h-.9zM750.6 135.5h.9v1.8h-.9zM752.6 135.5h.9v1.8h-.9zM755.6 135.5h.9v1.8h-.9zM758.6 135.5h.9v1.8h-.9zM759.6 135.5h.9v1.8h-.9zM763.6 135.5h.9v1.8h-.9zM766.6 135.5h.9v1.8h-.9zM682.6 136.5h.9v1.8h-.9zM687.6 136.5h.9v1.8h-.9zM701.6 136.5h.9v1.8h-.9zM706.6 136.5h.9v1.8h-.9zM714.6 136.5h.9v1.8h-.9zM715.6 136.5h.9v1.8h-.9zM718.6 136.5h.9v1.8h-.9zM719.6 136.5h.9v1.8h-.9zM723.6 136.5h.9v1.8h-.9zM732.6 136.5h.9v1.8h-.9zM734.6 136.5h.9v1.8h-.9zM737.6 136.5h.9v1.8h-.9zM740.6 136.5h.9v1.8h-.9zM741.6 136.5h.9v1.8h-.9zM755.6 136.5h.9v1.8h-.9zM757.6 136.5h.9v1.8h-.9zM758.6 136.5h.9v1.8h-.9zM759.6 136.5h.9v1.8h-.9zM762.6 136.5h.9v1.8h-.9zM767.6 136.5h.9v1.8h-.9zM772.6 136.5h.9v1.8h-.9zM709.6 137.5h.9v1.8h-.9zM728.6 137.5h.9v1.8h-.9zM755.6 137.5h.9v1.8h-.9zM756.6 137.5h.9v1.8h-.9zM692.6 139.5h.9v1.8h-.9zM693.6 139.5h.9v1.8h-.9zM699.6 139.5h.9v1.8h-.9zM700.6 139.5h.9v1.8h-.9zM717.6 139.5h.9v1.8h-.9zM718.6 139.5h.9v1.8h-.9zM719.6 139.5h.9v1.8h-.9zM723.6 139.5h.9v1.8h-.9zM733.6 139.5h.9v1.8h-.9zM744.6 139.5h.9v1.8h-.9zM748.6 139.5h.9v1.8h-.9zM756.6 139.5h.9v1.8h-.9zM757.6 139.5h.9v1.8h-.9zM763.6 139.5h.9v1.8h-.9zM766.6 139.5h.9v1.8h-.9zM684.6 140.5h.9v1.8h-.9zM708.6 140.5h.9v1.8h-.9zM711.6 140.5h.9v1.8h-.9zM712.6 140.5h.9v1.8h-.9zM736.6 140.5h.9v1.8h-.9zM739.6 140.5h.9v1.8h-.9zM747.6 140.5h.9v1.8h-.9zM750.6 140.5h.9v1.8h-.9zM751.6 140.5h.9v1.8h-.9zM754.6 140.5h.9v1.8h-.9zM756.6 140.5h.9v1.8h-.9zM767.6 140.5h.9v1.8h-.9zM769.6 140.5h.9v1.8h-.9zM696.6 141.5h.9v1.8h-.9zM706.6 141.5h.9v1.8h-.9zM707.6 141.5h.9v1.8h-.9zM711.6 141.5h.9v1.8h-.9zM718.6 141.5h.9v1.8h-.9zM721.6 141.5h.9v1.8h-.9zM728.6 141.5h.9v1.8h-.9zM729.6 141.5h.9v1.8h-.9zM732.6 141.5h.9v1.8h-.9zM740.6 141.5h.9v1.8h-.9zM749.6 141.5h.9v1.8h-.9zM751.6 141.5h.9v1.8h-.9zM752.6 141.5h.9v1.8h-.9zM761.6 141.5h.9v1.8h-.9zM678.6 142.5h.9v1.8h-.9zM706.6 142.5h.9v1.8h-.9zM754.6 142.5h.9v1.8h-.9zM686.6 145.5h.9v1.8h-.9zM743.6 153.5h.9v1.8h-.9zM707.6 162.5h.9v1.8h-.9zM722.6 162.5h.9v1.8h-.9zM742.6 162.5h.9v1.8h-.9zM694.6 163.5h.9v1.8h-.9zM697.6 163.5h.9v1.8h-.9zM712.6 164.5h.9v1.8h-.9zM739.6 164.5h.9v1.8h-.9zM770.6 166.5h.9v1.8h-.9zM691.6 167.5h.9v1.8h-.9zM707.6 167.5h.9v1.8h-.9zM743.6 167.5h.9v1.8h-.9zM767.6 167.5h.9v1.8h-.9zM734.6 168.5h.9v1.8h-.9zM680.6 169.5h.9v1.8h-.9zM715.6 170.5h.9v1.8h-.9zM756.6 172.5h.9v1.8h-.9zM759.6 172.5h.9v1.8h-.9zM686.6 173.5h.9v1.8h-.9zM705.6 173.5h.9v1.8h-.9zM687.6 174.5h.9v1.8h-.9zM734.6 174.5h.9v1.8h-.9zM678.6 175.5h.9v1.8h-.9zM700.6 176.5h.9v1.8h-.9zM769.6 176.5h.9v1.8h-.9zM698.6 177.5h.9v1.8h-.9zM756.6 177.5h.9v1.8h-.9zM691.6 178.5h.9v1.8h-.9zM739.6 178.5h.9v1.8h-.9zM688.6 179.5h.9v1.8h-.9zM679.6 180.5h.9v1.8h-.9zM680.6 180.5h.9v1.8h-.9zM721.6 180.5h.9v1.8h-.9zM748.6 180.5h.9v1.8h-.9zM678.6 181.5h.9v1.8h-.9zM736.6 181.5h.9v1.8h-.9zM751.6 181.5h.9v1.8h-.9zM753.6 181.5h.9v1.8h-.9zM693.6 182.5h.9v1.8h-.9zM742.6 182.5h.9v1.8h-.9zM702.6 183.5h.9v1.8h-.9zM755.6 183.5h.9v1.8h-.9zM762.6 183.5h.9v1.8h-.9zM709.6 184.5h.9v1.8h-.9zM699.6 186.5h.9v1.8h-.9zM744.6 186.5h.9v1.8h-.9zM718.6 187.5h.9v1.8h-.9zM739.6 187.5h.9v1.8h-.9zM718.6 189.5h.9v1.8h-.9zM722.6 190.5h.9v1.8h-.9zM712.6 192.5h.9v1.8h-.9zM750.6 192.5h.9v1.8h-.9zM691.6 194.5h.9v1.8h-.9zM738.6 194.5h.9v1.8h-.9zM763.6 194.5h.9v1.8h-.9zM720.6 196.5h.9v1.8h-.9z"/>
<path fill="#cc5c5c" d="M678.6 135.5h.9v1.8h-.9zM681.6 135.5h.9v1.8h-.9zM683.6 135.5h.9v1.8h-.9zM702.6 135.5h.9v1.8h-.9zM709.6 135.5h.9v1.8h-.9zM710.6 135.5h.9v1.8h-.9zM723.6 135.5h.9v1.8h-.9zM726.6 135.5h.9v1.8h-.9zM727.6 135.5h.9v1.8h-.9zM729.6 135.5h.9v1.8h-.9zM733.6 135.5h.9v1.8h-.9zM749.6 135.5h.9v1.8h-.9zM756.6 135.5h.9v1.8h-.9zM757.6 135.5h.9v1.8h-.9zM760.6 135.5h.9v1.8h-.9zM767.6 135.5h.9v1.8h-.9zM770.6 135.5h.9v1.8h-.9zM772.6 135.5h.9v1.8h-.9zM773.6 135.5h.9v1.8h-.9zM678.6 136.5h.9v1.8h-.9zM679.6 136.5h.9v1.8h-.9zM681.6 136.5h.9v1.8h-.9zM690.6 136.5h.9v1.8h-.9zM691.6 136.5h.9v1.8h-.9zM692.6 136.5h.9v1.8h-.9zM693.6 136.5h.9v1.8h-.9zM702.6 136.5h.9v1.8h-.9zM704.6 136.5h.9v1.8h-.9zM708.6 136.5h.9v1.8h-.9zM709.6 136.5h.9v1.8h-.9zM710.6 136.5h.9v1.8h-.9zM720.6 136.5h.9v1.8h-.9zM725.6 136.5h.9v1.8h-.9zM728.6 136.5h.9v1.8h-.9zM731.6 136.5h.9v1.8h-.9zM738.6 136.5h.9v1.8h-.9zM743.6 136.5h.9v1.8h-.9zM744.6 136.5h.9v1.8h-.9zM745.6 136.5h.9v1.8h-.9zM747.6 136.5h.9v1.8h-.9zM761.6 136.5h.9v1.8h-.9zM765.6 136.5h.9v1.8h-.9zM769.6 136.5h.9v1.8h-.9zM694.6 137.5h.9v1.8h-.9zM746.6 137.5h.9v1.8h-.9zM706.6 139.5h.9v1.8h-.9zM715.6 139.5h.9v1.8h-.9zM753.6 139.5h.9v1.8h-.9zM678.6 140.5h.9v1.8h-.9zM680.6 140.5h.9v1.8h-.9zM749.6 140.5h.9v1.8h-.9zM773.6 140.5h.9v1.8h-.9zM686.6 141.5h.9v1.8h-.9zM735.6 141.5h.9v1.8h-.9zM746.6 141.5h.9v1.8h-.9zM765.6 141.5h.9v1.8h-.9zM721.6 174.5h.9v1.8h-.9zM768.6 179.5h.9v1.8h-.9zM712.6 214.5h.9v1.8h-.9z"/>
</g>
<path d="M212.2 249.6v2M184.6 291.8v2M236.5 325.5v2M184.6 252.4v2M244.4 297.4v2M231.8 260.8v2M214.1 252.4v2M172.8 291.8v2M197.2 252.4v2M177.5 297.4v2M203.4 272.1v2M172.4 249.6v2M199.2 263.7v2M175.5 255.2v2M196.9 305.8v2M250.6 260.8v2M190.2 258.0v2M243.5 258.0v2M190.2 314.2v2M190.2 255.2v2M199.2 252.4v2M199.2 258.0v2M251.3 303.0v2M199.2 249.6v2M175.5 263.7v2M189.1 311.4v2M236.5 258.0v2M212.2 249.6v2M199.2 263.7v2M214.1 322.7v2M175.5 283.3v2M212.8 263.7v2M261.6 317.0v2M190.2 252.4v2M175.5 252.4v2M214.1 260.8v2M250.6 263.7v2M189.2 260.8v2M189.2 263.7v2M201.2 260.8v2M212.2 294.6v2M214.1 288.9v2M196.1 258.0v2M207.8 283.3v2M251.3 311.4v2M259.0 249.6v2M237.2 297.4v2M196.9 252.4v2M186.9 331.1v2M175.5 300.2v2M197.2 331.1v2M222.9 255.2v2M241.3 297.4v2M172.4 272.1v2M230.0 258.0v2M250.6 255.2v2M214.1 263.7v2M253.5 249.6v2M224.2 249.6v2M227.2 252.4v2M199.2 258.0v2M232.4 325.5v2M183.6 308.6v2M184.6 252.4v2M185.3 263.7v2M237.2 291.8v2M199.2 325.5v2M197.2 258.0v2M194.2 252.4v2M184.6 291.8v2M251.3 288.9v2M197.2 255.2v2M231.5 258.0v2M264.0 263.7v2M187.8 258.0v2M189.2 255.2v2M172.4 252.4v2M182.0 260.8v2M215.2 331.1v2M225.6 255.2v2M198.3 249.6v2M212.2 255.2v2M185.3 258.0v2M175.5 249.6v2M227.0 308.6v2M212.2 317.0v2M189.2 255.2v2M214.1 294.6v2M197.8 269.3v2M255.3 249.6v2M251.3 286.1v2M236.5 331.1v2M212.2 325.5v2M243.9 283.3v2M237.2 255.2v2M199.2 263.7v2M184.6 305.8v2M199.2 283.3v2M209.1 325.5v2M174.2 331.1v2" stroke="#858585" stroke-width="0.9" fill="none"/>
<path d="M324.8 266.5v2M359.4 255.2v2M298.8 311.4v2M378.9 314.2v2M311.5 317.0v2M304.7 328.3v2M340.4 311.4v2M368.6 258.0v2M357.0 272.1v2M342.2 255.2v2M344.1 249.6v2M376.7 300.2v2M346.1 260.8v2M311.5 266.5v2M318.5 249.6v2M331.5 300.2v2M314.4 286.1v2M309.0 258.0v2M304.7 255.2v2M378.4 331.1v2M328.8 277.7v2M336.0 260.8v2M360.7 286.1v2M363.0 305.8v2M298.8 252.4v2M363.0 297.4v2M368.5 263.7v2M298.8 311.4v2M368.5 255.2v2M333.0 297.4v2M304.7 258.0v2M363.1 283.3v2M347.8 319.9v2M324.8 249.6v2M368.6 255.2v2M299.8 328.3v2M342.8 255.2v2M340.4 260.8v2M324.8 314.2v2M355.2 311.4v2M378.9 317.0v2M368.6 303.0v2M304.7 252.4v2M342.8 260.8v2M354.0 260.8v2M311.5 249.6v2M368.6 258.0v2M318.5 249.6v2M325.7 277.7v2M328.1 291.8v2M351.2 311.4v2M348.3 249.6v2M382.7 303.0v2M298.8 331.1v2M311.5 274.9v2M311.5 260.8v2M342.8 331.1v2M368.5 260.8v2M311.5 263.7v2M312.4 322.7v2M363.0 260.8v2M368.6 294.6v2M369.9 252.4v2M374.3 331.1v2M342.8 300.2v2M387.4 249.6v2M328.8 255.2v2M318.5 252.4v2M324.8 300.2v2M346.3 314.2v2M310.1 269.3v2M355.2 311.4v2M368.6 258.0v2M324.8 255.2v2M370.5 260.8v2M315.6 255.2v2M356.1 311.4v2M357.2 260.8v2M368.5 300.2v2M368.5 258.0v2M344.9 252.4v2M368.5 297.4v2M318.5 317.0v2M340.4 325.5v2M368.6 258.0v2M315.1 308.6v2M351.9 263.7v2M343.8 286.1v2M342.8 252.4v2M364.9 288.9v2M368.5 319.9v2M361.9 255.2v2M320.2 331.1v2M311.5 263.7v2M368.5 255.2v2M328.8 263.7v2M328.8 260.8v2M311.0 288.9v2M315.2 272.1v2M298.8 252.4v2" stroke="#858585" stroke-width="0.9" fill="none"/>
<path d="M485.7 252.4v2M506.5 317.0v2M485.7 291.8v2M497.4 263.7v2M465.5 255.2v2M504.8 258.0v2M504.8 305.8v2M474.8 263.7v2M448.2 258.0v2M482.5 249.6v2M471.7 317.0v2M471.7 269.3v2M480.3 258.0v2M462.0 263.7v2M515.8 258.0v2M514.8 260.8v2M508.3 263.7v2M488.6 308.6v2M471.7 328.3v2M488.6 288.9v2M515.8 249.6v2M463.8 328.3v2M463.8 249.6v2M512.1 258.0v2M504.8 258.0v2M441.8 291.8v2M504.8 258.0v2M505.3 252.4v2M482.5 252.4v2M506.5 283.3v2M465.5 274.9v2M474.3 260.8v2M429.1 297.4v2M474.8 269.3v2M514.1 297.4v2M504.8 328.3v2M488.6 258.0v2M444.4 260.8v2M494.4 277.7v2M471.7 269.3v2M501.3 305.8v2M466.9 252.4v2M474.8 311.4v2M438.8 252.4v2M485.7 283.3v2M488.6 263.7v2M474.3 283.3v2M513.3 263.7v2M465.5 258.0v2M464.1 263.7v2M504.8 280.5v2M474.3 249.6v2M496.7 331.1v2M463.8 263.7v2M447.6 311.4v2M515.8 255.2v2M461.1 300.2v2M465.5 283.3v2M504.8 249.6v2M442.0 325.5v2M429.1 252.4v2M516.1 249.6v2M485.7 255.2v2M444.4 311.4v2M499.2 266.5v2M492.6 328.3v2M465.5 255.2v2M471.7 322.7v2M488.6 305.8v2M504.8 252.4v2M429.1 322.7v2M450.4 274.9v2M479.4 255.2v2M505.3 249.6v2M504.8 291.8v2M429.1 260.8v2M429.8 255.2v2M514.6 258.0v2M444.1 252.4v2M428.0 255.2v2M482.5 260.8v2M473.6 274.9v2M474.8 255.2v2M464.0 260.8v2M439.3 255.2v2M430.5 286.1v2M504.8 297.4v2M440.3 280.5v2M477.2 260.8v2M491.9 255.2v2M444.1 303.0v2M512.6 252.4v2M485.7 297.4v2M497.7 274.9v2M485.7 263.7v2M474.8 283.3v2M505.3 274.9v2M485.7 258.0v2M429.1 331.1v2M444.4 258.0v2" stroke="#858585" stroke-width="0.9" fill="none"/>
<path d="M604.7 255.2v2M608.7 263.7v2M608.2 288.9v2M565.9 258.0v2M645.1 280.5v2M611.7 258.0v2M631.2 252.4v2M608.7 260.8v2M625.0 252.4v2M631.2 314.2v2M631.2 328.3v2M555.8 319.9v2M644.6 252.4v2M631.2 311.4v2M579.3 322.7v2M645.1 255.2v2M626.8 305.8v2M608.7 288.9v2M561.3 260.8v2M636.4 269.3v2M601.2 272.1v2M608.2 252.4v2M620.2 311.4v2M561.3 317.0v2M592.1 314.2v2M572.7 280.5v2M629.9 255.2v2M645.1 255.2v2M609.8 331.1v2M620.2 263.7v2M625.0 294.6v2M631.2 291.8v2M563.8 252.4v2M579.3 331.1v2M620.2 291.8v2M631.2 260.8v2M604.7 272.1v2M604.7 274.9v2M568.1 252.4v2M608.2 319.9v2M620.2 260.8v2M563.8 328.3v2M557.4 311.4v2M620.2 258.0v2M636.4 263.7v2M631.2 272.1v2M620.2 300.2v2M625.0 255.2v2M629.9 252.4v2M631.2 311.4v2M625.4 263.7v2M629.9 258.0v2M645.1 260.8v2M608.7 260.8v2M572.7 266.5v2M642.5 252.4v2M591.9 303.0v2M576.1 260.8v2M609.8 328.3v2M584.9 255.2v2M609.8 322.7v2M643.8 258.0v2M628.2 263.7v2M561.8 263.7v2M572.7 294.6v2M625.4 249.6v2M584.9 291.8v2M561.3 280.5v2M572.7 263.7v2M561.3 258.0v2M620.2 325.5v2M608.7 249.6v2M603.4 305.8v2M584.9 252.4v2M609.8 255.2v2M573.7 258.0v2M561.3 269.3v2M645.8 249.6v2M563.8 258.0v2M645.1 258.0v2M563.8 314.2v2M631.2 325.5v2M618.8 325.5v2M561.8 286.1v2M562.8 283.3v2M570.1 308.6v2M561.8 249.6v2M572.4 277.7v2M584.9 272.1v2M636.4 260.8v2M572.7 260.8v2M584.9 272.1v2M620.2 317.0v2M615.9 263.7v2M643.3 283.3v2M629.9 252.4v2M607.0 252.4v2M563.8 255.2v2M609.8 255.2v2M561.0 255.2v2" stroke="#858585" stroke-width="0.9" fill="none"/>
<path d="M699.1 255.2v2M686.4 288.9v2M692.6 314.2v2M724.9 314.2v2M742.8 288.9v2M756.8 294.6v2M706.9 263.7v2M759.4 258.0v2M771.6 263.7v2M747.0 319.9v2M752.9 249.6v2M692.9 249.6v2M767.8 314.2v2M742.8 303.0v2M748.7 258.0v2M756.8 294.6v2M771.6 317.0v2M715.9 252.4v2M744.9 291.8v2M686.8 258.0v2M756.8 263.7v2M706.5 314.2v2M742.0 317.0v2M694.2 283.3v2M756.8 272.1v2M717.0 249.6v2M686.8 255.2v2M711.0 305.8v2M686.8 325.5v2M688.0 297.4v2M717.0 263.7v2M756.8 263.7v2M711.0 260.8v2M756.8 294.6v2M742.8 255.2v2M717.0 249.6v2M771.6 294.6v2M694.8 260.8v2M717.0 286.1v2M717.0 255.2v2M756.8 274.9v2M772.7 260.8v2M688.0 314.2v2M694.8 252.4v2M686.4 249.6v2M699.7 283.3v2M756.8 274.9v2M742.8 311.4v2M681.0 260.8v2M771.6 252.4v2M737.2 260.8v2M688.0 252.4v2M709.5 283.3v2M692.4 263.7v2M727.8 286.1v2M702.4 331.1v2M686.8 280.5v2M756.8 314.2v2M686.4 286.1v2M688.0 255.2v2M744.9 260.8v2M692.4 286.1v2M755.2 272.1v2M694.2 283.3v2M759.7 255.2v2M728.8 263.7v2M729.1 266.5v2M770.1 305.8v2M756.8 331.1v2M697.7 331.1v2M744.9 303.0v2M720.4 314.2v2M691.7 291.8v2M694.8 317.0v2M771.6 263.7v2M706.1 331.1v2M715.1 311.4v2M722.2 280.5v2M742.8 325.5v2M724.9 317.0v2M717.0 255.2v2M711.6 258.0v2M686.8 249.6v2M724.9 303.0v2M730.7 331.1v2M694.2 263.7v2M742.8 249.6v2M688.0 291.8v2M715.5 263.7v2M701.0 331.1v2M692.4 300.2v2M742.8 263.7v2M748.4 322.7v2M756.8 311.4v2M756.8 291.8v2M717.9 317.0v2M716.5 255.2v2M770.1 263.7v2M760.2 269.3v2M696.0 328.3v2" stroke="#858585" stroke-width="0.9" fill="none"/>
<g>
<circle cx="174.6" cy="376.4" r="1.25" fill="#e05050" opacity="0.85"/>
<circle cx="230.6" cy="360.4" r="1.25" fill="#c09090" opacity="0.85"/>
<circle cx="239.6" cy="369.4" r="1.25" fill="#c08080" opacity="0.85"/>
<circle cx="220.6" cy="391.2" r="1.25" fill="#e05858" opacity="0.85"/>
<circle cx="258.2" cy="405.2" r="1.25" fill="#e09090" opacity="0.85"/>
<circle cx="205.0" cy="428.0" r="1.25" fill="#406060" opacity="0.85"/>
<circle cx="218.6" cy="417.6" r="1.25" fill="#f0c0c0" opacity="0.85"/>
<circle cx="172.2" cy="418.6" r="1.25" fill="#f0c8c8" opacity="0.85"/>
<circle cx="316.2" cy="369.3" r="1.25" fill="#e05050" opacity="0.85"/>
<circle cx="368.6" cy="375.3" r="1.25" fill="#e04848" opacity="0.85"/>
<circle cx="318.1" cy="389.9" r="1.25" fill="#d83838" opacity="0.85"/>
<circle cx="313.3" cy="393.1" r="1.25" fill="#f0b0b0" opacity="0.85"/>
<circle cx="330.2" cy="401.7" r="1.25" fill="#e05050" opacity="0.85"/>
<circle cx="315.2" cy="406.4" r="1.25" fill="#e04848" opacity="0.85"/>
<circle cx="321.6" cy="424.8" r="1.25" fill="#e07070" opacity="0.85"/>
<circle cx="296.5" cy="437.2" r="1.25" fill="#e06060" opacity="0.85"/>
<circle cx="339.0" cy="377.9" r="1.25" fill="#f0c8c8" opacity="0.85"/>
<circle cx="336.5" cy="427.0" r="1.25" fill="#f0c0c0" opacity="0.85"/>
<circle cx="454.5" cy="354.6" r="1.25" fill="#b82020" opacity="0.85"/>
<circle cx="458.2" cy="380.6" r="1.25" fill="#e06060" opacity="0.85"/>
<circle cx="459.1" cy="415.1" r="1.25" fill="#d83030" opacity="0.85"/>
<circle cx="427.9" cy="413.2" r="1.25" fill="#f0b0b0" opacity="0.85"/>
<circle cx="481.5" cy="403.9" r="1.25" fill="#f0c8c8" opacity="0.85"/>
<circle cx="569.9" cy="373.6" r="1.25" fill="#b0a0a0" opacity="0.85"/>
<circle cx="622.5" cy="390.9" r="1.25" fill="#e04040" opacity="0.85"/>
<circle cx="631.4" cy="414.1" r="1.25" fill="#e04040" opacity="0.85"/>
<circle cx="552.7" cy="417.9" r="1.25" fill="#e07070" opacity="0.85"/>
<circle cx="558.3" cy="430.0" r="1.25" fill="#f0b0b0" opacity="0.85"/>
<circle cx="581.6" cy="433.7" r="1.25" fill="#e05050" opacity="0.85"/>
<circle cx="628.6" cy="399.2" r="1.25" fill="#f0b8b8" opacity="0.85"/>
<circle cx="755.0" cy="369.6" r="1.25" fill="#d83838" opacity="0.85"/>
<circle cx="752.6" cy="387.8" r="1.25" fill="#e05050" opacity="0.85"/>
<circle cx="738.0" cy="400.5" r="1.25" fill="#906060" opacity="0.85"/>
<circle cx="729.3" cy="405.3" r="1.25" fill="#d83838" opacity="0.85"/>
<circle cx="752.3" cy="408.7" r="1.25" fill="#e06060" opacity="0.85"/>
<circle cx="715.9" cy="410.9" r="1.25" fill="#d0a0a0" opacity="0.85"/>
<circle cx="718.6" cy="418.8" r="1.25" fill="#e05050" opacity="0.85"/>
<circle cx="691.2" cy="417.8" r="1.25" fill="#e04848" opacity="0.85"/>
<circle cx="720.8" cy="429.3" r="1.25" fill="#d83838" opacity="0.85"/>
<circle cx="756.4" cy="437.4" r="1.25" fill="#d84040" opacity="0.85"/>
<circle cx="725.9" cy="364.8" r="1.25" fill="#c8c0c0" opacity="0.85"/>
<circle cx="682.4" cy="371.2" r="1.25" fill="#e8d8d8" opacity="0.85"/>
<circle cx="767.4" cy="419.0" r="1.25" fill="#e0d8d8" opacity="0.85"/>
<circle cx="682.4" cy="426.8" r="1.25" fill="#e8d8d8" opacity="0.85"/>
<circle cx="701.7" cy="439.3" r="1.25" fill="#e0d0d0" opacity="0.85"/>
</g>
<rect x="168.3" y="126" width="99" height="92.3" fill="none" stroke="#3a3a3a" stroke-width="1.3"/>
<rect x="295.5" y="126" width="99" height="92.3" fill="none" stroke="#3a3a3a" stroke-width="1.3"/>
<rect x="422.7" y="126" width="99" height="92.3" fill="none" stroke="#3a3a3a" stroke-width="1.3"/>
<rect x="549.9" y="126" width="99" height="92.3" fill="none" stroke="#3a3a3a" stroke-width="1.3"/>
<rect x="677.1" y="126" width="99" height="92.3" fill="none" stroke="#3a3a3a" stroke-width="1.3"/>
<rect x="168.3" y="244.3" width="99" height="92.1" fill="none" stroke="#3a3a3a" stroke-width="1.3"/>
<rect x="295.5" y="244.3" width="99" height="92.1" fill="none" stroke="#3a3a3a" stroke-width="1.3"/>
<rect x="422.7" y="244.3" width="99" height="92.1" fill="none" stroke="#3a3a3a" stroke-width="1.3"/>
<rect x="549.9" y="244.3" width="99" height="92.1" fill="none" stroke="#3a3a3a" stroke-width="1.3"/>
<rect x="677.1" y="244.3" width="99" height="92.1" fill="none" stroke="#3a3a3a" stroke-width="1.3"/>
<rect x="168.3" y="351.4" width="99" height="92.2" fill="none" stroke="#3a3a3a" stroke-width="1.3"/>
<rect x="295.5" y="351.4" width="99" height="92.2" fill="none" stroke="#3a3a3a" stroke-width="1.3"/>
<rect x="422.7" y="351.4" width="99" height="92.2" fill="none" stroke="#3a3a3a" stroke-width="1.3"/>
<rect x="549.9" y="351.4" width="99" height="92.2" fill="none" stroke="#3a3a3a" stroke-width="1.3"/>
<rect x="677.1" y="351.4" width="99" height="92.2" fill="none" stroke="#3a3a3a" stroke-width="1.3"/>
<rect x="168.3" y="476.5" width="99" height="38.7" fill="none" stroke="#3a3a3a" stroke-width="1.3"/>
<rect x="295.5" y="476.5" width="99" height="38.7" fill="none" stroke="#3a3a3a" stroke-width="1.3"/>
<rect x="422.7" y="476.5" width="99" height="38.7" fill="none" stroke="#3a3a3a" stroke-width="1.3"/>
<rect x="549.9" y="476.5" width="99" height="38.7" fill="none" stroke="#3a3a3a" stroke-width="1.3"/>
<rect x="677.1" y="476.5" width="99" height="38.7" fill="none" stroke="#3a3a3a" stroke-width="1.3"/>
<rect x="168.3" y="540.3" width="99" height="38.7" fill="none" stroke="#3a3a3a" stroke-width="1.3"/>
<rect x="295.5" y="540.3" width="99" height="38.7" fill="none" stroke="#3a3a3a" stroke-width="1.3"/>
<rect x="422.7" y="540.3" width="99" height="38.7" fill="none" stroke="#3a3a3a" stroke-width="1.3"/>
<rect x="549.9" y="540.3" width="99" height="38.7" fill="none" stroke="#3a3a3a" stroke-width="1.3"/>
<rect x="677.1" y="540.3" width="99" height="38.7" fill="none" stroke="#3a3a3a" stroke-width="1.3"/>
<rect x="781.8" y="126" width="11" height="92.3" fill="url(#cbA)" stroke="#3a3a3a" stroke-width="1.1"/>
<rect x="781.8" y="351.4" width="11" height="92.2" fill="url(#cbC)" stroke="#3a3a3a" stroke-width="1.1"/>
<text x="799" y="137.7" font-size="7.4" fill="#555">0.2</text>
<text x="799" y="175.8" font-size="7.4" fill="#555">0.1</text>
<text x="799" y="217.2" font-size="7.4" fill="#555">0</text>
<text x="798.7" y="354.1" font-size="7.4" fill="#555">0.6</text>
<text x="798.7" y="398.4" font-size="7.4" fill="#555">0</text>
<text x="797.6" y="440.5" font-size="7.4" fill="#555">-0.6</text>
<rect x="180.7" y="492.2" width="12.2" height="23.0" fill="#1866bd" stroke="#0e2e5a" stroke-width="0.9"/>
<path d="M186.8 488.2V496M185.8 488.2h2" stroke="#444" stroke-width="0.9" fill="none"/>
<rect x="196.0" y="492.4" width="12.2" height="22.8" fill="#1866bd" stroke="#0e2e5a" stroke-width="0.9"/>
<path d="M202.1 487.5V496M201.1 487.5h2" stroke="#444" stroke-width="0.9" fill="none"/>
<rect x="211.3" y="493.1" width="12.2" height="22.1" fill="#1866bd" stroke="#0e2e5a" stroke-width="0.9"/>
<path d="M217.4 489V496M216.4 489h2" stroke="#444" stroke-width="0.9" fill="none"/>
<rect x="226.6" y="491.1" width="12.2" height="24.1" fill="#1866bd" stroke="#0e2e5a" stroke-width="0.9"/>
<path d="M232.7 486.2V495M231.7 486.2h2" stroke="#444" stroke-width="0.9" fill="none"/>
<rect x="241.9" y="491.7" width="12.2" height="23.5" fill="#1866bd" stroke="#0e2e5a" stroke-width="0.9"/>
<path d="M248.0 487.2V495.5M247.0 487.2h2" stroke="#444" stroke-width="0.9" fill="none"/>
<rect x="180.7" y="559.4" width="12.2" height="19.6" fill="#fb2a1c" stroke="#8a1a14" stroke-width="0.9"/>
<path d="M186.8 552.2V566M185.8 552.2h2" stroke="#444" stroke-width="0.9" fill="none"/>
<rect x="196.0" y="574.4" width="12.2" height="4.6" fill="#fb2a1c" stroke="#8a1a14" stroke-width="0.9"/>
<path d="M202.1 569.5V577M201.1 569.5h2" stroke="#444" stroke-width="0.9" fill="none"/>
<rect x="211.3" y="573.7" width="12.2" height="5.3" fill="#fb2a1c" stroke="#8a1a14" stroke-width="0.9"/>
<path d="M217.4 566.3V577M216.4 566.3h2" stroke="#444" stroke-width="0.9" fill="none"/>
<rect x="226.6" y="576.2" width="12.2" height="2.8" fill="#fb2a1c" stroke="#8a1a14" stroke-width="0.9"/>
<path d="M232.7 573V578M231.7 573h2" stroke="#444" stroke-width="0.9" fill="none"/>
<rect x="241.9" y="574.4" width="12.2" height="4.6" fill="#fb2a1c" stroke="#8a1a14" stroke-width="0.9"/>
<path d="M248.0 570.5V577M247.0 570.5h2" stroke="#444" stroke-width="0.9" fill="none"/>
<text x="187.8" y="591.2" text-anchor="middle" font-size="11" fill="#333">A</text>
<text x="203.1" y="591.2" text-anchor="middle" font-size="11" fill="#333">B</text>
<text x="218.4" y="591.2" text-anchor="middle" font-size="11" fill="#333">P</text>
<text x="233.7" y="591.2" text-anchor="middle" font-size="11" fill="#333">T</text>
<text x="249.0" y="591.2" text-anchor="middle" font-size="11" fill="#333">V</text>
<path d="M186.8 476.5v1.5M202.1 476.5v1.5M217.4 476.5v1.5M232.7 476.5v1.5M248.0 476.5v1.5M186.8 540.3v1.5M202.1 540.3v1.5M217.4 540.3v1.5M232.7 540.3v1.5M248.0 540.3v1.5" stroke="#666" stroke-width="0.8"/>
<rect x="307.9" y="492.2" width="12.2" height="23.0" fill="#1866bd" stroke="#0e2e5a" stroke-width="0.9"/>
<path d="M314.0 488.2V496M313.0 488.2h2" stroke="#444" stroke-width="0.9" fill="none"/>
<rect x="323.2" y="492.4" width="12.2" height="22.8" fill="#1866bd" stroke="#0e2e5a" stroke-width="0.9"/>
<path d="M329.3 487.5V496M328.3 487.5h2" stroke="#444" stroke-width="0.9" fill="none"/>
<rect x="338.5" y="493.1" width="12.2" height="22.1" fill="#1866bd" stroke="#0e2e5a" stroke-width="0.9"/>
<path d="M344.6 489V496M343.6 489h2" stroke="#444" stroke-width="0.9" fill="none"/>
<rect x="353.8" y="491.1" width="12.2" height="24.1" fill="#1866bd" stroke="#0e2e5a" stroke-width="0.9"/>
<path d="M359.9 486.2V495M358.9 486.2h2" stroke="#444" stroke-width="0.9" fill="none"/>
<rect x="369.1" y="491.7" width="12.2" height="23.5" fill="#1866bd" stroke="#0e2e5a" stroke-width="0.9"/>
<path d="M375.2 487.2V495.5M374.2 487.2h2" stroke="#444" stroke-width="0.9" fill="none"/>
<rect x="307.9" y="572.8" width="12.2" height="6.2" fill="#fb2a1c" stroke="#8a1a14" stroke-width="0.9"/>
<path d="M314.0 568.4V576M313.0 568.4h2" stroke="#444" stroke-width="0.9" fill="none"/>
<rect x="323.2" y="553.6" width="12.2" height="25.4" fill="#fb2a1c" stroke="#8a1a14" stroke-width="0.9"/>
<path d="M329.3 544.3V562M328.3 544.3h2" stroke="#444" stroke-width="0.9" fill="none"/>
<rect x="338.5" y="568.8" width="12.2" height="10.2" fill="#fb2a1c" stroke="#8a1a14" stroke-width="0.9"/>
<path d="M344.6 558.5V574M343.6 558.5h2" stroke="#444" stroke-width="0.9" fill="none"/>
<rect x="353.8" y="571.1" width="12.2" height="7.9" fill="#fb2a1c" stroke="#8a1a14" stroke-width="0.9"/>
<path d="M359.9 565V575M358.9 565h2" stroke="#444" stroke-width="0.9" fill="none"/>
<rect x="369.1" y="570.0" width="12.2" height="9.0" fill="#fb2a1c" stroke="#8a1a14" stroke-width="0.9"/>
<path d="M375.2 563.3V575M374.2 563.3h2" stroke="#444" stroke-width="0.9" fill="none"/>
<text x="315.0" y="591.2" text-anchor="middle" font-size="11" fill="#333">A</text>
<text x="330.3" y="591.2" text-anchor="middle" font-size="11" fill="#333">B</text>
<text x="345.6" y="591.2" text-anchor="middle" font-size="11" fill="#333">P</text>
<text x="360.9" y="591.2" text-anchor="middle" font-size="11" fill="#333">T</text>
<text x="376.2" y="591.2" text-anchor="middle" font-size="11" fill="#333">V</text>
<path d="M314.0 476.5v1.5M329.3 476.5v1.5M344.6 476.5v1.5M359.9 476.5v1.5M375.2 476.5v1.5M314.0 540.3v1.5M329.3 540.3v1.5M344.6 540.3v1.5M359.9 540.3v1.5M375.2 540.3v1.5" stroke="#666" stroke-width="0.8"/>
<rect x="435.1" y="492.2" width="12.2" height="23.0" fill="#1866bd" stroke="#0e2e5a" stroke-width="0.9"/>
<path d="M441.2 488.2V496M440.2 488.2h2" stroke="#444" stroke-width="0.9" fill="none"/>
<rect x="450.4" y="492.4" width="12.2" height="22.8" fill="#1866bd" stroke="#0e2e5a" stroke-width="0.9"/>
<path d="M456.5 487.5V496M455.5 487.5h2" stroke="#444" stroke-width="0.9" fill="none"/>
<rect x="465.7" y="493.1" width="12.2" height="22.1" fill="#1866bd" stroke="#0e2e5a" stroke-width="0.9"/>
<path d="M471.8 489V496M470.8 489h2" stroke="#444" stroke-width="0.9" fill="none"/>
<rect x="481.0" y="491.1" width="12.2" height="24.1" fill="#1866bd" stroke="#0e2e5a" stroke-width="0.9"/>
<path d="M487.1 486.2V495M486.1 486.2h2" stroke="#444" stroke-width="0.9" fill="none"/>
<rect x="496.3" y="491.7" width="12.2" height="23.5" fill="#1866bd" stroke="#0e2e5a" stroke-width="0.9"/>
<path d="M502.4 487.2V495.5M501.4 487.2h2" stroke="#444" stroke-width="0.9" fill="none"/>
<rect x="435.1" y="573.6" width="12.2" height="5.4" fill="#fb2a1c" stroke="#8a1a14" stroke-width="0.9"/>
<path d="M441.2 568.4V577M440.2 568.4h2" stroke="#444" stroke-width="0.9" fill="none"/>
<rect x="450.4" y="572.6" width="12.2" height="6.4" fill="#fb2a1c" stroke="#8a1a14" stroke-width="0.9"/>
<path d="M456.5 566.5V576M455.5 566.5h2" stroke="#444" stroke-width="0.9" fill="none"/>
<rect x="465.7" y="566.9" width="12.2" height="12.1" fill="#fb2a1c" stroke="#8a1a14" stroke-width="0.9"/>
<path d="M471.8 561.8V571M470.8 561.8h2" stroke="#444" stroke-width="0.9" fill="none"/>
<rect x="481.0" y="575.1" width="12.2" height="3.9" fill="#fb2a1c" stroke="#8a1a14" stroke-width="0.9"/>
<path d="M487.1 571.3V577M486.1 571.3h2" stroke="#444" stroke-width="0.9" fill="none"/>
<rect x="496.3" y="574.1" width="12.2" height="4.9" fill="#fb2a1c" stroke="#8a1a14" stroke-width="0.9"/>
<path d="M502.4 569.7V577M501.4 569.7h2" stroke="#444" stroke-width="0.9" fill="none"/>
<text x="442.2" y="591.2" text-anchor="middle" font-size="11" fill="#333">A</text>
<text x="457.5" y="591.2" text-anchor="middle" font-size="11" fill="#333">B</text>
<text x="472.8" y="591.2" text-anchor="middle" font-size="11" fill="#333">P</text>
<text x="488.1" y="591.2" text-anchor="middle" font-size="11" fill="#333">T</text>
<text x="503.4" y="591.2" text-anchor="middle" font-size="11" fill="#333">V</text>
<path d="M441.2 476.5v1.5M456.5 476.5v1.5M471.8 476.5v1.5M487.1 476.5v1.5M502.4 476.5v1.5M441.2 540.3v1.5M456.5 540.3v1.5M471.8 540.3v1.5M487.1 540.3v1.5M502.4 540.3v1.5" stroke="#666" stroke-width="0.8"/>
<rect x="562.3" y="492.2" width="12.2" height="23.0" fill="#1866bd" stroke="#0e2e5a" stroke-width="0.9"/>
<path d="M568.4 488.2V496M567.4 488.2h2" stroke="#444" stroke-width="0.9" fill="none"/>
<rect x="577.6" y="492.4" width="12.2" height="22.8" fill="#1866bd" stroke="#0e2e5a" stroke-width="0.9"/>
<path d="M583.7 487.5V496M582.7 487.5h2" stroke="#444" stroke-width="0.9" fill="none"/>
<rect x="592.9" y="493.1" width="12.2" height="22.1" fill="#1866bd" stroke="#0e2e5a" stroke-width="0.9"/>
<path d="M599.0 489V496M598.0 489h2" stroke="#444" stroke-width="0.9" fill="none"/>
<rect x="608.2" y="491.1" width="12.2" height="24.1" fill="#1866bd" stroke="#0e2e5a" stroke-width="0.9"/>
<path d="M614.3 486.2V495M613.3 486.2h2" stroke="#444" stroke-width="0.9" fill="none"/>
<rect x="623.5" y="491.7" width="12.2" height="23.5" fill="#1866bd" stroke="#0e2e5a" stroke-width="0.9"/>
<path d="M629.6 487.2V495.5M628.6 487.2h2" stroke="#444" stroke-width="0.9" fill="none"/>
<rect x="562.3" y="573.7" width="12.2" height="5.3" fill="#fb2a1c" stroke="#8a1a14" stroke-width="0.9"/>
<path d="M568.4 569V577M567.4 569h2" stroke="#444" stroke-width="0.9" fill="none"/>
<rect x="577.6" y="573.0" width="12.2" height="6.0" fill="#fb2a1c" stroke="#8a1a14" stroke-width="0.9"/>
<path d="M583.7 569V576M582.7 569h2" stroke="#444" stroke-width="0.9" fill="none"/>
<rect x="592.9" y="575.4" width="12.2" height="3.6" fill="#fb2a1c" stroke="#8a1a14" stroke-width="0.9"/>
<path d="M599.0 572.8V577.5M598.0 572.8h2" stroke="#444" stroke-width="0.9" fill="none"/>
<rect x="608.2" y="561.6" width="12.2" height="17.4" fill="#fb2a1c" stroke="#8a1a14" stroke-width="0.9"/>
<path d="M614.3 553V566M613.3 553h2" stroke="#444" stroke-width="0.9" fill="none"/>
<rect x="623.5" y="574.1" width="12.2" height="4.9" fill="#fb2a1c" stroke="#8a1a14" stroke-width="0.9"/>
<path d="M629.6 569.7V577M628.6 569.7h2" stroke="#444" stroke-width="0.9" fill="none"/>
<text x="569.4" y="591.2" text-anchor="middle" font-size="11" fill="#333">A</text>
<text x="584.7" y="591.2" text-anchor="middle" font-size="11" fill="#333">B</text>
<text x="600.0" y="591.2" text-anchor="middle" font-size="11" fill="#333">P</text>
<text x="615.3" y="591.2" text-anchor="middle" font-size="11" fill="#333">T</text>
<text x="630.6" y="591.2" text-anchor="middle" font-size="11" fill="#333">V</text>
<path d="M568.4 476.5v1.5M583.7 476.5v1.5M599.0 476.5v1.5M614.3 476.5v1.5M629.6 476.5v1.5M568.4 540.3v1.5M583.7 540.3v1.5M599.0 540.3v1.5M614.3 540.3v1.5M629.6 540.3v1.5" stroke="#666" stroke-width="0.8"/>
<rect x="689.5" y="492.2" width="12.2" height="23.0" fill="#1866bd" stroke="#0e2e5a" stroke-width="0.9"/>
<path d="M695.6 488.2V496M694.6 488.2h2" stroke="#444" stroke-width="0.9" fill="none"/>
<rect x="704.8" y="492.4" width="12.2" height="22.8" fill="#1866bd" stroke="#0e2e5a" stroke-width="0.9"/>
<path d="M710.9 487.5V496M709.9 487.5h2" stroke="#444" stroke-width="0.9" fill="none"/>
<rect x="720.1" y="493.1" width="12.2" height="22.1" fill="#1866bd" stroke="#0e2e5a" stroke-width="0.9"/>
<path d="M726.2 489V496M725.2 489h2" stroke="#444" stroke-width="0.9" fill="none"/>
<rect x="735.4" y="491.1" width="12.2" height="24.1" fill="#1866bd" stroke="#0e2e5a" stroke-width="0.9"/>
<path d="M741.5 486.2V495M740.5 486.2h2" stroke="#444" stroke-width="0.9" fill="none"/>
<rect x="750.7" y="491.7" width="12.2" height="23.5" fill="#1866bd" stroke="#0e2e5a" stroke-width="0.9"/>
<path d="M756.8 487.2V495.5M755.8 487.2h2" stroke="#444" stroke-width="0.9" fill="none"/>
<rect x="689.5" y="573.4" width="12.2" height="5.6" fill="#fb2a1c" stroke="#8a1a14" stroke-width="0.9"/>
<path d="M695.6 569.6V577M694.6 569.6h2" stroke="#444" stroke-width="0.9" fill="none"/>
<rect x="704.8" y="570.8" width="12.2" height="8.2" fill="#fb2a1c" stroke="#8a1a14" stroke-width="0.9"/>
<path d="M710.9 562.4V575M709.9 562.4h2" stroke="#444" stroke-width="0.9" fill="none"/>
<rect x="720.1" y="571.0" width="12.2" height="8.0" fill="#fb2a1c" stroke="#8a1a14" stroke-width="0.9"/>
<path d="M726.2 563.6V575M725.2 563.6h2" stroke="#444" stroke-width="0.9" fill="none"/>
<rect x="735.4" y="569.4" width="12.2" height="9.6" fill="#fb2a1c" stroke="#8a1a14" stroke-width="0.9"/>
<path d="M741.5 563V574M740.5 563h2" stroke="#444" stroke-width="0.9" fill="none"/>
<rect x="750.7" y="552.4" width="12.2" height="26.6" fill="#fb2a1c" stroke="#8a1a14" stroke-width="0.9"/>
<path d="M756.8 544.6V560M755.8 544.6h2" stroke="#444" stroke-width="0.9" fill="none"/>
<text x="696.6" y="591.2" text-anchor="middle" font-size="11" fill="#333">A</text>
<text x="711.9" y="591.2" text-anchor="middle" font-size="11" fill="#333">B</text>
<text x="727.2" y="591.2" text-anchor="middle" font-size="11" fill="#333">P</text>
<text x="742.5" y="591.2" text-anchor="middle" font-size="11" fill="#333">T</text>
<text x="757.8" y="591.2" text-anchor="middle" font-size="11" fill="#333">V</text>
<path d="M695.6 476.5v1.5M710.9 476.5v1.5M726.2 476.5v1.5M741.5 476.5v1.5M756.8 476.5v1.5M695.6 540.3v1.5M710.9 540.3v1.5M726.2 540.3v1.5M741.5 540.3v1.5M756.8 540.3v1.5" stroke="#666" stroke-width="0.8"/>
<text x="166.6" y="481.1" text-anchor="end" font-size="7.6" fill="#444">200</text>
<text x="166.6" y="499.0" text-anchor="end" font-size="7.6" fill="#444">100</text>
<text x="166.6" y="517.5" text-anchor="end" font-size="7.6" fill="#444">0</text>
<text x="166.6" y="551.3" text-anchor="end" font-size="7.6" fill="#444">20</text>
<text x="166.6" y="566.0" text-anchor="end" font-size="7.6" fill="#444">10</text>
<text x="166.6" y="581.7" text-anchor="end" font-size="7.6" fill="#444">0</text>
<text x="803.2" y="492" text-anchor="middle" font-size="12.2" fill="#222">Without</text>
<text x="804.7" y="507" text-anchor="middle" font-size="12.2" fill="#222">SCFM</text>
<text x="803" y="557" text-anchor="middle" font-size="12.2" fill="#222">With</text>
<text x="804.7" y="571.3" text-anchor="middle" font-size="12.2" fill="#222">SCFM</text>
<g font-size="18.42" fill="#2a2a2a">
<circle cx="167.3" cy="634.8" r="2.3" fill="#111"/>
<circle cx="167.2" cy="657.2" r="2.3" fill="#111"/>
<text x="193.8" y="641.2">Input: CA3 and CA1 spike trains during Sample Response</text>
<text x="193.8" y="663.2">Output: 5 memory categories</text>
</g>
</svg></body></html>
